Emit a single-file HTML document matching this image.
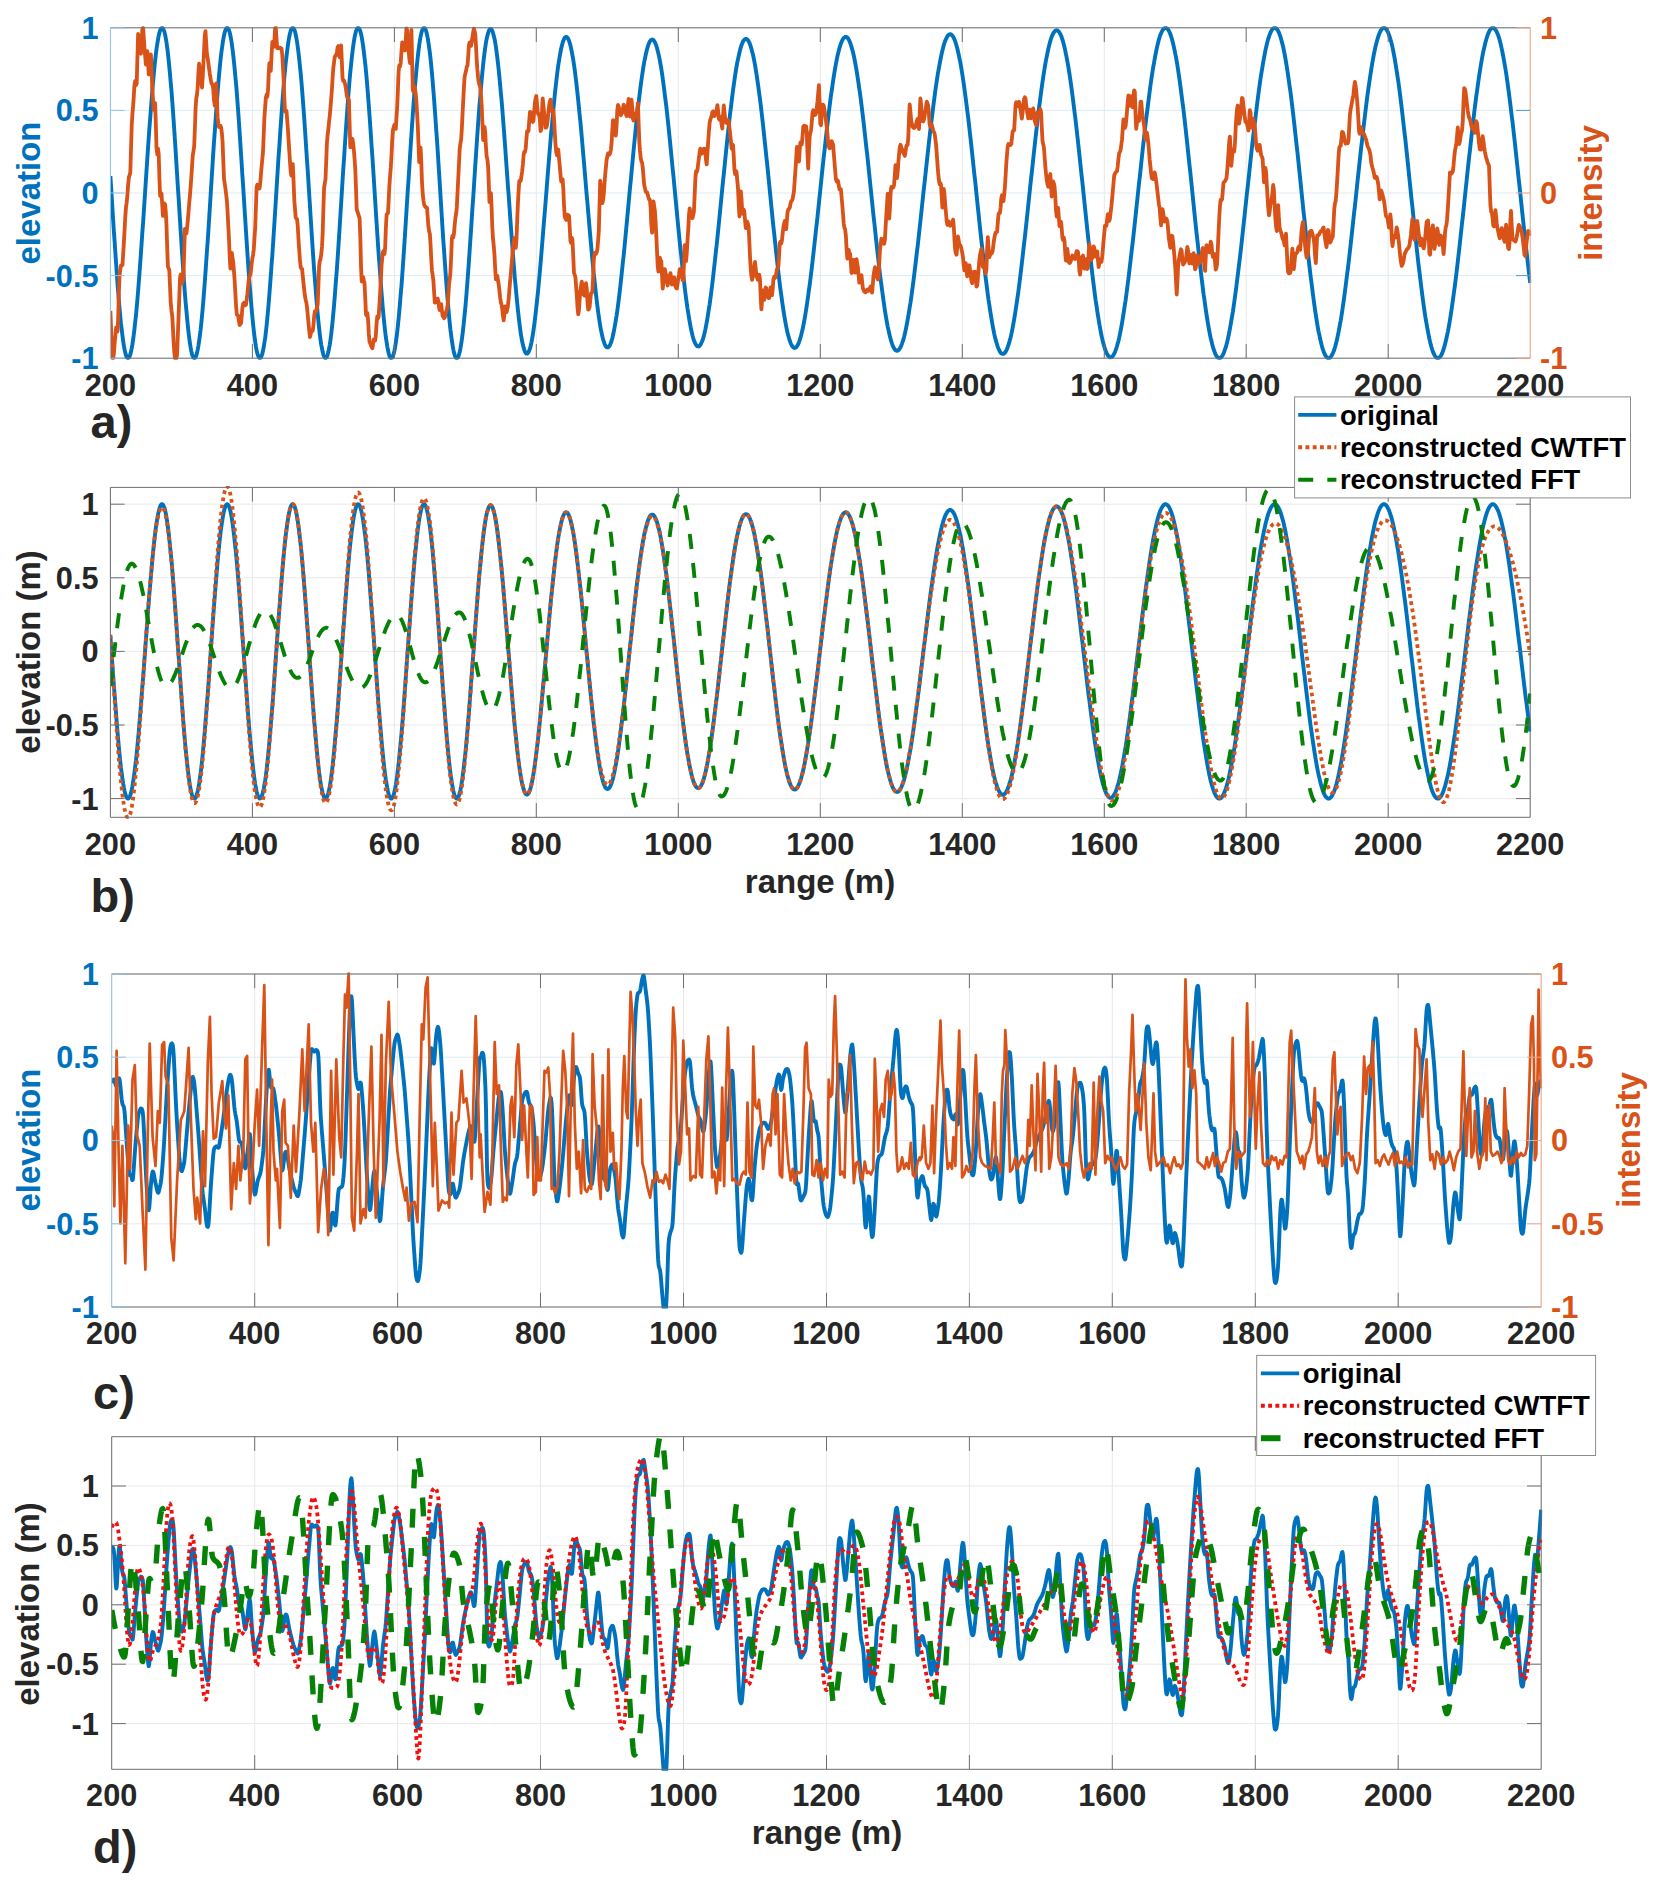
<!DOCTYPE html>
<html><head><meta charset="utf-8"><title>figure</title>
<style>html,body{margin:0;padding:0;background:#fff}svg{display:block}</style></head>
<body>
<svg width="1667" height="1882" viewBox="0 0 1667 1882">
<rect width="1667" height="1882" fill="#fff"/>
<defs>
<clipPath id="cla"><rect x="110.4" y="26.3" width="1420.8" height="333.4"/></clipPath>
<clipPath id="clb"><rect x="110.4" y="485.9" width="1420.8" height="332.9"/></clipPath>
<clipPath id="clc"><rect x="111.7" y="972.5" width="1430.5" height="336.0"/></clipPath>
<clipPath id="cld"><rect x="111.7" y="1435.2" width="1430.5" height="335.5999999999999"/></clipPath>
</defs>
<line x1="110.4" y1="27.8" x2="110.4" y2="358.2" stroke="#e8e8e8" stroke-width="1"/>
<line x1="252.4" y1="27.8" x2="252.4" y2="358.2" stroke="#e8e8e8" stroke-width="1"/>
<line x1="394.4" y1="27.8" x2="394.4" y2="358.2" stroke="#e8e8e8" stroke-width="1"/>
<line x1="536.3" y1="27.8" x2="536.3" y2="358.2" stroke="#e8e8e8" stroke-width="1"/>
<line x1="678.3" y1="27.8" x2="678.3" y2="358.2" stroke="#e8e8e8" stroke-width="1"/>
<line x1="820.3" y1="27.8" x2="820.3" y2="358.2" stroke="#e8e8e8" stroke-width="1"/>
<line x1="962.3" y1="27.8" x2="962.3" y2="358.2" stroke="#e8e8e8" stroke-width="1"/>
<line x1="1104.3" y1="27.8" x2="1104.3" y2="358.2" stroke="#e8e8e8" stroke-width="1"/>
<line x1="1246.2" y1="27.8" x2="1246.2" y2="358.2" stroke="#e8e8e8" stroke-width="1"/>
<line x1="1388.2" y1="27.8" x2="1388.2" y2="358.2" stroke="#e8e8e8" stroke-width="1"/>
<line x1="1530.2" y1="27.8" x2="1530.2" y2="358.2" stroke="#e8e8e8" stroke-width="1"/>
<line x1="110.4" y1="358.2" x2="1530.2" y2="358.2" stroke="#dcecf5" stroke-width="1"/>
<line x1="110.4" y1="275.6" x2="1530.2" y2="275.6" stroke="#dcecf5" stroke-width="1"/>
<line x1="110.4" y1="193.0" x2="1530.2" y2="193.0" stroke="#dcecf5" stroke-width="1"/>
<line x1="110.4" y1="110.4" x2="1530.2" y2="110.4" stroke="#dcecf5" stroke-width="1"/>
<line x1="110.4" y1="27.8" x2="1530.2" y2="27.8" stroke="#dcecf5" stroke-width="1"/>
<path d="M110.4 176.0 L111.1 187.2 L111.8 198.5 L112.5 209.7 L113.2 220.8 L113.9 231.8 L114.7 242.6 L115.4 253.2 L116.1 263.4 L116.8 273.4 L117.5 283.0 L118.2 292.1 L118.9 300.8 L119.6 309.0 L120.3 316.7 L121.0 323.8 L121.8 330.3 L122.5 336.1 L123.2 341.3 L123.9 345.9 L124.6 349.7 L125.3 352.9 L126.0 355.3 L126.7 357.0 L127.4 358.0 L128.1 358.2 L128.9 357.7 L129.6 356.4 L130.3 354.5 L131.0 351.8 L131.7 348.4 L132.4 344.4 L133.1 339.8 L133.8 334.5 L134.5 328.6 L135.2 322.1 L136.0 315.1 L136.7 307.5 L137.4 299.5 L138.1 291.1 L138.8 282.2 L139.5 273.0 L140.2 263.4 L140.9 253.6 L141.6 243.5 L142.3 233.2 L143.1 222.7 L143.8 212.1 L144.5 201.4 L145.2 190.7 L145.9 180.0 L146.6 169.4 L147.3 158.8 L148.0 148.4 L148.7 138.1 L149.4 128.1 L150.2 118.4 L150.9 108.9 L151.6 99.9 L152.3 91.1 L153.0 82.9 L153.7 75.0 L154.4 67.7 L155.1 60.9 L155.8 54.7 L156.5 49.0 L157.3 44.0 L158.0 39.6 L158.7 35.9 L159.4 32.8 L160.1 30.5 L160.8 28.9 L161.5 28.0 L162.2 27.8 L162.9 28.4 L163.6 29.8 L164.4 31.9 L165.1 34.7 L165.8 38.3 L166.5 42.6 L167.2 47.6 L167.9 53.3 L168.6 59.7 L169.3 66.7 L170.0 74.3 L170.7 82.4 L171.5 91.1 L172.2 100.3 L172.9 110.0 L173.6 120.0 L174.3 130.5 L175.0 141.2 L175.7 152.2 L176.4 163.3 L177.1 174.7 L177.8 186.1 L178.6 197.6 L179.3 209.0 L180.0 220.4 L180.7 231.6 L181.4 242.7 L182.1 253.5 L182.8 264.0 L183.5 274.2 L184.2 284.0 L184.9 293.4 L185.6 302.2 L186.4 310.5 L187.1 318.3 L187.8 325.4 L188.5 332.0 L189.2 337.8 L189.9 342.9 L190.6 347.4 L191.3 351.1 L192.0 354.0 L192.7 356.1 L193.5 357.5 L194.2 358.2 L194.9 358.0 L195.6 357.1 L196.3 355.4 L197.0 352.9 L197.7 349.7 L198.4 345.8 L199.1 341.2 L199.8 335.9 L200.6 329.9 L201.3 323.3 L202.0 316.1 L202.7 308.3 L203.4 300.0 L204.1 291.2 L204.8 281.9 L205.5 272.3 L206.2 262.2 L206.9 251.9 L207.7 241.3 L208.4 230.4 L209.1 219.4 L209.8 208.3 L210.5 197.1 L211.2 185.9 L211.9 174.7 L212.6 163.7 L213.3 152.7 L214.0 141.9 L214.8 131.4 L215.5 121.1 L216.2 111.2 L216.9 101.7 L217.6 92.6 L218.3 83.9 L219.0 75.7 L219.7 68.1 L220.4 61.1 L221.1 54.6 L221.9 48.8 L222.6 43.7 L223.3 39.2 L224.0 35.5 L224.7 32.5 L225.4 30.2 L226.1 28.7 L226.8 27.9 L227.5 27.9 L228.2 28.7 L229.0 30.2 L229.7 32.5 L230.4 35.5 L231.1 39.3 L231.8 43.7 L232.5 48.9 L233.2 54.7 L233.9 61.2 L234.6 68.3 L235.3 75.9 L236.1 84.2 L236.8 92.9 L237.5 102.1 L238.2 111.7 L238.9 121.7 L239.6 132.0 L240.3 142.6 L241.0 153.4 L241.7 164.4 L242.4 175.6 L243.2 186.8 L243.9 198.1 L244.6 209.3 L245.3 220.5 L246.0 231.5 L246.7 242.4 L247.4 253.0 L248.1 263.3 L248.8 273.4 L249.5 283.0 L250.3 292.2 L251.0 301.0 L251.7 309.3 L252.4 317.0 L253.1 324.1 L253.8 330.7 L254.5 336.6 L255.2 341.8 L255.9 346.3 L256.6 350.2 L257.3 353.3 L258.1 355.6 L258.8 357.2 L259.5 358.1 L260.2 358.1 L260.9 357.5 L261.6 356.0 L262.3 353.8 L263.0 350.8 L263.7 347.2 L264.4 342.8 L265.2 337.7 L265.9 331.9 L266.6 325.5 L267.3 318.5 L268.0 310.9 L268.7 302.8 L269.4 294.2 L270.1 285.1 L270.8 275.5 L271.5 265.6 L272.3 255.4 L273.0 244.8 L273.7 234.1 L274.4 223.1 L275.1 212.0 L275.8 200.8 L276.5 189.6 L277.2 178.3 L277.9 167.2 L278.6 156.2 L279.4 145.3 L280.1 134.7 L280.8 124.3 L281.5 114.3 L282.2 104.6 L282.9 95.3 L283.6 86.5 L284.3 78.2 L285.0 70.4 L285.7 63.1 L286.5 56.5 L287.2 50.5 L287.9 45.1 L288.6 40.5 L289.3 36.5 L290.0 33.3 L290.7 30.8 L291.4 29.0 L292.1 28.0 L292.8 27.8 L293.6 28.3 L294.3 29.6 L295.0 31.7 L295.7 34.5 L296.4 38.0 L297.1 42.3 L297.8 47.2 L298.5 52.8 L299.2 59.1 L299.9 65.9 L300.7 73.4 L301.4 81.4 L302.1 89.9 L302.8 99.0 L303.5 108.4 L304.2 118.2 L304.9 128.4 L305.6 138.9 L306.3 149.6 L307.0 160.5 L307.8 171.6 L308.5 182.8 L309.2 194.0 L309.9 205.2 L310.6 216.4 L311.3 227.4 L312.0 238.3 L312.7 249.0 L313.4 259.4 L314.1 269.5 L314.9 279.3 L315.6 288.7 L316.3 297.6 L317.0 306.1 L317.7 314.0 L318.4 321.4 L319.1 328.1 L319.8 334.3 L320.5 339.8 L321.2 344.6 L322.0 348.7 L322.7 352.1 L323.4 354.8 L324.1 356.7 L324.8 357.8 L325.5 358.2 L326.2 357.8 L326.9 356.7 L327.6 354.8 L328.3 352.1 L329.0 348.7 L329.8 344.5 L330.5 339.7 L331.2 334.2 L331.9 328.0 L332.6 321.2 L333.3 313.7 L334.0 305.8 L334.7 297.2 L335.4 288.2 L336.1 278.8 L336.9 268.9 L337.6 258.7 L338.3 248.2 L339.0 237.4 L339.7 226.4 L340.4 215.3 L341.1 204.0 L341.8 192.7 L342.5 181.4 L343.2 170.2 L344.0 159.1 L344.7 148.1 L345.4 137.3 L346.1 126.8 L346.8 116.6 L347.5 106.8 L348.2 97.4 L348.9 88.4 L349.6 79.9 L350.3 72.0 L351.1 64.6 L351.8 57.8 L352.5 51.7 L353.2 46.2 L353.9 41.4 L354.6 37.2 L355.3 33.9 L356.0 31.2 L356.7 29.3 L357.4 28.2 L358.2 27.8 L358.9 28.2 L359.6 29.3 L360.3 31.2 L361.0 33.8 L361.7 37.2 L362.4 41.2 L363.1 46.0 L363.8 51.4 L364.5 57.5 L365.3 64.2 L366.0 71.4 L366.7 79.2 L367.4 87.6 L368.1 96.4 L368.8 105.6 L369.5 115.2 L370.2 125.2 L370.9 135.5 L371.6 146.0 L372.4 156.8 L373.1 167.7 L373.8 178.7 L374.5 189.8 L375.2 200.9 L375.9 212.0 L376.6 223.0 L377.3 233.8 L378.0 244.5 L378.7 254.9 L379.5 265.1 L380.2 274.9 L380.9 284.3 L381.6 293.4 L382.3 302.0 L383.0 310.1 L383.7 317.7 L384.4 324.7 L385.1 331.1 L385.8 336.9 L386.6 342.0 L387.3 346.5 L388.0 350.3 L388.7 353.3 L389.4 355.7 L390.1 357.2 L390.8 358.1 L391.5 358.1 L392.2 357.5 L392.9 356.0 L393.7 353.8 L394.4 350.9 L395.1 347.3 L395.8 342.9 L396.5 337.8 L397.2 332.1 L397.9 325.8 L398.6 318.8 L399.3 311.2 L400.0 303.1 L400.7 294.5 L401.5 285.4 L402.2 275.9 L402.9 266.0 L403.6 255.8 L404.3 245.3 L405.0 234.5 L405.7 223.5 L406.4 212.4 L407.1 201.2 L407.8 190.0 L408.6 178.8 L409.3 167.6 L410.0 156.5 L410.7 145.7 L411.4 135.0 L412.1 124.6 L412.8 114.5 L413.5 104.8 L414.2 95.5 L414.9 86.7 L415.7 78.3 L416.4 70.5 L417.1 63.2 L417.8 56.6 L418.5 50.6 L419.2 45.2 L419.9 40.5 L420.6 36.5 L421.3 33.3 L422.0 30.8 L422.8 29.0 L423.5 28.0 L424.2 27.8 L424.9 28.4 L425.6 29.7 L426.3 31.7 L427.0 34.5 L427.7 38.1 L428.4 42.4 L429.1 47.3 L429.9 53.0 L430.6 59.3 L431.3 66.3 L432.0 73.8 L432.7 82.0 L433.4 90.6 L434.1 99.7 L434.8 109.3 L435.5 119.2 L436.2 129.5 L437.0 140.1 L437.7 150.9 L438.4 162.0 L439.1 173.2 L439.8 184.4 L440.5 195.7 L441.2 207.0 L441.9 218.2 L442.6 229.3 L443.3 240.3 L444.1 250.9 L444.8 261.4 L445.5 271.5 L446.2 281.2 L446.9 290.5 L447.6 299.3 L448.3 307.7 L449.0 315.5 L449.7 322.7 L450.4 329.4 L451.2 335.4 L451.9 340.7 L452.6 345.4 L453.3 349.3 L454.0 352.6 L454.7 355.1 L455.4 356.9 L456.1 357.9 L456.8 358.2 L457.5 357.8 L458.3 356.6 L459.0 354.7 L459.7 352.0 L460.4 348.7 L461.1 344.6 L461.8 339.9 L462.5 334.5 L463.2 328.5 L463.9 321.9 L464.6 314.7 L465.4 306.9 L466.1 298.7 L466.8 290.0 L467.5 280.9 L468.2 271.3 L468.9 261.5 L469.6 251.3 L470.3 240.9 L471.0 230.3 L471.7 219.6 L472.4 208.7 L473.2 197.8 L473.9 186.9 L474.6 176.0 L475.3 165.2 L476.0 154.6 L476.7 144.1 L477.4 133.9 L478.1 123.9 L478.8 114.3 L479.5 105.0 L480.3 96.1 L481.0 87.6 L481.7 79.6 L482.4 72.1 L483.1 65.1 L483.8 58.7 L484.5 52.9 L485.2 47.7 L485.9 43.0 L486.6 39.1 L487.4 35.7 L488.1 33.1 L488.8 31.0 L489.5 29.7 L490.2 29.0 L490.9 29.0 L491.6 29.6 L492.3 30.9 L493.0 32.9 L493.7 35.5 L494.5 38.7 L495.2 42.5 L495.9 46.9 L496.6 51.9 L497.3 57.4 L498.0 63.5 L498.7 70.0 L499.4 77.1 L500.1 84.5 L500.8 92.4 L501.6 100.6 L502.3 109.2 L503.0 118.1 L503.7 127.2 L504.4 136.6 L505.1 146.2 L505.8 155.9 L506.5 165.8 L507.2 175.7 L507.9 185.7 L508.7 195.7 L509.4 205.7 L510.1 215.6 L510.8 225.4 L511.5 235.0 L512.2 244.5 L512.9 253.7 L513.6 262.7 L514.3 271.5 L515.0 279.9 L515.8 288.0 L516.5 295.7 L517.2 303.0 L517.9 309.9 L518.6 316.3 L519.3 322.3 L520.0 327.8 L520.7 332.9 L521.4 337.3 L522.1 341.3 L522.9 344.7 L523.6 347.6 L524.3 349.9 L525.0 351.7 L525.7 352.9 L526.4 353.6 L527.1 353.6 L527.8 353.1 L528.5 352.1 L529.2 350.5 L530.0 348.4 L530.7 345.7 L531.4 342.6 L532.1 338.9 L532.8 334.8 L533.5 330.1 L534.2 325.1 L534.9 319.6 L535.6 313.7 L536.3 307.4 L537.0 300.7 L537.8 293.7 L538.5 286.4 L539.2 278.8 L539.9 271.0 L540.6 262.9 L541.3 254.6 L542.0 246.1 L542.7 237.5 L543.4 228.7 L544.1 219.9 L544.9 210.9 L545.6 202.0 L546.3 193.0 L547.0 184.1 L547.7 175.2 L548.4 166.4 L549.1 157.7 L549.8 149.1 L550.5 140.7 L551.2 132.4 L552.0 124.4 L552.7 116.6 L553.4 109.1 L554.1 101.8 L554.8 94.8 L555.5 88.2 L556.2 81.9 L556.9 75.9 L557.6 70.3 L558.3 65.1 L559.1 60.3 L559.8 56.0 L560.5 52.0 L561.2 48.5 L561.9 45.5 L562.6 42.9 L563.3 40.7 L564.0 39.1 L564.7 37.9 L565.4 37.1 L566.2 36.9 L566.9 37.1 L567.6 37.8 L568.3 39.0 L569.0 40.7 L569.7 42.8 L570.4 45.3 L571.1 48.4 L571.8 51.8 L572.5 55.7 L573.3 60.0 L574.0 64.7 L574.7 69.7 L575.4 75.2 L576.1 80.9 L576.8 87.1 L577.5 93.5 L578.2 100.2 L578.9 107.2 L579.6 114.4 L580.4 121.9 L581.1 129.5 L581.8 137.4 L582.5 145.4 L583.2 153.5 L583.9 161.7 L584.6 170.0 L585.3 178.4 L586.0 186.8 L586.7 195.2 L587.5 203.6 L588.2 212.0 L588.9 220.2 L589.6 228.4 L590.3 236.5 L591.0 244.4 L591.7 252.2 L592.4 259.8 L593.1 267.2 L593.8 274.3 L594.6 281.2 L595.3 287.9 L596.0 294.3 L596.7 300.3 L597.4 306.1 L598.1 311.5 L598.8 316.6 L599.5 321.3 L600.2 325.7 L600.9 329.7 L601.7 333.3 L602.4 336.5 L603.1 339.3 L603.8 341.7 L604.5 343.7 L605.2 345.2 L605.9 346.4 L606.6 347.1 L607.3 347.4 L608.0 347.3 L608.7 346.8 L609.5 345.9 L610.2 344.6 L610.9 342.8 L611.6 340.7 L612.3 338.2 L613.0 335.3 L613.7 332.0 L614.4 328.4 L615.1 324.5 L615.8 320.2 L616.6 315.6 L617.3 310.7 L618.0 305.5 L618.7 300.0 L619.4 294.2 L620.1 288.2 L620.8 282.0 L621.5 275.5 L622.2 268.9 L622.9 262.1 L623.7 255.1 L624.4 247.9 L625.1 240.7 L625.8 233.3 L626.5 225.8 L627.2 218.3 L627.9 210.7 L628.6 203.1 L629.3 195.5 L630.0 187.8 L630.8 180.2 L631.5 172.6 L632.2 165.1 L632.9 157.7 L633.6 150.3 L634.3 143.1 L635.0 136.0 L635.7 129.0 L636.4 122.2 L637.1 115.6 L637.9 109.1 L638.6 102.9 L639.3 96.9 L640.0 91.1 L640.7 85.6 L641.4 80.4 L642.1 75.4 L642.8 70.7 L643.5 66.3 L644.2 62.2 L645.0 58.4 L645.7 54.9 L646.4 51.8 L647.1 49.0 L647.8 46.6 L648.5 44.5 L649.2 42.8 L649.9 41.4 L650.6 40.4 L651.3 39.8 L652.1 39.5 L652.8 39.6 L653.5 40.1 L654.2 41.0 L654.9 42.2 L655.6 43.8 L656.3 45.7 L657.0 48.0 L657.7 50.7 L658.4 53.6 L659.2 57.0 L659.9 60.6 L660.6 64.6 L661.3 68.8 L662.0 73.4 L662.7 78.2 L663.4 83.4 L664.1 88.7 L664.8 94.4 L665.5 100.2 L666.3 106.3 L667.0 112.6 L667.7 119.1 L668.4 125.7 L669.1 132.5 L669.8 139.4 L670.5 146.5 L671.2 153.7 L671.9 160.9 L672.6 168.3 L673.4 175.7 L674.1 183.1 L674.8 190.5 L675.5 198.0 L676.2 205.4 L676.9 212.8 L677.6 220.1 L678.3 227.4 L679.0 234.6 L679.7 241.7 L680.4 248.7 L681.2 255.5 L681.9 262.2 L682.6 268.7 L683.3 275.1 L684.0 281.3 L684.7 287.2 L685.4 292.9 L686.1 298.4 L686.8 303.6 L687.5 308.6 L688.3 313.3 L689.0 317.8 L689.7 321.9 L690.4 325.8 L691.1 329.3 L691.8 332.5 L692.5 335.4 L693.2 338.0 L693.9 340.2 L694.6 342.1 L695.4 343.7 L696.1 344.9 L696.8 345.8 L697.5 346.3 L698.2 346.5 L698.9 346.3 L699.6 345.8 L700.3 344.9 L701.0 343.7 L701.7 342.2 L702.5 340.3 L703.2 338.1 L703.9 335.6 L704.6 332.7 L705.3 329.6 L706.0 326.1 L706.7 322.3 L707.4 318.3 L708.1 314.0 L708.8 309.4 L709.6 304.6 L710.3 299.5 L711.0 294.2 L711.7 288.6 L712.4 282.9 L713.1 277.0 L713.8 270.8 L714.5 264.5 L715.2 258.1 L715.9 251.5 L716.7 244.8 L717.4 238.0 L718.1 231.1 L718.8 224.1 L719.5 217.0 L720.2 209.9 L720.9 202.7 L721.6 195.6 L722.3 188.4 L723.0 181.2 L723.8 174.1 L724.5 167.0 L725.2 160.0 L725.9 153.0 L726.6 146.2 L727.3 139.4 L728.0 132.7 L728.7 126.2 L729.4 119.9 L730.1 113.6 L730.9 107.6 L731.6 101.7 L732.3 96.1 L733.0 90.6 L733.7 85.4 L734.4 80.4 L735.1 75.6 L735.8 71.1 L736.5 66.9 L737.2 62.9 L738.0 59.2 L738.7 55.8 L739.4 52.7 L740.1 49.9 L740.8 47.4 L741.5 45.2 L742.2 43.4 L742.9 41.8 L743.6 40.6 L744.3 39.7 L745.1 39.1 L745.8 38.9 L746.5 39.0 L747.2 39.4 L747.9 40.1 L748.6 41.2 L749.3 42.6 L750.0 44.3 L750.7 46.4 L751.4 48.7 L752.1 51.4 L752.9 54.3 L753.6 57.6 L754.3 61.2 L755.0 65.0 L755.7 69.1 L756.4 73.5 L757.1 78.1 L757.8 83.0 L758.5 88.1 L759.2 93.4 L760.0 99.0 L760.7 104.7 L761.4 110.7 L762.1 116.8 L762.8 123.0 L763.5 129.5 L764.2 136.0 L764.9 142.7 L765.6 149.4 L766.3 156.3 L767.1 163.3 L767.8 170.3 L768.5 177.3 L769.2 184.4 L769.9 191.5 L770.6 198.6 L771.3 205.7 L772.0 212.7 L772.7 219.7 L773.4 226.7 L774.2 233.6 L774.9 240.4 L775.6 247.0 L776.3 253.6 L777.0 260.1 L777.7 266.4 L778.4 272.5 L779.1 278.5 L779.8 284.3 L780.5 289.9 L781.3 295.3 L782.0 300.4 L782.7 305.4 L783.4 310.1 L784.1 314.6 L784.8 318.8 L785.5 322.8 L786.2 326.5 L786.9 329.9 L787.6 333.0 L788.4 335.9 L789.1 338.4 L789.8 340.7 L790.5 342.7 L791.2 344.3 L791.9 345.7 L792.6 346.7 L793.3 347.4 L794.0 347.8 L794.7 348.0 L795.5 347.7 L796.2 347.2 L796.9 346.4 L797.6 345.3 L798.3 343.9 L799.0 342.2 L799.7 340.1 L800.4 337.9 L801.1 335.3 L801.8 332.4 L802.6 329.3 L803.3 325.9 L804.0 322.2 L804.7 318.4 L805.4 314.2 L806.1 309.8 L806.8 305.3 L807.5 300.5 L808.2 295.4 L808.9 290.2 L809.7 284.9 L810.4 279.3 L811.1 273.6 L811.8 267.7 L812.5 261.7 L813.2 255.5 L813.9 249.3 L814.6 242.9 L815.3 236.5 L816.0 229.9 L816.8 223.3 L817.5 216.6 L818.2 209.9 L818.9 203.2 L819.6 196.5 L820.3 189.7 L821.0 182.9 L821.7 176.2 L822.4 169.5 L823.1 162.9 L823.8 156.3 L824.6 149.7 L825.3 143.3 L826.0 136.9 L826.7 130.7 L827.4 124.6 L828.1 118.6 L828.8 112.7 L829.5 107.0 L830.2 101.4 L830.9 96.0 L831.7 90.8 L832.4 85.8 L833.1 81.0 L833.8 76.4 L834.5 72.0 L835.2 67.9 L835.9 64.0 L836.6 60.3 L837.3 56.8 L838.0 53.7 L838.8 50.7 L839.5 48.1 L840.2 45.7 L840.9 43.6 L841.6 41.8 L842.3 40.2 L843.0 39.0 L843.7 38.0 L844.4 37.4 L845.1 37.0 L845.9 36.9 L846.6 37.1 L847.3 37.6 L848.0 38.4 L848.7 39.5 L849.4 40.9 L850.1 42.6 L850.8 44.6 L851.5 46.9 L852.2 49.4 L853.0 52.2 L853.7 55.3 L854.4 58.6 L855.1 62.2 L855.8 66.1 L856.5 70.2 L857.2 74.5 L857.9 79.1 L858.6 83.8 L859.3 88.8 L860.1 94.0 L860.8 99.4 L861.5 105.0 L862.2 110.7 L862.9 116.6 L863.6 122.6 L864.3 128.8 L865.0 135.1 L865.7 141.5 L866.4 148.0 L867.2 154.6 L867.9 161.2 L868.6 168.0 L869.3 174.7 L870.0 181.6 L870.7 188.4 L871.4 195.2 L872.1 202.1 L872.8 208.9 L873.5 215.7 L874.3 222.4 L875.0 229.1 L875.7 235.8 L876.4 242.3 L877.1 248.8 L877.8 255.1 L878.5 261.3 L879.2 267.4 L879.9 273.4 L880.6 279.2 L881.4 284.8 L882.1 290.3 L882.8 295.6 L883.5 300.6 L884.2 305.5 L884.9 310.2 L885.6 314.7 L886.3 318.9 L887.0 322.9 L887.7 326.6 L888.5 330.1 L889.2 333.3 L889.9 336.3 L890.6 339.0 L891.3 341.4 L892.0 343.6 L892.7 345.5 L893.4 347.1 L894.1 348.4 L894.8 349.4 L895.5 350.2 L896.3 350.6 L897.0 350.8 L897.7 350.6 L898.4 350.2 L899.1 349.5 L899.8 348.5 L900.5 347.3 L901.2 345.7 L901.9 343.9 L902.6 341.8 L903.4 339.5 L904.1 336.9 L904.8 334.0 L905.5 330.9 L906.2 327.5 L906.9 323.9 L907.6 320.1 L908.3 316.0 L909.0 311.7 L909.7 307.2 L910.5 302.5 L911.2 297.7 L911.9 292.6 L912.6 287.4 L913.3 282.0 L914.0 276.4 L914.7 270.7 L915.4 264.9 L916.1 258.9 L916.8 252.8 L917.6 246.7 L918.3 240.4 L919.0 234.0 L919.7 227.6 L920.4 221.1 L921.1 214.6 L921.8 208.0 L922.5 201.4 L923.2 194.8 L923.9 188.2 L924.7 181.6 L925.4 175.0 L926.1 168.5 L926.8 162.0 L927.5 155.5 L928.2 149.1 L928.9 142.8 L929.6 136.6 L930.3 130.5 L931.0 124.4 L931.8 118.5 L932.5 112.8 L933.2 107.1 L933.9 101.6 L934.6 96.3 L935.3 91.1 L936.0 86.1 L936.7 81.3 L937.4 76.7 L938.1 72.3 L938.9 68.1 L939.6 64.1 L940.3 60.4 L941.0 56.8 L941.7 53.5 L942.4 50.5 L943.1 47.7 L943.8 45.1 L944.5 42.8 L945.2 40.8 L946.0 39.1 L946.7 37.6 L947.4 36.3 L948.1 35.4 L948.8 34.7 L949.5 34.4 L950.2 34.2 L950.9 34.4 L951.6 34.9 L952.3 35.6 L953.1 36.7 L953.8 38.0 L954.5 39.5 L955.2 41.4 L955.9 43.5 L956.6 45.9 L957.3 48.6 L958.0 51.5 L958.7 54.7 L959.4 58.1 L960.2 61.8 L960.9 65.7 L961.6 69.8 L962.3 74.2 L963.0 78.8 L963.7 83.5 L964.4 88.5 L965.1 93.7 L965.8 99.1 L966.5 104.6 L967.2 110.3 L968.0 116.1 L968.7 122.1 L969.4 128.3 L970.1 134.5 L970.8 140.8 L971.5 147.3 L972.2 153.8 L972.9 160.4 L973.6 167.1 L974.3 173.8 L975.1 180.5 L975.8 187.3 L976.5 194.1 L977.2 200.9 L977.9 207.7 L978.6 214.4 L979.3 221.1 L980.0 227.8 L980.7 234.4 L981.4 240.9 L982.2 247.4 L982.9 253.7 L983.6 259.9 L984.3 266.1 L985.0 272.1 L985.7 277.9 L986.4 283.6 L987.1 289.1 L987.8 294.5 L988.5 299.7 L989.3 304.7 L990.0 309.5 L990.7 314.0 L991.4 318.4 L992.1 322.5 L992.8 326.5 L993.5 330.1 L994.2 333.6 L994.9 336.7 L995.6 339.6 L996.4 342.3 L997.1 344.7 L997.8 346.8 L998.5 348.7 L999.2 350.2 L999.9 351.5 L1000.6 352.6 L1001.3 353.3 L1002.0 353.7 L1002.7 353.9 L1003.5 353.8 L1004.2 353.4 L1004.9 352.7 L1005.6 351.8 L1006.3 350.5 L1007.0 349.0 L1007.7 347.2 L1008.4 345.2 L1009.1 342.9 L1009.8 340.3 L1010.6 337.5 L1011.3 334.4 L1012.0 331.1 L1012.7 327.5 L1013.4 323.7 L1014.1 319.7 L1014.8 315.4 L1015.5 311.0 L1016.2 306.3 L1016.9 301.5 L1017.7 296.4 L1018.4 291.2 L1019.1 285.8 L1019.8 280.3 L1020.5 274.6 L1021.2 268.7 L1021.9 262.8 L1022.6 256.7 L1023.3 250.5 L1024.0 244.2 L1024.8 237.8 L1025.5 231.3 L1026.2 224.8 L1026.9 218.2 L1027.6 211.6 L1028.3 204.9 L1029.0 198.3 L1029.7 191.6 L1030.4 184.9 L1031.1 178.2 L1031.9 171.5 L1032.6 164.9 L1033.3 158.4 L1034.0 151.9 L1034.7 145.4 L1035.4 139.0 L1036.1 132.8 L1036.8 126.6 L1037.5 120.5 L1038.2 114.6 L1038.9 108.8 L1039.7 103.1 L1040.4 97.6 L1041.1 92.3 L1041.8 87.1 L1042.5 82.1 L1043.2 77.3 L1043.9 72.7 L1044.6 68.3 L1045.3 64.1 L1046.0 60.1 L1046.8 56.3 L1047.5 52.8 L1048.2 49.5 L1048.9 46.5 L1049.6 43.7 L1050.3 41.1 L1051.0 38.8 L1051.7 36.8 L1052.4 35.1 L1053.1 33.6 L1053.9 32.4 L1054.6 31.4 L1055.3 30.8 L1056.0 30.4 L1056.7 30.3 L1057.4 30.5 L1058.1 30.9 L1058.8 31.6 L1059.5 32.6 L1060.2 33.9 L1061.0 35.5 L1061.7 37.3 L1062.4 39.4 L1063.1 41.8 L1063.8 44.4 L1064.5 47.3 L1065.2 50.4 L1065.9 53.8 L1066.6 57.4 L1067.3 61.2 L1068.1 65.3 L1068.8 69.6 L1069.5 74.1 L1070.2 78.8 L1070.9 83.7 L1071.6 88.8 L1072.3 94.1 L1073.0 99.6 L1073.7 105.2 L1074.4 111.0 L1075.2 116.9 L1075.9 122.9 L1076.6 129.1 L1077.3 135.4 L1078.0 141.8 L1078.7 148.2 L1079.4 154.8 L1080.1 161.4 L1080.8 168.1 L1081.5 174.8 L1082.3 181.5 L1083.0 188.3 L1083.7 195.1 L1084.4 201.8 L1085.1 208.6 L1085.8 215.3 L1086.5 222.0 L1087.2 228.7 L1087.9 235.3 L1088.6 241.8 L1089.4 248.2 L1090.1 254.5 L1090.8 260.8 L1091.5 266.9 L1092.2 272.9 L1092.9 278.7 L1093.6 284.5 L1094.3 290.0 L1095.0 295.4 L1095.7 300.6 L1096.5 305.6 L1097.2 310.5 L1097.9 315.1 L1098.6 319.5 L1099.3 323.7 L1100.0 327.7 L1100.7 331.5 L1101.4 335.0 L1102.1 338.3 L1102.8 341.3 L1103.6 344.1 L1104.3 346.6 L1105.0 348.9 L1105.7 350.9 L1106.4 352.7 L1107.1 354.1 L1107.8 355.3 L1108.5 356.2 L1109.2 356.9 L1109.9 357.3 L1110.6 357.4 L1111.4 357.2 L1112.1 356.7 L1112.8 356.0 L1113.5 355.0 L1114.2 353.7 L1114.9 352.2 L1115.6 350.4 L1116.3 348.4 L1117.0 346.1 L1117.7 343.5 L1118.5 340.7 L1119.2 337.6 L1119.9 334.3 L1120.6 330.8 L1121.3 327.1 L1122.0 323.1 L1122.7 318.9 L1123.4 314.5 L1124.1 309.9 L1124.8 305.2 L1125.6 300.2 L1126.3 295.1 L1127.0 289.8 L1127.7 284.3 L1128.4 278.7 L1129.1 273.0 L1129.8 267.1 L1130.5 261.1 L1131.2 255.0 L1131.9 248.8 L1132.7 242.5 L1133.4 236.1 L1134.1 229.7 L1134.8 223.2 L1135.5 216.6 L1136.2 210.0 L1136.9 203.4 L1137.6 196.7 L1138.3 190.1 L1139.0 183.4 L1139.8 176.8 L1140.5 170.2 L1141.2 163.6 L1141.9 157.1 L1142.6 150.6 L1143.3 144.2 L1144.0 137.9 L1144.7 131.7 L1145.4 125.5 L1146.1 119.5 L1146.9 113.6 L1147.6 107.8 L1148.3 102.2 L1149.0 96.7 L1149.7 91.3 L1150.4 86.1 L1151.1 81.1 L1151.8 76.3 L1152.5 71.7 L1153.2 67.2 L1154.0 63.0 L1154.7 58.9 L1155.4 55.1 L1156.1 51.6 L1156.8 48.2 L1157.5 45.1 L1158.2 42.2 L1158.9 39.6 L1159.6 37.2 L1160.3 35.1 L1161.1 33.3 L1161.8 31.7 L1162.5 30.4 L1163.2 29.3 L1163.9 28.5 L1164.6 28.0 L1165.3 27.8 L1166.0 27.9 L1166.7 28.2 L1167.4 28.8 L1168.2 29.7 L1168.9 30.9 L1169.6 32.3 L1170.3 34.0 L1171.0 36.0 L1171.7 38.3 L1172.4 40.8 L1173.1 43.6 L1173.8 46.6 L1174.5 49.9 L1175.2 53.5 L1176.0 57.2 L1176.7 61.3 L1177.4 65.5 L1178.1 70.0 L1178.8 74.7 L1179.5 79.5 L1180.2 84.6 L1180.9 89.9 L1181.6 95.4 L1182.3 101.0 L1183.1 106.8 L1183.8 112.7 L1184.5 118.8 L1185.2 125.0 L1185.9 131.4 L1186.6 137.8 L1187.3 144.3 L1188.0 151.0 L1188.7 157.7 L1189.4 164.4 L1190.2 171.2 L1190.9 178.1 L1191.6 184.9 L1192.3 191.8 L1193.0 198.7 L1193.7 205.6 L1194.4 212.5 L1195.1 219.3 L1195.8 226.0 L1196.5 232.8 L1197.3 239.4 L1198.0 246.0 L1198.7 252.4 L1199.4 258.8 L1200.1 265.1 L1200.8 271.2 L1201.5 277.2 L1202.2 283.0 L1202.9 288.7 L1203.6 294.2 L1204.4 299.5 L1205.1 304.7 L1205.8 309.6 L1206.5 314.4 L1207.2 318.9 L1207.9 323.2 L1208.6 327.3 L1209.3 331.2 L1210.0 334.8 L1210.7 338.2 L1211.5 341.3 L1212.2 344.2 L1212.9 346.8 L1213.6 349.2 L1214.3 351.2 L1215.0 353.1 L1215.7 354.6 L1216.4 355.9 L1217.1 356.9 L1217.8 357.6 L1218.6 358.0 L1219.3 358.2 L1220.0 358.1 L1220.7 357.7 L1221.4 357.0 L1222.1 356.1 L1222.8 354.9 L1223.5 353.5 L1224.2 351.7 L1224.9 349.7 L1225.7 347.5 L1226.4 345.0 L1227.1 342.3 L1227.8 339.3 L1228.5 336.1 L1229.2 332.6 L1229.9 328.9 L1230.6 325.0 L1231.3 320.9 L1232.0 316.6 L1232.8 312.1 L1233.5 307.4 L1234.2 302.5 L1234.9 297.5 L1235.6 292.2 L1236.3 286.9 L1237.0 281.3 L1237.7 275.7 L1238.4 269.9 L1239.1 264.0 L1239.9 257.9 L1240.6 251.8 L1241.3 245.6 L1242.0 239.3 L1242.7 232.9 L1243.4 226.4 L1244.1 219.9 L1244.8 213.4 L1245.5 206.8 L1246.2 200.2 L1246.9 193.6 L1247.7 187.0 L1248.4 180.4 L1249.1 173.8 L1249.8 167.3 L1250.5 160.8 L1251.2 154.3 L1251.9 147.9 L1252.6 141.6 L1253.3 135.4 L1254.0 129.2 L1254.8 123.2 L1255.5 117.2 L1256.2 111.4 L1256.9 105.7 L1257.6 100.2 L1258.3 94.8 L1259.0 89.5 L1259.7 84.4 L1260.4 79.5 L1261.1 74.8 L1261.9 70.2 L1262.6 65.9 L1263.3 61.7 L1264.0 57.8 L1264.7 54.1 L1265.4 50.6 L1266.1 47.3 L1266.8 44.3 L1267.5 41.5 L1268.2 39.0 L1269.0 36.7 L1269.7 34.6 L1270.4 32.9 L1271.1 31.4 L1271.8 30.1 L1272.5 29.1 L1273.2 28.4 L1273.9 28.0 L1274.6 27.8 L1275.3 27.9 L1276.1 28.3 L1276.8 29.0 L1277.5 29.9 L1278.2 31.1 L1278.9 32.6 L1279.6 34.4 L1280.3 36.4 L1281.0 38.7 L1281.7 41.2 L1282.4 44.1 L1283.2 47.1 L1283.9 50.5 L1284.6 54.0 L1285.3 57.8 L1286.0 61.9 L1286.7 66.2 L1287.4 70.7 L1288.1 75.4 L1288.8 80.3 L1289.5 85.4 L1290.3 90.7 L1291.0 96.1 L1291.7 101.8 L1292.4 107.6 L1293.1 113.5 L1293.8 119.6 L1294.5 125.8 L1295.2 132.2 L1295.9 138.6 L1296.6 145.2 L1297.4 151.8 L1298.1 158.5 L1298.8 165.3 L1299.5 172.1 L1300.2 178.9 L1300.9 185.8 L1301.6 192.7 L1302.3 199.5 L1303.0 206.4 L1303.7 213.3 L1304.5 220.1 L1305.2 226.8 L1305.9 233.5 L1306.6 240.2 L1307.3 246.7 L1308.0 253.2 L1308.7 259.5 L1309.4 265.8 L1310.1 271.9 L1310.8 277.8 L1311.6 283.6 L1312.3 289.3 L1313.0 294.8 L1313.7 300.1 L1314.4 305.2 L1315.1 310.2 L1315.8 314.9 L1316.5 319.4 L1317.2 323.7 L1317.9 327.8 L1318.6 331.6 L1319.4 335.2 L1320.1 338.5 L1320.8 341.6 L1321.5 344.5 L1322.2 347.1 L1322.9 349.4 L1323.6 351.5 L1324.3 353.2 L1325.0 354.8 L1325.7 356.0 L1326.5 357.0 L1327.2 357.6 L1327.9 358.1 L1328.6 358.2 L1329.3 358.1 L1330.0 357.7 L1330.7 357.0 L1331.4 356.0 L1332.1 354.8 L1332.8 353.3 L1333.6 351.5 L1334.3 349.5 L1335.0 347.3 L1335.7 344.7 L1336.4 342.0 L1337.1 339.0 L1337.8 335.7 L1338.5 332.3 L1339.2 328.6 L1339.9 324.7 L1340.7 320.5 L1341.4 316.2 L1342.1 311.7 L1342.8 307.0 L1343.5 302.1 L1344.2 297.0 L1344.9 291.8 L1345.6 286.4 L1346.3 280.8 L1347.0 275.1 L1347.8 269.3 L1348.5 263.4 L1349.2 257.4 L1349.9 251.2 L1350.6 245.0 L1351.3 238.7 L1352.0 232.3 L1352.7 225.8 L1353.4 219.3 L1354.1 212.8 L1354.9 206.2 L1355.6 199.6 L1356.3 193.0 L1357.0 186.4 L1357.7 179.8 L1358.4 173.2 L1359.1 166.7 L1359.8 160.2 L1360.5 153.7 L1361.2 147.3 L1362.0 141.0 L1362.7 134.8 L1363.4 128.6 L1364.1 122.6 L1364.8 116.7 L1365.5 110.9 L1366.2 105.2 L1366.9 99.6 L1367.6 94.2 L1368.3 89.0 L1369.1 83.9 L1369.8 79.0 L1370.5 74.3 L1371.2 69.8 L1371.9 65.5 L1372.6 61.3 L1373.3 57.4 L1374.0 53.7 L1374.7 50.3 L1375.4 47.0 L1376.2 44.0 L1376.9 41.3 L1377.6 38.7 L1378.3 36.5 L1379.0 34.5 L1379.7 32.7 L1380.4 31.2 L1381.1 30.0 L1381.8 29.0 L1382.5 28.3 L1383.3 27.9 L1384.0 27.8 L1384.7 27.9 L1385.4 28.4 L1386.1 29.0 L1386.8 30.0 L1387.5 31.2 L1388.2 32.8 L1388.9 34.5 L1389.6 36.6 L1390.3 38.9 L1391.1 41.5 L1391.8 44.3 L1392.5 47.4 L1393.2 50.8 L1393.9 54.4 L1394.6 58.2 L1395.3 62.3 L1396.0 66.6 L1396.7 71.1 L1397.4 75.8 L1398.2 80.7 L1398.9 85.8 L1399.6 91.1 L1400.3 96.6 L1401.0 102.3 L1401.7 108.1 L1402.4 114.0 L1403.1 120.1 L1403.8 126.3 L1404.5 132.7 L1405.3 139.1 L1406.0 145.7 L1406.7 152.3 L1407.4 159.0 L1408.1 165.8 L1408.8 172.6 L1409.5 179.4 L1410.2 186.3 L1410.9 193.1 L1411.6 200.0 L1412.4 206.9 L1413.1 213.7 L1413.8 220.5 L1414.5 227.3 L1415.2 234.0 L1415.9 240.6 L1416.6 247.1 L1417.3 253.6 L1418.0 259.9 L1418.7 266.2 L1419.5 272.2 L1420.2 278.2 L1420.9 284.0 L1421.6 289.7 L1422.3 295.1 L1423.0 300.4 L1423.7 305.6 L1424.4 310.5 L1425.1 315.2 L1425.8 319.7 L1426.6 324.0 L1427.3 328.0 L1428.0 331.9 L1428.7 335.4 L1429.4 338.8 L1430.1 341.9 L1430.8 344.7 L1431.5 347.3 L1432.2 349.6 L1432.9 351.6 L1433.7 353.4 L1434.4 354.9 L1435.1 356.1 L1435.8 357.0 L1436.5 357.7 L1437.2 358.1 L1437.9 358.2 L1438.6 358.0 L1439.3 357.6 L1440.0 356.9 L1440.8 355.9 L1441.5 354.6 L1442.2 353.1 L1442.9 351.3 L1443.6 349.2 L1444.3 346.9 L1445.0 344.3 L1445.7 341.5 L1446.4 338.5 L1447.1 335.2 L1447.9 331.6 L1448.6 327.8 L1449.3 323.9 L1450.0 319.7 L1450.7 315.2 L1451.4 310.6 L1452.1 305.8 L1452.8 300.9 L1453.5 295.7 L1454.2 290.4 L1455.0 284.9 L1455.7 279.3 L1456.4 273.5 L1457.1 267.6 L1457.8 261.6 L1458.5 255.4 L1459.2 249.2 L1459.9 242.9 L1460.6 236.4 L1461.3 230.0 L1462.0 223.4 L1462.8 216.8 L1463.5 210.2 L1464.2 203.6 L1464.9 196.9 L1465.6 190.2 L1466.3 183.6 L1467.0 176.9 L1467.7 170.3 L1468.4 163.7 L1469.1 157.2 L1469.9 150.7 L1470.6 144.3 L1471.3 137.9 L1472.0 131.7 L1472.7 125.6 L1473.4 119.5 L1474.1 113.6 L1474.8 107.8 L1475.5 102.2 L1476.2 96.7 L1477.0 91.3 L1477.7 86.2 L1478.4 81.1 L1479.1 76.3 L1479.8 71.7 L1480.5 67.3 L1481.2 63.0 L1481.9 59.0 L1482.6 55.2 L1483.3 51.6 L1484.1 48.3 L1484.8 45.2 L1485.5 42.3 L1486.2 39.7 L1486.9 37.3 L1487.6 35.2 L1488.3 33.4 L1489.0 31.8 L1489.7 30.4 L1490.4 29.4 L1491.2 28.6 L1491.9 28.1 L1492.6 27.8 L1493.3 27.8 L1494.0 28.2 L1494.7 28.7 L1495.4 29.6 L1496.1 30.7 L1496.8 32.1 L1497.5 33.7 L1498.3 35.6 L1499.0 37.8 L1499.7 40.3 L1500.4 42.9 L1501.1 45.9 L1501.8 49.1 L1502.5 52.5 L1503.2 56.2 L1503.9 60.0 L1504.6 64.1 L1505.4 68.5 L1506.1 73.0 L1506.8 77.7 L1507.5 82.6 L1508.2 87.7 L1508.9 93.0 L1509.6 98.5 L1510.3 104.1 L1511.0 109.8 L1511.7 115.7 L1512.5 121.7 L1513.2 127.9 L1513.9 134.1 L1514.6 140.5 L1515.3 146.9 L1516.0 153.4 L1516.7 160.0 L1517.4 166.6 L1518.1 173.3 L1518.8 180.0 L1519.6 186.8 L1520.3 193.5 L1521.0 200.3 L1521.7 207.0 L1522.4 213.7 L1523.1 220.4 L1523.8 227.0 L1524.5 233.6 L1525.2 240.1 L1525.9 246.5 L1526.7 252.9 L1527.4 259.1 L1528.1 265.3 L1528.8 271.3 L1529.5 277.2 L1530.2 282.9" fill="none" stroke="#0072BD" stroke-width="3.9" stroke-linejoin="round" stroke-linecap="butt" clip-path="url(#cla)"/>
<path d="M110.4 310.9 L111.1 328.9 L111.8 346.4 L112.5 358.2 L113.2 358.2 L113.9 353.2 L114.7 342.4 L115.4 335.4 L116.1 327.5 L116.8 328.5 L117.5 331.5 L118.2 317.3 L118.9 292.0 L119.6 275.0 L120.3 269.7 L121.0 265.4 L121.8 265.3 L122.5 264.9 L123.2 253.6 L123.9 242.2 L124.6 229.5 L125.3 216.5 L126.0 207.5 L126.7 202.2 L127.4 195.1 L128.1 185.2 L128.9 177.2 L129.6 175.2 L130.3 172.6 L131.0 149.2 L131.7 125.6 L132.4 114.3 L133.1 106.1 L133.8 96.0 L134.5 84.7 L135.2 80.9 L136.0 85.1 L136.7 83.8 L137.4 58.4 L138.1 34.0 L138.8 40.3 L139.5 47.9 L140.2 51.4 L140.9 53.8 L141.6 45.2 L142.3 29.3 L143.1 27.8 L143.8 37.8 L144.5 48.6 L145.2 56.4 L145.9 64.6 L146.6 57.7 L147.3 51.1 L148.0 60.1 L148.7 74.5 L149.4 71.0 L150.2 56.1 L150.9 54.5 L151.6 71.9 L152.3 88.3 L153.0 99.0 L153.7 109.9 L154.4 106.7 L155.1 103.1 L155.8 122.5 L156.5 147.7 L157.3 154.6 L158.0 148.7 L158.7 154.0 L159.4 177.5 L160.1 196.0 L160.8 194.6 L161.5 193.3 L162.2 204.2 L162.9 215.9 L163.6 211.6 L164.4 203.5 L165.1 204.6 L165.8 211.8 L166.5 225.1 L167.2 247.7 L167.9 266.4 L168.6 268.5 L169.3 270.1 L170.0 285.9 L170.7 302.6 L171.5 310.7 L172.2 315.7 L172.9 327.1 L173.6 341.6 L174.3 352.4 L175.0 358.2 L175.7 358.2 L176.4 358.2 L177.1 354.8 L177.8 335.7 L178.6 315.8 L179.3 297.0 L180.0 278.4 L180.7 274.3 L181.4 280.2 L182.1 283.3 L182.8 281.3 L183.5 274.9 L184.2 252.0 L184.9 228.9 L185.6 231.1 L186.4 233.4 L187.1 227.9 L187.8 220.6 L188.5 212.3 L189.2 203.4 L189.9 196.1 L190.6 187.2 L191.3 177.7 L192.0 166.9 L192.7 156.1 L193.5 151.0 L194.2 146.1 L194.9 128.0 L195.6 108.1 L196.3 98.0 L197.0 94.6 L197.7 87.1 L198.4 73.2 L199.1 63.6 L199.8 69.7 L200.6 75.7 L201.3 81.5 L202.0 87.5 L202.7 77.3 L203.4 63.6 L204.1 49.5 L204.8 35.1 L205.5 31.2 L206.2 42.8 L206.9 53.8 L207.7 58.2 L208.4 63.6 L209.1 68.4 L209.8 74.0 L210.5 78.0 L211.2 82.0 L211.9 84.0 L212.6 84.8 L213.3 89.5 L214.0 99.9 L214.8 105.7 L215.5 94.3 L216.2 83.4 L216.9 100.1 L217.6 117.2 L218.3 123.3 L219.0 127.0 L219.7 127.4 L220.4 125.8 L221.1 127.2 L221.9 133.3 L222.6 142.4 L223.3 160.8 L224.0 179.0 L224.7 183.5 L225.4 188.3 L226.1 194.0 L226.8 199.9 L227.5 210.3 L228.2 224.0 L229.0 239.1 L229.7 256.4 L230.4 268.6 L231.1 260.9 L231.8 252.8 L232.5 257.6 L233.2 262.2 L233.9 270.6 L234.6 279.9 L235.3 292.1 L236.1 306.1 L236.8 314.6 L237.5 315.0 L238.2 315.8 L238.9 321.0 L239.6 325.0 L240.3 324.1 L241.0 323.3 L241.7 316.3 L242.4 307.6 L243.2 303.7 L243.9 302.8 L244.6 303.2 L245.3 305.3 L246.0 304.8 L246.7 299.6 L247.4 293.8 L248.1 286.5 L248.8 279.5 L249.5 276.7 L250.3 274.6 L251.0 270.0 L251.7 263.6 L252.4 258.2 L253.1 254.6 L253.8 249.2 L254.5 238.0 L255.2 227.8 L255.9 207.5 L256.6 187.2 L257.3 184.7 L258.1 186.9 L258.8 188.6 L259.5 188.4 L260.2 183.7 L260.9 175.1 L261.6 166.6 L262.3 159.3 L263.0 152.0 L263.7 135.0 L264.4 117.9 L265.2 106.7 L265.9 97.2 L266.6 94.7 L267.3 96.9 L268.0 90.6 L268.7 73.6 L269.4 63.1 L270.1 67.1 L270.8 70.8 L271.5 56.3 L272.3 42.0 L273.0 43.5 L273.7 46.9 L274.4 40.7 L275.1 28.4 L275.8 27.8 L276.5 37.9 L277.2 48.2 L277.9 48.0 L278.6 48.4 L279.4 47.6 L280.1 47.9 L280.8 48.1 L281.5 48.6 L282.2 53.9 L282.9 65.0 L283.6 79.0 L284.3 97.2 L285.0 111.6 L285.7 111.0 L286.5 110.9 L287.2 120.1 L287.9 129.3 L288.6 140.1 L289.3 151.3 L290.0 161.9 L290.7 171.8 L291.4 175.6 L292.1 167.2 L292.8 164.1 L293.6 182.2 L294.3 200.3 L295.0 208.8 L295.7 217.5 L296.4 218.7 L297.1 219.3 L297.8 226.9 L298.5 238.9 L299.2 249.9 L299.9 259.5 L300.7 267.4 L301.4 268.6 L302.1 269.0 L302.8 276.1 L303.5 283.3 L304.2 289.7 L304.9 295.7 L305.6 299.7 L306.3 302.2 L307.0 307.0 L307.8 315.4 L308.5 323.0 L309.2 330.4 L309.9 337.1 L310.6 334.5 L311.3 331.8 L312.0 331.1 L312.7 330.9 L313.4 326.1 L314.1 316.8 L314.9 311.1 L315.6 311.7 L316.3 311.0 L317.0 307.5 L317.7 304.5 L318.4 285.7 L319.1 266.2 L319.8 261.0 L320.5 259.2 L321.2 254.2 L322.0 246.9 L322.7 232.6 L323.4 208.1 L324.1 187.6 L324.8 183.2 L325.5 179.1 L326.2 161.5 L326.9 143.4 L327.6 135.2 L328.3 129.5 L329.0 122.8 L329.8 115.3 L330.5 107.3 L331.2 98.4 L331.9 89.6 L332.6 77.9 L333.3 68.3 L334.0 62.7 L334.7 57.2 L335.4 55.6 L336.1 55.4 L336.9 52.1 L337.6 47.3 L338.3 46.1 L339.0 52.5 L339.7 57.3 L340.4 50.7 L341.1 45.4 L341.8 60.5 L342.5 77.7 L343.2 80.9 L344.0 80.4 L344.7 82.5 L345.4 86.0 L346.1 90.1 L346.8 95.8 L347.5 97.6 L348.2 98.6 L348.9 99.8 L349.6 123.5 L350.3 147.3 L351.1 145.7 L351.8 138.6 L352.5 139.1 L353.2 143.9 L353.9 150.3 L354.6 159.1 L355.3 169.9 L356.0 188.6 L356.7 209.1 L357.4 211.4 L358.2 213.9 L358.9 216.1 L359.6 218.2 L360.3 236.7 L361.0 265.6 L361.7 281.5 L362.4 278.7 L363.1 276.9 L363.8 280.4 L364.5 283.1 L365.3 299.4 L366.0 314.6 L366.7 315.7 L367.4 313.1 L368.1 320.2 L368.8 333.4 L369.5 341.5 L370.2 343.2 L370.9 345.2 L371.6 347.1 L372.4 348.3 L373.1 343.8 L373.8 339.3 L374.5 340.6 L375.2 340.6 L375.9 334.6 L376.6 323.0 L377.3 316.3 L378.0 318.3 L378.7 316.5 L379.5 303.3 L380.2 291.5 L380.9 278.4 L381.6 264.8 L382.3 257.6 L383.0 251.8 L383.7 250.8 L384.4 254.1 L385.1 248.6 L385.8 229.9 L386.6 214.7 L387.3 213.7 L388.0 212.9 L388.7 199.7 L389.4 185.5 L390.1 175.9 L390.8 167.4 L391.5 155.3 L392.2 140.7 L392.9 130.5 L393.7 127.2 L394.4 124.9 L395.1 126.8 L395.8 128.9 L396.5 117.5 L397.2 106.6 L397.9 89.6 L398.6 71.9 L399.3 65.4 L400.0 66.7 L400.7 63.0 L401.5 51.4 L402.2 42.3 L402.9 43.6 L403.6 45.0 L404.3 47.6 L405.0 50.5 L405.7 40.9 L406.4 28.5 L407.1 29.7 L407.8 40.3 L408.6 50.0 L409.3 58.4 L410.0 63.0 L410.7 45.6 L411.4 29.8 L412.1 59.4 L412.8 89.9 L413.5 91.7 L414.2 86.2 L414.9 87.9 L415.7 93.8 L416.4 101.7 L417.1 113.4 L417.8 126.4 L418.5 144.2 L419.2 162.1 L419.9 154.8 L420.6 147.6 L421.3 162.3 L422.0 182.7 L422.8 194.6 L423.5 200.7 L424.2 204.8 L424.9 206.1 L425.6 207.2 L426.3 207.4 L427.0 207.7 L427.7 217.1 L428.4 226.4 L429.1 231.0 L429.9 234.2 L430.6 245.5 L431.3 260.1 L432.0 270.7 L432.7 275.3 L433.4 280.9 L434.1 292.1 L434.8 302.6 L435.5 302.5 L436.2 302.0 L437.0 300.7 L437.7 298.6 L438.4 301.8 L439.1 308.1 L439.8 310.1 L440.5 306.1 L441.2 304.1 L441.9 310.1 L442.6 316.1 L443.3 316.5 L444.1 318.2 L444.8 317.4 L445.5 313.8 L446.2 311.4 L446.9 309.7 L447.6 305.0 L448.3 296.5 L449.0 284.9 L449.7 279.0 L450.4 273.1 L451.2 255.9 L451.9 238.2 L452.6 235.6 L453.3 237.4 L454.0 233.4 L454.7 224.9 L455.4 218.1 L456.1 213.9 L456.8 207.7 L457.5 193.4 L458.3 177.4 L459.0 163.4 L459.7 149.0 L460.4 143.3 L461.1 139.8 L461.8 129.3 L462.5 115.0 L463.2 101.4 L463.9 87.9 L464.6 76.8 L465.4 73.3 L466.1 70.7 L466.8 66.6 L467.5 65.7 L468.2 56.5 L468.9 45.5 L469.6 42.4 L470.3 45.0 L471.0 45.8 L471.7 42.1 L472.4 37.5 L473.2 32.2 L473.9 28.6 L474.6 31.0 L475.3 34.7 L476.0 45.9 L476.7 59.8 L477.4 69.9 L478.1 77.4 L478.8 82.8 L479.5 84.8 L480.3 87.6 L481.0 96.2 L481.7 105.8 L482.4 122.8 L483.1 140.0 L483.8 136.0 L484.5 126.8 L485.2 132.0 L485.9 146.1 L486.6 156.0 L487.4 159.6 L488.1 166.1 L488.8 184.0 L489.5 202.2 L490.2 197.5 L490.9 193.1 L491.6 207.7 L492.3 227.1 L493.0 238.8 L493.7 245.3 L494.5 255.3 L495.2 269.0 L495.9 279.3 L496.6 277.9 L497.3 275.7 L498.0 280.1 L498.7 284.6 L499.4 290.2 L500.1 297.2 L500.8 302.0 L501.6 305.0 L502.3 309.4 L503.0 316.1 L503.7 320.4 L504.4 314.2 L505.1 306.4 L505.8 309.8 L506.5 312.1 L507.2 309.7 L507.9 305.8 L508.7 298.5 L509.4 289.7 L510.1 281.5 L510.8 273.8 L511.5 265.7 L512.2 257.2 L512.9 248.5 L513.6 243.4 L514.3 238.1 L515.0 241.9 L515.8 247.9 L516.5 239.0 L517.2 220.2 L517.9 203.8 L518.6 191.1 L519.3 181.0 L520.0 181.1 L520.7 181.0 L521.4 176.4 L522.1 171.8 L522.9 164.2 L523.6 155.2 L524.3 151.7 L525.0 152.0 L525.7 148.5 L526.4 139.2 L527.1 131.4 L527.8 130.9 L528.5 131.0 L529.2 121.1 L530.0 111.8 L530.7 112.3 L531.4 115.4 L532.1 118.3 L532.8 122.0 L533.5 120.5 L534.2 111.0 L534.9 102.7 L535.6 98.7 L536.3 96.0 L537.0 104.5 L537.8 112.9 L538.5 114.5 L539.2 114.3 L539.9 120.5 L540.6 131.0 L541.3 129.2 L542.0 111.3 L542.7 98.5 L543.4 105.5 L544.1 112.7 L544.9 120.2 L545.6 127.7 L546.3 127.4 L547.0 125.4 L547.7 120.0 L548.4 112.3 L549.1 105.9 L549.8 101.6 L550.5 99.6 L551.2 105.4 L552.0 111.4 L552.7 110.4 L553.4 110.3 L554.1 119.9 L554.8 133.2 L555.5 143.8 L556.2 151.9 L556.9 155.2 L557.6 151.0 L558.3 149.6 L559.1 159.2 L559.8 166.5 L560.5 174.3 L561.2 181.6 L561.9 181.3 L562.6 179.2 L563.3 188.4 L564.0 205.2 L564.7 216.2 L565.4 218.5 L566.2 219.9 L566.9 217.4 L567.6 214.7 L568.3 215.2 L569.0 215.7 L569.7 227.0 L570.4 240.7 L571.1 243.0 L571.8 237.6 L572.5 240.3 L573.3 257.3 L574.0 272.9 L574.7 274.9 L575.4 276.8 L576.1 286.0 L576.8 295.0 L577.5 307.5 L578.2 314.3 L578.9 310.6 L579.6 299.6 L580.4 290.7 L581.1 285.3 L581.8 281.6 L582.5 287.0 L583.2 294.1 L583.9 294.9 L584.6 295.6 L585.3 290.2 L586.0 283.1 L586.7 288.1 L587.5 301.8 L588.2 309.6 L588.9 309.1 L589.6 307.0 L590.3 300.1 L591.0 293.2 L591.7 292.9 L592.4 291.9 L593.1 277.7 L593.8 259.9 L594.6 253.0 L595.3 253.3 L596.0 253.8 L596.7 252.3 L597.4 249.4 L598.1 240.5 L598.8 231.6 L599.5 206.1 L600.2 180.7 L600.9 185.8 L601.7 199.6 L602.4 203.2 L603.1 199.8 L603.8 193.7 L604.5 183.8 L605.2 174.7 L605.9 167.3 L606.6 160.0 L607.3 156.7 L608.0 153.5 L608.7 153.5 L609.5 154.5 L610.2 152.9 L610.9 149.8 L611.6 142.8 L612.3 130.0 L613.0 120.1 L613.7 120.5 L614.4 121.0 L615.1 128.3 L615.8 135.7 L616.6 125.1 L617.3 109.9 L618.0 104.9 L618.7 106.7 L619.4 109.0 L620.1 112.5 L620.8 115.2 L621.5 113.8 L622.2 112.5 L622.9 108.6 L623.7 104.7 L624.4 106.9 L625.1 110.6 L625.8 113.5 L626.5 116.1 L627.2 113.9 L627.9 104.5 L628.6 98.9 L629.3 107.5 L630.0 116.6 L630.8 107.9 L631.5 99.7 L632.2 107.2 L632.9 118.8 L633.6 120.5 L634.3 115.7 L635.0 113.8 L635.7 116.1 L636.4 116.6 L637.1 109.5 L637.9 103.2 L638.6 122.3 L639.3 141.7 L640.0 151.0 L640.7 157.9 L641.4 161.4 L642.1 162.7 L642.8 168.0 L643.5 177.0 L644.2 184.9 L645.0 188.4 L645.7 191.7 L646.4 192.3 L647.1 192.3 L647.8 194.7 L648.5 197.8 L649.2 199.4 L649.9 199.9 L650.6 207.1 L651.3 224.4 L652.1 232.7 L652.8 217.1 L653.5 201.4 L654.2 206.3 L654.9 210.9 L655.6 221.5 L656.3 235.6 L657.0 251.0 L657.7 265.9 L658.4 271.6 L659.2 263.6 L659.9 257.7 L660.6 260.2 L661.3 261.1 L662.0 274.9 L662.7 288.6 L663.4 282.7 L664.1 271.8 L664.8 269.1 L665.5 272.3 L666.3 276.8 L667.0 282.2 L667.7 285.5 L668.4 280.6 L669.1 275.7 L669.8 276.1 L670.5 273.2 L671.2 278.0 L671.9 284.6 L672.6 284.3 L673.4 279.3 L674.1 277.4 L674.8 281.9 L675.5 286.8 L676.2 287.9 L676.9 288.4 L677.6 283.5 L678.3 278.2 L679.0 274.5 L679.7 269.3 L680.4 269.0 L681.2 271.7 L681.9 275.2 L682.6 280.2 L683.3 280.3 L684.0 262.6 L684.7 245.2 L685.4 253.2 L686.1 261.1 L686.8 252.9 L687.5 240.6 L688.3 228.4 L689.0 214.8 L689.7 208.3 L690.4 212.4 L691.1 215.9 L691.8 217.0 L692.5 218.2 L693.2 215.0 L693.9 211.6 L694.6 196.3 L695.4 177.9 L696.1 171.1 L696.8 172.1 L697.5 169.6 L698.2 163.7 L698.9 158.1 L699.6 153.3 L700.3 148.6 L701.0 151.0 L701.7 153.7 L702.5 152.5 L703.2 149.9 L703.9 148.7 L704.6 148.6 L705.3 151.9 L706.0 160.0 L706.7 164.4 L707.4 153.6 L708.1 142.9 L708.8 133.0 L709.6 123.1 L710.3 119.6 L711.0 117.9 L711.7 115.1 L712.4 112.0 L713.1 111.3 L713.8 114.1 L714.5 116.0 L715.2 114.7 L715.9 113.3 L716.7 109.2 L717.4 105.1 L718.1 110.5 L718.8 118.5 L719.5 119.7 L720.2 116.5 L720.9 117.5 L721.6 124.7 L722.3 128.5 L723.0 116.8 L723.8 105.4 L724.5 112.2 L725.2 119.3 L725.9 121.8 L726.6 122.9 L727.3 122.2 L728.0 120.1 L728.7 121.3 L729.4 127.4 L730.1 133.2 L730.9 140.9 L731.6 148.7 L732.3 146.6 L733.0 144.7 L733.7 155.4 L734.4 169.3 L735.1 174.2 L735.8 170.9 L736.5 171.9 L737.2 179.5 L738.0 188.5 L738.7 203.4 L739.4 216.5 L740.1 204.0 L740.8 191.3 L741.5 198.8 L742.2 211.5 L742.9 213.9 L743.6 209.4 L744.3 211.4 L745.1 221.1 L745.8 228.1 L746.5 224.9 L747.2 221.5 L747.9 223.6 L748.6 226.6 L749.3 240.4 L750.0 256.5 L750.7 268.0 L751.4 276.2 L752.1 279.9 L752.9 276.8 L753.6 270.8 L754.3 266.4 L755.0 261.9 L755.7 268.5 L756.4 275.1 L757.1 277.5 L757.8 279.7 L758.5 278.6 L759.2 274.6 L760.0 279.3 L760.7 297.1 L761.4 309.3 L762.1 299.8 L762.8 290.4 L763.5 295.2 L764.2 299.9 L764.9 294.9 L765.6 287.5 L766.3 288.2 L767.1 293.6 L767.8 296.9 L768.5 298.1 L769.2 297.9 L769.9 292.8 L770.6 287.3 L771.3 291.1 L772.0 295.2 L772.7 288.8 L773.4 279.6 L774.2 276.7 L774.9 278.0 L775.6 277.2 L776.3 273.0 L777.0 269.1 L777.7 267.9 L778.4 266.5 L779.1 254.9 L779.8 243.1 L780.5 241.7 L781.3 243.4 L782.0 240.0 L782.7 233.0 L783.4 227.3 L784.1 223.5 L784.8 221.0 L785.5 224.5 L786.2 229.1 L786.9 220.3 L787.6 211.6 L788.4 209.3 L789.1 208.7 L789.8 207.6 L790.5 203.7 L791.2 201.2 L791.9 200.6 L792.6 199.2 L793.3 195.0 L794.0 190.9 L794.7 180.3 L795.5 169.6 L796.2 158.3 L796.9 146.8 L797.6 148.6 L798.3 159.4 L799.0 161.5 L799.7 150.7 L800.4 142.4 L801.1 143.4 L801.8 144.5 L802.6 135.5 L803.3 126.6 L804.0 125.8 L804.7 128.5 L805.4 128.4 L806.1 126.3 L806.8 133.4 L807.5 154.0 L808.2 168.7 L808.9 152.3 L809.7 136.1 L810.4 132.9 L811.1 129.8 L811.8 121.8 L812.5 112.6 L813.2 110.3 L813.9 113.4 L814.6 115.1 L815.3 114.8 L816.0 113.4 L816.8 107.2 L817.5 101.2 L818.2 93.1 L818.9 85.2 L819.6 101.5 L820.3 124.1 L821.0 125.2 L821.7 112.0 L822.4 104.6 L823.1 104.7 L823.8 105.8 L824.6 110.8 L825.3 115.8 L826.0 121.1 L826.7 126.6 L827.4 133.8 L828.1 142.0 L828.8 146.4 L829.5 148.3 L830.2 147.9 L830.9 144.0 L831.7 141.1 L832.4 142.9 L833.1 144.9 L833.8 153.6 L834.5 162.3 L835.2 170.8 L835.9 179.1 L836.6 181.5 L837.3 180.1 L838.0 181.0 L838.8 185.6 L839.5 189.4 L840.2 188.8 L840.9 189.3 L841.6 197.1 L842.3 204.9 L843.0 213.9 L843.7 223.2 L844.4 227.8 L845.1 229.2 L845.9 236.0 L846.6 249.1 L847.3 258.6 L848.0 254.4 L848.7 250.0 L849.4 253.3 L850.1 253.8 L850.8 262.2 L851.5 273.0 L852.2 271.9 L853.0 262.9 L853.7 259.8 L854.4 265.5 L855.1 272.7 L855.8 265.9 L856.5 259.1 L857.2 263.3 L857.9 267.4 L858.6 275.3 L859.3 282.7 L860.1 281.6 L860.8 275.8 L861.5 275.2 L862.2 282.4 L862.9 288.5 L863.6 289.7 L864.3 291.7 L865.0 292.1 L865.7 292.4 L866.4 291.2 L867.2 289.6 L867.9 289.5 L868.6 290.7 L869.3 290.4 L870.0 287.9 L870.7 286.4 L871.4 289.6 L872.1 292.6 L872.8 284.7 L873.5 275.6 L874.3 270.8 L875.0 267.1 L875.7 268.6 L876.4 273.6 L877.1 277.4 L877.8 279.5 L878.5 278.2 L879.2 264.4 L879.9 250.3 L880.6 244.6 L881.4 238.6 L882.1 239.3 L882.8 241.4 L883.5 242.8 L884.2 243.8 L884.9 239.5 L885.6 227.2 L886.3 215.2 L887.0 204.4 L887.7 193.7 L888.5 206.1 L889.2 218.7 L889.9 208.7 L890.6 193.2 L891.3 186.9 L892.0 187.6 L892.7 187.8 L893.4 187.2 L894.1 184.8 L894.8 174.9 L895.5 165.1 L896.3 171.3 L897.0 178.0 L897.7 171.4 L898.4 161.6 L899.1 153.6 L899.8 147.0 L900.5 144.7 L901.2 146.8 L901.9 149.0 L902.6 151.0 L903.4 153.1 L904.1 154.5 L904.8 155.9 L905.5 152.0 L906.2 146.8 L906.9 144.9 L907.6 145.1 L908.3 137.5 L909.0 118.2 L909.7 104.3 L910.5 112.4 L911.2 120.6 L911.9 123.7 L912.6 126.7 L913.3 127.7 L914.0 128.1 L914.7 127.5 L915.4 126.4 L916.1 124.3 L916.8 120.8 L917.6 119.1 L918.3 124.0 L919.0 129.0 L919.7 113.7 L920.4 98.5 L921.1 104.6 L921.8 116.2 L922.5 121.0 L923.2 121.4 L923.9 119.8 L924.7 115.1 L925.4 110.6 L926.1 106.1 L926.8 101.6 L927.5 103.5 L928.2 105.5 L928.9 113.9 L929.6 124.1 L930.3 126.7 L931.0 124.6 L931.8 124.6 L932.5 127.6 L933.2 130.5 L933.9 131.9 L934.6 133.6 L935.3 138.6 L936.0 143.9 L936.7 152.9 L937.4 162.8 L938.1 172.4 L938.9 180.1 L939.6 184.3 L940.3 183.2 L941.0 184.6 L941.7 196.7 L942.4 207.6 L943.1 198.3 L943.8 188.9 L944.5 194.8 L945.2 204.4 L946.0 213.2 L946.7 221.5 L947.4 224.8 L948.1 222.7 L948.8 221.5 L949.5 223.7 L950.2 225.8 L950.9 225.1 L951.6 225.0 L952.3 222.7 L953.1 219.7 L953.8 226.6 L954.5 240.2 L955.2 249.8 L955.9 253.5 L956.6 254.7 L957.3 245.6 L958.0 236.5 L958.7 240.6 L959.4 244.6 L960.2 245.2 L960.9 246.6 L961.6 249.8 L962.3 252.9 L963.0 257.7 L963.7 264.9 L964.4 270.4 L965.1 269.5 L965.8 263.1 L966.5 269.7 L967.2 276.3 L968.0 272.6 L968.7 266.3 L969.4 265.3 L970.1 270.3 L970.8 276.5 L971.5 280.9 L972.2 283.3 L972.9 277.7 L973.6 272.0 L974.3 275.1 L975.1 271.8 L975.8 278.0 L976.5 286.7 L977.2 285.6 L977.9 278.0 L978.6 269.2 L979.3 260.8 L980.0 255.1 L980.7 251.9 L981.4 248.7 L982.2 257.8 L982.9 266.9 L983.6 267.3 L984.3 265.0 L985.0 267.6 L985.7 273.6 L986.4 269.6 L987.1 250.4 L987.8 237.1 L988.5 247.1 L989.3 257.2 L990.0 255.4 L990.7 253.5 L991.4 253.5 L992.1 252.9 L992.8 250.0 L993.5 244.0 L994.2 238.8 L994.9 235.2 L995.6 232.5 L996.4 232.3 L997.1 231.8 L997.8 222.5 L998.5 214.4 L999.2 212.9 L999.9 213.0 L1000.6 207.5 L1001.3 198.2 L1002.0 195.3 L1002.7 199.2 L1003.5 201.0 L1004.2 194.2 L1004.9 187.5 L1005.6 175.7 L1006.3 163.7 L1007.0 154.6 L1007.7 146.7 L1008.4 144.0 L1009.1 144.8 L1009.8 145.2 L1010.6 145.1 L1011.3 144.0 L1012.0 137.4 L1012.7 131.3 L1013.4 130.6 L1014.1 130.3 L1014.8 119.3 L1015.5 105.7 L1016.2 102.1 L1016.9 105.2 L1017.7 106.0 L1018.4 103.0 L1019.1 101.8 L1019.8 106.0 L1020.5 110.2 L1021.2 114.4 L1021.9 118.6 L1022.6 112.7 L1023.3 104.3 L1024.0 99.5 L1024.8 97.3 L1025.5 98.5 L1026.2 104.6 L1026.9 110.4 L1027.6 114.3 L1028.3 118.3 L1029.0 114.0 L1029.7 109.6 L1030.4 112.7 L1031.1 118.3 L1031.9 116.5 L1032.6 109.9 L1033.3 108.4 L1034.0 114.7 L1034.7 120.7 L1035.4 122.9 L1036.1 125.1 L1036.8 118.7 L1037.5 112.4 L1038.2 113.0 L1038.9 115.3 L1039.7 113.6 L1040.4 109.2 L1041.1 112.7 L1041.8 127.7 L1042.5 140.7 L1043.2 144.3 L1043.9 147.2 L1044.6 156.6 L1045.3 166.0 L1046.0 173.6 L1046.8 180.4 L1047.5 184.5 L1048.2 186.8 L1048.9 185.5 L1049.6 177.9 L1050.3 174.0 L1051.0 185.3 L1051.7 196.6 L1052.4 188.5 L1053.1 181.5 L1053.9 183.4 L1054.6 187.2 L1055.3 196.8 L1056.0 210.3 L1056.7 216.6 L1057.4 212.2 L1058.1 207.9 L1058.8 216.9 L1059.5 226.0 L1060.2 223.8 L1061.0 221.7 L1061.7 228.3 L1062.4 237.7 L1063.1 240.1 L1063.8 237.5 L1064.5 240.6 L1065.2 252.5 L1065.9 260.7 L1066.6 254.9 L1067.3 248.8 L1068.1 255.4 L1068.8 262.0 L1069.5 263.0 L1070.2 262.6 L1070.9 260.8 L1071.6 257.4 L1072.3 255.5 L1073.0 257.1 L1073.7 258.4 L1074.4 258.8 L1075.2 259.0 L1075.9 254.1 L1076.6 251.2 L1077.3 251.2 L1078.0 251.9 L1078.7 259.2 L1079.4 270.9 L1080.1 274.6 L1080.8 265.5 L1081.5 257.4 L1082.3 256.5 L1083.0 255.6 L1083.7 262.1 L1084.4 268.7 L1085.1 265.3 L1085.8 259.1 L1086.5 261.3 L1087.2 269.0 L1087.9 268.0 L1088.6 253.9 L1089.4 244.1 L1090.1 251.9 L1090.8 260.0 L1091.5 259.1 L1092.2 258.2 L1092.9 252.9 L1093.6 246.5 L1094.3 247.8 L1095.0 254.2 L1095.7 256.6 L1096.5 252.8 L1097.2 251.4 L1097.9 259.3 L1098.6 267.1 L1099.3 263.6 L1100.0 259.3 L1100.7 260.0 L1101.4 261.9 L1102.1 257.9 L1102.8 250.0 L1103.6 240.6 L1104.3 232.9 L1105.0 225.6 L1105.7 225.7 L1106.4 225.8 L1107.1 219.7 L1107.8 214.2 L1108.5 217.1 L1109.2 221.0 L1109.9 218.9 L1110.6 212.8 L1111.4 206.3 L1112.1 199.0 L1112.8 191.3 L1113.5 183.3 L1114.2 175.4 L1114.9 173.9 L1115.6 172.5 L1116.3 171.7 L1117.0 171.2 L1117.7 166.4 L1118.5 158.3 L1119.2 153.0 L1119.9 151.9 L1120.6 150.0 L1121.3 144.7 L1122.0 139.5 L1122.7 129.4 L1123.4 119.5 L1124.1 122.2 L1124.8 128.1 L1125.6 126.3 L1126.3 119.3 L1127.0 111.4 L1127.7 101.9 L1128.4 95.4 L1129.1 100.5 L1129.8 105.8 L1130.5 100.9 L1131.2 96.2 L1131.9 100.9 L1132.7 107.3 L1133.4 102.5 L1134.1 90.3 L1134.8 91.6 L1135.5 113.1 L1136.2 128.8 L1136.9 123.4 L1137.6 118.7 L1138.3 119.5 L1139.0 120.9 L1139.8 112.5 L1140.5 101.8 L1141.2 101.7 L1141.9 109.4 L1142.6 115.8 L1143.3 120.1 L1144.0 124.8 L1144.7 131.4 L1145.4 139.5 L1146.1 136.0 L1146.9 132.7 L1147.6 136.9 L1148.3 143.0 L1149.0 150.8 L1149.7 159.7 L1150.4 166.3 L1151.1 172.9 L1151.8 178.2 L1152.5 178.7 L1153.2 179.1 L1154.0 175.1 L1154.7 172.4 L1155.4 175.8 L1156.1 180.4 L1156.8 185.9 L1157.5 192.1 L1158.2 198.2 L1158.9 204.3 L1159.6 207.7 L1160.3 216.6 L1161.1 225.3 L1161.8 217.3 L1162.5 209.1 L1163.2 212.2 L1163.9 219.4 L1164.6 221.5 L1165.3 219.4 L1166.0 218.4 L1166.7 219.4 L1167.4 221.8 L1168.2 230.2 L1168.9 238.7 L1169.6 243.3 L1170.3 247.8 L1171.0 242.9 L1171.7 235.6 L1172.4 236.2 L1173.1 242.3 L1173.8 249.5 L1174.5 257.5 L1175.2 266.7 L1176.0 280.9 L1176.7 294.5 L1177.4 281.6 L1178.1 266.6 L1178.8 260.3 L1179.5 256.2 L1180.2 252.6 L1180.9 249.3 L1181.6 250.4 L1182.3 258.3 L1183.1 264.6 L1183.8 263.7 L1184.5 262.8 L1185.2 261.1 L1185.9 259.5 L1186.6 253.7 L1187.3 247.0 L1188.0 250.1 L1188.7 259.7 L1189.4 263.4 L1190.2 258.1 L1190.9 254.8 L1191.6 259.0 L1192.3 263.5 L1193.0 258.3 L1193.7 253.1 L1194.4 259.7 L1195.1 269.3 L1195.8 267.9 L1196.5 258.9 L1197.3 255.5 L1198.0 260.2 L1198.7 263.8 L1199.4 262.9 L1200.1 261.9 L1200.8 258.4 L1201.5 254.6 L1202.2 251.2 L1202.9 248.0 L1203.6 254.7 L1204.4 268.2 L1205.1 270.8 L1205.8 256.4 L1206.5 245.1 L1207.2 246.0 L1207.9 246.8 L1208.6 249.6 L1209.3 252.4 L1210.0 247.2 L1210.7 241.6 L1211.5 244.5 L1212.2 253.0 L1212.9 256.9 L1213.6 253.9 L1214.3 253.9 L1215.0 261.7 L1215.7 269.5 L1216.4 268.0 L1217.1 264.0 L1217.8 249.1 L1218.6 231.1 L1219.3 216.7 L1220.0 205.6 L1220.7 199.7 L1221.4 200.4 L1222.1 199.2 L1222.8 190.9 L1223.5 182.7 L1224.2 181.8 L1224.9 181.4 L1225.7 179.8 L1226.4 178.5 L1227.1 172.3 L1227.8 162.5 L1228.5 152.6 L1229.2 142.0 L1229.9 136.6 L1230.6 151.2 L1231.3 165.9 L1232.0 157.7 L1232.8 149.5 L1233.5 149.3 L1234.2 151.7 L1234.9 143.9 L1235.6 129.5 L1236.3 117.5 L1237.0 109.4 L1237.7 105.5 L1238.4 114.3 L1239.1 123.5 L1239.9 118.6 L1240.6 114.2 L1241.3 106.5 L1242.0 98.0 L1242.7 98.6 L1243.4 105.4 L1244.1 111.8 L1244.8 117.4 L1245.5 122.0 L1246.2 122.5 L1246.9 123.1 L1247.7 126.8 L1248.4 130.5 L1249.1 121.4 L1249.8 110.1 L1250.5 112.3 L1251.2 123.6 L1251.9 127.8 L1252.6 122.4 L1253.3 118.9 L1254.0 122.8 L1254.8 126.1 L1255.5 135.5 L1256.2 145.3 L1256.9 148.8 L1257.6 150.7 L1258.3 149.1 L1259.0 145.1 L1259.7 144.9 L1260.4 150.4 L1261.1 155.0 L1261.9 156.8 L1262.6 158.6 L1263.3 170.4 L1264.0 182.3 L1264.7 176.9 L1265.4 167.8 L1266.1 172.0 L1266.8 184.6 L1267.5 196.6 L1268.2 207.5 L1269.0 215.4 L1269.7 211.4 L1270.4 205.1 L1271.1 201.6 L1271.8 198.1 L1272.5 192.0 L1273.2 185.0 L1273.9 190.1 L1274.6 204.7 L1275.3 217.9 L1276.1 226.6 L1276.8 231.0 L1277.5 218.1 L1278.2 205.1 L1278.9 218.5 L1279.6 227.5 L1280.3 230.5 L1281.0 232.0 L1281.7 234.6 L1282.4 237.9 L1283.2 239.6 L1283.9 241.9 L1284.6 245.3 L1285.3 239.4 L1286.0 233.6 L1286.7 248.4 L1287.4 263.2 L1288.1 272.1 L1288.8 273.3 L1289.5 273.4 L1290.3 272.7 L1291.0 267.7 L1291.7 256.3 L1292.4 248.7 L1293.1 258.7 L1293.8 269.2 L1294.5 262.5 L1295.2 255.1 L1295.9 253.4 L1296.6 253.2 L1297.4 252.0 L1298.1 248.0 L1298.8 246.7 L1299.5 249.3 L1300.2 249.8 L1300.9 239.9 L1301.6 230.1 L1302.3 225.1 L1303.0 222.0 L1303.7 229.2 L1304.5 239.0 L1305.2 246.5 L1305.9 252.5 L1306.6 257.6 L1307.3 256.2 L1308.0 253.0 L1308.7 242.7 L1309.4 232.3 L1310.1 231.6 L1310.8 230.9 L1311.6 230.9 L1312.3 233.4 L1313.0 236.1 L1313.7 239.0 L1314.4 245.1 L1315.1 255.9 L1315.8 263.1 L1316.5 249.3 L1317.2 235.5 L1317.9 235.4 L1318.6 235.1 L1319.4 233.9 L1320.1 232.3 L1320.8 231.2 L1321.5 231.1 L1322.2 230.2 L1322.9 228.1 L1323.6 227.5 L1324.3 232.9 L1325.0 238.3 L1325.7 242.7 L1326.5 247.1 L1327.2 240.0 L1327.9 230.0 L1328.6 230.5 L1329.3 238.0 L1330.0 242.5 L1330.7 241.6 L1331.4 239.5 L1332.1 238.2 L1332.8 236.1 L1333.6 222.1 L1334.3 208.4 L1335.0 203.6 L1335.7 200.8 L1336.4 192.8 L1337.1 181.7 L1337.8 169.8 L1338.5 157.1 L1339.2 147.9 L1339.9 146.4 L1340.7 145.8 L1341.4 138.7 L1342.1 132.0 L1342.8 132.1 L1343.5 134.1 L1344.2 137.8 L1344.9 141.5 L1345.6 143.6 L1346.3 143.2 L1347.0 142.9 L1347.8 143.2 L1348.5 140.2 L1349.2 127.7 L1349.9 115.1 L1350.6 109.5 L1351.3 105.9 L1352.0 102.0 L1352.7 98.2 L1353.4 95.2 L1354.1 87.3 L1354.9 81.9 L1355.6 85.6 L1356.3 91.6 L1357.0 98.9 L1357.7 108.0 L1358.4 119.9 L1359.1 131.9 L1359.8 133.7 L1360.5 128.6 L1361.2 127.3 L1362.0 132.2 L1362.7 133.0 L1363.4 133.6 L1364.1 134.1 L1364.8 136.1 L1365.5 138.1 L1366.2 139.8 L1366.9 143.5 L1367.6 146.4 L1368.3 147.6 L1369.1 149.4 L1369.8 151.8 L1370.5 155.3 L1371.2 162.1 L1371.9 165.9 L1372.6 168.2 L1373.3 170.5 L1374.0 173.9 L1374.7 177.7 L1375.4 178.0 L1376.2 176.6 L1376.9 177.4 L1377.6 180.6 L1378.3 184.6 L1379.0 192.0 L1379.7 199.4 L1380.4 194.5 L1381.1 190.4 L1381.8 192.1 L1382.5 195.1 L1383.3 198.0 L1384.0 200.9 L1384.7 205.6 L1385.4 211.9 L1386.1 216.3 L1386.8 217.1 L1387.5 217.8 L1388.2 222.7 L1388.9 227.5 L1389.6 221.0 L1390.3 214.3 L1391.1 221.6 L1391.8 238.3 L1392.5 246.0 L1393.2 240.1 L1393.9 236.0 L1394.6 237.3 L1395.3 237.4 L1396.0 232.2 L1396.7 227.3 L1397.4 230.7 L1398.2 236.3 L1398.9 242.3 L1399.6 250.2 L1400.3 257.1 L1401.0 262.2 L1401.7 265.9 L1402.4 264.6 L1403.1 262.9 L1403.8 259.3 L1404.5 254.5 L1405.3 252.6 L1406.0 251.1 L1406.7 249.9 L1407.4 248.9 L1408.1 248.3 L1408.8 247.0 L1409.5 245.0 L1410.2 239.7 L1410.9 234.9 L1411.6 226.9 L1412.4 219.0 L1413.1 225.7 L1413.8 237.4 L1414.5 239.7 L1415.2 235.7 L1415.9 230.8 L1416.6 224.6 L1417.3 221.0 L1418.0 227.2 L1418.7 233.4 L1419.5 239.4 L1420.2 245.3 L1420.9 243.0 L1421.6 238.6 L1422.3 240.6 L1423.0 246.6 L1423.7 248.4 L1424.4 243.9 L1425.1 238.6 L1425.8 230.3 L1426.6 222.1 L1427.3 221.3 L1428.0 220.5 L1428.7 235.2 L1429.4 253.7 L1430.1 254.7 L1430.8 243.9 L1431.5 234.7 L1432.2 228.2 L1432.9 225.4 L1433.7 237.2 L1434.4 248.9 L1435.1 244.5 L1435.8 240.1 L1436.5 234.5 L1437.2 228.4 L1437.9 231.7 L1438.6 241.2 L1439.3 244.8 L1440.0 239.5 L1440.8 235.5 L1441.5 237.1 L1442.2 238.5 L1442.9 246.4 L1443.6 254.2 L1444.3 245.6 L1445.0 232.9 L1445.7 227.2 L1446.4 225.4 L1447.1 219.2 L1447.9 207.6 L1448.6 195.7 L1449.3 184.0 L1450.0 172.4 L1450.7 173.1 L1451.4 173.5 L1452.1 172.6 L1452.8 171.6 L1453.5 165.9 L1454.2 157.4 L1455.0 150.5 L1455.7 147.2 L1456.4 143.2 L1457.1 135.3 L1457.8 127.5 L1458.5 135.7 L1459.2 144.0 L1459.9 141.5 L1460.6 135.9 L1461.3 132.7 L1462.0 130.6 L1462.8 121.2 L1463.5 101.6 L1464.2 88.2 L1464.9 89.2 L1465.6 92.4 L1466.3 97.8 L1467.0 104.6 L1467.7 110.3 L1468.4 114.8 L1469.1 117.6 L1469.9 119.4 L1470.6 121.7 L1471.3 125.5 L1472.0 128.3 L1472.7 127.2 L1473.4 126.6 L1474.1 129.8 L1474.8 132.9 L1475.5 128.1 L1476.2 121.2 L1477.0 123.1 L1477.7 130.2 L1478.4 136.9 L1479.1 143.7 L1479.8 149.3 L1480.5 149.4 L1481.2 149.6 L1481.9 142.2 L1482.6 136.2 L1483.3 140.0 L1484.1 146.5 L1484.8 151.3 L1485.5 155.0 L1486.2 157.8 L1486.9 159.9 L1487.6 162.7 L1488.3 164.1 L1489.0 165.8 L1489.7 185.5 L1490.4 205.2 L1491.2 212.0 L1491.9 213.0 L1492.6 218.1 L1493.3 225.6 L1494.0 226.3 L1494.7 216.9 L1495.4 210.1 L1496.1 216.4 L1496.8 223.7 L1497.5 227.9 L1498.3 232.1 L1499.0 235.4 L1499.7 238.3 L1500.4 236.8 L1501.1 230.2 L1501.8 228.1 L1502.5 232.7 L1503.2 236.9 L1503.9 239.3 L1504.6 241.7 L1505.4 233.3 L1506.1 224.6 L1506.8 231.9 L1507.5 243.1 L1508.2 248.1 L1508.9 249.0 L1509.6 241.9 L1510.3 223.1 L1511.0 210.8 L1511.7 225.1 L1512.5 239.2 L1513.2 239.7 L1513.9 240.2 L1514.6 240.8 L1515.3 241.6 L1516.0 240.1 L1516.7 237.0 L1517.4 233.4 L1518.1 228.7 L1518.8 224.9 L1519.6 226.3 L1520.3 227.7 L1521.0 229.9 L1521.7 232.1 L1522.4 236.7 L1523.1 241.9 L1523.8 248.1 L1524.5 255.0 L1525.2 256.0 L1525.9 248.3 L1526.7 241.1 L1527.4 236.0 L1528.1 230.9 L1528.8 231.5 L1529.5 232.1 L1530.2 235.8" fill="none" stroke="#D95319" stroke-width="3.8" stroke-linejoin="round" stroke-linecap="butt" clip-path="url(#cla)"/>
<line x1="110.4" y1="27.8" x2="1530.2" y2="27.8" stroke="#6e6e6e" stroke-width="1"/>
<line x1="110.4" y1="358.2" x2="1530.2" y2="358.2" stroke="#6e6e6e" stroke-width="1"/>
<line x1="110.4" y1="27.8" x2="110.4" y2="358.2" stroke="#8fc3e4" stroke-width="1"/>
<line x1="1530.2" y1="27.8" x2="1530.2" y2="358.2" stroke="#eca98c" stroke-width="1"/>
<line x1="252.4" y1="358.2" x2="252.4" y2="344.0" stroke="#6e6e6e" stroke-width="1"/>
<line x1="252.4" y1="27.8" x2="252.4" y2="42.0" stroke="#6e6e6e" stroke-width="1"/>
<line x1="394.4" y1="358.2" x2="394.4" y2="344.0" stroke="#6e6e6e" stroke-width="1"/>
<line x1="394.4" y1="27.8" x2="394.4" y2="42.0" stroke="#6e6e6e" stroke-width="1"/>
<line x1="536.3" y1="358.2" x2="536.3" y2="344.0" stroke="#6e6e6e" stroke-width="1"/>
<line x1="536.3" y1="27.8" x2="536.3" y2="42.0" stroke="#6e6e6e" stroke-width="1"/>
<line x1="678.3" y1="358.2" x2="678.3" y2="344.0" stroke="#6e6e6e" stroke-width="1"/>
<line x1="678.3" y1="27.8" x2="678.3" y2="42.0" stroke="#6e6e6e" stroke-width="1"/>
<line x1="820.3" y1="358.2" x2="820.3" y2="344.0" stroke="#6e6e6e" stroke-width="1"/>
<line x1="820.3" y1="27.8" x2="820.3" y2="42.0" stroke="#6e6e6e" stroke-width="1"/>
<line x1="962.3" y1="358.2" x2="962.3" y2="344.0" stroke="#6e6e6e" stroke-width="1"/>
<line x1="962.3" y1="27.8" x2="962.3" y2="42.0" stroke="#6e6e6e" stroke-width="1"/>
<line x1="1104.3" y1="358.2" x2="1104.3" y2="344.0" stroke="#6e6e6e" stroke-width="1"/>
<line x1="1104.3" y1="27.8" x2="1104.3" y2="42.0" stroke="#6e6e6e" stroke-width="1"/>
<line x1="1246.2" y1="358.2" x2="1246.2" y2="344.0" stroke="#6e6e6e" stroke-width="1"/>
<line x1="1246.2" y1="27.8" x2="1246.2" y2="42.0" stroke="#6e6e6e" stroke-width="1"/>
<line x1="1388.2" y1="358.2" x2="1388.2" y2="344.0" stroke="#6e6e6e" stroke-width="1"/>
<line x1="1388.2" y1="27.8" x2="1388.2" y2="42.0" stroke="#6e6e6e" stroke-width="1"/>
<line x1="110.4" y1="358.2" x2="124.60000000000001" y2="358.2" stroke="#8fc3e4" stroke-width="1"/>
<line x1="110.4" y1="275.6" x2="124.60000000000001" y2="275.6" stroke="#8fc3e4" stroke-width="1"/>
<line x1="110.4" y1="193.0" x2="124.60000000000001" y2="193.0" stroke="#8fc3e4" stroke-width="1"/>
<line x1="110.4" y1="110.4" x2="124.60000000000001" y2="110.4" stroke="#8fc3e4" stroke-width="1"/>
<line x1="110.4" y1="27.8" x2="124.60000000000001" y2="27.8" stroke="#8fc3e4" stroke-width="1"/>
<line x1="1530.2" y1="358.2" x2="1516.0" y2="358.2" stroke="#eca98c" stroke-width="1"/>
<line x1="1530.2" y1="193.0" x2="1516.0" y2="193.0" stroke="#eca98c" stroke-width="1"/>
<line x1="1530.2" y1="27.8" x2="1516.0" y2="27.8" stroke="#eca98c" stroke-width="1"/>
<line x1="1530.2" y1="275.6" x2="1516.0" y2="275.6" stroke="#4b9cd3" stroke-width="1"/>
<line x1="1530.2" y1="110.4" x2="1516.0" y2="110.4" stroke="#4b9cd3" stroke-width="1"/>
<text x="110.4" y="396" text-anchor="middle" font-size="30.7" fill="#262626" font-family="Liberation Sans, Arial, sans-serif" font-weight="bold">200</text>
<text x="252.4" y="396" text-anchor="middle" font-size="30.7" fill="#262626" font-family="Liberation Sans, Arial, sans-serif" font-weight="bold">400</text>
<text x="394.4" y="396" text-anchor="middle" font-size="30.7" fill="#262626" font-family="Liberation Sans, Arial, sans-serif" font-weight="bold">600</text>
<text x="536.3" y="396" text-anchor="middle" font-size="30.7" fill="#262626" font-family="Liberation Sans, Arial, sans-serif" font-weight="bold">800</text>
<text x="678.3" y="396" text-anchor="middle" font-size="30.7" fill="#262626" font-family="Liberation Sans, Arial, sans-serif" font-weight="bold">1000</text>
<text x="820.3" y="396" text-anchor="middle" font-size="30.7" fill="#262626" font-family="Liberation Sans, Arial, sans-serif" font-weight="bold">1200</text>
<text x="962.3" y="396" text-anchor="middle" font-size="30.7" fill="#262626" font-family="Liberation Sans, Arial, sans-serif" font-weight="bold">1400</text>
<text x="1104.3" y="396" text-anchor="middle" font-size="30.7" fill="#262626" font-family="Liberation Sans, Arial, sans-serif" font-weight="bold">1600</text>
<text x="1246.2" y="396" text-anchor="middle" font-size="30.7" fill="#262626" font-family="Liberation Sans, Arial, sans-serif" font-weight="bold">1800</text>
<text x="1388.2" y="396" text-anchor="middle" font-size="30.7" fill="#262626" font-family="Liberation Sans, Arial, sans-serif" font-weight="bold">2000</text>
<text x="1530.2" y="396" text-anchor="middle" font-size="30.7" fill="#262626" font-family="Liberation Sans, Arial, sans-serif" font-weight="bold">2200</text>
<text x="98.5" y="369.1" text-anchor="end" font-size="30.7" fill="#0072BD" font-family="Liberation Sans, Arial, sans-serif" font-weight="bold">-1</text>
<text x="98.5" y="286.5" text-anchor="end" font-size="30.7" fill="#0072BD" font-family="Liberation Sans, Arial, sans-serif" font-weight="bold">-0.5</text>
<text x="98.5" y="203.9" text-anchor="end" font-size="30.7" fill="#0072BD" font-family="Liberation Sans, Arial, sans-serif" font-weight="bold">0</text>
<text x="98.5" y="121.3" text-anchor="end" font-size="30.7" fill="#0072BD" font-family="Liberation Sans, Arial, sans-serif" font-weight="bold">0.5</text>
<text x="98.5" y="38.7" text-anchor="end" font-size="30.7" fill="#0072BD" font-family="Liberation Sans, Arial, sans-serif" font-weight="bold">1</text>
<text x="1540" y="369.1" text-anchor="start" font-size="30.7" fill="#D95319" font-family="Liberation Sans, Arial, sans-serif" font-weight="bold">-1</text>
<text x="1540" y="203.9" text-anchor="start" font-size="30.7" fill="#D95319" font-family="Liberation Sans, Arial, sans-serif" font-weight="bold">0</text>
<text x="1540" y="38.7" text-anchor="start" font-size="30.7" fill="#D95319" font-family="Liberation Sans, Arial, sans-serif" font-weight="bold">1</text>
<text transform="translate(40,193) rotate(-90)" text-anchor="middle" font-size="33" fill="#0072BD" font-family="Liberation Sans, Arial, sans-serif" font-weight="bold">elevation</text>
<text transform="translate(1602,193) rotate(-90)" text-anchor="middle" font-size="33" fill="#D95319" font-family="Liberation Sans, Arial, sans-serif" font-weight="bold">intensity</text>
<text x="90.5" y="438" font-size="47" fill="#262626" font-family="Liberation Sans, Arial, sans-serif" font-weight="bold">a)</text>
<line x1="110.4" y1="487.4" x2="110.4" y2="817.3" stroke="#e8e8e8" stroke-width="1"/>
<line x1="252.4" y1="487.4" x2="252.4" y2="817.3" stroke="#e8e8e8" stroke-width="1"/>
<line x1="394.4" y1="487.4" x2="394.4" y2="817.3" stroke="#e8e8e8" stroke-width="1"/>
<line x1="536.3" y1="487.4" x2="536.3" y2="817.3" stroke="#e8e8e8" stroke-width="1"/>
<line x1="678.3" y1="487.4" x2="678.3" y2="817.3" stroke="#e8e8e8" stroke-width="1"/>
<line x1="820.3" y1="487.4" x2="820.3" y2="817.3" stroke="#e8e8e8" stroke-width="1"/>
<line x1="962.3" y1="487.4" x2="962.3" y2="817.3" stroke="#e8e8e8" stroke-width="1"/>
<line x1="1104.3" y1="487.4" x2="1104.3" y2="817.3" stroke="#e8e8e8" stroke-width="1"/>
<line x1="1246.2" y1="487.4" x2="1246.2" y2="817.3" stroke="#e8e8e8" stroke-width="1"/>
<line x1="1388.2" y1="487.4" x2="1388.2" y2="817.3" stroke="#e8e8e8" stroke-width="1"/>
<line x1="1530.2" y1="487.4" x2="1530.2" y2="817.3" stroke="#e8e8e8" stroke-width="1"/>
<line x1="110.4" y1="798.6" x2="1530.2" y2="798.6" stroke="#e9e9e9" stroke-width="1"/>
<line x1="110.4" y1="725.0" x2="1530.2" y2="725.0" stroke="#e9e9e9" stroke-width="1"/>
<line x1="110.4" y1="651.4" x2="1530.2" y2="651.4" stroke="#e9e9e9" stroke-width="1"/>
<line x1="110.4" y1="577.8" x2="1530.2" y2="577.8" stroke="#e9e9e9" stroke-width="1"/>
<line x1="110.4" y1="504.2" x2="1530.2" y2="504.2" stroke="#e9e9e9" stroke-width="1"/>
<path d="M110.4 636.2 L111.1 646.2 L111.8 656.3 L112.5 666.2 L113.2 676.2 L113.9 686.0 L114.7 695.6 L115.4 705.0 L116.1 714.2 L116.8 723.0 L117.5 731.6 L118.2 739.7 L118.9 747.5 L119.6 754.8 L120.3 761.6 L121.0 767.9 L121.8 773.7 L122.5 778.9 L123.2 783.6 L123.9 787.6 L124.6 791.1 L125.3 793.9 L126.0 796.0 L126.7 797.5 L127.4 798.4 L128.1 798.6 L128.9 798.1 L129.6 797.0 L130.3 795.3 L131.0 792.9 L131.7 789.9 L132.4 786.3 L133.1 782.2 L133.8 777.4 L134.5 772.2 L135.2 766.4 L136.0 760.2 L136.7 753.5 L137.4 746.3 L138.1 738.8 L138.8 730.9 L139.5 722.7 L140.2 714.2 L140.9 705.4 L141.6 696.4 L142.3 687.2 L143.1 677.9 L143.8 668.4 L144.5 658.9 L145.2 649.4 L145.9 639.8 L146.6 630.3 L147.3 620.9 L148.0 611.6 L148.7 602.5 L149.4 593.6 L150.2 584.9 L150.9 576.5 L151.6 568.4 L152.3 560.6 L153.0 553.3 L153.7 546.3 L154.4 539.8 L155.1 533.7 L155.8 528.1 L156.5 523.1 L157.3 518.6 L158.0 514.7 L158.7 511.4 L159.4 508.7 L160.1 506.6 L160.8 505.1 L161.5 504.3 L162.2 504.2 L162.9 504.7 L163.6 505.9 L164.4 507.8 L165.1 510.3 L165.8 513.5 L166.5 517.4 L167.2 521.8 L167.9 526.9 L168.6 532.6 L169.3 538.8 L170.0 545.6 L170.7 552.9 L171.5 560.6 L172.2 568.8 L172.9 577.4 L173.6 586.4 L174.3 595.7 L175.0 605.2 L175.7 615.0 L176.4 625.0 L177.1 635.1 L177.8 645.3 L178.6 655.5 L179.3 665.7 L180.0 675.8 L180.7 685.8 L181.4 695.7 L182.1 705.3 L182.8 714.7 L183.5 723.8 L184.2 732.5 L184.9 740.8 L185.6 748.7 L186.4 756.1 L187.1 763.0 L187.8 769.4 L188.5 775.2 L189.2 780.4 L189.9 785.0 L190.6 788.9 L191.3 792.2 L192.0 794.8 L192.7 796.8 L193.5 798.0 L194.2 798.6 L194.9 798.4 L195.6 797.6 L196.3 796.1 L197.0 793.9 L197.7 791.1 L198.4 787.6 L199.1 783.5 L199.8 778.7 L200.6 773.4 L201.3 767.5 L202.0 761.1 L202.7 754.1 L203.4 746.7 L204.1 738.9 L204.8 730.6 L205.5 722.0 L206.2 713.1 L206.9 703.9 L207.7 694.4 L208.4 684.8 L209.1 675.0 L209.8 665.0 L210.5 655.1 L211.2 645.1 L211.9 635.1 L212.6 625.2 L213.3 615.5 L214.0 605.9 L214.8 596.5 L215.5 587.4 L216.2 578.5 L216.9 570.0 L217.6 561.9 L218.3 554.2 L219.0 546.9 L219.7 540.1 L220.4 533.8 L221.1 528.1 L221.9 522.9 L222.6 518.3 L223.3 514.4 L224.0 511.0 L224.7 508.3 L225.4 506.3 L226.1 504.9 L226.8 504.3 L227.5 504.3 L228.2 504.9 L229.0 506.3 L229.7 508.3 L230.4 511.0 L231.1 514.4 L231.8 518.4 L232.5 523.0 L233.2 528.2 L233.9 533.9 L234.6 540.3 L235.3 547.1 L236.1 554.4 L236.8 562.2 L237.5 570.4 L238.2 578.9 L238.9 587.8 L239.6 597.0 L240.3 606.5 L241.0 616.1 L241.7 625.9 L242.4 635.9 L243.2 645.9 L243.9 655.9 L244.6 665.9 L245.3 675.9 L246.0 685.7 L246.7 695.4 L247.4 704.8 L248.1 714.1 L248.8 723.0 L249.5 731.6 L250.3 739.8 L251.0 747.6 L251.7 755.0 L252.4 761.9 L253.1 768.2 L253.8 774.1 L254.5 779.3 L255.2 784.0 L255.9 788.0 L256.6 791.4 L257.3 794.2 L258.1 796.3 L258.8 797.7 L259.5 798.5 L260.2 798.5 L260.9 797.9 L261.6 796.6 L262.3 794.7 L263.0 792.1 L263.7 788.8 L264.4 784.9 L265.2 780.3 L265.9 775.2 L266.6 769.5 L267.3 763.3 L268.0 756.5 L268.7 749.2 L269.4 741.5 L270.1 733.4 L270.8 724.9 L271.5 716.1 L272.3 707.0 L273.0 697.6 L273.7 688.0 L274.4 678.2 L275.1 668.3 L275.8 658.3 L276.5 648.3 L277.2 638.3 L277.9 628.4 L278.6 618.6 L279.4 608.9 L280.1 599.4 L280.8 590.2 L281.5 581.2 L282.2 572.6 L282.9 564.4 L283.6 556.5 L284.3 549.1 L285.0 542.1 L285.7 535.7 L286.5 529.8 L287.2 524.4 L287.9 519.6 L288.6 515.5 L289.3 512.0 L290.0 509.1 L290.7 506.8 L291.4 505.3 L292.1 504.4 L292.8 504.2 L293.6 504.7 L294.3 505.8 L295.0 507.7 L295.7 510.1 L296.4 513.3 L297.1 517.1 L297.8 521.5 L298.5 526.5 L299.2 532.0 L299.9 538.2 L300.7 544.8 L301.4 552.0 L302.1 559.6 L302.8 567.6 L303.5 576.0 L304.2 584.8 L304.9 593.8 L305.6 603.2 L306.3 612.7 L307.0 622.4 L307.8 632.3 L308.5 642.3 L309.2 652.3 L309.9 662.3 L310.6 672.2 L311.3 682.1 L312.0 691.8 L312.7 701.3 L313.4 710.6 L314.1 719.6 L314.9 728.3 L315.6 736.7 L316.3 744.6 L317.0 752.1 L317.7 759.2 L318.4 765.8 L319.1 771.8 L319.8 777.3 L320.5 782.2 L321.2 786.5 L322.0 790.1 L322.7 793.2 L323.4 795.5 L324.1 797.2 L324.8 798.3 L325.5 798.6 L326.2 798.3 L326.9 797.2 L327.6 795.5 L328.3 793.2 L329.0 790.1 L329.8 786.4 L330.5 782.1 L331.2 777.2 L331.9 771.7 L332.6 765.6 L333.3 759.0 L334.0 751.9 L334.7 744.3 L335.4 736.3 L336.1 727.8 L336.9 719.0 L337.6 709.9 L338.3 700.6 L339.0 691.0 L339.7 681.2 L340.4 671.2 L341.1 661.2 L341.8 651.1 L342.5 641.1 L343.2 631.1 L344.0 621.1 L344.7 611.4 L345.4 601.8 L346.1 592.4 L346.8 583.3 L347.5 574.6 L348.2 566.2 L348.9 558.2 L349.6 550.6 L350.3 543.6 L351.1 537.0 L351.8 530.9 L352.5 525.4 L353.2 520.5 L353.9 516.3 L354.6 512.6 L355.3 509.6 L356.0 507.2 L356.7 505.5 L357.4 504.5 L358.2 504.2 L358.9 504.5 L359.6 505.5 L360.3 507.2 L361.0 509.6 L361.7 512.5 L362.4 516.2 L363.1 520.4 L363.8 525.2 L364.5 530.6 L365.3 536.6 L366.0 543.1 L366.7 550.0 L367.4 557.4 L368.1 565.3 L368.8 573.5 L369.5 582.1 L370.2 591.0 L370.9 600.1 L371.6 609.5 L372.4 619.1 L373.1 628.8 L373.8 638.7 L374.5 648.5 L375.2 658.4 L375.9 668.3 L376.6 678.1 L377.3 687.8 L378.0 697.3 L378.7 706.6 L379.5 715.6 L380.2 724.4 L380.9 732.8 L381.6 740.9 L382.3 748.5 L383.0 755.7 L383.7 762.5 L384.4 768.7 L385.1 774.5 L385.8 779.6 L386.6 784.2 L387.3 788.2 L388.0 791.5 L388.7 794.3 L389.4 796.3 L390.1 797.7 L390.8 798.5 L391.5 798.6 L392.2 797.9 L392.9 796.7 L393.7 794.7 L394.4 792.1 L395.1 788.9 L395.8 785.0 L396.5 780.5 L397.2 775.4 L397.9 769.7 L398.6 763.5 L399.3 756.8 L400.0 749.5 L400.7 741.9 L401.5 733.8 L402.2 725.3 L402.9 716.5 L403.6 707.3 L404.3 698.0 L405.0 688.4 L405.7 678.6 L406.4 668.7 L407.1 658.7 L407.8 648.7 L408.6 638.7 L409.3 628.7 L410.0 618.9 L410.7 609.2 L411.4 599.7 L412.1 590.5 L412.8 581.5 L413.5 572.8 L414.2 564.5 L414.9 556.7 L415.7 549.2 L416.4 542.2 L417.1 535.8 L417.8 529.8 L418.5 524.5 L419.2 519.7 L419.9 515.5 L420.6 512.0 L421.3 509.1 L422.0 506.8 L422.8 505.3 L423.5 504.4 L424.2 504.2 L424.9 504.7 L425.6 505.8 L426.3 507.7 L427.0 510.2 L427.7 513.3 L428.4 517.2 L429.1 521.6 L429.9 526.7 L430.6 532.3 L431.3 538.5 L432.0 545.2 L432.7 552.4 L433.4 560.1 L434.1 568.3 L434.8 576.8 L435.5 585.6 L436.2 594.8 L437.0 604.3 L437.7 613.9 L438.4 623.7 L439.1 633.7 L439.8 643.7 L440.5 653.8 L441.2 663.9 L441.9 673.9 L442.6 683.8 L443.3 693.5 L444.1 703.0 L444.8 712.3 L445.5 721.3 L446.2 730.0 L446.9 738.3 L447.6 746.1 L448.3 753.6 L449.0 760.5 L449.7 767.0 L450.4 772.9 L451.2 778.2 L451.9 783.0 L452.6 787.2 L453.3 790.7 L454.0 793.6 L454.7 795.8 L455.4 797.4 L456.1 798.3 L456.8 798.6 L457.5 798.2 L458.3 797.1 L459.0 795.4 L459.7 793.1 L460.4 790.1 L461.1 786.5 L461.8 782.3 L462.5 777.5 L463.2 772.1 L463.9 766.2 L464.6 759.8 L465.4 752.9 L466.1 745.6 L466.8 737.8 L467.5 729.7 L468.2 721.2 L468.9 712.4 L469.6 703.4 L470.3 694.1 L471.0 684.7 L471.7 675.1 L472.4 665.4 L473.2 655.7 L473.9 646.0 L474.6 636.3 L475.3 626.6 L476.0 617.2 L476.7 607.8 L477.4 598.7 L478.1 589.8 L478.8 581.2 L479.5 573.0 L480.3 565.0 L481.0 557.5 L481.7 550.4 L482.4 543.7 L483.1 537.5 L483.8 531.7 L484.5 526.5 L485.2 521.9 L485.9 517.8 L486.6 514.2 L487.4 511.2 L488.1 508.9 L488.8 507.1 L489.5 505.9 L490.2 505.3 L490.9 505.2 L491.6 505.8 L492.3 507.0 L493.0 508.7 L493.7 511.0 L494.5 513.9 L495.2 517.3 L495.9 521.2 L496.6 525.7 L497.3 530.6 L498.0 536.0 L498.7 541.8 L499.4 548.1 L500.1 554.7 L500.8 561.7 L501.6 569.1 L502.3 576.7 L503.0 584.6 L503.7 592.8 L504.4 601.1 L505.1 609.7 L505.8 618.4 L506.5 627.1 L507.2 636.0 L507.9 644.9 L508.7 653.8 L509.4 662.7 L510.1 671.5 L510.8 680.2 L511.5 688.8 L512.2 697.3 L512.9 705.5 L513.6 713.5 L514.3 721.3 L515.0 728.8 L515.8 736.0 L516.5 742.9 L517.2 749.4 L517.9 755.6 L518.6 761.3 L519.3 766.6 L520.0 771.6 L520.7 776.0 L521.4 780.0 L522.1 783.6 L522.9 786.6 L523.6 789.2 L524.3 791.2 L525.0 792.8 L525.7 793.9 L526.4 794.5 L527.1 794.5 L527.8 794.1 L528.5 793.2 L529.2 791.8 L530.0 789.9 L530.7 787.5 L531.4 784.7 L532.1 781.4 L532.8 777.7 L533.5 773.6 L534.2 769.1 L534.9 764.2 L535.6 758.9 L536.3 753.3 L537.0 747.4 L537.8 741.2 L538.5 734.7 L539.2 727.9 L539.9 720.9 L540.6 713.7 L541.3 706.3 L542.0 698.7 L542.7 691.0 L543.4 683.2 L544.1 675.3 L544.9 667.4 L545.6 659.4 L546.3 651.4 L547.0 643.5 L547.7 635.5 L548.4 627.7 L549.1 619.9 L549.8 612.3 L550.5 604.8 L551.2 597.4 L552.0 590.3 L552.7 583.3 L553.4 576.6 L554.1 570.1 L554.8 563.9 L555.5 558.0 L556.2 552.4 L556.9 547.1 L557.6 542.1 L558.3 537.5 L559.1 533.2 L559.8 529.3 L560.5 525.8 L561.2 522.6 L561.9 519.9 L562.6 517.6 L563.3 515.7 L564.0 514.2 L564.7 513.1 L565.4 512.5 L566.2 512.3 L566.9 512.5 L567.6 513.1 L568.3 514.2 L569.0 515.6 L569.7 517.5 L570.4 519.8 L571.1 522.5 L571.8 525.6 L572.5 529.0 L573.3 532.9 L574.0 537.0 L574.7 541.5 L575.4 546.4 L576.1 551.5 L576.8 557.0 L577.5 562.7 L578.2 568.7 L578.9 574.9 L579.6 581.4 L580.4 588.0 L581.1 594.8 L581.8 601.8 L582.5 609.0 L583.2 616.2 L583.9 623.5 L584.6 630.9 L585.3 638.4 L586.0 645.9 L586.7 653.4 L587.5 660.9 L588.2 668.3 L588.9 675.7 L589.6 683.0 L590.3 690.1 L591.0 697.2 L591.7 704.1 L592.4 710.9 L593.1 717.5 L593.8 723.9 L594.6 730.0 L595.3 735.9 L596.0 741.6 L596.7 747.0 L597.4 752.2 L598.1 757.0 L598.8 761.5 L599.5 765.8 L600.2 769.6 L600.9 773.2 L601.7 776.4 L602.4 779.3 L603.1 781.8 L603.8 783.9 L604.5 785.7 L605.2 787.1 L605.9 788.1 L606.6 788.7 L607.3 789.0 L608.0 788.9 L608.7 788.5 L609.5 787.6 L610.2 786.4 L610.9 784.9 L611.6 783.0 L612.3 780.8 L613.0 778.2 L613.7 775.3 L614.4 772.1 L615.1 768.6 L615.8 764.7 L616.6 760.6 L617.3 756.2 L618.0 751.6 L618.7 746.7 L619.4 741.6 L620.1 736.2 L620.8 730.7 L621.5 724.9 L622.2 719.0 L622.9 712.9 L623.7 706.7 L624.4 700.3 L625.1 693.9 L625.8 687.3 L626.5 680.7 L627.2 673.9 L627.9 667.2 L628.6 660.4 L629.3 653.6 L630.0 646.8 L630.8 640.0 L631.5 633.2 L632.2 626.5 L632.9 619.9 L633.6 613.4 L634.3 606.9 L635.0 600.6 L635.7 594.4 L636.4 588.3 L637.1 582.4 L637.9 576.7 L638.6 571.1 L639.3 565.8 L640.0 560.6 L640.7 555.7 L641.4 551.0 L642.1 546.6 L642.8 542.4 L643.5 538.5 L644.2 534.8 L645.0 531.4 L645.7 528.4 L646.4 525.6 L647.1 523.1 L647.8 520.9 L648.5 519.1 L649.2 517.5 L649.9 516.3 L650.6 515.4 L651.3 514.9 L652.1 514.6 L652.8 514.7 L653.5 515.2 L654.2 515.9 L654.9 517.0 L655.6 518.4 L656.3 520.2 L657.0 522.2 L657.7 524.6 L658.4 527.2 L659.2 530.2 L659.9 533.4 L660.6 537.0 L661.3 540.8 L662.0 544.8 L662.7 549.1 L663.4 553.7 L664.1 558.5 L664.8 563.5 L665.5 568.7 L666.3 574.1 L667.0 579.7 L667.7 585.5 L668.4 591.4 L669.1 597.5 L669.8 603.7 L670.5 610.0 L671.2 616.4 L671.9 622.8 L672.6 629.4 L673.4 635.9 L674.1 642.6 L674.8 649.2 L675.5 655.8 L676.2 662.4 L676.9 669.0 L677.6 675.6 L678.3 682.1 L679.0 688.5 L679.7 694.8 L680.4 701.0 L681.2 707.1 L681.9 713.1 L682.6 718.9 L683.3 724.6 L684.0 730.0 L684.7 735.3 L685.4 740.4 L686.1 745.3 L686.8 750.0 L687.5 754.4 L688.3 758.6 L689.0 762.6 L689.7 766.3 L690.4 769.7 L691.1 772.8 L691.8 775.7 L692.5 778.3 L693.2 780.6 L693.9 782.6 L694.6 784.3 L695.4 785.7 L696.1 786.8 L696.8 787.5 L697.5 788.0 L698.2 788.2 L698.9 788.0 L699.6 787.5 L700.3 786.8 L701.0 785.7 L701.7 784.3 L702.5 782.6 L703.2 780.7 L703.9 778.4 L704.6 775.9 L705.3 773.1 L706.0 770.0 L706.7 766.6 L707.4 763.1 L708.1 759.2 L708.8 755.1 L709.6 750.8 L710.3 746.3 L711.0 741.5 L711.7 736.6 L712.4 731.5 L713.1 726.2 L713.8 720.8 L714.5 715.1 L715.2 709.4 L715.9 703.5 L716.7 697.6 L717.4 691.5 L718.1 685.3 L718.8 679.1 L719.5 672.8 L720.2 666.4 L720.9 660.1 L721.6 653.7 L722.3 647.3 L723.0 640.9 L723.8 634.6 L724.5 628.2 L725.2 622.0 L725.9 615.8 L726.6 609.7 L727.3 603.6 L728.0 597.7 L728.7 591.9 L729.4 586.2 L730.1 580.7 L730.9 575.3 L731.6 570.1 L732.3 565.0 L733.0 560.2 L733.7 555.5 L734.4 551.1 L735.1 546.8 L735.8 542.8 L736.5 539.0 L737.2 535.5 L738.0 532.2 L738.7 529.2 L739.4 526.4 L740.1 523.9 L740.8 521.7 L741.5 519.7 L742.2 518.1 L742.9 516.7 L743.6 515.6 L744.3 514.8 L745.1 514.3 L745.8 514.1 L746.5 514.1 L747.2 514.5 L747.9 515.2 L748.6 516.1 L749.3 517.4 L750.0 518.9 L750.7 520.7 L751.4 522.8 L752.1 525.2 L752.9 527.8 L753.6 530.7 L754.3 533.9 L755.0 537.3 L755.7 541.0 L756.4 544.9 L757.1 549.0 L757.8 553.4 L758.5 557.9 L759.2 562.7 L760.0 567.6 L760.7 572.7 L761.4 578.0 L762.1 583.5 L762.8 589.0 L763.5 594.8 L764.2 600.6 L764.9 606.5 L765.6 612.6 L766.3 618.7 L767.1 624.9 L767.8 631.1 L768.5 637.4 L769.2 643.7 L769.9 650.0 L770.6 656.4 L771.3 662.7 L772.0 669.0 L772.7 675.2 L773.4 681.4 L774.2 687.5 L774.9 693.6 L775.6 699.6 L776.3 705.4 L777.0 711.2 L777.7 716.8 L778.4 722.2 L779.1 727.6 L779.8 732.7 L780.5 737.7 L781.3 742.5 L782.0 747.1 L782.7 751.6 L783.4 755.8 L784.1 759.8 L784.8 763.5 L785.5 767.1 L786.2 770.3 L786.9 773.4 L787.6 776.2 L788.4 778.7 L789.1 781.0 L789.8 783.0 L790.5 784.8 L791.2 786.2 L791.9 787.4 L792.6 788.4 L793.3 789.0 L794.0 789.4 L794.7 789.5 L795.5 789.3 L796.2 788.8 L796.9 788.1 L797.6 787.1 L798.3 785.8 L799.0 784.3 L799.7 782.5 L800.4 780.5 L801.1 778.2 L801.8 775.6 L802.6 772.8 L803.3 769.8 L804.0 766.6 L804.7 763.1 L805.4 759.4 L806.1 755.5 L806.8 751.4 L807.5 747.1 L808.2 742.7 L808.9 738.0 L809.7 733.2 L810.4 728.3 L811.1 723.2 L811.8 718.0 L812.5 712.6 L813.2 707.1 L813.9 701.5 L814.6 695.9 L815.3 690.1 L816.0 684.3 L816.8 678.4 L817.5 672.5 L818.2 666.5 L818.9 660.5 L819.6 654.5 L820.3 648.4 L821.0 642.4 L821.7 636.4 L822.4 630.5 L823.1 624.5 L823.8 618.7 L824.6 612.8 L825.3 607.1 L826.0 601.4 L826.7 595.9 L827.4 590.4 L828.1 585.1 L828.8 579.8 L829.5 574.7 L830.2 569.8 L830.9 565.0 L831.7 560.4 L832.4 555.9 L833.1 551.6 L833.8 547.5 L834.5 543.6 L835.2 539.9 L835.9 536.4 L836.6 533.1 L837.3 530.1 L838.0 527.2 L838.8 524.6 L839.5 522.3 L840.2 520.1 L840.9 518.3 L841.6 516.6 L842.3 515.3 L843.0 514.1 L843.7 513.3 L844.4 512.7 L845.1 512.4 L845.9 512.3 L846.6 512.5 L847.3 512.9 L848.0 513.7 L848.7 514.6 L849.4 515.9 L850.1 517.4 L850.8 519.2 L851.5 521.2 L852.2 523.4 L853.0 525.9 L853.7 528.7 L854.4 531.6 L855.1 534.9 L855.8 538.3 L856.5 541.9 L857.2 545.8 L857.9 549.9 L858.6 554.1 L859.3 558.6 L860.1 563.2 L860.8 568.0 L861.5 572.9 L862.2 578.0 L862.9 583.3 L863.6 588.7 L864.3 594.2 L865.0 599.8 L865.7 605.5 L866.4 611.3 L867.2 617.2 L867.9 623.1 L868.6 629.1 L869.3 635.1 L870.0 641.2 L870.7 647.3 L871.4 653.4 L872.1 659.5 L872.8 665.6 L873.5 671.6 L874.3 677.6 L875.0 683.6 L875.7 689.5 L876.4 695.3 L877.1 701.1 L877.8 706.7 L878.5 712.3 L879.2 717.7 L879.9 723.0 L880.6 728.2 L881.4 733.2 L882.1 738.1 L882.8 742.8 L883.5 747.3 L884.2 751.7 L884.9 755.8 L885.6 759.8 L886.3 763.6 L887.0 767.1 L887.7 770.4 L888.5 773.6 L889.2 776.4 L889.9 779.1 L890.6 781.5 L891.3 783.7 L892.0 785.6 L892.7 787.3 L893.4 788.7 L894.1 789.9 L894.8 790.8 L895.5 791.4 L896.3 791.8 L897.0 792.0 L897.7 791.9 L898.4 791.5 L899.1 790.9 L899.8 790.0 L900.5 788.9 L901.2 787.5 L901.9 785.9 L902.6 784.0 L903.4 781.9 L904.1 779.6 L904.8 777.0 L905.5 774.2 L906.2 771.2 L906.9 768.0 L907.6 764.6 L908.3 761.0 L909.0 757.2 L909.7 753.2 L910.5 749.0 L911.2 744.7 L911.9 740.1 L912.6 735.5 L913.3 730.7 L914.0 725.7 L914.7 720.6 L915.4 715.4 L916.1 710.1 L916.8 704.7 L917.6 699.2 L918.3 693.6 L919.0 688.0 L919.7 682.2 L920.4 676.5 L921.1 670.6 L921.8 664.8 L922.5 658.9 L923.2 653.0 L923.9 647.1 L924.7 641.3 L925.4 635.4 L926.1 629.5 L926.8 623.7 L927.5 618.0 L928.2 612.3 L928.9 606.7 L929.6 601.1 L930.3 595.7 L931.0 590.3 L931.8 585.0 L932.5 579.9 L933.2 574.9 L933.9 570.0 L934.6 565.2 L935.3 560.6 L936.0 556.2 L936.7 551.9 L937.4 547.8 L938.1 543.8 L938.9 540.1 L939.6 536.6 L940.3 533.2 L941.0 530.1 L941.7 527.1 L942.4 524.4 L943.1 521.9 L943.8 519.6 L944.5 517.6 L945.2 515.8 L946.0 514.2 L946.7 512.9 L947.4 511.8 L948.1 511.0 L948.8 510.4 L949.5 510.0 L950.2 509.9 L950.9 510.1 L951.6 510.5 L952.3 511.2 L953.1 512.1 L953.8 513.2 L954.5 514.6 L955.2 516.3 L955.9 518.2 L956.6 520.3 L957.3 522.7 L958.0 525.3 L958.7 528.1 L959.4 531.2 L960.2 534.5 L960.9 537.9 L961.6 541.6 L962.3 545.5 L963.0 549.6 L963.7 553.9 L964.4 558.3 L965.1 562.9 L965.8 567.7 L966.5 572.6 L967.2 577.7 L968.0 582.9 L968.7 588.2 L969.4 593.7 L970.1 599.3 L970.8 604.9 L971.5 610.7 L972.2 616.5 L972.9 622.4 L973.6 628.3 L974.3 634.3 L975.1 640.3 L975.8 646.3 L976.5 652.4 L977.2 658.4 L977.9 664.5 L978.6 670.5 L979.3 676.4 L980.0 682.4 L980.7 688.3 L981.4 694.1 L982.2 699.8 L982.9 705.5 L983.6 711.1 L984.3 716.5 L985.0 721.8 L985.7 727.1 L986.4 732.1 L987.1 737.1 L987.8 741.8 L988.5 746.5 L989.3 750.9 L990.0 755.2 L990.7 759.3 L991.4 763.1 L992.1 766.8 L992.8 770.3 L993.5 773.6 L994.2 776.6 L994.9 779.5 L995.6 782.1 L996.4 784.4 L997.1 786.6 L997.8 788.5 L998.5 790.1 L999.2 791.5 L999.9 792.7 L1000.6 793.6 L1001.3 794.2 L1002.0 794.6 L1002.7 794.8 L1003.5 794.7 L1004.2 794.3 L1004.9 793.7 L1005.6 792.9 L1006.3 791.8 L1007.0 790.4 L1007.7 788.8 L1008.4 787.0 L1009.1 784.9 L1009.8 782.6 L1010.6 780.1 L1011.3 777.4 L1012.0 774.4 L1012.7 771.2 L1013.4 767.9 L1014.1 764.3 L1014.8 760.5 L1015.5 756.5 L1016.2 752.4 L1016.9 748.0 L1017.7 743.6 L1018.4 738.9 L1019.1 734.1 L1019.8 729.2 L1020.5 724.1 L1021.2 718.9 L1021.9 713.6 L1022.6 708.1 L1023.3 702.6 L1024.0 697.0 L1024.8 691.3 L1025.5 685.6 L1026.2 679.7 L1026.9 673.9 L1027.6 668.0 L1028.3 662.0 L1029.0 656.1 L1029.7 650.1 L1030.4 644.2 L1031.1 638.2 L1031.9 632.3 L1032.6 626.4 L1033.3 620.5 L1034.0 614.7 L1034.7 609.0 L1035.4 603.3 L1036.1 597.7 L1036.8 592.2 L1037.5 586.8 L1038.2 581.5 L1038.9 576.4 L1039.7 571.3 L1040.4 566.4 L1041.1 561.6 L1041.8 557.0 L1042.5 552.6 L1043.2 548.3 L1043.9 544.2 L1044.6 540.2 L1045.3 536.5 L1046.0 532.9 L1046.8 529.6 L1047.5 526.5 L1048.2 523.5 L1048.9 520.8 L1049.6 518.3 L1050.3 516.1 L1051.0 514.0 L1051.7 512.2 L1052.4 510.7 L1053.1 509.3 L1053.9 508.3 L1054.6 507.4 L1055.3 506.8 L1056.0 506.5 L1056.7 506.4 L1057.4 506.5 L1058.1 507.0 L1058.8 507.6 L1059.5 508.5 L1060.2 509.6 L1061.0 511.0 L1061.7 512.7 L1062.4 514.5 L1063.1 516.6 L1063.8 519.0 L1064.5 521.5 L1065.2 524.3 L1065.9 527.3 L1066.6 530.5 L1067.3 534.0 L1068.1 537.6 L1068.8 541.4 L1069.5 545.4 L1070.2 549.6 L1070.9 554.0 L1071.6 558.6 L1072.3 563.3 L1073.0 568.1 L1073.7 573.1 L1074.4 578.3 L1075.2 583.6 L1075.9 589.0 L1076.6 594.4 L1077.3 600.0 L1078.0 605.7 L1078.7 611.5 L1079.4 617.3 L1080.1 623.2 L1080.8 629.2 L1081.5 635.2 L1082.3 641.2 L1083.0 647.2 L1083.7 653.2 L1084.4 659.3 L1085.1 665.3 L1085.8 671.3 L1086.5 677.3 L1087.2 683.2 L1087.9 689.1 L1088.6 694.9 L1089.4 700.6 L1090.1 706.2 L1090.8 711.8 L1091.5 717.2 L1092.2 722.6 L1092.9 727.8 L1093.6 732.9 L1094.3 737.8 L1095.0 742.6 L1095.7 747.3 L1096.5 751.8 L1097.2 756.1 L1097.9 760.2 L1098.6 764.1 L1099.3 767.9 L1100.0 771.5 L1100.7 774.8 L1101.4 777.9 L1102.1 780.9 L1102.8 783.6 L1103.6 786.1 L1104.3 788.3 L1105.0 790.3 L1105.7 792.1 L1106.4 793.7 L1107.1 795.0 L1107.8 796.0 L1108.5 796.9 L1109.2 797.4 L1109.9 797.8 L1110.6 797.9 L1111.4 797.7 L1112.1 797.3 L1112.8 796.7 L1113.5 795.8 L1114.2 794.6 L1114.9 793.3 L1115.6 791.7 L1116.3 789.8 L1117.0 787.8 L1117.7 785.5 L1118.5 783.0 L1119.2 780.3 L1119.9 777.3 L1120.6 774.2 L1121.3 770.9 L1122.0 767.3 L1122.7 763.6 L1123.4 759.7 L1124.1 755.6 L1124.8 751.3 L1125.6 746.9 L1126.3 742.4 L1127.0 737.6 L1127.7 732.8 L1128.4 727.8 L1129.1 722.7 L1129.8 717.4 L1130.5 712.1 L1131.2 706.6 L1131.9 701.1 L1132.7 695.5 L1133.4 689.8 L1134.1 684.1 L1134.8 678.3 L1135.5 672.4 L1136.2 666.6 L1136.9 660.6 L1137.6 654.7 L1138.3 648.8 L1139.0 642.9 L1139.8 637.0 L1140.5 631.1 L1141.2 625.2 L1141.9 619.4 L1142.6 613.6 L1143.3 607.9 L1144.0 602.3 L1144.7 596.7 L1145.4 591.3 L1146.1 585.9 L1146.9 580.6 L1147.6 575.5 L1148.3 570.4 L1149.0 565.5 L1149.7 560.8 L1150.4 556.2 L1151.1 551.7 L1151.8 547.4 L1152.5 543.3 L1153.2 539.3 L1154.0 535.5 L1154.7 531.9 L1155.4 528.5 L1156.1 525.3 L1156.8 522.4 L1157.5 519.6 L1158.2 517.0 L1158.9 514.7 L1159.6 512.6 L1160.3 510.7 L1161.1 509.0 L1161.8 507.6 L1162.5 506.5 L1163.2 505.5 L1163.9 504.8 L1164.6 504.4 L1165.3 504.2 L1166.0 504.2 L1166.7 504.5 L1167.4 505.1 L1168.2 505.9 L1168.9 506.9 L1169.6 508.2 L1170.3 509.7 L1171.0 511.5 L1171.7 513.5 L1172.4 515.8 L1173.1 518.2 L1173.8 521.0 L1174.5 523.9 L1175.2 527.0 L1176.0 530.4 L1176.7 534.0 L1177.4 537.8 L1178.1 541.8 L1178.8 545.9 L1179.5 550.3 L1180.2 554.8 L1180.9 559.5 L1181.6 564.4 L1182.3 569.4 L1183.1 574.6 L1183.8 579.9 L1184.5 585.3 L1185.2 590.8 L1185.9 596.5 L1186.6 602.2 L1187.3 608.0 L1188.0 613.9 L1188.7 619.9 L1189.4 625.9 L1190.2 632.0 L1190.9 638.1 L1191.6 644.2 L1192.3 650.3 L1193.0 656.5 L1193.7 662.6 L1194.4 668.7 L1195.1 674.8 L1195.8 680.8 L1196.5 686.8 L1197.3 692.7 L1198.0 698.6 L1198.7 704.4 L1199.4 710.0 L1200.1 715.6 L1200.8 721.1 L1201.5 726.4 L1202.2 731.6 L1202.9 736.7 L1203.6 741.6 L1204.4 746.3 L1205.1 750.9 L1205.8 755.3 L1206.5 759.6 L1207.2 763.6 L1207.9 767.5 L1208.6 771.1 L1209.3 774.5 L1210.0 777.8 L1210.7 780.8 L1211.5 783.6 L1212.2 786.1 L1212.9 788.5 L1213.6 790.6 L1214.3 792.4 L1215.0 794.0 L1215.7 795.4 L1216.4 796.5 L1217.1 797.4 L1217.8 798.1 L1218.6 798.5 L1219.3 798.6 L1220.0 798.5 L1220.7 798.2 L1221.4 797.6 L1222.1 796.7 L1222.8 795.7 L1223.5 794.4 L1224.2 792.8 L1224.9 791.1 L1225.7 789.1 L1226.4 786.8 L1227.1 784.4 L1227.8 781.7 L1228.5 778.9 L1229.2 775.8 L1229.9 772.5 L1230.6 769.0 L1231.3 765.4 L1232.0 761.5 L1232.8 757.5 L1233.5 753.3 L1234.2 749.0 L1234.9 744.5 L1235.6 739.8 L1236.3 735.0 L1237.0 730.1 L1237.7 725.1 L1238.4 719.9 L1239.1 714.6 L1239.9 709.2 L1240.6 703.8 L1241.3 698.2 L1242.0 692.6 L1242.7 686.9 L1243.4 681.2 L1244.1 675.4 L1244.8 669.6 L1245.5 663.7 L1246.2 657.8 L1246.9 651.9 L1247.7 646.1 L1248.4 640.2 L1249.1 634.3 L1249.8 628.5 L1250.5 622.7 L1251.2 616.9 L1251.9 611.2 L1252.6 605.6 L1253.3 600.0 L1254.0 594.6 L1254.8 589.2 L1255.5 583.9 L1256.2 578.7 L1256.9 573.6 L1257.6 568.7 L1258.3 563.8 L1259.0 559.2 L1259.7 554.6 L1260.4 550.3 L1261.1 546.0 L1261.9 542.0 L1262.6 538.1 L1263.3 534.4 L1264.0 530.9 L1264.7 527.6 L1265.4 524.5 L1266.1 521.6 L1266.8 518.9 L1267.5 516.4 L1268.2 514.1 L1269.0 512.1 L1269.7 510.3 L1270.4 508.7 L1271.1 507.3 L1271.8 506.2 L1272.5 505.4 L1273.2 504.7 L1273.9 504.3 L1274.6 504.2 L1275.3 504.3 L1276.1 504.6 L1276.8 505.2 L1277.5 506.1 L1278.2 507.1 L1278.9 508.5 L1279.6 510.0 L1280.3 511.8 L1281.0 513.9 L1281.7 516.2 L1282.4 518.7 L1283.2 521.4 L1283.9 524.4 L1284.6 527.6 L1285.3 531.0 L1286.0 534.6 L1286.7 538.4 L1287.4 542.4 L1288.1 546.6 L1288.8 550.9 L1289.5 555.5 L1290.3 560.2 L1291.0 565.1 L1291.7 570.1 L1292.4 575.3 L1293.1 580.6 L1293.8 586.0 L1294.5 591.6 L1295.2 597.2 L1295.9 602.9 L1296.6 608.8 L1297.4 614.7 L1298.1 620.6 L1298.8 626.7 L1299.5 632.7 L1300.2 638.8 L1300.9 645.0 L1301.6 651.1 L1302.3 657.2 L1303.0 663.3 L1303.7 669.4 L1304.5 675.5 L1305.2 681.5 L1305.9 687.5 L1306.6 693.4 L1307.3 699.3 L1308.0 705.0 L1308.7 710.7 L1309.4 716.2 L1310.1 721.7 L1310.8 727.0 L1311.6 732.2 L1312.3 737.2 L1313.0 742.1 L1313.7 746.8 L1314.4 751.4 L1315.1 755.8 L1315.8 760.0 L1316.5 764.0 L1317.2 767.9 L1317.9 771.5 L1318.6 774.9 L1319.4 778.1 L1320.1 781.1 L1320.8 783.8 L1321.5 786.4 L1322.2 788.7 L1322.9 790.8 L1323.6 792.6 L1324.3 794.2 L1325.0 795.5 L1325.7 796.6 L1326.5 797.5 L1327.2 798.1 L1327.9 798.5 L1328.6 798.6 L1329.3 798.5 L1330.0 798.1 L1330.7 797.5 L1331.4 796.7 L1332.1 795.6 L1332.8 794.2 L1333.6 792.7 L1334.3 790.9 L1335.0 788.9 L1335.7 786.6 L1336.4 784.2 L1337.1 781.5 L1337.8 778.6 L1338.5 775.5 L1339.2 772.2 L1339.9 768.7 L1340.7 765.0 L1341.4 761.2 L1342.1 757.1 L1342.8 752.9 L1343.5 748.6 L1344.2 744.1 L1344.9 739.4 L1345.6 734.6 L1346.3 729.7 L1347.0 724.6 L1347.8 719.4 L1348.5 714.1 L1349.2 708.7 L1349.9 703.3 L1350.6 697.7 L1351.3 692.1 L1352.0 686.4 L1352.7 680.6 L1353.4 674.8 L1354.1 669.0 L1354.9 663.2 L1355.6 657.3 L1356.3 651.4 L1357.0 645.5 L1357.7 639.6 L1358.4 633.8 L1359.1 627.9 L1359.8 622.1 L1360.5 616.4 L1361.2 610.7 L1362.0 605.1 L1362.7 599.5 L1363.4 594.0 L1364.1 588.7 L1364.8 583.4 L1365.5 578.2 L1366.2 573.1 L1366.9 568.2 L1367.6 563.4 L1368.3 558.7 L1369.1 554.2 L1369.8 549.8 L1370.5 545.6 L1371.2 541.6 L1371.9 537.7 L1372.6 534.1 L1373.3 530.6 L1374.0 527.3 L1374.7 524.2 L1375.4 521.3 L1376.2 518.6 L1376.9 516.2 L1377.6 513.9 L1378.3 511.9 L1379.0 510.1 L1379.7 508.6 L1380.4 507.2 L1381.1 506.1 L1381.8 505.3 L1382.5 504.7 L1383.3 504.3 L1384.0 504.2 L1384.7 504.3 L1385.4 504.7 L1386.1 505.3 L1386.8 506.1 L1387.5 507.3 L1388.2 508.6 L1388.9 510.2 L1389.6 512.0 L1390.3 514.1 L1391.1 516.4 L1391.8 518.9 L1392.5 521.7 L1393.2 524.7 L1393.9 527.9 L1394.6 531.3 L1395.3 534.9 L1396.0 538.7 L1396.7 542.7 L1397.4 546.9 L1398.2 551.3 L1398.9 555.9 L1399.6 560.6 L1400.3 565.5 L1401.0 570.5 L1401.7 575.7 L1402.4 581.0 L1403.1 586.5 L1403.8 592.0 L1404.5 597.6 L1405.3 603.4 L1406.0 609.2 L1406.7 615.1 L1407.4 621.1 L1408.1 627.1 L1408.8 633.2 L1409.5 639.3 L1410.2 645.4 L1410.9 651.5 L1411.6 657.6 L1412.4 663.8 L1413.1 669.9 L1413.8 675.9 L1414.5 681.9 L1415.2 687.9 L1415.9 693.8 L1416.6 699.6 L1417.3 705.4 L1418.0 711.0 L1418.7 716.6 L1419.5 722.0 L1420.2 727.3 L1420.9 732.5 L1421.6 737.5 L1422.3 742.4 L1423.0 747.1 L1423.7 751.7 L1424.4 756.1 L1425.1 760.3 L1425.8 764.3 L1426.6 768.1 L1427.3 771.7 L1428.0 775.1 L1428.7 778.3 L1429.4 781.3 L1430.1 784.0 L1430.8 786.6 L1431.5 788.9 L1432.2 790.9 L1432.9 792.7 L1433.7 794.3 L1434.4 795.6 L1435.1 796.7 L1435.8 797.6 L1436.5 798.2 L1437.2 798.5 L1437.9 798.6 L1438.6 798.5 L1439.3 798.1 L1440.0 797.4 L1440.8 796.5 L1441.5 795.4 L1442.2 794.0 L1442.9 792.4 L1443.6 790.6 L1444.3 788.5 L1445.0 786.3 L1445.7 783.7 L1446.4 781.0 L1447.1 778.1 L1447.9 774.9 L1448.6 771.6 L1449.3 768.0 L1450.0 764.3 L1450.7 760.3 L1451.4 756.2 L1452.1 751.9 L1452.8 747.5 L1453.5 742.9 L1454.2 738.2 L1455.0 733.3 L1455.7 728.3 L1456.4 723.1 L1457.1 717.8 L1457.8 712.5 L1458.5 707.0 L1459.2 701.5 L1459.9 695.8 L1460.6 690.1 L1461.3 684.3 L1462.0 678.5 L1462.8 672.6 L1463.5 666.7 L1464.2 660.8 L1464.9 654.9 L1465.6 648.9 L1466.3 643.0 L1467.0 637.1 L1467.7 631.2 L1468.4 625.3 L1469.1 619.5 L1469.9 613.7 L1470.6 608.0 L1471.3 602.3 L1472.0 596.8 L1472.7 591.3 L1473.4 585.9 L1474.1 580.6 L1474.8 575.5 L1475.5 570.5 L1476.2 565.6 L1477.0 560.8 L1477.7 556.2 L1478.4 551.7 L1479.1 547.4 L1479.8 543.3 L1480.5 539.3 L1481.2 535.6 L1481.9 532.0 L1482.6 528.6 L1483.3 525.4 L1484.1 522.4 L1484.8 519.7 L1485.5 517.1 L1486.2 514.8 L1486.9 512.7 L1487.6 510.8 L1488.3 509.1 L1489.0 507.7 L1489.7 506.5 L1490.4 505.6 L1491.2 504.9 L1491.9 504.4 L1492.6 504.2 L1493.3 504.2 L1494.0 504.5 L1494.7 505.0 L1495.4 505.8 L1496.1 506.8 L1496.8 508.0 L1497.5 509.5 L1498.3 511.2 L1499.0 513.1 L1499.7 515.3 L1500.4 517.7 L1501.1 520.3 L1501.8 523.1 L1502.5 526.2 L1503.2 529.4 L1503.9 532.9 L1504.6 536.6 L1505.4 540.4 L1506.1 544.4 L1506.8 548.7 L1507.5 553.0 L1508.2 557.6 L1508.9 562.3 L1509.6 567.2 L1510.3 572.1 L1511.0 577.3 L1511.7 582.5 L1512.5 587.9 L1513.2 593.4 L1513.9 598.9 L1514.6 604.6 L1515.3 610.3 L1516.0 616.1 L1516.7 622.0 L1517.4 627.9 L1518.1 633.9 L1518.8 639.8 L1519.6 645.8 L1520.3 651.8 L1521.0 657.9 L1521.7 663.9 L1522.4 669.8 L1523.1 675.8 L1523.8 681.7 L1524.5 687.6 L1525.2 693.4 L1525.9 699.1 L1526.7 704.8 L1527.4 710.3 L1528.1 715.8 L1528.8 721.1 L1529.5 726.4 L1530.2 731.5" fill="none" stroke="#0072BD" stroke-width="3.9" stroke-linejoin="round" stroke-linecap="butt" clip-path="url(#clb)"/>
<path d="M110.4 634.7 L111.1 645.7 L111.8 656.8 L112.5 667.8 L113.2 678.9 L113.9 689.8 L114.7 700.6 L115.4 711.2 L116.1 721.5 L116.8 731.5 L117.5 741.2 L118.2 750.5 L118.9 759.3 L119.6 767.6 L120.3 775.4 L121.0 782.6 L121.8 789.2 L122.5 795.2 L123.2 800.5 L123.9 805.1 L124.6 809.1 L125.3 812.3 L126.0 814.8 L126.7 816.5 L127.4 817.5 L128.1 817.7 L128.9 817.2 L129.6 815.9 L130.3 813.9 L131.0 811.0 L131.7 807.5 L132.4 803.2 L133.1 798.3 L133.8 792.6 L134.5 786.4 L135.2 779.6 L136.0 772.3 L136.7 764.5 L137.4 756.3 L138.1 747.6 L138.8 738.6 L139.5 729.3 L140.2 719.7 L140.9 709.9 L141.6 699.9 L142.3 689.9 L143.1 679.7 L143.8 669.5 L144.5 659.4 L145.2 649.2 L145.9 639.2 L146.6 629.4 L147.3 619.7 L148.0 610.2 L148.7 601.0 L149.4 592.1 L150.2 583.5 L150.9 575.2 L151.6 567.3 L152.3 559.8 L153.0 552.7 L153.7 546.1 L154.4 540.0 L155.1 534.3 L155.8 529.1 L156.5 524.5 L157.3 520.3 L158.0 516.8 L158.7 513.7 L159.4 511.3 L160.1 509.4 L160.8 508.0 L161.5 507.3 L162.2 507.1 L162.9 507.7 L163.6 508.8 L164.4 510.6 L165.1 513.0 L165.8 516.1 L166.5 519.8 L167.2 524.1 L167.9 529.0 L168.6 534.5 L169.3 540.6 L170.0 547.1 L170.7 554.2 L171.5 561.8 L172.2 569.8 L172.9 578.2 L173.6 587.0 L174.3 596.2 L175.0 605.6 L175.7 615.2 L176.4 625.1 L177.1 635.1 L177.8 645.3 L178.6 655.5 L179.3 665.7 L180.0 675.8 L180.7 685.9 L181.4 695.8 L182.1 705.6 L182.8 715.1 L183.5 724.4 L184.2 733.3 L184.9 741.8 L185.6 749.9 L186.4 757.6 L187.1 764.8 L187.8 771.4 L188.5 777.5 L189.2 783.0 L189.9 787.9 L190.6 792.1 L191.3 795.7 L192.0 798.5 L192.7 800.7 L193.5 802.2 L194.2 803.0 L194.9 803.1 L195.6 802.4 L196.3 801.1 L197.0 799.1 L197.7 796.5 L198.4 793.1 L199.1 789.1 L199.8 784.4 L200.6 779.1 L201.3 773.2 L202.0 766.8 L202.7 759.7 L203.4 752.1 L204.1 744.1 L204.8 735.5 L205.5 726.6 L206.2 717.2 L206.9 707.5 L207.7 697.5 L208.4 687.3 L209.1 676.8 L209.8 666.1 L210.5 655.4 L211.2 644.5 L211.9 633.7 L212.6 622.9 L213.3 612.1 L214.0 601.5 L214.8 591.1 L215.5 581.0 L216.2 571.1 L216.9 561.5 L217.6 552.4 L218.3 543.7 L219.0 535.4 L219.7 527.7 L220.4 520.5 L221.1 514.0 L221.9 508.1 L222.6 502.8 L223.3 498.2 L224.0 494.4 L224.7 491.3 L225.4 489.0 L226.1 487.4 L226.8 486.6 L227.5 486.6 L228.2 487.4 L229.0 489.0 L229.7 491.3 L230.4 494.4 L231.1 498.2 L231.8 502.7 L232.5 508.0 L233.2 513.9 L233.9 520.4 L234.6 527.6 L235.3 535.3 L236.1 543.6 L236.8 552.3 L237.5 561.5 L238.2 571.1 L238.9 581.0 L239.6 591.3 L240.3 601.8 L241.0 612.5 L241.7 623.4 L242.4 634.3 L243.2 645.3 L243.9 656.3 L244.6 667.3 L245.3 678.1 L246.0 688.8 L246.7 699.3 L247.4 709.5 L248.1 719.4 L248.8 729.0 L249.5 738.2 L250.3 746.9 L251.0 755.2 L251.7 763.0 L252.4 770.2 L253.1 776.8 L253.8 782.9 L254.5 788.3 L255.2 793.1 L255.9 797.2 L256.6 800.6 L257.3 803.4 L258.1 805.4 L258.8 806.7 L259.5 807.3 L260.2 807.2 L260.9 806.3 L261.6 804.8 L262.3 802.5 L263.0 799.5 L263.7 795.8 L264.4 791.5 L265.2 786.5 L265.9 780.9 L266.6 774.8 L267.3 768.1 L268.0 760.8 L268.7 753.1 L269.4 745.0 L270.1 736.4 L270.8 727.5 L271.5 718.2 L272.3 708.7 L273.0 698.9 L273.7 689.0 L274.4 678.9 L275.1 668.7 L275.8 658.5 L276.5 648.3 L277.2 638.1 L277.9 628.0 L278.6 618.1 L279.4 608.3 L280.1 598.7 L280.8 589.5 L281.5 580.5 L282.2 571.9 L282.9 563.6 L283.6 555.8 L284.3 548.4 L285.0 541.6 L285.7 535.2 L286.5 529.4 L287.2 524.1 L287.9 519.4 L288.6 515.3 L289.3 511.8 L290.0 509.0 L290.7 506.8 L291.4 505.3 L292.1 504.4 L292.8 504.2 L293.6 504.7 L294.3 505.8 L295.0 507.6 L295.7 510.1 L296.4 513.2 L297.1 516.9 L297.8 521.3 L298.5 526.2 L299.2 531.8 L299.9 537.9 L300.7 544.5 L301.4 551.6 L302.1 559.2 L302.8 567.2 L303.5 575.6 L304.2 584.4 L304.9 593.5 L305.6 602.8 L306.3 612.4 L307.0 622.2 L307.8 632.1 L308.5 642.2 L309.2 652.3 L309.9 662.4 L310.6 672.5 L311.3 682.5 L312.0 692.3 L312.7 702.0 L313.4 711.5 L314.1 720.7 L314.9 729.6 L315.6 738.2 L316.3 746.4 L317.0 754.1 L317.7 761.4 L318.4 768.2 L319.1 774.5 L319.8 780.2 L320.5 785.3 L321.2 789.9 L322.0 793.7 L322.7 797.0 L323.4 799.5 L324.1 801.4 L324.8 802.5 L325.5 803.0 L326.2 802.8 L326.9 801.9 L327.6 800.3 L328.3 797.9 L329.0 795.0 L329.8 791.3 L330.5 787.0 L331.2 782.0 L331.9 776.5 L332.6 770.3 L333.3 763.5 L334.0 756.3 L334.7 748.5 L335.4 740.2 L336.1 731.5 L336.9 722.4 L337.6 712.9 L338.3 703.1 L339.0 693.1 L339.7 682.8 L340.4 672.4 L341.1 661.8 L341.8 651.1 L342.5 640.4 L343.2 629.8 L344.0 619.2 L344.7 608.8 L345.4 598.5 L346.1 588.4 L346.8 578.6 L347.5 569.2 L348.2 560.1 L348.9 551.5 L349.6 543.2 L350.3 535.5 L351.1 528.4 L351.8 521.8 L352.5 515.8 L353.2 510.4 L353.9 505.7 L354.6 501.7 L355.3 498.4 L356.0 495.8 L356.7 493.9 L357.4 492.8 L358.2 492.4 L358.9 492.8 L359.6 493.9 L360.3 495.7 L361.0 498.2 L361.7 501.4 L362.4 505.3 L363.1 509.9 L363.8 515.1 L364.5 521.0 L365.3 527.4 L366.0 534.4 L366.7 541.9 L367.4 549.9 L368.1 558.4 L368.8 567.3 L369.5 576.5 L370.2 586.1 L370.9 596.0 L371.6 606.2 L372.4 616.5 L373.1 627.0 L373.8 637.6 L374.5 648.3 L375.2 659.0 L375.9 669.7 L376.6 680.2 L377.3 690.7 L378.0 700.9 L378.7 711.0 L379.5 720.7 L380.2 730.2 L380.9 739.3 L381.6 748.0 L382.3 756.3 L383.0 764.1 L383.7 771.4 L384.4 778.1 L385.1 784.3 L385.8 789.9 L386.6 794.8 L387.3 799.1 L388.0 802.8 L388.7 805.7 L389.4 807.9 L390.1 809.5 L390.8 810.2 L391.5 810.3 L392.2 809.6 L392.9 808.2 L393.7 806.1 L394.4 803.2 L395.1 799.6 L395.8 795.3 L396.5 790.4 L397.2 784.8 L397.9 778.6 L398.6 771.8 L399.3 764.5 L400.0 756.6 L400.7 748.3 L401.5 739.5 L402.2 730.4 L402.9 720.9 L403.6 711.1 L404.3 701.0 L405.0 690.7 L405.7 680.3 L406.4 669.8 L407.1 659.2 L407.8 648.5 L408.6 638.0 L409.3 627.5 L410.0 617.1 L410.7 607.0 L411.4 597.0 L412.1 587.3 L412.8 578.0 L413.5 569.0 L414.2 560.4 L414.9 552.2 L415.7 544.5 L416.4 537.3 L417.1 530.7 L417.8 524.6 L418.5 519.1 L419.2 514.2 L419.9 509.9 L420.6 506.3 L421.3 503.3 L422.0 501.0 L422.8 499.4 L423.5 498.5 L424.2 498.3 L424.9 498.8 L425.6 500.0 L426.3 501.9 L427.0 504.5 L427.7 507.8 L428.4 511.8 L429.1 516.4 L429.9 521.7 L430.6 527.5 L431.3 534.0 L432.0 541.0 L432.7 548.5 L433.4 556.5 L434.1 564.9 L434.8 573.8 L435.5 583.0 L436.2 592.5 L437.0 602.4 L437.7 612.4 L438.4 622.6 L439.1 633.0 L439.8 643.4 L440.5 653.9 L441.2 664.4 L441.9 674.8 L442.6 685.1 L443.3 695.2 L444.1 705.1 L444.8 714.7 L445.5 724.1 L446.2 733.1 L446.9 741.7 L447.6 749.9 L448.3 757.7 L449.0 764.9 L449.7 771.6 L450.4 777.8 L451.2 783.3 L451.9 788.3 L452.6 792.6 L453.3 796.3 L454.0 799.3 L454.7 801.6 L455.4 803.3 L456.1 804.2 L456.8 804.5 L457.5 804.1 L458.3 802.9 L459.0 801.1 L459.7 798.6 L460.4 795.5 L461.1 791.6 L461.8 787.2 L462.5 782.1 L463.2 776.5 L463.9 770.3 L464.6 763.5 L465.4 756.3 L466.1 748.6 L466.8 740.5 L467.5 732.1 L468.2 723.2 L468.9 714.1 L469.6 704.8 L470.3 695.2 L471.0 685.5 L471.7 675.6 L472.4 665.7 L473.2 655.8 L473.9 645.8 L474.6 636.0 L475.3 626.2 L476.0 616.6 L476.7 607.2 L477.4 598.0 L478.1 589.1 L478.8 580.5 L479.5 572.2 L480.3 564.3 L481.0 556.8 L481.7 549.7 L482.4 543.1 L483.1 536.9 L483.8 531.3 L484.5 526.2 L485.2 521.6 L485.9 517.5 L486.6 514.0 L487.4 511.1 L488.1 508.8 L488.8 507.0 L489.5 505.9 L490.2 505.3 L490.9 505.2 L491.6 505.8 L492.3 507.0 L493.0 508.7 L493.7 511.0 L494.5 513.9 L495.2 517.3 L495.9 521.2 L496.6 525.7 L497.3 530.6 L498.0 536.0 L498.7 541.8 L499.4 548.1 L500.1 554.7 L500.8 561.7 L501.6 569.1 L502.3 576.7 L503.0 584.6 L503.7 592.8 L504.4 601.1 L505.1 609.7 L505.8 618.4 L506.5 627.1 L507.2 636.0 L507.9 644.9 L508.7 653.8 L509.4 662.7 L510.1 671.5 L510.8 680.2 L511.5 688.8 L512.2 697.3 L512.9 705.5 L513.6 713.5 L514.3 721.3 L515.0 728.8 L515.8 736.0 L516.5 742.9 L517.2 749.4 L517.9 755.6 L518.6 761.3 L519.3 766.6 L520.0 771.6 L520.7 776.0 L521.4 780.0 L522.1 783.6 L522.9 786.6 L523.6 789.2 L524.3 791.2 L525.0 792.8 L525.7 793.9 L526.4 794.5 L527.1 794.5 L527.8 794.1 L528.5 793.2 L529.2 791.8 L530.0 789.9 L530.7 787.5 L531.4 784.7 L532.1 781.4 L532.8 777.7 L533.5 773.6 L534.2 769.1 L534.9 764.2 L535.6 758.9 L536.3 753.3 L537.0 747.4 L537.8 741.2 L538.5 734.7 L539.2 727.9 L539.9 720.9 L540.6 713.7 L541.3 706.3 L542.0 698.7 L542.7 691.0 L543.4 683.2 L544.1 675.3 L544.9 667.4 L545.6 659.4 L546.3 651.4 L547.0 643.5 L547.7 635.5 L548.4 627.7 L549.1 619.9 L549.8 612.3 L550.5 604.8 L551.2 597.4 L552.0 590.3 L552.7 583.3 L553.4 576.6 L554.1 570.1 L554.8 563.9 L555.5 558.0 L556.2 552.4 L556.9 547.1 L557.6 542.1 L558.3 537.5 L559.1 533.2 L559.8 529.3 L560.5 525.8 L561.2 522.6 L561.9 519.9 L562.6 517.6 L563.3 515.7 L564.0 514.2 L564.7 513.1 L565.4 512.5 L566.2 512.3 L566.9 512.5 L567.6 513.1 L568.3 514.2 L569.0 515.7 L569.7 517.6 L570.4 519.9 L571.1 522.7 L571.8 525.8 L572.5 529.3 L573.3 533.1 L574.0 537.4 L574.7 541.9 L575.4 546.8 L576.1 552.0 L576.8 557.5 L577.5 563.2 L578.2 569.2 L578.9 575.5 L579.6 581.9 L580.4 588.5 L581.1 595.4 L581.8 602.3 L582.5 609.4 L583.2 616.6 L583.9 623.9 L584.6 631.2 L585.3 638.6 L586.0 646.0 L586.7 653.3 L587.5 660.7 L588.2 668.0 L588.9 675.2 L589.6 682.4 L590.3 689.4 L591.0 696.3 L591.7 703.1 L592.4 709.6 L593.1 716.0 L593.8 722.2 L594.6 728.2 L595.3 733.9 L596.0 739.4 L596.7 744.6 L597.4 749.6 L598.1 754.2 L598.8 758.6 L599.5 762.7 L600.2 766.4 L600.9 769.8 L601.7 772.9 L602.4 775.6 L603.1 778.0 L603.8 780.0 L604.5 781.7 L605.2 783.0 L605.9 784.0 L606.6 784.6 L607.3 784.9 L608.0 784.8 L608.7 784.4 L609.5 783.6 L610.2 782.4 L610.9 780.9 L611.6 779.1 L612.3 777.0 L613.0 774.5 L613.7 771.7 L614.4 768.6 L615.1 765.2 L615.8 761.5 L616.6 757.5 L617.3 753.3 L618.0 748.8 L618.7 744.1 L619.4 739.1 L620.1 734.0 L620.8 728.6 L621.5 723.0 L622.2 717.3 L622.9 711.4 L623.7 705.3 L624.4 699.1 L625.1 692.8 L625.8 686.4 L626.5 680.0 L627.2 673.4 L627.9 666.8 L628.6 660.2 L629.3 653.5 L630.0 646.9 L630.8 640.2 L631.5 633.6 L632.2 627.0 L632.9 620.5 L633.6 614.1 L634.3 607.8 L635.0 601.5 L635.7 595.4 L636.4 589.4 L637.1 583.6 L637.9 577.9 L638.6 572.4 L639.3 567.1 L640.0 562.0 L640.7 557.1 L641.4 552.5 L642.1 548.1 L642.8 543.9 L643.5 540.0 L644.2 536.3 L645.0 533.0 L645.7 529.9 L646.4 527.1 L647.1 524.6 L647.8 522.4 L648.5 520.6 L649.2 519.0 L649.9 517.8 L650.6 516.9 L651.3 516.3 L652.1 516.0 L652.8 516.1 L653.5 516.5 L654.2 517.2 L654.9 518.2 L655.6 519.6 L656.3 521.3 L657.0 523.3 L657.7 525.6 L658.4 528.2 L659.2 531.1 L659.9 534.3 L660.6 537.8 L661.3 541.6 L662.0 545.6 L662.7 549.8 L663.4 554.3 L664.1 559.1 L664.8 564.0 L665.5 569.2 L666.3 574.6 L667.0 580.1 L667.7 585.9 L668.4 591.7 L669.1 597.8 L669.8 603.9 L670.5 610.2 L671.2 616.5 L671.9 622.9 L672.6 629.4 L673.4 636.0 L674.1 642.6 L674.8 649.2 L675.5 655.8 L676.2 662.4 L676.9 669.0 L677.6 675.5 L678.3 682.0 L679.0 688.4 L679.7 694.7 L680.4 700.9 L681.2 707.0 L681.9 713.0 L682.6 718.8 L683.3 724.4 L684.0 729.9 L684.7 735.2 L685.4 740.3 L686.1 745.2 L686.8 749.9 L687.5 754.4 L688.3 758.6 L689.0 762.5 L689.7 766.2 L690.4 769.6 L691.1 772.8 L691.8 775.7 L692.5 778.3 L693.2 780.6 L693.9 782.6 L694.6 784.3 L695.4 785.7 L696.1 786.8 L696.8 787.5 L697.5 788.0 L698.2 788.2 L698.9 788.0 L699.6 787.5 L700.3 786.8 L701.0 785.7 L701.7 784.3 L702.5 782.6 L703.2 780.7 L703.9 778.4 L704.6 775.9 L705.3 773.1 L706.0 770.0 L706.7 766.6 L707.4 763.1 L708.1 759.2 L708.8 755.1 L709.6 750.8 L710.3 746.3 L711.0 741.5 L711.7 736.6 L712.4 731.5 L713.1 726.2 L713.8 720.8 L714.5 715.1 L715.2 709.4 L715.9 703.5 L716.7 697.6 L717.4 691.5 L718.1 685.3 L718.8 679.1 L719.5 672.8 L720.2 666.4 L720.9 660.1 L721.6 653.7 L722.3 647.3 L723.0 640.9 L723.8 634.6 L724.5 628.2 L725.2 622.0 L725.9 615.8 L726.6 609.7 L727.3 603.6 L728.0 597.7 L728.7 591.9 L729.4 586.2 L730.1 580.7 L730.9 575.3 L731.6 570.1 L732.3 565.0 L733.0 560.2 L733.7 555.5 L734.4 551.1 L735.1 546.8 L735.8 542.8 L736.5 539.0 L737.2 535.5 L738.0 532.2 L738.7 529.2 L739.4 526.4 L740.1 523.9 L740.8 521.7 L741.5 519.7 L742.2 518.1 L742.9 516.7 L743.6 515.6 L744.3 514.8 L745.1 514.3 L745.8 514.1 L746.5 514.1 L747.2 514.5 L747.9 515.2 L748.6 516.1 L749.3 517.4 L750.0 518.9 L750.7 520.7 L751.4 522.8 L752.1 525.2 L752.9 527.8 L753.6 530.7 L754.3 533.9 L755.0 537.3 L755.7 541.0 L756.4 544.9 L757.1 549.0 L757.8 553.4 L758.5 557.9 L759.2 562.7 L760.0 567.6 L760.7 572.7 L761.4 578.0 L762.1 583.5 L762.8 589.0 L763.5 594.8 L764.2 600.6 L764.9 606.5 L765.6 612.6 L766.3 618.7 L767.1 624.9 L767.8 631.1 L768.5 637.4 L769.2 643.7 L769.9 650.0 L770.6 656.4 L771.3 662.7 L772.0 669.0 L772.7 675.2 L773.4 681.4 L774.2 687.5 L774.9 693.6 L775.6 699.6 L776.3 705.4 L777.0 711.2 L777.7 716.8 L778.4 722.2 L779.1 727.6 L779.8 732.7 L780.5 737.7 L781.3 742.5 L782.0 747.1 L782.7 751.6 L783.4 755.8 L784.1 759.8 L784.8 763.5 L785.5 767.1 L786.2 770.3 L786.9 773.4 L787.6 776.2 L788.4 778.7 L789.1 781.0 L789.8 783.0 L790.5 784.8 L791.2 786.2 L791.9 787.4 L792.6 788.4 L793.3 789.0 L794.0 789.4 L794.7 789.5 L795.5 789.3 L796.2 788.8 L796.9 788.1 L797.6 787.1 L798.3 785.8 L799.0 784.3 L799.7 782.5 L800.4 780.5 L801.1 778.2 L801.8 775.6 L802.6 772.8 L803.3 769.8 L804.0 766.6 L804.7 763.1 L805.4 759.4 L806.1 755.5 L806.8 751.4 L807.5 747.1 L808.2 742.7 L808.9 738.0 L809.7 733.2 L810.4 728.3 L811.1 723.2 L811.8 718.0 L812.5 712.6 L813.2 707.1 L813.9 701.5 L814.6 695.9 L815.3 690.1 L816.0 684.3 L816.8 678.4 L817.5 672.5 L818.2 666.5 L818.9 660.5 L819.6 654.5 L820.3 648.4 L821.0 642.4 L821.7 636.4 L822.4 630.5 L823.1 624.5 L823.8 618.7 L824.6 612.8 L825.3 607.1 L826.0 601.4 L826.7 595.9 L827.4 590.4 L828.1 585.1 L828.8 579.8 L829.5 574.7 L830.2 569.8 L830.9 565.0 L831.7 560.4 L832.4 555.9 L833.1 551.6 L833.8 547.5 L834.5 543.6 L835.2 539.9 L835.9 536.4 L836.6 533.1 L837.3 530.1 L838.0 527.2 L838.8 524.6 L839.5 522.3 L840.2 520.1 L840.9 518.3 L841.6 516.6 L842.3 515.3 L843.0 514.1 L843.7 513.3 L844.4 512.7 L845.1 512.4 L845.9 512.3 L846.6 512.5 L847.3 512.9 L848.0 513.7 L848.7 514.6 L849.4 515.9 L850.1 517.4 L850.8 519.2 L851.5 521.2 L852.2 523.4 L853.0 525.9 L853.7 528.7 L854.4 531.6 L855.1 534.9 L855.8 538.3 L856.5 541.9 L857.2 545.8 L857.9 549.9 L858.6 554.1 L859.3 558.6 L860.1 563.2 L860.8 568.0 L861.5 572.9 L862.2 578.0 L862.9 583.3 L863.6 588.7 L864.3 594.2 L865.0 599.8 L865.7 605.5 L866.4 611.3 L867.2 617.2 L867.9 623.1 L868.6 629.1 L869.3 635.1 L870.0 641.2 L870.7 647.3 L871.4 653.4 L872.1 659.5 L872.8 665.6 L873.5 671.6 L874.3 677.6 L875.0 683.6 L875.7 689.5 L876.4 695.3 L877.1 701.1 L877.8 706.7 L878.5 712.3 L879.2 717.7 L879.9 723.0 L880.6 728.2 L881.4 733.2 L882.1 738.1 L882.8 742.8 L883.5 747.3 L884.2 751.7 L884.9 755.8 L885.6 759.8 L886.3 763.6 L887.0 767.1 L887.7 770.4 L888.5 773.6 L889.2 776.4 L889.9 779.1 L890.6 781.5 L891.3 783.7 L892.0 785.6 L892.7 787.3 L893.4 788.7 L894.1 789.9 L894.8 790.8 L895.5 791.4 L896.3 791.8 L897.0 792.0 L897.7 791.9 L898.4 791.5 L899.1 790.8 L899.8 789.9 L900.5 788.7 L901.2 787.3 L901.9 785.6 L902.6 783.7 L903.4 781.6 L904.1 779.2 L904.8 776.5 L905.5 773.7 L906.2 770.6 L906.9 767.3 L907.6 763.8 L908.3 760.1 L909.0 756.2 L909.7 752.1 L910.5 747.9 L911.2 743.5 L911.9 739.0 L912.6 734.3 L913.3 729.4 L914.0 724.5 L914.7 719.4 L915.4 714.2 L916.1 708.9 L916.8 703.5 L917.6 698.1 L918.3 692.6 L919.0 687.0 L919.7 681.4 L920.4 675.7 L921.1 670.1 L921.8 664.4 L922.5 658.7 L923.2 653.0 L923.9 647.3 L924.7 641.6 L925.4 636.0 L926.1 630.4 L926.8 624.9 L927.5 619.4 L928.2 614.0 L928.9 608.7 L929.6 603.5 L930.3 598.3 L931.0 593.3 L931.8 588.4 L932.5 583.6 L933.2 578.9 L933.9 574.4 L934.6 570.0 L935.3 565.8 L936.0 561.7 L936.7 557.7 L937.4 554.0 L938.1 550.4 L938.9 547.0 L939.6 543.8 L940.3 540.7 L941.0 537.9 L941.7 535.2 L942.4 532.8 L943.1 530.5 L943.8 528.5 L944.5 526.7 L945.2 525.0 L946.0 523.6 L946.7 522.5 L947.4 521.5 L948.1 520.7 L948.8 520.2 L949.5 519.9 L950.2 519.8 L950.9 520.0 L951.6 520.3 L952.3 520.9 L953.1 521.7 L953.8 522.7 L954.5 524.0 L955.2 525.4 L955.9 527.1 L956.6 529.0 L957.3 531.1 L958.0 533.4 L958.7 535.9 L959.4 538.6 L960.2 541.5 L960.9 544.7 L961.6 548.0 L962.3 551.5 L963.0 555.2 L963.7 559.1 L964.4 563.1 L965.1 567.4 L965.8 571.8 L966.5 576.3 L967.2 581.0 L968.0 585.9 L968.7 590.9 L969.4 596.0 L970.1 601.2 L970.8 606.6 L971.5 612.0 L972.2 617.6 L972.9 623.2 L973.6 628.9 L974.3 634.7 L975.1 640.6 L975.8 646.4 L976.5 652.3 L977.2 658.3 L977.9 664.2 L978.6 670.2 L979.3 676.2 L980.0 682.1 L980.7 688.0 L981.4 693.8 L982.2 699.6 L982.9 705.4 L983.6 711.0 L984.3 716.6 L985.0 722.1 L985.7 727.5 L986.4 732.7 L987.1 737.8 L987.8 742.8 L988.5 747.6 L989.3 752.3 L990.0 756.7 L990.7 761.0 L991.4 765.2 L992.1 769.1 L992.8 772.8 L993.5 776.3 L994.2 779.5 L994.9 782.5 L995.6 785.3 L996.4 787.9 L997.1 790.2 L997.8 792.2 L998.5 794.0 L999.2 795.5 L999.9 796.8 L1000.6 797.8 L1001.3 798.5 L1002.0 798.9 L1002.7 799.1 L1003.5 799.0 L1004.2 798.6 L1004.9 798.0 L1005.6 797.1 L1006.3 795.9 L1007.0 794.5 L1007.7 792.9 L1008.4 790.9 L1009.1 788.8 L1009.8 786.4 L1010.6 783.8 L1011.3 780.9 L1012.0 777.8 L1012.7 774.5 L1013.4 771.0 L1014.1 767.3 L1014.8 763.3 L1015.5 759.2 L1016.2 754.9 L1016.9 750.4 L1017.7 745.8 L1018.4 741.0 L1019.1 736.0 L1019.8 730.9 L1020.5 725.7 L1021.2 720.4 L1021.9 714.9 L1022.6 709.3 L1023.3 703.7 L1024.0 697.9 L1024.8 692.1 L1025.5 686.2 L1026.2 680.2 L1026.9 674.3 L1027.6 668.2 L1028.3 662.2 L1029.0 656.2 L1029.7 650.1 L1030.4 644.1 L1031.1 638.0 L1031.9 632.0 L1032.6 626.1 L1033.3 620.2 L1034.0 614.3 L1034.7 608.5 L1035.4 602.8 L1036.1 597.2 L1036.8 591.7 L1037.5 586.3 L1038.2 581.0 L1038.9 575.8 L1039.7 570.8 L1040.4 565.9 L1041.1 561.1 L1041.8 556.5 L1042.5 552.1 L1043.2 547.8 L1043.9 543.7 L1044.6 539.8 L1045.3 536.1 L1046.0 532.6 L1046.8 529.3 L1047.5 526.2 L1048.2 523.3 L1048.9 520.6 L1049.6 518.2 L1050.3 516.0 L1051.0 514.0 L1051.7 512.2 L1052.4 510.7 L1053.1 509.4 L1053.9 508.3 L1054.6 507.5 L1055.3 506.9 L1056.0 506.5 L1056.7 506.4 L1057.4 506.5 L1058.1 506.9 L1058.8 507.4 L1059.5 508.3 L1060.2 509.3 L1061.0 510.6 L1061.7 512.0 L1062.4 513.8 L1063.1 515.7 L1063.8 517.8 L1064.5 520.2 L1065.2 522.7 L1065.9 525.5 L1066.6 528.4 L1067.3 531.5 L1068.1 534.9 L1068.8 538.4 L1069.5 542.0 L1070.2 545.9 L1070.9 549.9 L1071.6 554.0 L1072.3 558.3 L1073.0 562.8 L1073.7 567.3 L1074.4 572.1 L1075.2 576.9 L1075.9 581.8 L1076.6 586.9 L1077.3 592.0 L1078.0 597.3 L1078.7 602.6 L1079.4 608.0 L1080.1 613.5 L1080.8 619.0 L1081.5 624.6 L1082.3 630.3 L1083.0 635.9 L1083.7 641.6 L1084.4 647.4 L1085.1 653.1 L1085.8 658.9 L1086.5 664.6 L1087.2 670.4 L1087.9 676.1 L1088.6 681.8 L1089.4 687.5 L1090.1 693.1 L1090.8 698.7 L1091.5 704.2 L1092.2 709.6 L1092.9 715.0 L1093.6 720.2 L1094.3 725.4 L1095.0 730.5 L1095.7 735.5 L1096.5 740.3 L1097.2 745.1 L1097.9 749.6 L1098.6 754.1 L1099.3 758.4 L1100.0 762.5 L1100.7 766.5 L1101.4 770.2 L1102.1 773.8 L1102.8 777.2 L1103.6 780.4 L1104.3 783.4 L1105.0 786.2 L1105.7 788.7 L1106.4 791.0 L1107.1 793.1 L1107.8 795.0 L1108.5 796.6 L1109.2 797.9 L1109.9 799.0 L1110.6 799.8 L1111.4 800.4 L1112.1 800.7 L1112.8 800.7 L1113.5 800.4 L1114.2 799.9 L1114.9 799.0 L1115.6 797.9 L1116.3 796.5 L1117.0 794.8 L1117.7 792.8 L1118.5 790.6 L1119.2 788.1 L1119.9 785.3 L1120.6 782.3 L1121.3 779.0 L1122.0 775.5 L1122.7 771.8 L1123.4 767.8 L1124.1 763.6 L1124.8 759.2 L1125.6 754.6 L1126.3 749.9 L1127.0 744.9 L1127.7 739.8 L1128.4 734.6 L1129.1 729.2 L1129.8 723.6 L1130.5 718.0 L1131.2 712.3 L1131.9 706.4 L1132.7 700.5 L1133.4 694.5 L1134.1 688.5 L1134.8 682.4 L1135.5 676.3 L1136.2 670.2 L1136.9 664.0 L1137.6 657.9 L1138.3 651.8 L1139.0 645.7 L1139.8 639.7 L1140.5 633.7 L1141.2 627.8 L1141.9 621.9 L1142.6 616.2 L1143.3 610.5 L1144.0 604.9 L1144.7 599.4 L1145.4 594.1 L1146.1 588.8 L1146.9 583.8 L1147.6 578.8 L1148.3 574.0 L1149.0 569.3 L1149.7 564.8 L1150.4 560.5 L1151.1 556.3 L1151.8 552.4 L1152.5 548.6 L1153.2 544.9 L1154.0 541.5 L1154.7 538.2 L1155.4 535.2 L1156.1 532.3 L1156.8 529.6 L1157.5 527.2 L1158.2 524.9 L1158.9 522.8 L1159.6 520.9 L1160.3 519.3 L1161.1 517.8 L1161.8 516.5 L1162.5 515.4 L1163.2 514.6 L1163.9 513.9 L1164.6 513.4 L1165.3 513.1 L1166.0 513.0 L1166.7 513.2 L1167.4 513.5 L1168.2 514.0 L1168.9 514.7 L1169.6 515.6 L1170.3 516.6 L1171.0 517.9 L1171.7 519.4 L1172.4 521.1 L1173.1 522.9 L1173.8 524.9 L1174.5 527.1 L1175.2 529.5 L1176.0 532.1 L1176.7 534.8 L1177.4 537.7 L1178.1 540.8 L1178.8 544.0 L1179.5 547.4 L1180.2 550.9 L1180.9 554.6 L1181.6 558.5 L1182.3 562.5 L1183.1 566.6 L1183.8 570.9 L1184.5 575.3 L1185.2 579.8 L1185.9 584.5 L1186.6 589.2 L1187.3 594.1 L1188.0 599.1 L1188.7 604.2 L1189.4 609.4 L1190.2 614.6 L1190.9 620.0 L1191.6 625.4 L1192.3 630.9 L1193.0 636.4 L1193.7 642.0 L1194.4 647.6 L1195.1 653.3 L1195.8 659.0 L1196.5 664.7 L1197.3 670.4 L1198.0 676.2 L1198.7 681.9 L1199.4 687.6 L1200.1 693.2 L1200.8 698.8 L1201.5 704.4 L1202.2 709.9 L1202.9 715.4 L1203.6 720.7 L1204.4 726.0 L1205.1 731.2 L1205.8 736.2 L1206.5 741.1 L1207.2 745.9 L1207.9 750.6 L1208.6 755.1 L1209.3 759.4 L1210.0 763.5 L1210.7 767.5 L1211.5 771.2 L1212.2 774.8 L1212.9 778.1 L1213.6 781.2 L1214.3 784.1 L1215.0 786.7 L1215.7 789.1 L1216.4 791.2 L1217.1 793.1 L1217.8 794.7 L1218.6 796.0 L1219.3 797.1 L1220.0 797.8 L1220.7 798.3 L1221.4 798.5 L1222.1 798.4 L1222.8 798.0 L1223.5 797.3 L1224.2 796.3 L1224.9 795.1 L1225.7 793.6 L1226.4 791.7 L1227.1 789.7 L1227.8 787.3 L1228.5 784.7 L1229.2 781.8 L1229.9 778.7 L1230.6 775.4 L1231.3 771.8 L1232.0 768.0 L1232.8 764.0 L1233.5 759.7 L1234.2 755.3 L1234.9 750.7 L1235.6 745.9 L1236.3 741.0 L1237.0 735.9 L1237.7 730.7 L1238.4 725.3 L1239.1 719.8 L1239.9 714.3 L1240.6 708.6 L1241.3 702.9 L1242.0 697.1 L1242.7 691.2 L1243.4 685.4 L1244.1 679.5 L1244.8 673.5 L1245.5 667.6 L1246.2 661.7 L1246.9 655.8 L1247.7 650.0 L1248.4 644.2 L1249.1 638.4 L1249.8 632.7 L1250.5 627.1 L1251.2 621.6 L1251.9 616.2 L1252.6 610.9 L1253.3 605.7 L1254.0 600.6 L1254.8 595.6 L1255.5 590.8 L1256.2 586.1 L1256.9 581.6 L1257.6 577.2 L1258.3 573.0 L1259.0 568.9 L1259.7 565.0 L1260.4 561.3 L1261.1 557.7 L1261.9 554.3 L1262.6 551.1 L1263.3 548.1 L1264.0 545.2 L1264.7 542.5 L1265.4 540.0 L1266.1 537.7 L1266.8 535.5 L1267.5 533.6 L1268.2 531.8 L1269.0 530.2 L1269.7 528.7 L1270.4 527.5 L1271.1 526.4 L1271.8 525.5 L1272.5 524.7 L1273.2 524.1 L1273.9 523.7 L1274.6 523.4 L1275.3 523.3 L1276.1 523.4 L1276.8 523.6 L1277.5 524.0 L1278.2 524.6 L1278.9 525.3 L1279.6 526.1 L1280.3 527.2 L1281.0 528.3 L1281.7 529.6 L1282.4 531.1 L1283.2 532.7 L1283.9 534.5 L1284.6 536.4 L1285.3 538.5 L1286.0 540.6 L1286.7 543.0 L1287.4 545.4 L1288.1 548.0 L1288.8 550.8 L1289.5 553.6 L1290.3 556.6 L1291.0 559.7 L1291.7 563.0 L1292.4 566.4 L1293.1 569.8 L1293.8 573.4 L1294.5 577.2 L1295.2 581.0 L1295.9 585.0 L1296.6 589.0 L1297.4 593.2 L1298.1 597.4 L1298.8 601.8 L1299.5 606.3 L1300.2 610.8 L1300.9 615.5 L1301.6 620.2 L1302.3 625.0 L1303.0 629.9 L1303.7 634.8 L1304.5 639.9 L1305.2 644.9 L1305.9 650.1 L1306.6 655.2 L1307.3 660.5 L1308.0 665.7 L1308.7 671.0 L1309.4 676.3 L1310.1 681.6 L1310.8 686.9 L1311.6 692.2 L1312.3 697.4 L1313.0 702.7 L1313.7 707.9 L1314.4 713.1 L1315.1 718.2 L1315.8 723.2 L1316.5 728.1 L1317.2 733.0 L1317.9 737.7 L1318.6 742.4 L1319.4 746.8 L1320.1 751.2 L1320.8 755.4 L1321.5 759.4 L1322.2 763.3 L1322.9 766.9 L1323.6 770.4 L1324.3 773.6 L1325.0 776.7 L1325.7 779.4 L1326.5 782.0 L1327.2 784.3 L1327.9 786.3 L1328.6 788.0 L1329.3 789.5 L1330.0 790.7 L1330.7 791.6 L1331.4 792.2 L1332.1 792.5 L1332.8 792.5 L1333.6 792.2 L1334.3 791.6 L1335.0 790.7 L1335.7 789.6 L1336.4 788.1 L1337.1 786.3 L1337.8 784.2 L1338.5 781.9 L1339.2 779.2 L1339.9 776.3 L1340.7 773.1 L1341.4 769.7 L1342.1 766.0 L1342.8 762.1 L1343.5 757.9 L1344.2 753.5 L1344.9 749.0 L1345.6 744.2 L1346.3 739.2 L1347.0 734.1 L1347.8 728.8 L1348.5 723.3 L1349.2 717.7 L1349.9 712.1 L1350.6 706.3 L1351.3 700.4 L1352.0 694.5 L1352.7 688.4 L1353.4 682.4 L1354.1 676.3 L1354.9 670.2 L1355.6 664.1 L1356.3 658.0 L1357.0 652.0 L1357.7 646.0 L1358.4 640.0 L1359.1 634.1 L1359.8 628.3 L1360.5 622.5 L1361.2 616.9 L1362.0 611.4 L1362.7 606.0 L1363.4 600.7 L1364.1 595.5 L1364.8 590.5 L1365.5 585.6 L1366.2 580.9 L1366.9 576.4 L1367.6 572.0 L1368.3 567.8 L1369.1 563.7 L1369.8 559.9 L1370.5 556.2 L1371.2 552.7 L1371.9 549.4 L1372.6 546.2 L1373.3 543.3 L1374.0 540.5 L1374.7 537.9 L1375.4 535.6 L1376.2 533.3 L1376.9 531.3 L1377.6 529.5 L1378.3 527.8 L1379.0 526.3 L1379.7 525.0 L1380.4 523.9 L1381.1 522.9 L1381.8 522.1 L1382.5 521.4 L1383.3 520.9 L1384.0 520.6 L1384.7 520.4 L1385.4 520.4 L1386.1 520.5 L1386.8 520.7 L1387.5 521.0 L1388.2 521.5 L1388.9 522.2 L1389.6 522.9 L1390.3 523.8 L1391.1 524.7 L1391.8 525.9 L1392.5 527.1 L1393.2 528.5 L1393.9 529.9 L1394.6 531.5 L1395.3 533.3 L1396.0 535.1 L1396.7 537.1 L1397.4 539.1 L1398.2 541.3 L1398.9 543.6 L1399.6 546.0 L1400.3 548.6 L1401.0 551.2 L1401.7 554.0 L1402.4 556.9 L1403.1 559.9 L1403.8 563.0 L1404.5 566.3 L1405.3 569.7 L1406.0 573.2 L1406.7 576.8 L1407.4 580.5 L1408.1 584.4 L1408.8 588.3 L1409.5 592.5 L1410.2 596.7 L1410.9 601.0 L1411.6 605.5 L1412.4 610.0 L1413.1 614.7 L1413.8 619.5 L1414.5 624.4 L1415.2 629.4 L1415.9 634.5 L1416.6 639.7 L1417.3 645.0 L1418.0 650.4 L1418.7 655.9 L1419.5 661.4 L1420.2 667.0 L1420.9 672.6 L1421.6 678.3 L1422.3 684.1 L1423.0 689.8 L1423.7 695.6 L1424.4 701.4 L1425.1 707.2 L1425.8 712.9 L1426.6 718.6 L1427.3 724.3 L1428.0 729.9 L1428.7 735.4 L1429.4 740.8 L1430.1 746.1 L1430.8 751.2 L1431.5 756.2 L1432.2 761.1 L1432.9 765.7 L1433.7 770.2 L1434.4 774.4 L1435.1 778.4 L1435.8 782.1 L1436.5 785.6 L1437.2 788.7 L1437.9 791.6 L1438.6 794.2 L1439.3 796.4 L1440.0 798.3 L1440.8 799.8 L1441.5 800.9 L1442.2 801.7 L1442.9 802.1 L1443.6 802.2 L1444.3 801.9 L1445.0 801.1 L1445.7 800.0 L1446.4 798.5 L1447.1 796.7 L1447.9 794.4 L1448.6 791.8 L1449.3 788.9 L1450.0 785.6 L1450.7 781.9 L1451.4 778.0 L1452.1 773.7 L1452.8 769.1 L1453.5 764.3 L1454.2 759.2 L1455.0 753.9 L1455.7 748.3 L1456.4 742.5 L1457.1 736.6 L1457.8 730.5 L1458.5 724.2 L1459.2 717.9 L1459.9 711.4 L1460.6 704.9 L1461.3 698.3 L1462.0 691.6 L1462.8 684.9 L1463.5 678.3 L1464.2 671.6 L1464.9 665.0 L1465.6 658.5 L1466.3 652.0 L1467.0 645.6 L1467.7 639.3 L1468.4 633.1 L1469.1 627.1 L1469.9 621.1 L1470.6 615.4 L1471.3 609.8 L1472.0 604.3 L1472.7 599.0 L1473.4 593.9 L1474.1 589.0 L1474.8 584.3 L1475.5 579.8 L1476.2 575.5 L1477.0 571.3 L1477.7 567.4 L1478.4 563.7 L1479.1 560.2 L1479.8 556.8 L1480.5 553.7 L1481.2 550.8 L1481.9 548.0 L1482.6 545.5 L1483.3 543.1 L1484.1 540.9 L1484.8 538.9 L1485.5 537.0 L1486.2 535.3 L1486.9 533.8 L1487.6 532.4 L1488.3 531.2 L1489.0 530.1 L1489.7 529.2 L1490.4 528.4 L1491.2 527.8 L1491.9 527.2 L1492.6 526.8 L1493.3 526.5 L1494.0 526.3 L1494.7 526.3 L1495.4 526.4 L1496.1 526.6 L1496.8 527.0 L1497.5 527.5 L1498.3 528.1 L1499.0 528.8 L1499.7 529.6 L1500.4 530.5 L1501.1 531.6 L1501.8 532.7 L1502.5 533.9 L1503.2 535.3 L1503.9 536.8 L1504.6 538.3 L1505.4 539.9 L1506.1 541.7 L1506.8 543.5 L1507.5 545.4 L1508.2 547.4 L1508.9 549.6 L1509.6 551.8 L1510.3 554.1 L1511.0 556.4 L1511.7 558.9 L1512.5 561.5 L1513.2 564.1 L1513.9 566.9 L1514.6 569.8 L1515.3 572.7 L1516.0 575.7 L1516.7 578.8 L1517.4 582.1 L1518.1 585.4 L1518.8 588.8 L1519.6 592.3 L1520.3 595.9 L1521.0 599.6 L1521.7 603.3 L1522.4 607.2 L1523.1 611.1 L1523.8 615.2 L1524.5 619.3 L1525.2 623.5 L1525.9 627.8 L1526.7 632.2 L1527.4 636.6 L1528.1 641.2 L1528.8 645.7 L1529.5 650.4 L1530.2 655.1" fill="none" stroke="#D95319" stroke-width="3.8" stroke-linejoin="round" stroke-linecap="butt" stroke-dasharray="3.7 3.55" clip-path="url(#clb)"/>
<path d="M110.4 686.0 L111.1 679.6 L111.8 673.2 L112.5 666.9 L113.2 660.6 L113.9 654.3 L114.7 648.2 L115.4 642.1 L116.1 636.2 L116.8 630.4 L117.5 624.8 L118.2 619.4 L118.9 614.1 L119.6 609.0 L120.3 604.1 L121.0 599.5 L121.8 595.1 L122.5 590.9 L123.2 587.0 L123.9 583.4 L124.6 580.0 L125.3 577.0 L126.0 574.2 L126.7 571.8 L127.4 569.6 L128.1 567.8 L128.9 566.3 L129.6 565.2 L130.3 564.3 L131.0 563.8 L131.7 563.7 L132.4 563.8 L133.1 564.2 L133.8 564.8 L134.5 565.7 L135.2 566.9 L136.0 568.3 L136.7 569.9 L137.4 571.8 L138.1 573.8 L138.8 576.1 L139.5 578.7 L140.2 581.4 L140.9 584.2 L141.6 587.3 L142.3 590.5 L143.1 593.9 L143.8 597.4 L144.5 601.0 L145.2 604.7 L145.9 608.5 L146.6 612.4 L147.3 616.3 L148.0 620.3 L148.7 624.2 L149.4 628.2 L150.2 632.2 L150.9 636.1 L151.6 640.0 L152.3 643.8 L153.0 647.5 L153.7 651.2 L154.4 654.7 L155.1 658.1 L155.8 661.4 L156.5 664.5 L157.3 667.4 L158.0 670.2 L158.7 672.8 L159.4 675.1 L160.1 677.3 L160.8 679.2 L161.5 680.9 L162.2 682.4 L162.9 683.6 L163.6 684.6 L164.4 685.3 L165.1 685.8 L165.8 686.0 L166.5 686.0 L167.2 685.8 L167.9 685.4 L168.6 685.0 L169.3 684.3 L170.0 683.5 L170.7 682.6 L171.5 681.6 L172.2 680.4 L172.9 679.1 L173.6 677.7 L174.3 676.1 L175.0 674.5 L175.7 672.8 L176.4 671.0 L177.1 669.1 L177.8 667.1 L178.6 665.1 L179.3 663.0 L180.0 660.9 L180.7 658.8 L181.4 656.6 L182.1 654.5 L182.8 652.3 L183.5 650.2 L184.2 648.1 L184.9 646.0 L185.6 644.0 L186.4 642.0 L187.1 640.1 L187.8 638.3 L188.5 636.5 L189.2 634.9 L189.9 633.4 L190.6 631.9 L191.3 630.6 L192.0 629.4 L192.7 628.3 L193.5 627.4 L194.2 626.6 L194.9 626.0 L195.6 625.5 L196.3 625.1 L197.0 624.9 L197.7 624.9 L198.4 625.0 L199.1 625.2 L199.8 625.6 L200.6 626.2 L201.3 626.8 L202.0 627.6 L202.7 628.5 L203.4 629.6 L204.1 630.8 L204.8 632.1 L205.5 633.5 L206.2 635.0 L206.9 636.6 L207.7 638.3 L208.4 640.0 L209.1 641.9 L209.8 643.8 L210.5 645.8 L211.2 647.8 L211.9 649.9 L212.6 652.0 L213.3 654.1 L214.0 656.2 L214.8 658.4 L215.5 660.5 L216.2 662.6 L216.9 664.7 L217.6 666.7 L218.3 668.7 L219.0 670.6 L219.7 672.5 L220.4 674.3 L221.1 676.0 L221.9 677.6 L222.6 679.2 L223.3 680.6 L224.0 681.9 L224.7 683.2 L225.4 684.3 L226.1 685.2 L226.8 686.1 L227.5 686.8 L228.2 687.3 L229.0 687.7 L229.7 688.0 L230.4 688.2 L231.1 688.2 L231.8 688.0 L232.5 687.7 L233.2 687.2 L233.9 686.5 L234.6 685.7 L235.3 684.7 L236.1 683.6 L236.8 682.4 L237.5 681.0 L238.2 679.4 L238.9 677.7 L239.6 675.9 L240.3 674.0 L241.0 672.0 L241.7 669.9 L242.4 667.7 L243.2 665.5 L243.9 663.1 L244.6 660.7 L245.3 658.3 L246.0 655.8 L246.7 653.2 L247.4 650.7 L248.1 648.2 L248.8 645.6 L249.5 643.1 L250.3 640.6 L251.0 638.1 L251.7 635.7 L252.4 633.4 L253.1 631.1 L253.8 628.9 L254.5 626.8 L255.2 624.7 L255.9 622.8 L256.6 621.0 L257.3 619.3 L258.1 617.7 L258.8 616.3 L259.5 615.0 L260.2 613.8 L260.9 612.8 L261.6 612.0 L262.3 611.3 L263.0 610.8 L263.7 610.4 L264.4 610.2 L265.2 610.2 L265.9 610.3 L266.6 610.6 L267.3 611.0 L268.0 611.6 L268.7 612.4 L269.4 613.3 L270.1 614.4 L270.8 615.6 L271.5 616.9 L272.3 618.3 L273.0 619.9 L273.7 621.6 L274.4 623.4 L275.1 625.3 L275.8 627.3 L276.5 629.4 L277.2 631.5 L277.9 633.7 L278.6 635.9 L279.4 638.2 L280.1 640.5 L280.8 642.9 L281.5 645.2 L282.2 647.5 L282.9 649.8 L283.6 652.1 L284.3 654.4 L285.0 656.6 L285.7 658.7 L286.5 660.8 L287.2 662.7 L287.9 664.6 L288.6 666.4 L289.3 668.1 L290.0 669.7 L290.7 671.2 L291.4 672.5 L292.1 673.7 L292.8 674.8 L293.6 675.7 L294.3 676.4 L295.0 677.0 L295.7 677.5 L296.4 677.8 L297.1 677.9 L297.8 677.9 L298.5 677.7 L299.2 677.3 L299.9 676.9 L300.7 676.3 L301.4 675.5 L302.1 674.6 L302.8 673.6 L303.5 672.4 L304.2 671.2 L304.9 669.8 L305.6 668.3 L306.3 666.7 L307.0 665.1 L307.8 663.4 L308.5 661.6 L309.2 659.7 L309.9 657.9 L310.6 656.0 L311.3 654.0 L312.0 652.1 L312.7 650.2 L313.4 648.2 L314.1 646.4 L314.9 644.5 L315.6 642.7 L316.3 641.0 L317.0 639.3 L317.7 637.7 L318.4 636.2 L319.1 634.8 L319.8 633.5 L320.5 632.4 L321.2 631.3 L322.0 630.4 L322.7 629.6 L323.4 629.0 L324.1 628.5 L324.8 628.1 L325.5 627.9 L326.2 627.8 L326.9 627.9 L327.6 628.1 L328.3 628.5 L329.0 628.9 L329.8 629.5 L330.5 630.2 L331.2 631.0 L331.9 632.0 L332.6 633.0 L333.3 634.2 L334.0 635.4 L334.7 636.8 L335.4 638.2 L336.1 639.8 L336.9 641.4 L337.6 643.0 L338.3 644.8 L339.0 646.6 L339.7 648.4 L340.4 650.3 L341.1 652.2 L341.8 654.2 L342.5 656.1 L343.2 658.1 L344.0 660.1 L344.7 662.0 L345.4 664.0 L346.1 665.9 L346.8 667.8 L347.5 669.6 L348.2 671.4 L348.9 673.2 L349.6 674.8 L350.3 676.4 L351.1 678.0 L351.8 679.4 L352.5 680.7 L353.2 682.0 L353.9 683.1 L354.6 684.2 L355.3 685.1 L356.0 685.9 L356.7 686.6 L357.4 687.2 L358.2 687.6 L358.9 687.9 L359.6 688.1 L360.3 688.2 L361.0 688.1 L361.7 687.9 L362.4 687.6 L363.1 687.1 L363.8 686.4 L364.5 685.7 L365.3 684.8 L366.0 683.8 L366.7 682.6 L367.4 681.4 L368.1 680.0 L368.8 678.5 L369.5 676.9 L370.2 675.2 L370.9 673.4 L371.6 671.5 L372.4 669.6 L373.1 667.6 L373.8 665.5 L374.5 663.4 L375.2 661.2 L375.9 659.0 L376.6 656.7 L377.3 654.5 L378.0 652.2 L378.7 649.9 L379.5 647.6 L380.2 645.4 L380.9 643.1 L381.6 640.9 L382.3 638.8 L383.0 636.7 L383.7 634.6 L384.4 632.6 L385.1 630.7 L385.8 628.8 L386.6 627.1 L387.3 625.4 L388.0 623.8 L388.7 622.4 L389.4 621.0 L390.1 619.8 L390.8 618.7 L391.5 617.7 L392.2 616.9 L392.9 616.1 L393.7 615.6 L394.4 615.1 L395.1 614.8 L395.8 614.6 L396.5 614.6 L397.2 614.8 L397.9 615.1 L398.6 615.7 L399.3 616.4 L400.0 617.4 L400.7 618.5 L401.5 619.8 L402.2 621.3 L402.9 623.0 L403.6 624.8 L404.3 626.7 L405.0 628.8 L405.7 631.0 L406.4 633.3 L407.1 635.7 L407.8 638.1 L408.6 640.7 L409.3 643.2 L410.0 645.8 L410.7 648.4 L411.4 651.1 L412.1 653.7 L412.8 656.2 L413.5 658.8 L414.2 661.2 L414.9 663.6 L415.7 665.9 L416.4 668.1 L417.1 670.2 L417.8 672.1 L418.5 673.9 L419.2 675.6 L419.9 677.0 L420.6 678.4 L421.3 679.5 L422.0 680.5 L422.8 681.2 L423.5 681.8 L424.2 682.1 L424.9 682.3 L425.6 682.3 L426.3 682.1 L427.0 681.8 L427.7 681.3 L428.4 680.7 L429.1 679.9 L429.9 679.0 L430.6 678.0 L431.3 676.8 L432.0 675.5 L432.7 674.1 L433.4 672.6 L434.1 671.0 L434.8 669.3 L435.5 667.5 L436.2 665.5 L437.0 663.6 L437.7 661.5 L438.4 659.4 L439.1 657.2 L439.8 655.0 L440.5 652.8 L441.2 650.5 L441.9 648.3 L442.6 646.0 L443.3 643.7 L444.1 641.4 L444.8 639.2 L445.5 637.0 L446.2 634.9 L446.9 632.8 L447.6 630.7 L448.3 628.8 L449.0 626.9 L449.7 625.1 L450.4 623.4 L451.2 621.8 L451.9 620.3 L452.6 618.9 L453.3 617.6 L454.0 616.5 L454.7 615.5 L455.4 614.6 L456.1 613.9 L456.8 613.3 L457.5 612.8 L458.3 612.5 L459.0 612.4 L459.7 612.4 L460.4 612.6 L461.1 613.1 L461.8 613.8 L462.5 614.7 L463.2 615.9 L463.9 617.2 L464.6 618.8 L465.4 620.6 L466.1 622.5 L466.8 624.7 L467.5 627.0 L468.2 629.5 L468.9 632.2 L469.6 634.9 L470.3 637.8 L471.0 640.9 L471.7 644.0 L472.4 647.2 L473.2 650.4 L473.9 653.8 L474.6 657.1 L475.3 660.5 L476.0 663.9 L476.7 667.2 L477.4 670.6 L478.1 673.9 L478.8 677.1 L479.5 680.3 L480.3 683.3 L481.0 686.3 L481.7 689.1 L482.4 691.8 L483.1 694.4 L483.8 696.8 L484.5 699.1 L485.2 701.1 L485.9 703.0 L486.6 704.7 L487.4 706.1 L488.1 707.4 L488.8 708.4 L489.5 709.2 L490.2 709.8 L490.9 710.2 L491.6 710.3 L492.3 710.1 L493.0 709.7 L493.7 709.0 L494.5 708.0 L495.2 706.7 L495.9 705.1 L496.6 703.3 L497.3 701.2 L498.0 698.8 L498.7 696.2 L499.4 693.4 L500.1 690.3 L500.8 687.1 L501.6 683.6 L502.3 679.9 L503.0 676.1 L503.7 672.1 L504.4 668.0 L505.1 663.7 L505.8 659.3 L506.5 654.8 L507.2 650.3 L507.9 645.7 L508.7 641.0 L509.4 636.3 L510.1 631.7 L510.8 627.0 L511.5 622.3 L512.2 617.7 L512.9 613.2 L513.6 608.7 L514.3 604.4 L515.0 600.1 L515.8 596.0 L516.5 592.1 L517.2 588.2 L517.9 584.6 L518.6 581.2 L519.3 578.0 L520.0 574.9 L520.7 572.2 L521.4 569.6 L522.1 567.3 L522.9 565.3 L523.6 563.5 L524.3 562.0 L525.0 560.7 L525.7 559.8 L526.4 559.1 L527.1 558.7 L527.8 558.7 L528.5 559.0 L529.2 559.7 L530.0 560.9 L530.7 562.5 L531.4 564.5 L532.1 566.9 L532.8 569.7 L533.5 572.9 L534.2 576.5 L534.9 580.5 L535.6 584.8 L536.3 589.4 L537.0 594.4 L537.8 599.6 L538.5 605.1 L539.2 610.8 L539.9 616.8 L540.6 623.0 L541.3 629.3 L542.0 635.8 L542.7 642.4 L543.4 649.1 L544.1 655.8 L544.9 662.7 L545.6 669.5 L546.3 676.3 L547.0 683.0 L547.7 689.7 L548.4 696.3 L549.1 702.7 L549.8 709.0 L550.5 715.2 L551.2 721.1 L552.0 726.8 L552.7 732.2 L553.4 737.4 L554.1 742.3 L554.8 746.8 L555.5 751.1 L556.2 755.0 L556.9 758.5 L557.6 761.6 L558.3 764.4 L559.1 766.7 L559.8 768.6 L560.5 770.2 L561.2 771.2 L561.9 771.9 L562.6 772.1 L563.3 771.9 L564.0 771.3 L564.7 770.4 L565.4 769.0 L566.2 767.3 L566.9 765.2 L567.6 762.8 L568.3 760.0 L569.0 756.8 L569.7 753.4 L570.4 749.5 L571.1 745.4 L571.8 740.9 L572.5 736.2 L573.3 731.2 L574.0 725.9 L574.7 720.3 L575.4 714.6 L576.1 708.6 L576.8 702.4 L577.5 696.0 L578.2 689.5 L578.9 682.8 L579.6 675.9 L580.4 669.0 L581.1 662.0 L581.8 654.9 L582.5 647.8 L583.2 640.7 L583.9 633.5 L584.6 626.4 L585.3 619.3 L586.0 612.2 L586.7 605.3 L587.5 598.4 L588.2 591.6 L588.9 585.0 L589.6 578.6 L590.3 572.3 L591.0 566.2 L591.7 560.3 L592.4 554.6 L593.1 549.2 L593.8 544.0 L594.6 539.2 L595.3 534.6 L596.0 530.3 L596.7 526.3 L597.4 522.6 L598.1 519.3 L598.8 516.3 L599.5 513.7 L600.2 511.4 L600.9 509.5 L601.7 508.0 L602.4 506.9 L603.1 506.1 L603.8 505.7 L604.5 505.7 L605.2 506.4 L605.9 507.7 L606.6 509.7 L607.3 512.4 L608.0 515.6 L608.7 519.5 L609.5 524.0 L610.2 529.1 L610.9 534.8 L611.6 541.0 L612.3 547.7 L613.0 554.9 L613.7 562.5 L614.4 570.6 L615.1 579.0 L615.8 587.8 L616.6 596.9 L617.3 606.2 L618.0 615.8 L618.7 625.6 L619.4 635.5 L620.1 645.4 L620.8 655.5 L621.5 665.5 L622.2 675.5 L622.9 685.5 L623.7 695.3 L624.4 704.9 L625.1 714.3 L625.8 723.5 L626.5 732.4 L627.2 740.9 L627.9 749.1 L628.6 756.8 L629.3 764.2 L630.0 771.0 L630.8 777.4 L631.5 783.2 L632.2 788.5 L632.9 793.1 L633.6 797.2 L634.3 800.7 L635.0 803.5 L635.7 805.7 L636.4 807.2 L637.1 808.1 L637.9 808.3 L638.6 808.0 L639.3 807.2 L640.0 806.1 L640.7 804.4 L641.4 802.4 L642.1 799.9 L642.8 797.0 L643.5 793.7 L644.2 790.0 L645.0 785.8 L645.7 781.4 L646.4 776.5 L647.1 771.3 L647.8 765.8 L648.5 759.9 L649.2 753.7 L649.9 747.2 L650.6 740.5 L651.3 733.5 L652.1 726.3 L652.8 718.9 L653.5 711.3 L654.2 703.5 L654.9 695.5 L655.6 687.5 L656.3 679.3 L657.0 671.1 L657.7 662.8 L658.4 654.4 L659.2 646.1 L659.9 637.8 L660.6 629.5 L661.3 621.2 L662.0 613.1 L662.7 605.1 L663.4 597.2 L664.1 589.4 L664.8 581.8 L665.5 574.4 L666.3 567.3 L667.0 560.3 L667.7 553.6 L668.4 547.2 L669.1 541.1 L669.8 535.3 L670.5 529.8 L671.2 524.7 L671.9 519.9 L672.6 515.5 L673.4 511.5 L674.1 507.8 L674.8 504.6 L675.5 501.8 L676.2 499.4 L676.9 497.4 L677.6 495.9 L678.3 494.8 L679.0 494.1 L679.7 493.9 L680.4 494.1 L681.2 494.7 L681.9 495.8 L682.6 497.3 L683.3 499.2 L684.0 501.5 L684.7 504.2 L685.4 507.4 L686.1 510.9 L686.8 514.8 L687.5 519.0 L688.3 523.6 L689.0 528.6 L689.7 533.9 L690.4 539.5 L691.1 545.4 L691.8 551.6 L692.5 558.0 L693.2 564.7 L693.9 571.6 L694.6 578.8 L695.4 586.1 L696.1 593.6 L696.8 601.2 L697.5 609.0 L698.2 616.8 L698.9 624.8 L699.6 632.8 L700.3 640.8 L701.0 648.8 L701.7 656.9 L702.5 664.9 L703.2 672.8 L703.9 680.7 L704.6 688.4 L705.3 696.1 L706.0 703.6 L706.7 710.9 L707.4 718.1 L708.1 725.0 L708.8 731.7 L709.6 738.2 L710.3 744.4 L711.0 750.4 L711.7 756.0 L712.4 761.3 L713.1 766.3 L713.8 771.0 L714.5 775.3 L715.2 779.2 L715.9 782.7 L716.7 785.9 L717.4 788.7 L718.1 791.0 L718.8 793.0 L719.5 794.5 L720.2 795.6 L720.9 796.3 L721.6 796.5 L722.3 796.4 L723.0 796.0 L723.8 795.3 L724.5 794.3 L725.2 793.1 L725.9 791.5 L726.6 789.7 L727.3 787.5 L728.0 785.2 L728.7 782.5 L729.4 779.6 L730.1 776.4 L730.9 773.0 L731.6 769.4 L732.3 765.5 L733.0 761.4 L733.7 757.0 L734.4 752.5 L735.1 747.8 L735.8 742.9 L736.5 737.8 L737.2 732.6 L738.0 727.2 L738.7 721.7 L739.4 716.1 L740.1 710.3 L740.8 704.5 L741.5 698.6 L742.2 692.6 L742.9 686.5 L743.6 680.4 L744.3 674.3 L745.1 668.1 L745.8 661.9 L746.5 655.8 L747.2 649.7 L747.9 643.6 L748.6 637.5 L749.3 631.6 L750.0 625.7 L750.7 619.9 L751.4 614.2 L752.1 608.6 L752.9 603.2 L753.6 597.9 L754.3 592.7 L755.0 587.7 L755.7 582.9 L756.4 578.3 L757.1 573.9 L757.8 569.7 L758.5 565.7 L759.2 561.9 L760.0 558.4 L760.7 555.1 L761.4 552.0 L762.1 549.3 L762.8 546.7 L763.5 544.5 L764.2 542.5 L764.9 540.8 L765.6 539.4 L766.3 538.3 L767.1 537.4 L767.8 536.9 L768.5 536.6 L769.2 536.6 L769.9 536.8 L770.6 537.3 L771.3 537.9 L772.0 538.8 L772.7 539.8 L773.4 541.1 L774.2 542.5 L774.9 544.2 L775.6 546.0 L776.3 548.1 L777.0 550.3 L777.7 552.7 L778.4 555.3 L779.1 558.1 L779.8 561.1 L780.5 564.2 L781.3 567.4 L782.0 570.9 L782.7 574.4 L783.4 578.2 L784.1 582.0 L784.8 586.0 L785.5 590.1 L786.2 594.3 L786.9 598.7 L787.6 603.1 L788.4 607.6 L789.1 612.2 L789.8 616.9 L790.5 621.7 L791.2 626.5 L791.9 631.4 L792.6 636.3 L793.3 641.3 L794.0 646.3 L794.7 651.3 L795.5 656.3 L796.2 661.3 L796.9 666.3 L797.6 671.3 L798.3 676.3 L799.0 681.2 L799.7 686.1 L800.4 690.9 L801.1 695.7 L801.8 700.4 L802.6 705.1 L803.3 709.7 L804.0 714.1 L804.7 718.5 L805.4 722.8 L806.1 726.9 L806.8 731.0 L807.5 734.9 L808.2 738.6 L808.9 742.3 L809.7 745.8 L810.4 749.1 L811.1 752.3 L811.8 755.3 L812.5 758.1 L813.2 760.8 L813.9 763.3 L814.6 765.6 L815.3 767.7 L816.0 769.7 L816.8 771.4 L817.5 772.9 L818.2 774.3 L818.9 775.4 L819.6 776.3 L820.3 777.1 L821.0 777.6 L821.7 777.9 L822.4 778.0 L823.1 777.8 L823.8 777.3 L824.6 776.5 L825.3 775.4 L826.0 774.0 L826.7 772.2 L827.4 770.1 L828.1 767.8 L828.8 765.1 L829.5 762.1 L830.2 758.9 L830.9 755.3 L831.7 751.5 L832.4 747.4 L833.1 743.1 L833.8 738.6 L834.5 733.8 L835.2 728.7 L835.9 723.5 L836.6 718.1 L837.3 712.5 L838.0 706.7 L838.8 700.7 L839.5 694.6 L840.2 688.4 L840.9 682.1 L841.6 675.6 L842.3 669.1 L843.0 662.5 L843.7 655.8 L844.4 649.1 L845.1 642.4 L845.9 635.7 L846.6 628.9 L847.3 622.2 L848.0 615.6 L848.7 608.9 L849.4 602.4 L850.1 595.9 L850.8 589.5 L851.5 583.2 L852.2 577.1 L853.0 571.1 L853.7 565.2 L854.4 559.6 L855.1 554.0 L855.8 548.7 L856.5 543.6 L857.2 538.7 L857.9 534.1 L858.6 529.7 L859.3 525.5 L860.1 521.6 L860.8 517.9 L861.5 514.6 L862.2 511.5 L862.9 508.7 L863.6 506.2 L864.3 504.0 L865.0 502.1 L865.7 500.5 L866.4 499.3 L867.2 498.3 L867.9 497.7 L868.6 497.4 L869.3 497.5 L870.0 497.9 L870.7 498.7 L871.4 500.0 L872.1 501.6 L872.8 503.6 L873.5 506.0 L874.3 508.7 L875.0 511.8 L875.7 515.3 L876.4 519.1 L877.1 523.3 L877.8 527.8 L878.5 532.6 L879.2 537.8 L879.9 543.2 L880.6 548.9 L881.4 554.9 L882.1 561.1 L882.8 567.5 L883.5 574.2 L884.2 581.1 L884.9 588.2 L885.6 595.4 L886.3 602.8 L887.0 610.3 L887.7 617.9 L888.5 625.6 L889.2 633.3 L889.9 641.2 L890.6 649.0 L891.3 656.9 L892.0 664.8 L892.7 672.6 L893.4 680.4 L894.1 688.1 L894.8 695.7 L895.5 703.3 L896.3 710.7 L897.0 717.9 L897.7 725.0 L898.4 731.9 L899.1 738.6 L899.8 745.1 L900.5 751.4 L901.2 757.4 L901.9 763.2 L902.6 768.7 L903.4 773.8 L904.1 778.7 L904.8 783.3 L905.5 787.5 L906.2 791.4 L906.9 795.0 L907.6 798.2 L908.3 801.0 L909.0 803.5 L909.7 805.5 L910.5 807.2 L911.2 808.5 L911.9 809.4 L912.6 810.0 L913.3 810.1 L914.0 809.9 L914.7 809.4 L915.4 808.5 L916.1 807.4 L916.8 806.0 L917.6 804.3 L918.3 802.3 L919.0 800.1 L919.7 797.5 L920.4 794.7 L921.1 791.6 L921.8 788.2 L922.5 784.6 L923.2 780.7 L923.9 776.6 L924.7 772.3 L925.4 767.7 L926.1 763.0 L926.8 758.0 L927.5 752.8 L928.2 747.5 L928.9 742.0 L929.6 736.3 L930.3 730.5 L931.0 724.5 L931.8 718.4 L932.5 712.3 L933.2 706.0 L933.9 699.6 L934.6 693.2 L935.3 686.7 L936.0 680.1 L936.7 673.6 L937.4 667.0 L938.1 660.4 L938.9 653.8 L939.6 647.3 L940.3 640.8 L941.0 634.3 L941.7 628.0 L942.4 621.7 L943.1 615.5 L943.8 609.4 L944.5 603.4 L945.2 597.5 L946.0 591.8 L946.7 586.3 L947.4 580.9 L948.1 575.7 L948.8 570.7 L949.5 565.9 L950.2 561.3 L950.9 556.9 L951.6 552.7 L952.3 548.8 L953.1 545.1 L953.8 541.7 L954.5 538.6 L955.2 535.7 L955.9 533.1 L956.6 530.8 L957.3 528.7 L958.0 527.0 L958.7 525.5 L959.4 524.3 L960.2 523.5 L960.9 522.9 L961.6 522.6 L962.3 522.6 L963.0 522.8 L963.7 523.3 L964.4 523.9 L965.1 524.7 L965.8 525.7 L966.5 527.0 L967.2 528.4 L968.0 530.0 L968.7 531.8 L969.4 533.8 L970.1 536.0 L970.8 538.3 L971.5 540.9 L972.2 543.6 L972.9 546.4 L973.6 549.5 L974.3 552.7 L975.1 556.0 L975.8 559.5 L976.5 563.2 L977.2 566.9 L977.9 570.9 L978.6 574.9 L979.3 579.0 L980.0 583.3 L980.7 587.7 L981.4 592.1 L982.2 596.7 L982.9 601.3 L983.6 606.0 L984.3 610.8 L985.0 615.7 L985.7 620.6 L986.4 625.5 L987.1 630.5 L987.8 635.5 L988.5 640.5 L989.3 645.5 L990.0 650.6 L990.7 655.6 L991.4 660.6 L992.1 665.6 L992.8 670.6 L993.5 675.5 L994.2 680.4 L994.9 685.2 L995.6 690.0 L996.4 694.7 L997.1 699.3 L997.8 703.9 L998.5 708.3 L999.2 712.7 L999.9 717.0 L1000.6 721.1 L1001.3 725.1 L1002.0 729.0 L1002.7 732.8 L1003.5 736.4 L1004.2 739.9 L1004.9 743.2 L1005.6 746.4 L1006.3 749.4 L1007.0 752.3 L1007.7 755.0 L1008.4 757.5 L1009.1 759.8 L1009.8 762.0 L1010.6 764.0 L1011.3 765.7 L1012.0 767.3 L1012.7 768.7 L1013.4 769.9 L1014.1 770.9 L1014.8 771.8 L1015.5 772.4 L1016.2 772.8 L1016.9 773.0 L1017.7 773.0 L1018.4 772.7 L1019.1 772.2 L1019.8 771.5 L1020.5 770.5 L1021.2 769.2 L1021.9 767.7 L1022.6 766.0 L1023.3 764.0 L1024.0 761.8 L1024.8 759.4 L1025.5 756.7 L1026.2 753.8 L1026.9 750.8 L1027.6 747.4 L1028.3 743.9 L1029.0 740.2 L1029.7 736.3 L1030.4 732.2 L1031.1 728.0 L1031.9 723.6 L1032.6 719.0 L1033.3 714.2 L1034.0 709.4 L1034.7 704.3 L1035.4 699.2 L1036.1 694.0 L1036.8 688.6 L1037.5 683.1 L1038.2 677.6 L1038.9 672.0 L1039.7 666.3 L1040.4 660.5 L1041.1 654.8 L1041.8 648.9 L1042.5 643.1 L1043.2 637.3 L1043.9 631.4 L1044.6 625.6 L1045.3 619.7 L1046.0 613.9 L1046.8 608.2 L1047.5 602.5 L1048.2 596.8 L1048.9 591.3 L1049.6 585.8 L1050.3 580.4 L1051.0 575.1 L1051.7 569.9 L1052.4 564.9 L1053.1 560.0 L1053.9 555.2 L1054.6 550.5 L1055.3 546.1 L1056.0 541.8 L1056.7 537.6 L1057.4 533.7 L1058.1 529.9 L1058.8 526.3 L1059.5 523.0 L1060.2 519.8 L1061.0 516.9 L1061.7 514.1 L1062.4 511.6 L1063.1 509.4 L1063.8 507.3 L1064.5 505.5 L1065.2 504.0 L1065.9 502.6 L1066.6 501.6 L1067.3 500.7 L1068.1 500.2 L1068.8 499.8 L1069.5 499.8 L1070.2 500.1 L1070.9 500.8 L1071.6 502.0 L1072.3 503.6 L1073.0 505.6 L1073.7 508.0 L1074.4 510.9 L1075.2 514.1 L1075.9 517.8 L1076.6 521.8 L1077.3 526.2 L1078.0 530.9 L1078.7 536.1 L1079.4 541.5 L1080.1 547.2 L1080.8 553.3 L1081.5 559.6 L1082.3 566.2 L1083.0 573.0 L1083.7 580.1 L1084.4 587.4 L1085.1 594.8 L1085.8 602.5 L1086.5 610.2 L1087.2 618.1 L1087.9 626.1 L1088.6 634.2 L1089.4 642.3 L1090.1 650.4 L1090.8 658.6 L1091.5 666.7 L1092.2 674.8 L1092.9 682.8 L1093.6 690.8 L1094.3 698.6 L1095.0 706.3 L1095.7 713.9 L1096.5 721.3 L1097.2 728.5 L1097.9 735.4 L1098.6 742.2 L1099.3 748.7 L1100.0 754.9 L1100.7 760.8 L1101.4 766.5 L1102.1 771.8 L1102.8 776.7 L1103.6 781.3 L1104.3 785.6 L1105.0 789.5 L1105.7 792.9 L1106.4 796.0 L1107.1 798.7 L1107.8 801.0 L1108.5 802.8 L1109.2 804.3 L1109.9 805.3 L1110.6 805.8 L1111.4 806.0 L1112.1 805.8 L1112.8 805.4 L1113.5 804.8 L1114.2 803.9 L1114.9 802.8 L1115.6 801.4 L1116.3 799.9 L1117.0 798.1 L1117.7 796.1 L1118.5 793.9 L1119.2 791.4 L1119.9 788.7 L1120.6 785.9 L1121.3 782.8 L1122.0 779.5 L1122.7 776.1 L1123.4 772.4 L1124.1 768.6 L1124.8 764.6 L1125.6 760.4 L1126.3 756.1 L1127.0 751.6 L1127.7 747.0 L1128.4 742.2 L1129.1 737.3 L1129.8 732.3 L1130.5 727.2 L1131.2 722.0 L1131.9 716.6 L1132.7 711.2 L1133.4 705.7 L1134.1 700.1 L1134.8 694.5 L1135.5 688.8 L1136.2 683.1 L1136.9 677.4 L1137.6 671.6 L1138.3 665.8 L1139.0 660.0 L1139.8 654.2 L1140.5 648.5 L1141.2 642.7 L1141.9 637.0 L1142.6 631.3 L1143.3 625.7 L1144.0 620.2 L1144.7 614.7 L1145.4 609.3 L1146.1 604.0 L1146.9 598.9 L1147.6 593.8 L1148.3 588.8 L1149.0 584.0 L1149.7 579.2 L1150.4 574.7 L1151.1 570.2 L1151.8 566.0 L1152.5 561.9 L1153.2 557.9 L1154.0 554.2 L1154.7 550.6 L1155.4 547.2 L1156.1 544.0 L1156.8 541.1 L1157.5 538.3 L1158.2 535.7 L1158.9 533.3 L1159.6 531.2 L1160.3 529.3 L1161.1 527.6 L1161.8 526.1 L1162.5 524.9 L1163.2 523.8 L1163.9 523.1 L1164.6 522.5 L1165.3 522.2 L1166.0 522.1 L1166.7 522.3 L1167.4 522.7 L1168.2 523.2 L1168.9 524.0 L1169.6 525.0 L1170.3 526.3 L1171.0 527.7 L1171.7 529.3 L1172.4 531.2 L1173.1 533.2 L1173.8 535.4 L1174.5 537.9 L1175.2 540.5 L1176.0 543.3 L1176.7 546.3 L1177.4 549.4 L1178.1 552.8 L1178.8 556.3 L1179.5 559.9 L1180.2 563.7 L1180.9 567.7 L1181.6 571.8 L1182.3 576.0 L1183.1 580.3 L1183.8 584.8 L1184.5 589.4 L1185.2 594.1 L1185.9 598.8 L1186.6 603.7 L1187.3 608.7 L1188.0 613.7 L1188.7 618.7 L1189.4 623.9 L1190.2 629.1 L1190.9 634.3 L1191.6 639.5 L1192.3 644.8 L1193.0 650.1 L1193.7 655.4 L1194.4 660.6 L1195.1 665.9 L1195.8 671.1 L1196.5 676.3 L1197.3 681.5 L1198.0 686.6 L1198.7 691.6 L1199.4 696.6 L1200.1 701.5 L1200.8 706.3 L1201.5 711.1 L1202.2 715.7 L1202.9 720.2 L1203.6 724.6 L1204.4 728.9 L1205.1 733.1 L1205.8 737.1 L1206.5 741.0 L1207.2 744.7 L1207.9 748.3 L1208.6 751.7 L1209.3 755.0 L1210.0 758.0 L1210.7 760.9 L1211.5 763.6 L1212.2 766.2 L1212.9 768.5 L1213.6 770.6 L1214.3 772.6 L1215.0 774.3 L1215.7 775.8 L1216.4 777.2 L1217.1 778.3 L1217.8 779.2 L1218.6 779.9 L1219.3 780.3 L1220.0 780.6 L1220.7 780.6 L1221.4 780.4 L1222.1 779.8 L1222.8 779.0 L1223.5 777.8 L1224.2 776.3 L1224.9 774.6 L1225.7 772.5 L1226.4 770.1 L1227.1 767.5 L1227.8 764.6 L1228.5 761.4 L1229.2 757.9 L1229.9 754.2 L1230.6 750.2 L1231.3 746.0 L1232.0 741.5 L1232.8 736.8 L1233.5 731.9 L1234.2 726.8 L1234.9 721.5 L1235.6 716.0 L1236.3 710.4 L1237.0 704.5 L1237.7 698.6 L1238.4 692.5 L1239.1 686.2 L1239.9 679.9 L1240.6 673.5 L1241.3 667.0 L1242.0 660.4 L1242.7 653.8 L1243.4 647.1 L1244.1 640.4 L1244.8 633.7 L1245.5 627.0 L1246.2 620.3 L1246.9 613.7 L1247.7 607.1 L1248.4 600.5 L1249.1 594.0 L1249.8 587.6 L1250.5 581.4 L1251.2 575.2 L1251.9 569.1 L1252.6 563.2 L1253.3 557.5 L1254.0 551.9 L1254.8 546.5 L1255.5 541.2 L1256.2 536.2 L1256.9 531.4 L1257.6 526.8 L1258.3 522.4 L1259.0 518.3 L1259.7 514.4 L1260.4 510.8 L1261.1 507.4 L1261.9 504.3 L1262.6 501.5 L1263.3 499.0 L1264.0 496.8 L1264.7 494.8 L1265.4 493.2 L1266.1 491.8 L1266.8 490.8 L1267.5 490.0 L1268.2 489.6 L1269.0 489.5 L1269.7 489.7 L1270.4 490.2 L1271.1 491.1 L1271.8 492.4 L1272.5 494.0 L1273.2 495.9 L1273.9 498.1 L1274.6 500.7 L1275.3 503.6 L1276.1 506.8 L1276.8 510.4 L1277.5 514.2 L1278.2 518.3 L1278.9 522.7 L1279.6 527.4 L1280.3 532.4 L1281.0 537.6 L1281.7 543.0 L1282.4 548.7 L1283.2 554.5 L1283.9 560.6 L1284.6 566.9 L1285.3 573.3 L1286.0 579.9 L1286.7 586.7 L1287.4 593.6 L1288.1 600.6 L1288.8 607.7 L1289.5 614.9 L1290.3 622.1 L1291.0 629.5 L1291.7 636.8 L1292.4 644.2 L1293.1 651.5 L1293.8 658.9 L1294.5 666.2 L1295.2 673.5 L1295.9 680.8 L1296.6 687.9 L1297.4 695.0 L1298.1 701.9 L1298.8 708.7 L1299.5 715.4 L1300.2 721.9 L1300.9 728.3 L1301.6 734.5 L1302.3 740.5 L1303.0 746.2 L1303.7 751.8 L1304.5 757.1 L1305.2 762.2 L1305.9 767.0 L1306.6 771.5 L1307.3 775.8 L1308.0 779.8 L1308.7 783.5 L1309.4 786.8 L1310.1 789.9 L1310.8 792.7 L1311.6 795.1 L1312.3 797.2 L1313.0 798.9 L1313.7 800.3 L1314.4 801.4 L1315.1 802.1 L1315.8 802.5 L1316.5 802.6 L1317.2 802.4 L1317.9 801.9 L1318.6 801.3 L1319.4 800.4 L1320.1 799.4 L1320.8 798.1 L1321.5 796.6 L1322.2 794.9 L1322.9 792.9 L1323.6 790.8 L1324.3 788.5 L1325.0 785.9 L1325.7 783.2 L1326.5 780.3 L1327.2 777.2 L1327.9 774.0 L1328.6 770.5 L1329.3 766.9 L1330.0 763.2 L1330.7 759.2 L1331.4 755.2 L1332.1 751.0 L1332.8 746.6 L1333.6 742.2 L1334.3 737.6 L1335.0 732.9 L1335.7 728.1 L1336.4 723.3 L1337.1 718.3 L1337.8 713.3 L1338.5 708.2 L1339.2 703.0 L1339.9 697.8 L1340.7 692.6 L1341.4 687.3 L1342.1 682.0 L1342.8 676.7 L1343.5 671.4 L1344.2 666.1 L1344.9 660.8 L1345.6 655.5 L1346.3 650.3 L1347.0 645.1 L1347.8 640.0 L1348.5 634.9 L1349.2 629.9 L1349.9 625.0 L1350.6 620.1 L1351.3 615.4 L1352.0 610.7 L1352.7 606.2 L1353.4 601.8 L1354.1 597.5 L1354.9 593.4 L1355.6 589.4 L1356.3 585.5 L1357.0 581.8 L1357.7 578.3 L1358.4 574.9 L1359.1 571.7 L1359.8 568.7 L1360.5 565.9 L1361.2 563.2 L1362.0 560.8 L1362.7 558.5 L1363.4 556.5 L1364.1 554.6 L1364.8 553.0 L1365.5 551.6 L1366.2 550.4 L1366.9 549.4 L1367.6 548.6 L1368.3 548.1 L1369.1 547.7 L1369.8 547.6 L1370.5 547.7 L1371.2 548.0 L1371.9 548.4 L1372.6 549.0 L1373.3 549.7 L1374.0 550.7 L1374.7 551.8 L1375.4 553.0 L1376.2 554.5 L1376.9 556.0 L1377.6 557.8 L1378.3 559.7 L1379.0 561.7 L1379.7 563.9 L1380.4 566.3 L1381.1 568.8 L1381.8 571.4 L1382.5 574.2 L1383.3 577.1 L1384.0 580.1 L1384.7 583.2 L1385.4 586.5 L1386.1 589.9 L1386.8 593.4 L1387.5 597.0 L1388.2 600.7 L1388.9 604.5 L1389.6 608.3 L1390.3 612.3 L1391.1 616.3 L1391.8 620.4 L1392.5 624.6 L1393.2 628.8 L1393.9 633.1 L1394.6 637.4 L1395.3 641.8 L1396.0 646.1 L1396.7 650.6 L1397.4 655.0 L1398.2 659.4 L1398.9 663.9 L1399.6 668.4 L1400.3 672.8 L1401.0 677.3 L1401.7 681.7 L1402.4 686.1 L1403.1 690.4 L1403.8 694.8 L1404.5 699.0 L1405.3 703.3 L1406.0 707.4 L1406.7 711.5 L1407.4 715.6 L1408.1 719.5 L1408.8 723.4 L1409.5 727.2 L1410.2 730.9 L1410.9 734.5 L1411.6 738.0 L1412.4 741.4 L1413.1 744.7 L1413.8 747.8 L1414.5 750.9 L1415.2 753.8 L1415.9 756.6 L1416.6 759.2 L1417.3 761.7 L1418.0 764.1 L1418.7 766.3 L1419.5 768.4 L1420.2 770.3 L1420.9 772.1 L1421.6 773.7 L1422.3 775.1 L1423.0 776.4 L1423.7 777.5 L1424.4 778.4 L1425.1 779.2 L1425.8 779.8 L1426.6 780.3 L1427.3 780.5 L1428.0 780.6 L1428.7 780.5 L1429.4 780.0 L1430.1 779.2 L1430.8 778.0 L1431.5 776.4 L1432.2 774.6 L1432.9 772.4 L1433.7 769.8 L1434.4 766.9 L1435.1 763.8 L1435.8 760.3 L1436.5 756.5 L1437.2 752.4 L1437.9 748.0 L1438.6 743.4 L1439.3 738.5 L1440.0 733.3 L1440.8 727.9 L1441.5 722.3 L1442.2 716.5 L1442.9 710.5 L1443.6 704.3 L1444.3 698.0 L1445.0 691.5 L1445.7 684.9 L1446.4 678.1 L1447.1 671.3 L1447.9 664.4 L1448.6 657.4 L1449.3 650.4 L1450.0 643.3 L1450.7 636.3 L1451.4 629.2 L1452.1 622.2 L1452.8 615.2 L1453.5 608.2 L1454.2 601.4 L1455.0 594.6 L1455.7 588.0 L1456.4 581.4 L1457.1 575.0 L1457.8 568.8 L1458.5 562.7 L1459.2 556.9 L1459.9 551.2 L1460.6 545.8 L1461.3 540.5 L1462.0 535.6 L1462.8 530.8 L1463.5 526.4 L1464.2 522.2 L1464.9 518.3 L1465.6 514.7 L1466.3 511.4 L1467.0 508.5 L1467.7 505.8 L1468.4 503.5 L1469.1 501.6 L1469.9 499.9 L1470.6 498.6 L1471.3 497.7 L1472.0 497.1 L1472.7 496.8 L1473.4 497.0 L1474.1 497.5 L1474.8 498.5 L1475.5 499.9 L1476.2 501.8 L1477.0 504.0 L1477.7 506.7 L1478.4 509.8 L1479.1 513.3 L1479.8 517.1 L1480.5 521.4 L1481.2 526.0 L1481.9 530.9 L1482.6 536.2 L1483.3 541.7 L1484.1 547.6 L1484.8 553.8 L1485.5 560.2 L1486.2 566.9 L1486.9 573.8 L1487.6 580.8 L1488.3 588.1 L1489.0 595.6 L1489.7 603.1 L1490.4 610.8 L1491.2 618.6 L1491.9 626.4 L1492.6 634.3 L1493.3 642.2 L1494.0 650.2 L1494.7 658.0 L1495.4 665.9 L1496.1 673.6 L1496.8 681.3 L1497.5 688.9 L1498.3 696.3 L1499.0 703.5 L1499.7 710.6 L1500.4 717.4 L1501.1 724.0 L1501.8 730.4 L1502.5 736.5 L1503.2 742.3 L1503.9 747.8 L1504.6 753.0 L1505.4 757.9 L1506.1 762.4 L1506.8 766.6 L1507.5 770.4 L1508.2 773.8 L1508.9 776.8 L1509.6 779.4 L1510.3 781.5 L1511.0 783.3 L1511.7 784.6 L1512.5 785.5 L1513.2 786.0 L1513.9 786.1 L1514.6 785.7 L1515.3 785.0 L1516.0 783.9 L1516.7 782.4 L1517.4 780.5 L1518.1 778.3 L1518.8 775.6 L1519.6 772.7 L1520.3 769.4 L1521.0 765.7 L1521.7 761.7 L1522.4 757.5 L1523.1 752.9 L1523.8 748.0 L1524.5 742.8 L1525.2 737.4 L1525.9 731.7 L1526.7 725.8 L1527.4 719.7 L1528.1 713.4 L1528.8 706.9 L1529.5 700.3 L1530.2 693.5" fill="none" stroke="#058205" stroke-width="3.9" stroke-linejoin="round" stroke-linecap="butt" stroke-dasharray="15 14.1" clip-path="url(#clb)"/>
<line x1="110.4" y1="487.4" x2="1530.2" y2="487.4" stroke="#6e6e6e" stroke-width="1"/>
<line x1="110.4" y1="817.3" x2="1530.2" y2="817.3" stroke="#6e6e6e" stroke-width="1"/>
<line x1="110.4" y1="487.4" x2="110.4" y2="817.3" stroke="#6e6e6e" stroke-width="1"/>
<line x1="1530.2" y1="487.4" x2="1530.2" y2="817.3" stroke="#6e6e6e" stroke-width="1"/>
<line x1="252.4" y1="817.3" x2="252.4" y2="803.0999999999999" stroke="#6e6e6e" stroke-width="1"/>
<line x1="252.4" y1="487.4" x2="252.4" y2="501.59999999999997" stroke="#6e6e6e" stroke-width="1"/>
<line x1="394.4" y1="817.3" x2="394.4" y2="803.0999999999999" stroke="#6e6e6e" stroke-width="1"/>
<line x1="394.4" y1="487.4" x2="394.4" y2="501.59999999999997" stroke="#6e6e6e" stroke-width="1"/>
<line x1="536.3" y1="817.3" x2="536.3" y2="803.0999999999999" stroke="#6e6e6e" stroke-width="1"/>
<line x1="536.3" y1="487.4" x2="536.3" y2="501.59999999999997" stroke="#6e6e6e" stroke-width="1"/>
<line x1="678.3" y1="817.3" x2="678.3" y2="803.0999999999999" stroke="#6e6e6e" stroke-width="1"/>
<line x1="678.3" y1="487.4" x2="678.3" y2="501.59999999999997" stroke="#6e6e6e" stroke-width="1"/>
<line x1="820.3" y1="817.3" x2="820.3" y2="803.0999999999999" stroke="#6e6e6e" stroke-width="1"/>
<line x1="820.3" y1="487.4" x2="820.3" y2="501.59999999999997" stroke="#6e6e6e" stroke-width="1"/>
<line x1="962.3" y1="817.3" x2="962.3" y2="803.0999999999999" stroke="#6e6e6e" stroke-width="1"/>
<line x1="962.3" y1="487.4" x2="962.3" y2="501.59999999999997" stroke="#6e6e6e" stroke-width="1"/>
<line x1="1104.3" y1="817.3" x2="1104.3" y2="803.0999999999999" stroke="#6e6e6e" stroke-width="1"/>
<line x1="1104.3" y1="487.4" x2="1104.3" y2="501.59999999999997" stroke="#6e6e6e" stroke-width="1"/>
<line x1="1246.2" y1="817.3" x2="1246.2" y2="803.0999999999999" stroke="#6e6e6e" stroke-width="1"/>
<line x1="1246.2" y1="487.4" x2="1246.2" y2="501.59999999999997" stroke="#6e6e6e" stroke-width="1"/>
<line x1="1388.2" y1="817.3" x2="1388.2" y2="803.0999999999999" stroke="#6e6e6e" stroke-width="1"/>
<line x1="1388.2" y1="487.4" x2="1388.2" y2="501.59999999999997" stroke="#6e6e6e" stroke-width="1"/>
<line x1="110.4" y1="798.6" x2="124.60000000000001" y2="798.6" stroke="#6e6e6e" stroke-width="1"/>
<line x1="110.4" y1="725.0" x2="124.60000000000001" y2="725.0" stroke="#6e6e6e" stroke-width="1"/>
<line x1="110.4" y1="651.4" x2="124.60000000000001" y2="651.4" stroke="#6e6e6e" stroke-width="1"/>
<line x1="110.4" y1="577.8" x2="124.60000000000001" y2="577.8" stroke="#6e6e6e" stroke-width="1"/>
<line x1="110.4" y1="504.2" x2="124.60000000000001" y2="504.2" stroke="#6e6e6e" stroke-width="1"/>
<line x1="1530.2" y1="798.6" x2="1516.0" y2="798.6" stroke="#6e6e6e" stroke-width="1"/>
<line x1="1530.2" y1="725.0" x2="1516.0" y2="725.0" stroke="#6e6e6e" stroke-width="1"/>
<line x1="1530.2" y1="651.4" x2="1516.0" y2="651.4" stroke="#6e6e6e" stroke-width="1"/>
<line x1="1530.2" y1="577.8" x2="1516.0" y2="577.8" stroke="#6e6e6e" stroke-width="1"/>
<line x1="1530.2" y1="504.2" x2="1516.0" y2="504.2" stroke="#6e6e6e" stroke-width="1"/>
<text x="110.4" y="854.7" text-anchor="middle" font-size="30.7" fill="#262626" font-family="Liberation Sans, Arial, sans-serif" font-weight="bold">200</text>
<text x="252.4" y="854.7" text-anchor="middle" font-size="30.7" fill="#262626" font-family="Liberation Sans, Arial, sans-serif" font-weight="bold">400</text>
<text x="394.4" y="854.7" text-anchor="middle" font-size="30.7" fill="#262626" font-family="Liberation Sans, Arial, sans-serif" font-weight="bold">600</text>
<text x="536.3" y="854.7" text-anchor="middle" font-size="30.7" fill="#262626" font-family="Liberation Sans, Arial, sans-serif" font-weight="bold">800</text>
<text x="678.3" y="854.7" text-anchor="middle" font-size="30.7" fill="#262626" font-family="Liberation Sans, Arial, sans-serif" font-weight="bold">1000</text>
<text x="820.3" y="854.7" text-anchor="middle" font-size="30.7" fill="#262626" font-family="Liberation Sans, Arial, sans-serif" font-weight="bold">1200</text>
<text x="962.3" y="854.7" text-anchor="middle" font-size="30.7" fill="#262626" font-family="Liberation Sans, Arial, sans-serif" font-weight="bold">1400</text>
<text x="1104.3" y="854.7" text-anchor="middle" font-size="30.7" fill="#262626" font-family="Liberation Sans, Arial, sans-serif" font-weight="bold">1600</text>
<text x="1246.2" y="854.7" text-anchor="middle" font-size="30.7" fill="#262626" font-family="Liberation Sans, Arial, sans-serif" font-weight="bold">1800</text>
<text x="1388.2" y="854.7" text-anchor="middle" font-size="30.7" fill="#262626" font-family="Liberation Sans, Arial, sans-serif" font-weight="bold">2000</text>
<text x="1530.2" y="854.7" text-anchor="middle" font-size="30.7" fill="#262626" font-family="Liberation Sans, Arial, sans-serif" font-weight="bold">2200</text>
<text x="98.5" y="809.5" text-anchor="end" font-size="30.7" fill="#262626" font-family="Liberation Sans, Arial, sans-serif" font-weight="bold">-1</text>
<text x="98.5" y="735.9" text-anchor="end" font-size="30.7" fill="#262626" font-family="Liberation Sans, Arial, sans-serif" font-weight="bold">-0.5</text>
<text x="98.5" y="662.3" text-anchor="end" font-size="30.7" fill="#262626" font-family="Liberation Sans, Arial, sans-serif" font-weight="bold">0</text>
<text x="98.5" y="588.7" text-anchor="end" font-size="30.7" fill="#262626" font-family="Liberation Sans, Arial, sans-serif" font-weight="bold">0.5</text>
<text x="98.5" y="515.1" text-anchor="end" font-size="30.7" fill="#262626" font-family="Liberation Sans, Arial, sans-serif" font-weight="bold">1</text>
<text transform="translate(40,652) rotate(-90)" text-anchor="middle" font-size="33" fill="#262626" font-family="Liberation Sans, Arial, sans-serif" font-weight="bold">elevation (m)</text>
<text x="820" y="893" text-anchor="middle" font-size="33" fill="#262626" font-family="Liberation Sans, Arial, sans-serif" font-weight="bold">range (m)</text>
<text x="90.5" y="912" font-size="47" fill="#262626" font-family="Liberation Sans, Arial, sans-serif" font-weight="bold">b)</text>
<rect x="1294.6" y="396.9" width="335.9" height="101" fill="#fff" stroke="#8c8c8c" stroke-width="1"/>
<line x1="1298.2" y1="414.9" x2="1336.4" y2="414.9" stroke="#0072BD" stroke-width="3.9"/>
<text x="1339.9" y="424.5" font-size="27.4" fill="#000" font-family="Liberation Sans, Arial, sans-serif" font-weight="bold">original</text>
<line x1="1298.2" y1="447.3" x2="1336.4" y2="447.3" stroke="#D95319" stroke-width="4.0" stroke-dasharray="3.9 3.35"/>
<text x="1339.9" y="456.9" font-size="27.4" fill="#000" font-family="Liberation Sans, Arial, sans-serif" font-weight="bold">reconstructed CWTFT</text>
<line x1="1298.2" y1="479.7" x2="1336.4" y2="479.7" stroke="#058205" stroke-width="3.9" stroke-dasharray="15 14.1"/>
<text x="1339.9" y="489.3" font-size="27.4" fill="#000" font-family="Liberation Sans, Arial, sans-serif" font-weight="bold">reconstructed FFT</text>
<line x1="111.7" y1="974.0" x2="111.7" y2="1307.0" stroke="#e8e8e8" stroke-width="1"/>
<line x1="254.7" y1="974.0" x2="254.7" y2="1307.0" stroke="#e8e8e8" stroke-width="1"/>
<line x1="397.6" y1="974.0" x2="397.6" y2="1307.0" stroke="#e8e8e8" stroke-width="1"/>
<line x1="540.5" y1="974.0" x2="540.5" y2="1307.0" stroke="#e8e8e8" stroke-width="1"/>
<line x1="683.5" y1="974.0" x2="683.5" y2="1307.0" stroke="#e8e8e8" stroke-width="1"/>
<line x1="826.5" y1="974.0" x2="826.5" y2="1307.0" stroke="#e8e8e8" stroke-width="1"/>
<line x1="969.4" y1="974.0" x2="969.4" y2="1307.0" stroke="#e8e8e8" stroke-width="1"/>
<line x1="1112.3" y1="974.0" x2="1112.3" y2="1307.0" stroke="#e8e8e8" stroke-width="1"/>
<line x1="1255.3" y1="974.0" x2="1255.3" y2="1307.0" stroke="#e8e8e8" stroke-width="1"/>
<line x1="1398.2" y1="974.0" x2="1398.2" y2="1307.0" stroke="#e8e8e8" stroke-width="1"/>
<line x1="1541.2" y1="974.0" x2="1541.2" y2="1307.0" stroke="#e8e8e8" stroke-width="1"/>
<line x1="111.7" y1="1307.0" x2="1541.2" y2="1307.0" stroke="#dcecf5" stroke-width="1"/>
<line x1="111.7" y1="1223.8" x2="1541.2" y2="1223.8" stroke="#dcecf5" stroke-width="1"/>
<line x1="111.7" y1="1140.5" x2="1541.2" y2="1140.5" stroke="#dcecf5" stroke-width="1"/>
<line x1="111.7" y1="1057.2" x2="1541.2" y2="1057.2" stroke="#dcecf5" stroke-width="1"/>
<line x1="111.7" y1="974.0" x2="1541.2" y2="974.0" stroke="#dcecf5" stroke-width="1"/>
<path d="M111.7 1082.7 L112.2 1082.0 L112.7 1081.1 L113.2 1080.2 L113.7 1079.4 L114.2 1079.4 L114.7 1080.8 L115.2 1083.1 L115.7 1085.1 L116.2 1085.9 L116.7 1085.2 L117.2 1083.7 L117.7 1082.0 L118.2 1080.4 L118.7 1078.9 L119.2 1078.4 L119.7 1080.2 L120.2 1084.3 L120.7 1089.4 L121.2 1094.7 L121.7 1099.5 L122.2 1102.9 L122.7 1104.6 L123.2 1105.5 L123.7 1106.4 L124.2 1108.6 L124.7 1113.3 L125.2 1120.1 L125.7 1127.7 L126.2 1135.4 L126.7 1143.1 L127.2 1150.2 L127.7 1156.6 L128.2 1162.3 L128.7 1167.8 L129.2 1172.5 L129.7 1175.1 L130.2 1175.3 L130.7 1174.9 L131.2 1175.6 L131.7 1177.7 L132.2 1180.0 L132.7 1180.0 L133.2 1175.9 L133.7 1169.2 L134.2 1161.9 L134.7 1154.6 L135.2 1147.8 L135.7 1141.6 L136.2 1135.9 L136.7 1130.3 L137.2 1124.9 L137.7 1119.7 L138.2 1115.6 L138.7 1113.2 L139.2 1111.8 L139.7 1110.6 L140.2 1109.5 L140.7 1108.6 L141.2 1108.4 L141.7 1108.8 L142.2 1109.9 L142.7 1112.0 L143.2 1117.0 L143.7 1125.6 L144.2 1136.1 L144.7 1146.9 L145.2 1157.8 L145.7 1168.5 L146.2 1178.3 L146.7 1186.6 L147.2 1193.8 L147.7 1200.7 L148.2 1207.0 L148.7 1210.4 L149.2 1208.4 L149.7 1202.3 L150.2 1194.8 L150.7 1187.5 L151.2 1181.3 L151.7 1176.8 L152.2 1173.5 L152.7 1171.5 L153.2 1171.7 L153.7 1173.7 L154.2 1176.4 L154.7 1179.1 L155.2 1181.8 L155.8 1184.3 L156.3 1186.6 L156.8 1188.8 L157.3 1191.0 L157.8 1192.5 L158.3 1192.8 L158.8 1191.5 L159.3 1189.4 L159.8 1187.1 L160.3 1184.9 L160.8 1182.3 L161.3 1178.8 L161.8 1173.8 L162.3 1167.7 L162.8 1161.4 L163.3 1154.7 L163.8 1147.1 L164.3 1138.5 L164.8 1129.5 L165.3 1120.3 L165.8 1111.1 L166.3 1102.0 L166.8 1093.2 L167.3 1085.2 L167.8 1077.8 L168.3 1070.7 L168.8 1063.7 L169.3 1056.9 L169.8 1051.2 L170.3 1047.4 L170.8 1045.2 L171.3 1043.8 L171.8 1043.3 L172.3 1043.9 L172.8 1045.6 L173.3 1049.4 L173.8 1057.0 L174.3 1067.3 L174.8 1078.4 L175.3 1089.7 L175.8 1100.6 L176.3 1110.7 L176.8 1119.4 L177.3 1127.4 L177.8 1135.1 L178.3 1142.8 L178.8 1150.4 L179.3 1157.0 L179.8 1162.0 L180.3 1165.7 L180.8 1168.8 L181.3 1170.9 L181.8 1171.2 L182.3 1170.0 L182.8 1168.4 L183.3 1166.6 L183.8 1164.6 L184.3 1161.6 L184.8 1156.9 L185.3 1151.2 L185.8 1145.2 L186.3 1139.2 L186.8 1133.2 L187.3 1127.2 L187.8 1121.2 L188.3 1115.4 L188.8 1109.9 L189.3 1104.7 L189.8 1099.7 L190.3 1094.8 L190.8 1089.9 L191.3 1085.0 L191.8 1080.4 L192.3 1077.3 L192.8 1076.8 L193.3 1078.2 L193.8 1080.3 L194.3 1083.5 L194.8 1088.2 L195.3 1094.1 L195.8 1100.4 L196.3 1106.7 L196.8 1113.1 L197.3 1119.4 L197.8 1125.7 L198.3 1132.2 L198.8 1138.9 L199.3 1146.0 L199.8 1153.2 L200.3 1160.5 L200.8 1167.8 L201.3 1175.1 L201.8 1182.3 L202.3 1188.7 L202.8 1193.7 L203.3 1197.5 L203.8 1200.9 L204.3 1204.3 L204.8 1208.0 L205.3 1212.2 L205.8 1216.8 L206.3 1221.4 L206.8 1224.9 L207.3 1226.6 L207.8 1226.9 L208.3 1225.3 L208.8 1220.5 L209.3 1212.8 L209.8 1204.0 L210.3 1195.1 L210.8 1186.9 L211.3 1179.6 L211.8 1173.0 L212.3 1166.5 L212.8 1160.1 L213.3 1154.3 L213.8 1150.2 L214.3 1148.3 L214.8 1147.6 L215.3 1147.0 L215.8 1146.6 L216.3 1146.3 L216.8 1146.4 L217.3 1146.8 L217.8 1147.4 L218.3 1147.8 L218.8 1147.3 L219.3 1145.3 L219.8 1142.3 L220.3 1139.0 L220.8 1135.6 L221.3 1132.3 L221.8 1129.0 L222.3 1125.6 L222.8 1122.2 L223.3 1118.6 L223.8 1114.7 L224.3 1110.8 L224.8 1106.8 L225.3 1102.8 L225.8 1098.8 L226.3 1094.8 L226.8 1090.8 L227.3 1087.2 L227.8 1084.1 L228.3 1081.5 L228.8 1079.2 L229.3 1076.9 L229.8 1075.3 L230.3 1074.7 L230.8 1075.5 L231.3 1077.0 L231.8 1079.8 L232.3 1084.2 L232.8 1089.7 L233.3 1095.5 L233.8 1101.1 L234.3 1106.5 L234.8 1110.8 L235.3 1113.8 L235.8 1116.1 L236.3 1118.6 L236.8 1121.7 L237.3 1125.8 L237.8 1130.3 L238.3 1134.8 L238.8 1138.6 L239.3 1140.9 L239.8 1141.8 L240.3 1142.1 L240.8 1142.4 L241.3 1142.9 L241.8 1144.2 L242.3 1146.9 L242.8 1150.8 L243.3 1154.9 L243.8 1159.1 L244.3 1163.2 L244.8 1166.9 L245.3 1168.5 L245.8 1166.9 L246.3 1163.1 L246.8 1158.7 L247.3 1154.3 L247.8 1149.6 L248.3 1144.7 L248.8 1139.8 L249.3 1135.5 L249.8 1134.1 L250.3 1138.1 L250.8 1146.4 L251.3 1155.9 L251.8 1164.7 L252.3 1171.7 L252.8 1177.4 L253.3 1182.5 L253.8 1187.4 L254.3 1192.0 L254.8 1194.6 L255.3 1194.1 L255.8 1191.7 L256.3 1188.7 L256.8 1185.7 L257.3 1182.9 L257.8 1180.6 L258.3 1178.9 L258.8 1177.6 L259.3 1176.3 L259.8 1175.0 L260.3 1173.3 L260.8 1170.9 L261.3 1167.6 L261.8 1163.9 L262.3 1160.1 L262.8 1156.1 L263.3 1150.9 L263.8 1143.5 L264.3 1134.4 L264.8 1124.5 L265.3 1114.5 L265.8 1104.7 L266.3 1095.7 L266.8 1088.2 L267.3 1081.6 L267.8 1075.5 L268.3 1070.8 L268.8 1069.8 L269.3 1073.0 L269.8 1078.3 L270.3 1083.3 L270.8 1086.6 L271.3 1087.8 L271.8 1088.0 L272.3 1087.9 L272.8 1087.9 L273.3 1088.5 L273.8 1090.4 L274.3 1093.4 L274.8 1096.9 L275.3 1100.5 L275.8 1104.1 L276.3 1108.1 L276.8 1112.6 L277.3 1117.4 L277.8 1122.4 L278.3 1127.4 L278.8 1132.5 L279.3 1138.0 L279.8 1144.1 L280.3 1150.5 L280.8 1157.0 L281.3 1163.3 L281.8 1168.4 L282.3 1170.5 L282.8 1168.9 L283.3 1165.4 L283.8 1161.4 L284.3 1157.5 L284.8 1154.3 L285.3 1152.4 L285.8 1151.7 L286.3 1151.9 L286.8 1153.0 L287.3 1155.4 L287.8 1158.5 L288.3 1161.9 L288.8 1165.1 L289.3 1168.1 L289.8 1170.7 L290.3 1173.0 L290.8 1175.1 L291.3 1177.3 L291.8 1179.5 L292.3 1181.6 L292.8 1183.8 L293.3 1185.8 L293.8 1187.6 L294.3 1189.0 L294.8 1190.2 L295.3 1191.4 L295.8 1192.5 L296.3 1193.7 L296.8 1194.9 L297.3 1195.9 L297.8 1196.1 L298.3 1195.0 L298.8 1192.6 L299.3 1189.7 L299.8 1186.7 L300.3 1183.5 L300.8 1179.7 L301.3 1174.7 L301.8 1169.0 L302.3 1163.0 L302.8 1157.0 L303.3 1151.0 L303.8 1145.0 L304.3 1139.0 L304.8 1132.8 L305.3 1126.4 L305.8 1119.6 L306.3 1112.5 L306.8 1105.4 L307.3 1098.4 L307.8 1091.3 L308.3 1084.2 L308.8 1077.2 L309.4 1070.3 L309.9 1063.4 L310.4 1056.9 L310.9 1051.8 L311.4 1049.4 L311.9 1049.1 L312.4 1049.6 L312.9 1050.2 L313.4 1050.9 L313.9 1051.4 L314.4 1051.7 L314.9 1051.4 L315.4 1050.7 L315.9 1050.1 L316.4 1049.9 L316.9 1050.3 L317.4 1050.9 L317.9 1052.3 L318.4 1057.0 L318.9 1067.7 L319.4 1082.7 L319.9 1098.0 L320.4 1110.4 L320.9 1119.0 L321.4 1125.6 L321.9 1131.8 L322.4 1137.9 L322.9 1144.1 L323.4 1150.2 L323.9 1156.5 L324.4 1162.9 L324.9 1169.3 L325.4 1175.8 L325.9 1182.4 L326.4 1188.9 L326.9 1195.6 L327.4 1202.4 L327.9 1209.4 L328.4 1216.4 L328.9 1223.1 L329.4 1228.5 L329.9 1230.5 L330.4 1228.5 L330.9 1224.5 L331.4 1220.1 L331.9 1215.8 L332.4 1212.9 L332.9 1212.7 L333.4 1214.9 L333.9 1218.2 L334.4 1221.7 L334.9 1224.6 L335.4 1225.4 L335.9 1222.3 L336.4 1216.3 L336.9 1209.5 L337.4 1202.5 L337.9 1196.1 L338.4 1191.2 L338.9 1189.0 L339.4 1188.3 L339.9 1188.0 L340.4 1187.6 L340.9 1187.3 L341.4 1187.0 L341.9 1186.5 L342.4 1185.2 L342.9 1182.3 L343.4 1177.7 L343.9 1171.9 L344.4 1164.7 L344.9 1154.7 L345.4 1141.5 L345.9 1126.9 L346.4 1111.9 L346.9 1096.9 L347.4 1081.8 L347.9 1066.8 L348.4 1051.8 L348.9 1036.9 L349.4 1022.6 L349.9 1010.8 L350.4 1003.0 L350.9 998.0 L351.4 996.3 L351.9 1000.2 L352.4 1009.1 L352.9 1020.0 L353.4 1031.1 L353.9 1041.8 L354.4 1052.0 L354.9 1061.8 L355.4 1070.4 L355.9 1076.5 L356.4 1080.3 L356.9 1083.0 L357.4 1085.5 L357.9 1087.8 L358.4 1089.1 L358.9 1088.5 L359.4 1086.5 L359.9 1084.2 L360.4 1082.6 L360.9 1083.4 L361.4 1087.3 L361.9 1093.0 L362.4 1099.1 L362.9 1105.4 L363.4 1112.4 L363.9 1120.7 L364.4 1129.8 L364.9 1139.0 L365.4 1148.2 L365.9 1157.5 L366.4 1166.6 L366.9 1175.2 L367.4 1182.8 L367.9 1189.4 L368.4 1195.5 L368.9 1201.5 L369.4 1206.9 L369.9 1210.0 L370.4 1208.7 L370.9 1204.1 L371.4 1198.3 L371.9 1192.3 L372.4 1186.4 L372.9 1180.8 L373.4 1176.0 L373.9 1172.3 L374.4 1171.0 L374.9 1173.3 L375.4 1177.6 L375.9 1182.3 L376.4 1187.1 L376.9 1191.9 L377.4 1197.0 L377.9 1202.4 L378.4 1207.8 L378.9 1213.3 L379.4 1218.3 L379.9 1221.2 L380.4 1219.8 L380.9 1214.7 L381.4 1208.0 L381.9 1201.1 L382.4 1194.2 L382.9 1188.0 L383.4 1182.9 L383.9 1178.7 L384.4 1174.6 L384.9 1170.6 L385.4 1166.2 L385.9 1160.6 L386.4 1153.2 L386.9 1144.7 L387.4 1136.1 L387.9 1127.4 L388.4 1118.7 L388.9 1110.1 L389.4 1101.5 L389.9 1093.4 L390.4 1086.4 L390.9 1080.4 L391.4 1075.0 L391.9 1069.6 L392.4 1064.3 L392.9 1059.0 L393.4 1053.6 L393.9 1048.5 L394.4 1044.2 L394.9 1041.3 L395.4 1039.5 L395.9 1038.0 L396.4 1036.6 L396.9 1035.2 L397.4 1034.6 L397.9 1035.3 L398.4 1037.5 L398.9 1040.2 L399.4 1043.1 L399.9 1046.3 L400.4 1049.9 L400.9 1054.2 L401.4 1058.8 L401.9 1063.5 L402.4 1068.2 L402.9 1072.8 L403.4 1077.5 L403.9 1082.3 L404.4 1087.4 L404.9 1093.2 L405.4 1099.6 L405.9 1106.3 L406.4 1112.9 L406.9 1119.6 L407.4 1126.3 L407.9 1133.0 L408.4 1140.0 L408.9 1147.9 L409.4 1157.5 L409.9 1167.9 L410.4 1178.6 L410.9 1189.3 L411.4 1199.9 L411.9 1210.6 L412.4 1221.2 L412.9 1231.3 L413.4 1240.2 L413.9 1247.9 L414.4 1255.0 L414.9 1262.0 L415.4 1268.8 L415.9 1274.5 L416.4 1278.1 L416.9 1279.9 L417.4 1280.9 L417.9 1281.0 L418.4 1279.6 L418.9 1276.8 L419.4 1273.4 L419.9 1269.5 L420.4 1263.9 L420.9 1255.8 L421.4 1246.2 L421.9 1236.2 L422.4 1226.2 L422.9 1216.2 L423.4 1206.2 L423.9 1196.1 L424.4 1185.8 L424.9 1175.1 L425.4 1163.7 L425.9 1152.1 L426.4 1140.4 L426.9 1128.8 L427.4 1117.1 L427.9 1105.4 L428.4 1093.9 L428.9 1083.2 L429.4 1073.9 L429.9 1065.7 L430.4 1058.0 L430.9 1051.5 L431.4 1048.3 L431.9 1049.8 L432.4 1053.9 L432.9 1058.6 L433.4 1062.6 L433.9 1063.6 L434.4 1059.8 L434.9 1053.0 L435.4 1045.7 L435.9 1039.0 L436.4 1033.9 L436.9 1030.5 L437.4 1028.2 L437.9 1026.9 L438.4 1027.7 L438.9 1030.7 L439.4 1035.0 L439.9 1039.7 L440.4 1045.3 L440.9 1052.5 L441.4 1061.0 L441.9 1069.9 L442.4 1078.9 L442.9 1087.9 L443.4 1097.0 L443.9 1106.0 L444.4 1115.0 L444.9 1124.1 L445.4 1133.3 L445.9 1142.5 L446.4 1151.7 L446.9 1161.0 L447.4 1170.2 L447.9 1179.1 L448.4 1186.5 L448.9 1191.2 L449.4 1193.4 L449.9 1194.5 L450.4 1194.5 L450.9 1192.9 L451.4 1189.7 L451.9 1186.2 L452.4 1183.7 L452.9 1183.6 L453.4 1185.7 L453.9 1188.8 L454.4 1192.0 L454.9 1195.1 L455.4 1197.2 L455.9 1197.6 L456.4 1196.9 L456.9 1195.8 L457.4 1194.6 L457.9 1193.4 L458.4 1192.2 L458.9 1191.0 L459.4 1189.5 L459.9 1187.2 L460.4 1183.7 L460.9 1179.6 L461.4 1175.4 L461.9 1171.2 L462.4 1167.0 L462.9 1162.8 L463.5 1158.9 L464.0 1155.6 L464.5 1152.7 L465.0 1150.0 L465.5 1147.4 L466.0 1144.7 L466.5 1142.0 L467.0 1139.4 L467.5 1136.8 L468.0 1134.4 L468.5 1132.4 L469.0 1130.6 L469.5 1128.9 L470.0 1127.2 L470.5 1126.1 L471.0 1126.4 L471.5 1128.3 L472.0 1131.0 L472.5 1133.8 L473.0 1136.7 L473.5 1139.6 L474.0 1141.8 L474.5 1141.6 L475.0 1136.8 L475.5 1128.9 L476.0 1120.1 L476.5 1111.1 L477.0 1102.1 L477.5 1093.2 L478.0 1084.3 L478.5 1075.6 L479.0 1067.2 L479.5 1060.6 L480.0 1057.6 L480.5 1057.2 L481.0 1056.6 L481.5 1054.7 L482.0 1053.0 L482.5 1052.7 L483.0 1053.6 L483.5 1056.0 L484.0 1061.0 L484.5 1068.9 L485.0 1078.5 L485.5 1089.8 L486.0 1108.4 L486.5 1137.6 L487.0 1165.8 L487.5 1180.2 L488.0 1184.8 L488.5 1187.0 L489.0 1188.0 L489.5 1187.2 L490.0 1185.5 L490.5 1183.3 L491.0 1180.5 L491.5 1176.1 L492.0 1169.9 L492.5 1163.0 L493.0 1156.2 L493.5 1150.1 L494.0 1144.6 L494.5 1139.6 L495.0 1134.5 L495.5 1129.5 L496.0 1124.5 L496.5 1119.5 L497.0 1114.5 L497.5 1109.5 L498.0 1104.5 L498.5 1099.8 L499.0 1095.9 L499.5 1093.5 L500.0 1092.3 L500.5 1091.7 L501.0 1092.6 L501.5 1096.2 L502.0 1101.8 L502.5 1108.4 L503.0 1116.3 L503.5 1125.5 L504.0 1135.2 L504.5 1144.5 L505.0 1152.2 L505.5 1158.3 L506.0 1163.5 L506.5 1168.5 L507.0 1173.4 L507.5 1178.1 L508.0 1182.2 L508.5 1185.9 L509.0 1189.3 L509.5 1192.4 L510.0 1193.8 L510.5 1192.7 L511.0 1190.0 L511.5 1187.0 L512.0 1183.9 L512.5 1180.6 L513.0 1177.1 L513.5 1173.4 L514.0 1169.7 L514.5 1166.3 L515.0 1163.5 L515.5 1161.7 L516.0 1160.3 L516.5 1158.8 L517.0 1156.6 L517.5 1152.9 L518.0 1147.9 L518.5 1142.2 L519.0 1136.5 L519.5 1130.6 L520.0 1124.6 L520.5 1118.6 L521.0 1112.7 L521.5 1106.9 L522.0 1102.1 L522.5 1099.2 L523.0 1097.5 L523.5 1096.2 L524.0 1094.9 L524.5 1093.8 L525.0 1092.8 L525.5 1092.2 L526.0 1091.9 L526.5 1091.7 L527.0 1092.2 L527.5 1094.0 L528.0 1097.1 L528.5 1100.3 L529.0 1102.5 L529.5 1103.7 L530.0 1104.6 L530.5 1105.3 L531.0 1106.2 L531.5 1107.8 L532.0 1110.6 L532.5 1114.3 L533.0 1118.4 L533.5 1123.2 L534.0 1129.4 L534.5 1136.5 L535.0 1144.0 L535.5 1151.5 L536.0 1158.6 L536.5 1164.4 L537.0 1168.3 L537.5 1171.1 L538.0 1173.6 L538.5 1176.0 L539.0 1177.9 L539.5 1178.5 L540.0 1177.5 L540.5 1175.7 L541.0 1173.7 L541.5 1171.6 L542.0 1169.2 L542.5 1166.2 L543.0 1162.5 L543.5 1158.6 L544.0 1154.6 L544.5 1150.5 L545.0 1146.0 L545.5 1140.7 L546.0 1134.9 L546.5 1128.9 L547.0 1123.0 L547.5 1117.2 L548.0 1112.1 L548.5 1108.3 L549.0 1105.1 L549.5 1102.1 L550.0 1099.3 L550.5 1097.5 L551.0 1098.3 L551.5 1102.5 L552.0 1109.9 L552.5 1121.1 L553.0 1136.0 L553.5 1152.4 L554.0 1167.6 L554.5 1178.8 L555.0 1185.8 L555.5 1190.5 L556.0 1194.8 L556.5 1198.7 L557.0 1201.3 L557.5 1201.3 L558.0 1199.0 L558.5 1195.7 L559.0 1192.2 L559.5 1188.5 L560.0 1184.3 L560.5 1179.8 L561.0 1175.3 L561.5 1170.8 L562.0 1166.1 L562.5 1161.0 L563.0 1155.3 L563.5 1149.4 L564.0 1143.4 L564.5 1137.4 L565.0 1131.6 L565.5 1126.1 L566.0 1120.9 L566.5 1115.9 L567.0 1110.9 L567.5 1106.1 L568.0 1101.8 L568.5 1098.8 L569.0 1096.7 L569.5 1095.1 L570.0 1095.1 L570.5 1097.5 L571.0 1101.8 L571.5 1105.3 L572.0 1104.9 L572.5 1099.6 L573.0 1091.7 L573.5 1083.9 L574.0 1077.6 L574.5 1073.4 L575.0 1070.3 L575.5 1068.0 L576.0 1067.0 L576.5 1067.7 L577.0 1069.4 L577.5 1071.2 L578.0 1072.8 L578.5 1074.1 L579.0 1075.0 L579.5 1076.0 L580.0 1078.3 L580.5 1083.1 L581.0 1090.1 L581.5 1097.6 L582.0 1103.3 L582.5 1106.2 L583.0 1107.6 L583.5 1108.7 L584.0 1109.9 L584.5 1112.3 L585.0 1117.4 L585.5 1125.5 L586.0 1135.0 L586.5 1144.3 L587.0 1152.1 L587.5 1158.1 L588.0 1163.3 L588.5 1168.4 L589.0 1173.2 L589.5 1177.5 L590.0 1180.4 L590.5 1182.3 L591.0 1183.6 L591.5 1184.5 L592.0 1183.8 L592.5 1180.7 L593.0 1176.1 L593.5 1171.1 L594.0 1166.1 L594.5 1161.1 L595.0 1156.1 L595.5 1151.0 L596.0 1145.8 L596.5 1140.6 L597.0 1135.3 L597.5 1130.3 L598.0 1126.8 L598.5 1126.6 L599.0 1130.6 L599.5 1136.7 L600.0 1143.2 L600.5 1149.8 L601.0 1156.3 L601.5 1162.7 L602.0 1168.9 L602.5 1174.0 L603.0 1176.9 L603.5 1178.2 L604.0 1178.8 L604.5 1179.3 L605.0 1180.0 L605.5 1181.1 L606.0 1183.2 L606.5 1185.8 L607.0 1188.4 L607.5 1190.0 L608.0 1188.9 L608.5 1184.8 L609.0 1179.1 L609.5 1173.8 L610.0 1169.9 L610.5 1167.7 L611.0 1166.5 L611.5 1165.5 L612.0 1164.6 L612.5 1164.3 L613.0 1165.2 L613.5 1167.1 L614.0 1169.5 L614.5 1172.0 L615.0 1174.7 L615.5 1178.3 L616.0 1183.6 L616.5 1190.0 L617.0 1196.7 L617.6 1203.1 L618.1 1208.3 L618.6 1211.9 L619.1 1214.7 L619.6 1217.4 L620.1 1220.6 L620.6 1224.6 L621.1 1228.6 L621.6 1232.1 L622.1 1234.7 L622.6 1236.6 L623.1 1237.5 L623.6 1235.9 L624.1 1231.3 L624.6 1224.9 L625.1 1218.2 L625.6 1211.9 L626.1 1206.1 L626.6 1200.9 L627.1 1195.8 L627.6 1190.8 L628.1 1185.5 L628.6 1179.1 L629.1 1170.8 L629.6 1161.2 L630.1 1151.2 L630.6 1141.2 L631.1 1130.7 L631.6 1118.8 L632.1 1105.2 L632.6 1090.4 L633.1 1075.4 L633.6 1060.5 L634.1 1046.3 L634.6 1033.6 L635.1 1022.8 L635.6 1013.7 L636.1 1006.6 L636.6 1001.5 L637.1 997.4 L637.6 994.5 L638.1 993.1 L638.6 992.6 L639.1 992.3 L639.6 991.9 L640.1 990.7 L640.6 988.3 L641.1 985.2 L641.6 982.1 L642.1 979.6 L642.6 977.4 L643.1 975.6 L643.6 975.3 L644.1 977.6 L644.6 981.3 L645.1 985.4 L645.6 989.4 L646.1 993.4 L646.6 997.3 L647.1 1001.3 L647.6 1005.9 L648.1 1011.9 L648.6 1019.6 L649.1 1028.2 L649.6 1037.1 L650.1 1046.9 L650.6 1058.2 L651.1 1070.7 L651.6 1083.6 L652.1 1096.7 L652.6 1109.8 L653.1 1123.4 L653.6 1137.8 L654.1 1152.7 L654.6 1167.7 L655.1 1182.6 L655.6 1197.4 L656.1 1211.4 L656.6 1224.5 L657.1 1237.1 L657.6 1249.1 L658.1 1259.2 L658.6 1265.1 L659.1 1267.6 L659.6 1268.8 L660.1 1270.7 L660.6 1274.5 L661.1 1280.1 L661.6 1286.3 L662.1 1292.5 L662.6 1298.1 L663.1 1303.3 L663.6 1308.2 L664.1 1312.5 L664.6 1315.7 L665.1 1316.3 L665.6 1313.0 L666.1 1306.6 L666.6 1297.9 L667.1 1285.6 L667.6 1269.6 L668.1 1254.0 L668.6 1243.4 L669.1 1238.2 L669.6 1235.6 L670.1 1233.5 L670.6 1231.8 L671.1 1230.4 L671.6 1229.1 L672.1 1227.3 L672.6 1223.3 L673.1 1215.5 L673.6 1205.1 L674.1 1194.0 L674.6 1184.0 L675.1 1176.0 L675.6 1169.5 L676.1 1163.4 L676.6 1157.4 L677.1 1151.7 L677.6 1147.0 L678.1 1143.9 L678.6 1141.7 L679.1 1139.6 L679.6 1137.5 L680.1 1134.8 L680.6 1130.4 L681.1 1124.1 L681.6 1116.9 L682.1 1109.4 L682.6 1102.2 L683.1 1095.3 L683.6 1088.7 L684.1 1082.4 L684.6 1076.8 L685.1 1072.5 L685.6 1069.2 L686.1 1066.3 L686.6 1063.7 L687.1 1061.7 L687.6 1060.6 L688.1 1060.1 L688.6 1059.8 L689.1 1059.6 L689.6 1060.3 L690.1 1063.3 L690.6 1068.8 L691.1 1075.7 L691.6 1082.4 L692.1 1087.9 L692.6 1091.9 L693.1 1094.9 L693.6 1097.3 L694.1 1099.3 L694.6 1101.1 L695.1 1102.8 L695.6 1104.6 L696.1 1106.5 L696.6 1108.5 L697.1 1110.6 L697.6 1112.8 L698.1 1114.8 L698.6 1116.5 L699.1 1117.7 L699.6 1118.5 L700.1 1119.3 L700.6 1120.6 L701.1 1122.6 L701.6 1125.0 L702.1 1127.5 L702.6 1129.8 L703.1 1131.5 L703.6 1131.3 L704.1 1128.9 L704.6 1125.1 L705.1 1121.2 L705.6 1117.0 L706.1 1112.2 L706.6 1105.8 L707.1 1098.1 L707.6 1089.7 L708.1 1081.9 L708.6 1075.3 L709.1 1070.1 L709.6 1065.5 L710.1 1061.8 L710.6 1061.5 L711.1 1067.1 L711.6 1076.7 L712.1 1087.4 L712.6 1098.3 L713.1 1109.5 L713.6 1120.7 L714.1 1131.8 L714.6 1142.2 L715.1 1150.5 L715.6 1156.3 L716.1 1160.7 L716.6 1164.5 L717.1 1167.2 L717.6 1167.5 L718.1 1166.0 L718.6 1163.6 L719.1 1161.1 L719.6 1158.3 L720.1 1154.8 L720.6 1150.8 L721.1 1146.5 L721.6 1142.1 L722.1 1137.9 L722.6 1134.0 L723.1 1130.2 L723.6 1126.6 L724.1 1124.1 L724.6 1124.5 L725.1 1128.5 L725.6 1134.2 L726.1 1139.0 L726.6 1139.9 L727.1 1135.8 L727.6 1129.0 L728.1 1121.5 L728.6 1113.7 L729.1 1105.6 L729.6 1097.2 L730.1 1088.9 L730.6 1081.5 L731.1 1076.0 L731.6 1072.4 L732.1 1070.8 L732.6 1073.6 L733.1 1082.4 L733.6 1094.6 L734.1 1107.9 L734.6 1122.0 L735.1 1136.8 L735.6 1151.7 L736.1 1166.5 L736.6 1180.5 L737.1 1193.3 L737.6 1205.5 L738.1 1217.5 L738.6 1229.2 L739.1 1239.7 L739.6 1247.0 L740.1 1250.5 L740.6 1252.0 L741.1 1252.8 L741.6 1251.8 L742.1 1247.7 L742.6 1241.1 L743.1 1233.6 L743.6 1226.1 L744.1 1219.1 L744.6 1212.5 L745.1 1205.9 L745.6 1199.5 L746.1 1193.2 L746.6 1187.9 L747.1 1184.4 L747.6 1181.9 L748.1 1179.8 L748.6 1178.7 L749.1 1179.9 L749.6 1183.6 L750.1 1188.6 L750.6 1193.4 L751.1 1197.3 L751.6 1199.8 L752.1 1200.2 L752.6 1197.2 L753.1 1190.6 L753.6 1182.5 L754.1 1174.5 L754.6 1167.6 L755.1 1161.9 L755.6 1156.8 L756.1 1151.9 L756.6 1147.4 L757.1 1143.6 L757.6 1140.4 L758.1 1137.4 L758.6 1134.4 L759.1 1131.5 L759.6 1129.2 L760.1 1127.6 L760.6 1126.5 L761.1 1125.5 L761.6 1124.5 L762.1 1123.6 L762.6 1123.0 L763.1 1122.8 L763.6 1122.8 L764.1 1122.8 L764.6 1122.8 L765.1 1123.0 L765.6 1123.7 L766.1 1124.7 L766.6 1125.9 L767.1 1127.2 L767.6 1128.3 L768.1 1128.9 L768.6 1128.7 L769.1 1127.7 L769.6 1126.5 L770.1 1125.2 L770.6 1123.8 L771.2 1121.7 L771.7 1118.5 L772.2 1114.6 L772.7 1110.6 L773.2 1106.6 L773.7 1102.7 L774.2 1098.9 L774.7 1095.3 L775.2 1091.8 L775.7 1088.3 L776.2 1084.8 L776.7 1081.7 L777.2 1079.2 L777.7 1077.3 L778.2 1075.7 L778.7 1074.5 L779.2 1074.9 L779.7 1077.9 L780.2 1082.7 L780.7 1087.4 L781.2 1090.0 L781.7 1088.5 L782.2 1084.6 L782.7 1080.7 L783.2 1078.0 L783.7 1076.1 L784.2 1074.3 L784.7 1072.6 L785.2 1071.0 L785.7 1069.9 L786.2 1069.3 L786.7 1069.1 L787.2 1069.0 L787.7 1069.3 L788.2 1070.3 L788.7 1072.0 L789.2 1074.1 L789.7 1076.7 L790.2 1080.3 L790.7 1084.9 L791.2 1089.9 L791.7 1095.1 L792.2 1101.5 L792.7 1109.5 L793.2 1118.5 L793.7 1127.9 L794.2 1137.8 L794.7 1148.5 L795.2 1159.6 L795.7 1170.4 L796.2 1179.5 L796.7 1184.3 L797.2 1184.5 L797.7 1183.3 L798.2 1184.0 L798.7 1186.9 L799.2 1190.8 L799.7 1194.9 L800.2 1198.3 L800.7 1200.3 L801.2 1200.5 L801.7 1199.7 L802.2 1198.8 L802.7 1197.9 L803.2 1196.9 L803.7 1195.9 L804.2 1194.9 L804.7 1193.9 L805.2 1192.4 L805.7 1188.9 L806.2 1182.0 L806.7 1173.1 L807.2 1163.6 L807.7 1154.2 L808.2 1144.9 L808.7 1136.3 L809.2 1128.5 L809.7 1121.1 L810.2 1113.9 L810.7 1107.0 L811.2 1102.0 L811.7 1101.1 L812.2 1104.6 L812.7 1110.0 L813.2 1115.6 L813.7 1119.8 L814.2 1121.4 L814.7 1121.4 L815.2 1121.0 L815.7 1121.5 L816.2 1123.7 L816.7 1127.1 L817.2 1130.2 L817.7 1132.2 L818.2 1134.1 L818.7 1138.1 L819.2 1145.6 L819.7 1155.0 L820.2 1164.7 L820.7 1173.3 L821.2 1180.1 L821.7 1185.8 L822.2 1191.3 L822.7 1196.8 L823.2 1201.8 L823.7 1205.8 L824.2 1208.5 L824.7 1210.5 L825.2 1212.4 L825.7 1214.0 L826.2 1215.2 L826.7 1216.1 L827.2 1216.7 L827.7 1216.9 L828.2 1216.1 L828.7 1214.6 L829.2 1212.8 L829.7 1210.7 L830.2 1207.8 L830.7 1203.7 L831.2 1198.9 L831.7 1193.9 L832.2 1188.8 L832.7 1183.1 L833.2 1176.0 L833.7 1167.1 L834.2 1157.3 L834.7 1147.4 L835.2 1137.3 L835.7 1127.3 L836.2 1117.2 L836.7 1106.9 L837.2 1096.7 L837.7 1086.5 L838.2 1076.7 L838.7 1069.1 L839.2 1065.3 L839.7 1064.5 L840.2 1064.7 L840.7 1065.7 L841.2 1068.6 L841.7 1074.0 L842.2 1080.8 L842.7 1087.7 L843.2 1094.1 L843.7 1099.6 L844.2 1104.7 L844.7 1109.4 L845.2 1112.3 L845.7 1111.7 L846.2 1107.8 L846.7 1102.4 L847.2 1096.4 L847.7 1090.0 L848.2 1083.3 L848.7 1076.3 L849.2 1069.3 L849.7 1062.5 L850.2 1056.4 L850.7 1051.7 L851.2 1048.1 L851.7 1045.3 L852.2 1044.5 L852.7 1047.4 L853.2 1053.3 L853.7 1060.3 L854.2 1068.0 L854.7 1076.3 L855.2 1084.8 L855.7 1093.4 L856.2 1102.2 L856.7 1111.1 L857.2 1120.1 L857.7 1129.1 L858.2 1138.0 L858.7 1146.7 L859.2 1154.7 L859.7 1162.2 L860.2 1169.3 L860.7 1175.5 L861.2 1180.1 L861.7 1182.9 L862.2 1185.0 L862.7 1187.3 L863.2 1191.3 L863.7 1198.2 L864.2 1207.2 L864.7 1216.5 L865.2 1224.2 L865.7 1227.5 L866.2 1225.2 L866.7 1219.8 L867.2 1213.7 L867.7 1207.3 L868.2 1200.9 L868.7 1196.4 L869.2 1196.9 L869.7 1203.3 L870.2 1212.6 L870.7 1222.2 L871.2 1230.1 L871.7 1235.0 L872.2 1237.0 L872.7 1236.2 L873.2 1231.9 L873.7 1225.2 L874.2 1217.6 L874.7 1209.5 L875.2 1200.4 L875.7 1190.6 L876.2 1180.8 L876.7 1171.8 L877.2 1165.0 L877.7 1161.3 L878.2 1159.1 L878.7 1157.5 L879.2 1156.3 L879.7 1155.7 L880.2 1155.3 L880.7 1155.1 L881.2 1154.7 L881.7 1154.0 L882.2 1152.4 L882.7 1150.0 L883.2 1147.0 L883.7 1144.1 L884.2 1141.1 L884.7 1138.5 L885.2 1136.3 L885.7 1134.6 L886.2 1133.1 L886.7 1131.6 L887.2 1129.8 L887.7 1126.7 L888.2 1121.4 L888.7 1114.8 L889.2 1107.9 L889.7 1100.9 L890.2 1094.1 L890.7 1087.8 L891.2 1082.3 L891.7 1077.2 L892.2 1072.2 L892.7 1067.2 L893.2 1061.9 L893.7 1056.3 L894.2 1050.1 L894.7 1043.8 L895.2 1038.1 L895.7 1033.6 L896.2 1030.8 L896.7 1029.9 L897.2 1031.4 L897.7 1035.4 L898.2 1040.9 L898.7 1048.4 L899.2 1058.6 L899.7 1070.3 L900.2 1081.6 L900.7 1090.3 L901.2 1094.8 L901.7 1096.8 L902.2 1098.0 L902.7 1098.0 L903.2 1096.0 L903.7 1093.1 L904.2 1090.3 L904.7 1088.3 L905.2 1087.2 L905.7 1086.5 L906.2 1086.4 L906.7 1087.3 L907.2 1089.3 L907.7 1091.7 L908.2 1094.1 L908.7 1096.3 L909.2 1098.1 L909.7 1099.6 L910.2 1101.0 L910.7 1102.2 L911.2 1103.1 L911.7 1103.8 L912.2 1104.7 L912.7 1107.0 L913.2 1112.7 L913.7 1122.8 L914.2 1135.1 L914.7 1147.6 L915.2 1159.3 L915.7 1170.0 L916.2 1180.0 L916.7 1189.4 L917.2 1196.1 L917.7 1197.6 L918.2 1194.7 L918.7 1190.0 L919.2 1185.4 L919.7 1182.0 L920.2 1180.2 L920.7 1179.2 L921.2 1178.0 L921.7 1176.8 L922.2 1176.1 L922.7 1176.5 L923.2 1178.4 L923.7 1181.0 L924.2 1183.6 L924.7 1185.5 L925.3 1186.6 L925.8 1187.2 L926.3 1187.7 L926.8 1188.4 L927.3 1189.7 L927.8 1192.4 L928.3 1196.6 L928.8 1201.4 L929.3 1206.2 L929.8 1210.8 L930.3 1215.1 L930.8 1218.7 L931.3 1219.9 L931.8 1217.2 L932.3 1212.1 L932.8 1206.9 L933.3 1203.8 L933.8 1204.1 L934.3 1206.5 L934.8 1209.6 L935.3 1212.9 L935.8 1215.6 L936.3 1216.5 L936.8 1214.9 L937.3 1212.0 L937.8 1208.8 L938.3 1205.4 L938.8 1201.3 L939.3 1195.8 L939.8 1188.8 L940.3 1181.1 L940.8 1172.9 L941.3 1164.0 L941.8 1154.4 L942.3 1144.5 L942.8 1134.6 L943.3 1125.5 L943.8 1117.4 L944.3 1110.2 L944.8 1103.4 L945.3 1097.2 L945.8 1092.8 L946.3 1090.5 L946.8 1089.6 L947.3 1089.6 L947.8 1091.3 L948.3 1095.4 L948.8 1100.7 L949.3 1106.0 L949.8 1110.2 L950.3 1112.9 L950.8 1114.6 L951.3 1116.2 L951.8 1117.5 L952.3 1118.4 L952.8 1118.9 L953.3 1119.2 L953.8 1119.4 L954.3 1118.7 L954.8 1116.8 L955.3 1114.6 L955.8 1114.1 L956.3 1116.3 L956.8 1120.1 L957.3 1123.6 L957.8 1124.5 L958.3 1121.3 L958.8 1115.6 L959.3 1109.4 L959.8 1103.0 L960.3 1096.3 L960.8 1089.3 L961.3 1082.4 L961.8 1076.2 L962.3 1071.9 L962.8 1069.8 L963.3 1070.4 L963.8 1074.6 L964.3 1082.0 L964.8 1091.0 L965.3 1100.2 L965.8 1109.6 L966.3 1118.9 L966.8 1127.9 L967.3 1135.7 L967.8 1141.4 L968.3 1146.0 L968.8 1150.3 L969.3 1154.6 L969.8 1159.0 L970.3 1163.3 L970.8 1167.6 L971.3 1171.3 L971.8 1173.8 L972.3 1174.9 L972.8 1175.3 L973.3 1174.8 L973.8 1172.5 L974.3 1168.4 L974.8 1163.2 L975.3 1157.7 L975.8 1151.2 L976.3 1143.0 L976.8 1133.5 L977.3 1123.9 L977.8 1115.2 L978.3 1108.6 L978.8 1103.6 L979.3 1099.3 L979.8 1095.6 L980.3 1094.2 L980.8 1095.7 L981.3 1098.9 L981.8 1102.5 L982.3 1106.3 L982.8 1110.4 L983.3 1114.6 L983.8 1118.9 L984.3 1123.0 L984.8 1126.9 L985.3 1130.7 L985.8 1134.5 L986.3 1138.7 L986.8 1143.7 L987.3 1149.5 L987.8 1155.7 L988.3 1161.8 L988.8 1167.1 L989.3 1171.1 L989.8 1174.2 L990.3 1176.9 L990.8 1178.8 L991.3 1179.4 L991.8 1179.0 L992.3 1178.1 L992.8 1176.5 L993.3 1173.6 L993.8 1169.8 L994.3 1165.7 L994.8 1161.9 L995.3 1158.6 L995.8 1156.9 L996.3 1158.6 L996.8 1163.6 L997.3 1170.0 L997.8 1176.7 L998.3 1183.1 L998.8 1189.3 L999.3 1195.0 L999.8 1199.0 L1000.3 1199.0 L1000.8 1194.8 L1001.3 1188.7 L1001.8 1181.9 L1002.3 1174.0 L1002.8 1164.4 L1003.3 1153.4 L1003.8 1142.0 L1004.3 1130.8 L1004.8 1119.9 L1005.3 1109.2 L1005.8 1098.6 L1006.3 1088.4 L1006.8 1079.3 L1007.3 1071.5 L1007.8 1064.6 L1008.3 1058.5 L1008.8 1054.1 L1009.3 1052.1 L1009.8 1052.4 L1010.3 1055.3 L1010.8 1061.0 L1011.3 1068.4 L1011.8 1076.9 L1012.3 1086.9 L1012.8 1098.0 L1013.3 1109.1 L1013.8 1119.2 L1014.3 1127.4 L1014.8 1134.1 L1015.3 1140.5 L1015.8 1147.1 L1016.3 1154.5 L1016.8 1163.1 L1017.3 1172.2 L1017.8 1181.0 L1018.3 1188.6 L1018.8 1194.4 L1019.3 1198.7 L1019.8 1201.3 L1020.3 1202.1 L1020.8 1201.9 L1021.3 1201.5 L1021.8 1201.0 L1022.3 1199.9 L1022.8 1197.7 L1023.3 1194.5 L1023.8 1190.9 L1024.3 1187.1 L1024.8 1183.2 L1025.3 1179.1 L1025.8 1174.8 L1026.3 1170.7 L1026.8 1167.1 L1027.3 1164.4 L1027.8 1162.4 L1028.3 1160.5 L1028.8 1158.8 L1029.3 1157.6 L1029.8 1156.9 L1030.3 1156.5 L1030.8 1156.1 L1031.3 1155.5 L1031.8 1154.9 L1032.3 1154.2 L1032.8 1153.4 L1033.3 1152.6 L1033.8 1151.6 L1034.3 1150.2 L1034.8 1148.4 L1035.3 1146.5 L1035.8 1144.5 L1036.3 1142.5 L1036.8 1140.8 L1037.3 1139.4 L1037.8 1138.3 L1038.3 1137.3 L1038.8 1136.3 L1039.3 1135.3 L1039.8 1134.3 L1040.3 1133.2 L1040.8 1132.2 L1041.3 1131.2 L1041.8 1130.2 L1042.3 1129.1 L1042.8 1127.7 L1043.3 1125.9 L1043.8 1124.0 L1044.3 1122.0 L1044.8 1119.9 L1045.3 1117.7 L1045.8 1115.1 L1046.3 1112.2 L1046.8 1109.1 L1047.3 1106.1 L1047.8 1103.5 L1048.3 1101.7 L1048.8 1100.9 L1049.3 1101.9 L1049.8 1105.7 L1050.3 1111.1 L1050.8 1116.9 L1051.3 1122.1 L1051.8 1126.6 L1052.3 1130.1 L1052.8 1131.7 L1053.3 1130.7 L1053.8 1128.1 L1054.3 1124.8 L1054.8 1120.1 L1055.3 1113.2 L1055.8 1105.4 L1056.3 1097.9 L1056.8 1091.8 L1057.3 1087.0 L1057.8 1083.2 L1058.3 1082.3 L1058.8 1086.6 L1059.3 1095.7 L1059.8 1106.7 L1060.3 1118.0 L1060.8 1129.1 L1061.3 1140.0 L1061.8 1150.3 L1062.3 1159.0 L1062.8 1165.6 L1063.3 1170.9 L1063.8 1175.8 L1064.3 1180.3 L1064.8 1184.3 L1065.3 1188.0 L1065.8 1191.4 L1066.3 1193.6 L1066.8 1193.3 L1067.3 1190.5 L1067.8 1186.5 L1068.3 1181.9 L1068.8 1176.3 L1069.3 1169.7 L1069.8 1162.7 L1070.3 1156.3 L1070.8 1151.1 L1071.3 1147.2 L1071.8 1143.9 L1072.3 1140.6 L1072.8 1136.8 L1073.3 1132.1 L1073.8 1126.7 L1074.3 1121.1 L1074.8 1115.5 L1075.3 1109.8 L1075.8 1104.1 L1076.3 1098.5 L1076.8 1093.2 L1077.3 1089.2 L1077.8 1086.7 L1078.3 1085.1 L1078.8 1083.8 L1079.4 1083.0 L1079.9 1082.7 L1080.4 1082.9 L1080.9 1083.7 L1081.4 1085.4 L1081.9 1087.8 L1082.4 1090.6 L1082.9 1094.1 L1083.4 1098.8 L1083.9 1105.0 L1084.4 1114.6 L1084.9 1129.4 L1085.4 1147.0 L1085.9 1162.0 L1086.4 1170.6 L1086.9 1175.0 L1087.4 1178.0 L1087.9 1179.5 L1088.4 1178.7 L1088.9 1176.3 L1089.4 1173.6 L1089.9 1171.0 L1090.4 1168.9 L1090.9 1167.3 L1091.4 1165.9 L1091.9 1164.8 L1092.4 1163.9 L1092.9 1163.6 L1093.4 1163.7 L1093.9 1163.9 L1094.4 1163.4 L1094.9 1161.7 L1095.4 1159.0 L1095.9 1155.7 L1096.4 1151.9 L1096.9 1146.9 L1097.4 1141.1 L1097.9 1134.9 L1098.4 1128.6 L1098.9 1121.9 L1099.4 1114.8 L1099.9 1107.4 L1100.4 1100.0 L1100.9 1093.0 L1101.4 1087.0 L1101.9 1082.1 L1102.4 1077.8 L1102.9 1074.0 L1103.4 1071.2 L1103.9 1069.3 L1104.4 1068.1 L1104.9 1067.6 L1105.4 1068.3 L1105.9 1070.5 L1106.4 1073.9 L1106.9 1079.4 L1107.4 1088.1 L1107.9 1098.9 L1108.4 1110.0 L1108.9 1120.0 L1109.4 1128.0 L1109.9 1134.7 L1110.4 1141.0 L1110.9 1147.7 L1111.4 1155.4 L1111.9 1164.3 L1112.4 1173.5 L1112.9 1181.1 L1113.4 1183.9 L1113.9 1181.0 L1114.4 1174.9 L1114.9 1168.2 L1115.4 1161.6 L1115.9 1155.3 L1116.4 1151.0 L1116.9 1150.9 L1117.4 1155.7 L1117.9 1162.9 L1118.4 1170.7 L1118.9 1178.4 L1119.4 1186.1 L1119.9 1193.6 L1120.4 1201.2 L1120.9 1208.9 L1121.4 1217.3 L1121.9 1226.7 L1122.4 1236.5 L1122.9 1245.7 L1123.4 1252.7 L1123.9 1256.5 L1124.4 1258.5 L1124.9 1259.5 L1125.4 1258.8 L1125.9 1255.5 L1126.4 1250.7 L1126.9 1245.6 L1127.4 1240.3 L1127.9 1234.6 L1128.4 1228.5 L1128.9 1222.3 L1129.4 1215.9 L1129.9 1209.0 L1130.4 1201.2 L1130.9 1192.8 L1131.4 1184.1 L1131.9 1174.3 L1132.4 1163.0 L1132.9 1150.5 L1133.4 1138.2 L1133.9 1128.1 L1134.4 1121.8 L1134.9 1118.3 L1135.4 1115.7 L1135.9 1113.1 L1136.4 1110.5 L1136.9 1107.7 L1137.4 1104.8 L1137.9 1101.7 L1138.4 1098.0 L1138.9 1093.6 L1139.4 1088.9 L1139.9 1084.9 L1140.4 1082.5 L1140.9 1081.3 L1141.4 1080.4 L1141.9 1079.1 L1142.4 1077.0 L1142.9 1074.1 L1143.4 1071.0 L1143.9 1067.3 L1144.4 1062.0 L1144.9 1054.4 L1145.4 1045.5 L1145.9 1037.0 L1146.4 1030.6 L1146.9 1027.6 L1147.4 1026.6 L1147.9 1026.4 L1148.4 1027.6 L1148.9 1030.9 L1149.4 1035.5 L1149.9 1040.5 L1150.4 1045.8 L1150.9 1051.4 L1151.4 1056.8 L1151.9 1061.3 L1152.4 1063.7 L1152.9 1064.0 L1153.4 1062.5 L1153.9 1059.2 L1154.4 1054.5 L1154.9 1049.5 L1155.4 1045.2 L1155.9 1042.9 L1156.4 1042.4 L1156.9 1044.3 L1157.4 1049.5 L1157.9 1057.1 L1158.4 1066.1 L1158.9 1076.5 L1159.4 1088.5 L1159.9 1101.1 L1160.4 1113.9 L1160.9 1126.7 L1161.4 1139.2 L1161.9 1151.8 L1162.4 1164.2 L1162.9 1176.5 L1163.4 1188.4 L1163.9 1199.9 L1164.4 1211.2 L1164.9 1221.6 L1165.4 1230.3 L1165.9 1237.3 L1166.4 1241.8 L1166.9 1242.6 L1167.4 1240.6 L1167.9 1237.2 L1168.4 1232.7 L1168.9 1228.0 L1169.4 1225.4 L1169.9 1226.3 L1170.4 1229.3 L1170.9 1232.8 L1171.4 1236.4 L1171.9 1239.9 L1172.4 1242.7 L1172.9 1243.3 L1173.4 1240.9 L1173.9 1237.0 L1174.4 1233.9 L1174.9 1233.0 L1175.4 1233.9 L1175.9 1235.6 L1176.4 1237.6 L1176.9 1240.0 L1177.4 1242.7 L1177.9 1245.6 L1178.4 1248.9 L1178.9 1252.7 L1179.4 1256.9 L1179.9 1261.1 L1180.4 1264.2 L1180.9 1265.8 L1181.4 1266.4 L1181.9 1265.9 L1182.4 1262.5 L1182.9 1255.1 L1183.4 1245.0 L1183.9 1233.9 L1184.4 1221.9 L1184.9 1209.5 L1185.4 1197.0 L1185.9 1184.8 L1186.4 1173.1 L1186.9 1161.8 L1187.4 1150.6 L1187.9 1139.5 L1188.4 1128.6 L1188.9 1118.1 L1189.4 1107.9 L1189.9 1097.8 L1190.4 1087.9 L1190.9 1078.2 L1191.4 1069.0 L1191.9 1060.2 L1192.4 1051.4 L1192.9 1042.9 L1193.4 1034.8 L1193.9 1027.3 L1194.4 1020.1 L1194.9 1012.9 L1195.4 1005.8 L1195.9 999.0 L1196.4 992.8 L1196.9 988.6 L1197.4 986.3 L1197.9 985.7 L1198.4 987.9 L1198.9 994.5 L1199.4 1004.1 L1199.9 1014.9 L1200.4 1026.2 L1200.9 1037.4 L1201.4 1047.9 L1201.9 1056.8 L1202.4 1064.1 L1202.9 1070.5 L1203.4 1075.5 L1203.9 1078.9 L1204.4 1081.2 L1204.9 1082.9 L1205.4 1083.3 L1205.9 1081.9 L1206.4 1080.5 L1206.9 1082.1 L1207.4 1087.9 L1207.9 1095.8 L1208.4 1103.9 L1208.9 1110.6 L1209.4 1115.5 L1209.9 1119.5 L1210.4 1123.2 L1210.9 1126.3 L1211.4 1128.4 L1211.9 1129.6 L1212.4 1130.3 L1212.9 1130.5 L1213.4 1129.8 L1213.9 1128.6 L1214.4 1128.8 L1214.9 1132.3 L1215.4 1138.6 L1215.9 1145.8 L1216.4 1152.8 L1216.9 1159.5 L1217.4 1165.9 L1217.9 1171.6 L1218.4 1175.6 L1218.9 1177.1 L1219.4 1177.5 L1219.9 1177.5 L1220.4 1177.7 L1220.9 1178.0 L1221.4 1178.6 L1221.9 1179.4 L1222.4 1180.3 L1222.9 1181.7 L1223.4 1183.4 L1223.9 1185.2 L1224.4 1187.2 L1224.9 1189.6 L1225.4 1192.6 L1225.9 1196.1 L1226.4 1199.5 L1226.9 1202.7 L1227.4 1205.1 L1227.9 1206.8 L1228.4 1207.0 L1228.9 1205.0 L1229.4 1201.7 L1229.9 1197.9 L1230.4 1193.3 L1230.9 1187.4 L1231.4 1180.7 L1231.9 1173.8 L1232.4 1166.9 L1232.9 1159.9 L1233.5 1152.8 L1234.0 1145.8 L1234.5 1139.5 L1235.0 1135.0 L1235.5 1132.7 L1236.0 1132.4 L1236.5 1134.9 L1237.0 1139.8 L1237.5 1145.3 L1238.0 1149.4 L1238.5 1151.2 L1239.0 1151.6 L1239.5 1152.4 L1240.0 1155.6 L1240.5 1162.6 L1241.0 1171.5 L1241.5 1179.3 L1242.0 1185.0 L1242.5 1189.6 L1243.0 1193.6 L1243.5 1196.6 L1244.0 1197.6 L1244.5 1196.6 L1245.0 1194.7 L1245.5 1192.1 L1246.0 1188.6 L1246.5 1184.1 L1247.0 1179.1 L1247.5 1173.8 L1248.0 1166.9 L1248.5 1157.6 L1249.0 1146.6 L1249.5 1135.4 L1250.0 1124.8 L1250.5 1115.2 L1251.0 1106.4 L1251.5 1098.0 L1252.0 1090.5 L1252.5 1084.5 L1253.0 1079.4 L1253.5 1074.8 L1254.0 1070.6 L1254.5 1067.8 L1255.0 1066.4 L1255.5 1065.9 L1256.0 1065.5 L1256.5 1065.0 L1257.0 1064.0 L1257.5 1062.8 L1258.0 1061.3 L1258.5 1059.6 L1259.0 1057.3 L1259.5 1054.7 L1260.0 1051.9 L1260.5 1049.0 L1261.0 1046.3 L1261.5 1043.6 L1262.0 1040.9 L1262.5 1039.0 L1263.0 1040.3 L1263.5 1046.7 L1264.0 1056.2 L1264.5 1066.7 L1265.0 1078.7 L1265.5 1093.1 L1266.0 1109.0 L1266.5 1125.0 L1267.0 1140.4 L1267.5 1153.8 L1268.0 1165.1 L1268.5 1175.4 L1269.0 1185.4 L1269.5 1195.4 L1270.0 1205.2 L1270.5 1214.9 L1271.0 1224.4 L1271.5 1233.8 L1272.0 1243.0 L1272.5 1251.8 L1273.0 1259.9 L1273.5 1267.5 L1274.0 1274.6 L1274.5 1279.9 L1275.0 1282.3 L1275.5 1282.9 L1276.0 1282.3 L1276.5 1280.3 L1277.0 1276.9 L1277.5 1272.6 L1278.0 1266.6 L1278.5 1257.3 L1279.0 1244.8 L1279.5 1231.1 L1280.0 1218.5 L1280.5 1208.9 L1281.0 1202.8 L1281.5 1199.6 L1282.0 1200.0 L1282.5 1203.4 L1283.0 1208.2 L1283.5 1213.7 L1284.0 1219.6 L1284.5 1225.2 L1285.0 1228.7 L1285.5 1228.2 L1286.0 1224.3 L1286.5 1219.2 L1287.0 1213.1 L1287.5 1204.8 L1288.0 1193.0 L1288.5 1179.2 L1289.0 1165.1 L1289.5 1151.4 L1290.0 1138.3 L1290.5 1125.7 L1291.0 1113.3 L1291.5 1101.1 L1292.0 1089.4 L1292.5 1078.4 L1293.0 1067.9 L1293.5 1058.5 L1294.0 1052.0 L1294.5 1048.2 L1295.0 1045.9 L1295.5 1044.0 L1296.0 1042.3 L1296.5 1041.3 L1297.0 1040.8 L1297.5 1041.8 L1298.0 1044.8 L1298.5 1049.3 L1299.0 1054.4 L1299.5 1059.8 L1300.0 1065.5 L1300.5 1070.9 L1301.0 1075.5 L1301.5 1078.5 L1302.0 1080.4 L1302.5 1081.0 L1303.0 1080.3 L1303.5 1079.0 L1304.0 1078.4 L1304.5 1079.4 L1305.0 1081.7 L1305.5 1084.6 L1306.0 1088.1 L1306.5 1092.6 L1307.0 1097.9 L1307.5 1103.4 L1308.0 1108.4 L1308.5 1112.4 L1309.0 1115.3 L1309.5 1117.7 L1310.0 1119.5 L1310.5 1120.7 L1311.0 1121.4 L1311.5 1122.1 L1312.0 1122.5 L1312.5 1122.6 L1313.0 1122.1 L1313.5 1120.3 L1314.0 1117.0 L1314.5 1113.0 L1315.0 1109.2 L1315.5 1106.4 L1316.0 1104.9 L1316.5 1104.1 L1317.0 1103.5 L1317.5 1103.2 L1318.0 1103.5 L1318.5 1104.3 L1319.0 1105.3 L1319.5 1106.3 L1320.0 1107.3 L1320.5 1108.3 L1321.0 1109.3 L1321.5 1110.7 L1322.0 1113.6 L1322.5 1118.8 L1323.0 1125.5 L1323.5 1132.5 L1324.0 1139.5 L1324.5 1146.6 L1325.0 1153.8 L1325.5 1161.2 L1326.0 1168.7 L1326.5 1176.1 L1327.0 1183.4 L1327.5 1189.4 L1328.0 1192.7 L1328.5 1193.5 L1329.0 1193.1 L1329.5 1192.3 L1330.0 1190.7 L1330.5 1187.6 L1331.0 1183.6 L1331.5 1179.1 L1332.0 1173.5 L1332.5 1166.1 L1333.0 1157.5 L1333.5 1148.6 L1334.0 1139.6 L1334.5 1131.0 L1335.0 1123.4 L1335.5 1117.3 L1336.0 1112.1 L1336.5 1107.1 L1337.0 1102.2 L1337.5 1097.9 L1338.0 1094.8 L1338.5 1093.3 L1339.0 1092.5 L1339.5 1091.7 L1340.0 1090.6 L1340.5 1088.6 L1341.0 1085.9 L1341.5 1083.1 L1342.0 1080.7 L1342.5 1080.5 L1343.0 1084.6 L1343.5 1092.8 L1344.0 1103.3 L1344.5 1115.9 L1345.0 1131.2 L1345.5 1147.9 L1346.0 1163.8 L1346.5 1176.0 L1347.0 1183.1 L1347.5 1187.9 L1348.0 1194.5 L1348.5 1204.5 L1349.0 1216.1 L1349.5 1227.4 L1350.0 1236.8 L1350.5 1243.4 L1351.0 1247.3 L1351.5 1248.0 L1352.0 1245.3 L1352.5 1240.9 L1353.0 1237.2 L1353.5 1235.2 L1354.0 1234.4 L1354.5 1233.9 L1355.0 1232.9 L1355.5 1231.0 L1356.0 1228.4 L1356.5 1225.6 L1357.0 1222.9 L1357.5 1220.5 L1358.0 1218.4 L1358.5 1216.5 L1359.0 1214.8 L1359.5 1214.0 L1360.0 1214.0 L1360.5 1213.9 L1361.0 1213.2 L1361.5 1212.4 L1362.0 1211.3 L1362.5 1209.1 L1363.0 1204.7 L1363.5 1198.8 L1364.0 1192.3 L1364.5 1185.2 L1365.0 1176.8 L1365.5 1166.7 L1366.0 1155.5 L1366.5 1144.5 L1367.0 1134.7 L1367.5 1126.5 L1368.0 1119.3 L1368.5 1112.2 L1369.0 1105.2 L1369.5 1098.1 L1370.0 1090.6 L1370.5 1082.8 L1371.0 1074.8 L1371.5 1066.8 L1372.0 1058.9 L1372.5 1051.0 L1373.0 1043.5 L1373.5 1036.2 L1374.0 1029.3 L1374.5 1023.5 L1375.0 1019.8 L1375.5 1018.4 L1376.0 1019.2 L1376.5 1022.9 L1377.0 1028.9 L1377.5 1036.4 L1378.0 1045.3 L1378.5 1055.0 L1379.0 1064.9 L1379.5 1074.5 L1380.0 1083.3 L1380.5 1090.9 L1381.0 1097.9 L1381.5 1104.7 L1382.0 1111.0 L1382.5 1116.4 L1383.0 1121.1 L1383.5 1125.3 L1384.0 1129.0 L1384.5 1131.8 L1385.0 1133.6 L1385.5 1134.9 L1386.0 1135.1 L1386.5 1133.2 L1387.1 1129.4 L1387.6 1125.6 L1388.1 1123.9 L1388.6 1125.7 L1389.1 1129.3 L1389.6 1133.3 L1390.1 1136.7 L1390.6 1139.4 L1391.1 1141.7 L1391.6 1143.7 L1392.1 1145.3 L1392.6 1146.4 L1393.1 1147.1 L1393.6 1147.8 L1394.1 1149.1 L1394.6 1151.6 L1395.1 1155.3 L1395.6 1159.5 L1396.1 1164.2 L1396.6 1170.1 L1397.1 1178.1 L1397.6 1187.6 L1398.1 1197.7 L1398.6 1208.2 L1399.1 1219.4 L1399.6 1230.1 L1400.1 1236.4 L1400.6 1235.0 L1401.1 1228.8 L1401.6 1221.4 L1402.1 1213.3 L1402.6 1204.0 L1403.1 1193.5 L1403.6 1182.3 L1404.1 1171.8 L1404.6 1163.1 L1405.1 1156.7 L1405.6 1151.5 L1406.1 1147.0 L1406.6 1143.7 L1407.1 1142.0 L1407.6 1141.8 L1408.1 1143.6 L1408.6 1147.4 L1409.1 1152.1 L1409.6 1156.9 L1410.1 1161.4 L1410.6 1165.8 L1411.1 1170.0 L1411.6 1173.7 L1412.1 1176.8 L1412.6 1179.4 L1413.1 1181.9 L1413.6 1184.3 L1414.1 1185.5 L1414.6 1183.6 L1415.1 1177.3 L1415.6 1168.6 L1416.1 1159.4 L1416.6 1150.3 L1417.1 1141.4 L1417.6 1132.7 L1418.1 1123.9 L1418.6 1115.3 L1419.1 1107.0 L1419.6 1098.8 L1420.1 1090.8 L1420.6 1082.8 L1421.1 1075.0 L1421.6 1068.2 L1422.1 1062.9 L1422.6 1059.0 L1423.1 1055.4 L1423.6 1051.8 L1424.1 1047.9 L1424.6 1042.6 L1425.1 1035.0 L1425.6 1026.0 L1426.1 1017.3 L1426.6 1010.4 L1427.1 1006.7 L1427.6 1005.0 L1428.1 1004.9 L1428.6 1007.1 L1429.1 1011.5 L1429.6 1016.8 L1430.1 1022.2 L1430.6 1027.4 L1431.1 1032.5 L1431.6 1037.6 L1432.1 1042.7 L1432.6 1048.0 L1433.1 1053.5 L1433.6 1059.1 L1434.1 1064.9 L1434.6 1071.4 L1435.1 1079.1 L1435.6 1087.6 L1436.1 1096.3 L1436.6 1104.5 L1437.1 1111.7 L1437.6 1117.6 L1438.1 1122.6 L1438.6 1126.7 L1439.1 1128.6 L1439.6 1128.1 L1440.1 1127.4 L1440.6 1129.1 L1441.1 1134.0 L1441.6 1140.5 L1442.1 1147.7 L1442.6 1155.6 L1443.1 1164.4 L1443.6 1173.7 L1444.1 1183.0 L1444.6 1191.8 L1445.1 1199.6 L1445.6 1206.8 L1446.1 1213.7 L1446.6 1220.4 L1447.1 1226.4 L1447.6 1231.7 L1448.1 1236.3 L1448.6 1240.4 L1449.1 1242.8 L1449.6 1242.8 L1450.1 1241.3 L1450.6 1239.0 L1451.1 1235.3 L1451.6 1229.4 L1452.1 1222.2 L1452.6 1214.8 L1453.1 1208.0 L1453.6 1202.5 L1454.1 1198.2 L1454.6 1194.7 L1455.1 1192.5 L1455.6 1192.8 L1456.1 1195.7 L1456.6 1199.8 L1457.1 1204.1 L1457.6 1208.1 L1458.1 1211.7 L1458.6 1214.9 L1459.1 1217.8 L1459.6 1219.3 L1460.1 1216.8 L1460.6 1209.4 L1461.1 1199.3 L1461.6 1188.5 L1462.1 1177.5 L1462.6 1166.3 L1463.1 1155.0 L1463.6 1144.1 L1464.1 1134.8 L1464.6 1127.6 L1465.1 1121.7 L1465.6 1117.1 L1466.1 1114.3 L1466.6 1113.0 L1467.1 1112.0 L1467.6 1110.5 L1468.1 1107.6 L1468.6 1103.8 L1469.1 1099.8 L1469.6 1096.5 L1470.1 1094.9 L1470.6 1094.6 L1471.1 1094.8 L1471.6 1094.9 L1472.1 1094.5 L1472.6 1093.4 L1473.1 1091.7 L1473.6 1090.0 L1474.1 1088.6 L1474.6 1087.6 L1475.1 1087.0 L1475.6 1086.6 L1476.1 1087.6 L1476.6 1091.6 L1477.1 1098.8 L1477.6 1107.4 L1478.1 1116.2 L1478.6 1125.0 L1479.1 1133.8 L1479.6 1142.1 L1480.1 1148.7 L1480.6 1152.4 L1481.1 1154.3 L1481.6 1155.2 L1482.1 1153.8 L1482.6 1148.4 L1483.1 1140.6 L1483.6 1132.4 L1484.1 1125.2 L1484.6 1120.1 L1485.1 1116.2 L1485.6 1112.8 L1486.1 1109.9 L1486.6 1108.0 L1487.1 1107.5 L1487.6 1107.7 L1488.1 1107.8 L1488.6 1107.6 L1489.1 1106.4 L1489.6 1104.5 L1490.1 1102.4 L1490.6 1100.4 L1491.1 1099.7 L1491.6 1101.6 L1492.1 1106.0 L1492.6 1111.5 L1493.1 1116.8 L1493.6 1121.5 L1494.1 1125.9 L1494.6 1129.9 L1495.1 1133.1 L1495.6 1135.1 L1496.1 1136.2 L1496.6 1137.1 L1497.1 1137.8 L1497.6 1138.1 L1498.1 1138.0 L1498.6 1137.8 L1499.1 1138.1 L1499.6 1139.6 L1500.1 1142.4 L1500.6 1145.8 L1501.1 1149.3 L1501.6 1152.8 L1502.1 1156.1 L1502.6 1158.9 L1503.1 1159.3 L1503.6 1155.5 L1504.1 1149.2 L1504.6 1142.5 L1505.1 1136.9 L1505.6 1133.5 L1506.1 1131.7 L1506.6 1130.6 L1507.1 1131.3 L1507.6 1135.2 L1508.1 1141.1 L1508.6 1147.9 L1509.1 1155.0 L1509.6 1162.5 L1510.1 1169.8 L1510.6 1175.2 L1511.1 1175.8 L1511.6 1171.3 L1512.1 1164.2 L1512.6 1157.0 L1513.1 1150.5 L1513.6 1145.2 L1514.1 1141.7 L1514.6 1141.3 L1515.1 1144.0 L1515.6 1148.1 L1516.1 1152.7 L1516.6 1158.2 L1517.1 1165.3 L1517.6 1173.5 L1518.1 1182.0 L1518.6 1190.7 L1519.1 1199.3 L1519.6 1208.1 L1520.1 1216.7 L1520.6 1224.5 L1521.1 1230.0 L1521.6 1232.7 L1522.1 1233.7 L1522.6 1233.7 L1523.1 1231.9 L1523.6 1227.9 L1524.1 1222.6 L1524.6 1217.0 L1525.1 1211.9 L1525.6 1207.7 L1526.1 1204.2 L1526.6 1201.0 L1527.1 1197.8 L1527.6 1194.6 L1528.1 1191.1 L1528.6 1187.5 L1529.1 1183.5 L1529.6 1177.9 L1530.1 1169.3 L1530.6 1159.1 L1531.1 1148.5 L1531.6 1138.1 L1532.1 1128.3 L1532.6 1118.8 L1533.1 1109.5 L1533.6 1100.7 L1534.1 1093.1 L1534.6 1087.1 L1535.1 1083.7 L1535.6 1084.5 L1536.1 1089.2 L1536.6 1094.0 L1537.1 1095.6 L1537.6 1093.7 L1538.1 1090.5 L1538.6 1087.4 L1539.1 1085.1 L1539.6 1083.4 L1540.1 1082.1 L1540.6 1081.0 L1541.2 1080.1" fill="none" stroke="#0072BD" stroke-width="3.9" stroke-linejoin="round" stroke-linecap="butt" clip-path="url(#clc)"/>
<path d="M111.7 1125.6 L112.9 1134.3 L114.3 1206.3 L116.6 1050.8 L118.6 1151.6 L120.4 1223.5 L122.4 1145.8 L125.3 1263.3 L128.1 1125.6 L130.1 1168.8 L132.5 1079.6 L134.8 1065.2 L136.8 1134.3 L139.7 1145.8 L142.5 1209.1 L145.4 1269.6 L147.4 1151.6 L149.7 1043.6 L152.6 1137.2 L155.5 1166.0 L157.8 1111.2 L159.8 1122.8 L162.1 1045.0 L164.1 1042.1 L165.6 1076.7 L168.4 1085.3 L171.3 1237.9 L173.6 1260.4 L177.1 1180.4 L180.8 1119.9 L184.3 1111.2 L188.6 1047.9 L190.6 1111.2 L193.5 1189.0 L195.8 1219.2 L197.2 1197.6 L200.1 1223.5 L203.0 1131.4 L205.0 1186.1 L207.9 1059.4 L209.9 1016.8 L211.6 1094.0 L213.7 1138.6 L216.0 1137.2 L218.8 1102.6 L222.3 1081.0 L224.0 1111.2 L226.0 1128.5 L228.3 1095.4 L231.2 1209.1 L233.8 1163.1 L236.1 1189.0 L238.4 1145.8 L240.4 1180.4 L243.3 1151.6 L245.3 1059.4 L247.1 1056.0 L248.5 1151.6 L249.9 1203.4 L251.9 1180.4 L254.8 1122.8 L257.1 1089.7 L259.1 1145.8 L262.0 1050.8 L264.3 985.1 L266.3 1122.8 L268.4 1245.1 L270.7 1122.8 L272.1 1079.6 L273.5 1151.6 L275.8 1180.4 L277.0 1168.8 L279.9 1227.9 L282.2 1111.2 L284.2 1099.7 L285.6 1142.9 L287.9 1145.8 L290.8 1197.6 L293.7 1125.6 L296.0 1171.7 L299.5 1111.2 L302.3 1049.3 L304.6 1111.2 L306.7 1065.2 L308.7 1024.3 L311.0 1122.8 L313.3 1151.6 L315.3 1122.8 L318.2 1232.2 L321.1 1189.0 L323.9 1168.8 L326.0 1180.4 L328.3 1235.1 L331.1 1070.9 L333.4 1174.6 L336.3 1059.4 L339.2 1137.2 L341.2 1157.3 L343.2 1065.2 L345.0 994.6 L346.4 1007.6 L348.7 972.5 L350.4 1094.0 L351.9 1217.8 L354.2 1230.7 L357.0 1151.6 L358.5 1094.0 L360.5 1223.5 L363.4 1209.1 L365.7 1217.8 L368.6 1122.8 L371.4 1046.5 L373.7 1151.6 L375.8 1217.8 L379.5 1122.8 L381.5 1034.9 L383.5 1186.1 L385.8 1065.2 L388.7 1001.8 L391.0 1076.7 L393.9 1108.4 L397.4 1151.6 L400.2 1171.7 L403.1 1189.0 L405.4 1200.5 L406.6 1187.6 L408.9 1220.7 L411.2 1203.4 L414.6 1201.9 L417.5 1222.1 L419.8 1111.2 L421.8 1024.3 L423.3 1039.3 L425.6 987.4 L427.6 977.4 L429.0 1036.4 L431.0 1111.2 L432.8 1186.1 L434.8 1122.8 L437.1 1174.6 L438.5 1210.6 L442.0 1200.5 L444.9 1203.4 L447.8 1201.9 L449.2 1207.7 L451.5 1112.7 L453.5 1174.6 L456.4 1122.8 L458.4 1119.9 L461.6 1070.9 L463.6 1102.6 L466.5 1098.3 L469.3 1122.8 L471.6 1178.9 L473.7 1088.2 L475.7 1016.2 L478.0 1094.0 L479.7 1157.3 L480.6 1134.3 L484.6 1212.0 L487.5 1191.9 L490.4 1204.8 L492.4 1151.6 L494.7 1042.1 L496.7 1094.0 L499.0 1085.3 L501.0 1151.6 L502.8 1201.9 L504.8 1197.6 L506.8 1200.5 L509.1 1151.6 L510.5 1105.5 L512.0 1096.9 L514.3 1137.2 L516.3 1065.2 L518.3 1044.4 L520.6 1094.0 L522.1 1140.0 L524.1 1105.5 L526.4 1151.6 L527.8 1177.5 L529.8 1105.5 L532.1 1106.9 L533.6 1194.8 L535.9 1191.9 L537.3 1137.2 L538.8 1180.4 L540.8 1180.4 L543.1 1111.2 L544.5 1070.9 L546.5 1072.4 L548.3 1067.5 L550.0 1094.0 L551.7 1189.0 L553.7 1187.6 L555.2 1193.3 L557.5 1186.1 L559.5 1151.6 L561.5 1094.0 L563.2 1050.8 L565.3 1070.9 L567.3 1111.2 L569.0 1196.2 L571.0 1094.0 L573.0 1033.5 L574.8 1122.8 L576.8 1168.8 L578.8 1151.6 L581.1 1193.3 L583.1 1140.0 L584.8 1189.0 L586.9 1191.9 L589.2 1186.1 L591.2 1189.0 L592.6 1054.2 L594.6 1105.5 L596.9 1128.5 L598.9 1180.4 L600.7 1199.1 L602.7 1075.3 L604.7 1180.4 L606.4 1189.0 L608.4 1049.3 L610.5 1151.6 L612.8 1132.8 L614.2 1168.8 L616.2 1163.1 L617.9 1189.0 L619.4 1199.1 L621.4 1151.6 L622.8 1088.2 L624.3 1056.0 L626.3 1111.2 L627.7 1118.4 L629.5 1036.4 L630.6 991.8 L632.3 1013.3 L634.4 1065.2 L635.8 1111.2 L637.5 1145.8 L639.3 1111.2 L640.7 1099.7 L642.4 1163.1 L645.0 1173.2 L647.3 1186.1 L650.2 1197.6 L652.5 1180.4 L654.5 1181.8 L656.5 1171.7 L658.8 1181.8 L661.1 1180.4 L663.2 1183.2 L665.5 1174.6 L667.5 1180.4 L669.5 1189.0 L671.2 1094.0 L673.2 1007.6 L675.2 1036.4 L676.7 1111.2 L679.0 1164.5 L681.0 1151.6 L683.3 1040.7 L685.3 1088.2 L687.1 1134.3 L689.1 1128.5 L690.5 1180.4 L693.4 1176.0 L695.7 1177.5 L698.3 1106.9 L700.0 1174.6 L702.0 1177.5 L704.0 1122.8 L706.3 1059.4 L708.4 1036.4 L710.1 1094.0 L712.1 1177.5 L714.4 1171.7 L716.4 1193.3 L718.4 1168.8 L720.2 1180.4 L722.2 1087.6 L724.2 1186.1 L725.9 1094.0 L727.9 1027.7 L730.0 1094.0 L732.3 1180.4 L734.3 1178.9 L736.6 1183.2 L739.5 1184.7 L741.8 1174.6 L743.8 1171.7 L745.8 1174.6 L747.5 1102.6 L749.5 1171.7 L751.6 1177.5 L753.3 1046.5 L755.3 1105.5 L757.3 1108.4 L759.0 1099.7 L761.1 1122.8 L763.1 1168.8 L765.4 1145.8 L768.3 1134.3 L770.6 1145.8 L772.6 1094.0 L774.0 1088.2 L775.5 1134.3 L777.5 1094.0 L779.8 1174.6 L782.1 1177.5 L784.1 1094.0 L786.4 1137.2 L788.4 1163.1 L790.7 1180.4 L792.7 1168.8 L794.7 1183.2 L797.0 1171.7 L799.4 1173.2 L801.4 1171.7 L803.4 1111.2 L805.1 1047.9 L806.6 1042.7 L808.6 1088.2 L810.9 1094.0 L812.3 1174.6 L814.3 1176.0 L816.6 1160.2 L818.6 1177.5 L820.7 1163.1 L823.0 1180.4 L825.0 1168.8 L827.3 1177.5 L828.7 1079.6 L830.4 1096.9 L832.2 1094.0 L833.9 1022.0 L835.1 996.1 L836.8 1050.8 L838.8 1122.8 L840.2 1174.6 L842.3 1171.7 L844.6 1177.5 L846.6 1094.0 L848.3 1091.1 L850.0 1055.1 L851.8 1122.8 L853.8 1183.2 L856.1 1163.1 L858.1 1161.6 L860.4 1174.6 L862.4 1180.4 L864.7 1161.6 L867.0 1173.2 L869.0 1171.7 L871.0 1174.6 L873.4 1168.8 L874.8 1058.8 L876.5 1099.7 L878.2 1151.6 L880.0 1111.2 L882.0 1104.0 L884.0 1117.0 L885.7 1079.6 L887.8 1070.9 L889.8 1099.7 L891.5 1094.0 L893.5 1072.4 L894.9 1088.2 L896.4 1151.6 L897.8 1171.7 L900.1 1168.8 L902.1 1157.3 L904.2 1168.8 L906.5 1163.1 L908.8 1168.8 L910.8 1142.9 L912.8 1174.6 L915.1 1177.5 L917.4 1163.1 L919.7 1157.3 L920.0 1160.2 L921.8 1157.3 L923.8 1125.6 L926.1 1163.1 L928.4 1168.8 L930.4 1163.1 L932.4 1105.5 L934.1 1173.2 L936.1 1117.0 L938.5 1065.2 L940.5 1020.5 L941.9 1065.2 L943.9 1094.0 L945.7 1140.0 L947.7 1168.8 L949.7 1163.1 L952.0 1168.8 L953.4 1137.2 L955.4 1166.0 L957.2 1094.0 L959.2 1030.6 L960.6 1094.0 L962.1 1177.5 L964.1 1174.6 L966.4 1166.0 L968.7 1171.7 L970.7 1168.8 L972.7 1151.6 L974.4 1088.2 L975.9 1055.1 L977.9 1122.8 L980.2 1157.3 L982.2 1163.1 L985.1 1166.0 L988.0 1167.4 L990.9 1168.8 L992.9 1134.3 L994.3 1102.6 L996.0 1163.1 L998.1 1164.5 L1000.4 1173.2 L1001.8 1094.0 L1003.0 1070.9 L1004.4 1065.2 L1005.3 1030.0 L1007.3 1065.2 L1008.7 1128.5 L1010.1 1171.7 L1012.5 1168.8 L1015.3 1157.3 L1017.6 1168.8 L1019.7 1163.1 L1022.5 1155.9 L1024.8 1163.1 L1026.9 1157.3 L1028.3 1119.9 L1029.7 1145.8 L1031.7 1085.3 L1033.5 1134.3 L1035.5 1170.3 L1037.5 1073.8 L1039.2 1111.2 L1041.2 1171.7 L1042.7 1094.0 L1044.1 1062.9 L1045.6 1122.8 L1047.6 1105.5 L1049.3 1168.8 L1051.3 1157.3 L1053.3 1122.8 L1055.6 1065.8 L1057.1 1111.2 L1058.5 1157.3 L1060.8 1164.5 L1063.7 1166.0 L1066.6 1163.1 L1068.6 1168.8 L1070.6 1151.6 L1072.3 1094.0 L1074.4 1068.1 L1076.4 1082.5 L1078.1 1111.2 L1080.1 1151.6 L1082.1 1168.8 L1083.9 1177.5 L1085.9 1168.8 L1087.9 1170.3 L1089.6 1163.1 L1091.6 1168.8 L1093.7 1082.5 L1095.4 1174.6 L1097.4 1111.2 L1099.4 1076.7 L1101.1 1099.7 L1103.2 1111.2 L1105.2 1163.1 L1107.5 1155.9 L1109.8 1160.2 L1111.8 1157.3 L1113.8 1166.0 L1116.1 1170.3 L1118.4 1163.1 L1120.4 1157.3 L1122.7 1166.0 L1124.8 1168.8 L1127.1 1164.5 L1129.1 1094.0 L1131.1 1050.8 L1132.5 1014.8 L1134.0 1065.2 L1135.7 1111.2 L1137.7 1094.0 L1139.1 1111.2 L1140.6 1130.0 L1142.6 1094.0 L1144.3 1063.7 L1146.3 1122.8 L1148.4 1157.3 L1150.7 1170.3 L1152.1 1134.3 L1153.5 1093.4 L1155.0 1151.6 L1157.0 1166.0 L1159.3 1163.1 L1161.6 1160.2 L1163.6 1157.3 L1165.6 1166.0 L1167.9 1164.5 L1170.2 1173.2 L1172.3 1163.1 L1174.3 1157.3 L1176.6 1166.0 L1178.9 1164.5 L1180.9 1168.8 L1182.9 1163.1 L1184.4 1036.4 L1185.5 979.4 L1186.9 1036.4 L1188.7 1066.6 L1190.4 1049.3 L1192.4 1088.2 L1194.4 1070.4 L1196.2 1094.0 L1197.6 1161.6 L1199.6 1163.1 L1202.5 1166.0 L1204.8 1168.8 L1206.8 1157.3 L1208.8 1167.4 L1211.1 1160.2 L1213.1 1153.0 L1214.9 1166.0 L1216.9 1157.3 L1219.2 1163.1 L1221.2 1171.7 L1223.2 1163.1 L1225.5 1161.6 L1227.8 1151.6 L1229.9 1148.7 L1231.3 1094.0 L1232.7 1037.8 L1234.2 1122.8 L1236.2 1168.8 L1238.5 1151.6 L1240.5 1157.3 L1242.8 1154.4 L1244.8 1151.6 L1246.3 1036.4 L1247.1 1003.3 L1248.6 1065.2 L1250.0 1117.0 L1251.4 1094.0 L1252.9 1042.1 L1254.3 1094.0 L1255.8 1148.7 L1257.2 1111.2 L1259.5 1072.4 L1260.9 1122.8 L1263.0 1163.1 L1265.3 1166.0 L1267.3 1160.2 L1269.6 1164.5 L1271.6 1155.9 L1273.9 1160.2 L1275.9 1157.3 L1278.2 1168.8 L1280.2 1160.2 L1282.5 1164.5 L1284.6 1155.9 L1286.6 1157.3 L1288.3 1094.0 L1289.7 1042.1 L1291.2 1030.6 L1292.6 1065.2 L1294.6 1105.5 L1296.7 1151.6 L1298.4 1155.9 L1300.4 1163.1 L1302.4 1155.9 L1304.1 1168.8 L1306.2 1154.4 L1308.2 1151.6 L1309.9 1145.8 L1311.9 1137.2 L1313.4 1111.2 L1314.8 1088.2 L1316.8 1151.6 L1318.5 1163.1 L1320.6 1155.9 L1322.6 1166.0 L1324.9 1157.3 L1326.9 1167.4 L1328.6 1155.9 L1330.1 1151.6 L1331.5 1094.0 L1332.9 1059.4 L1334.4 1052.2 L1335.8 1094.0 L1337.3 1134.3 L1339.3 1111.2 L1340.7 1106.9 L1342.1 1166.0 L1344.2 1157.3 L1346.5 1154.4 L1348.8 1153.0 L1350.8 1160.2 L1352.8 1155.9 L1355.1 1168.8 L1357.4 1173.2 L1359.7 1163.1 L1360.1 1157.3 L1362.1 1117.0 L1364.1 1056.5 L1366.1 1094.0 L1367.8 1068.1 L1369.8 1065.2 L1371.3 1076.7 L1372.7 1042.1 L1374.2 1094.0 L1375.6 1163.1 L1377.6 1160.2 L1379.9 1166.0 L1382.2 1157.3 L1384.2 1154.4 L1386.3 1160.2 L1388.6 1164.5 L1390.9 1157.3 L1392.9 1153.0 L1394.9 1166.0 L1397.2 1151.6 L1399.5 1163.1 L1401.5 1161.6 L1403.5 1164.5 L1405.8 1157.3 L1408.1 1167.4 L1410.2 1163.1 L1412.2 1164.5 L1413.9 1094.0 L1415.6 1029.2 L1417.4 1045.0 L1419.4 1049.3 L1420.8 1094.0 L1422.5 1117.0 L1424.6 1088.2 L1426.6 1059.4 L1428.3 1122.8 L1430.3 1160.2 L1432.3 1154.4 L1434.6 1168.8 L1436.6 1151.6 L1438.9 1154.4 L1441.0 1164.5 L1443.3 1157.3 L1445.3 1163.1 L1447.6 1160.2 L1449.6 1151.6 L1451.9 1160.2 L1453.9 1170.3 L1456.2 1157.3 L1458.2 1151.6 L1460.5 1148.7 L1462.0 1094.0 L1463.4 1051.4 L1464.9 1111.2 L1466.3 1155.9 L1467.7 1122.8 L1469.8 1088.2 L1471.5 1157.3 L1473.5 1151.6 L1474.9 1111.2 L1477.0 1151.6 L1479.3 1168.8 L1481.3 1157.3 L1483.6 1151.6 L1485.3 1098.3 L1486.5 1160.2 L1487.9 1111.2 L1489.3 1105.5 L1490.8 1151.6 L1492.8 1155.9 L1495.1 1154.4 L1497.4 1151.6 L1499.4 1155.9 L1501.4 1163.1 L1503.2 1157.3 L1504.6 1088.2 L1506.0 1122.8 L1508.1 1160.2 L1510.1 1164.5 L1512.4 1157.3 L1514.4 1163.1 L1516.7 1151.6 L1518.7 1157.3 L1521.0 1153.0 L1523.0 1155.9 L1525.3 1154.4 L1527.3 1145.8 L1529.1 1094.0 L1531.1 1024.9 L1532.8 1016.2 L1534.0 1065.2 L1534.8 1160.2 L1536.3 1154.4 L1537.7 1065.2 L1538.6 989.7 L1540.0 1065.2 L1541.2 1088.2" fill="none" stroke="#D95319" stroke-width="2.7" stroke-linejoin="round" stroke-linecap="butt" clip-path="url(#clc)"/>
<line x1="111.7" y1="974.0" x2="1541.2" y2="974.0" stroke="#6e6e6e" stroke-width="1"/>
<line x1="111.7" y1="1307.0" x2="1541.2" y2="1307.0" stroke="#6e6e6e" stroke-width="1"/>
<line x1="111.7" y1="974.0" x2="111.7" y2="1307.0" stroke="#8fc3e4" stroke-width="1"/>
<line x1="1541.2" y1="974.0" x2="1541.2" y2="1307.0" stroke="#eca98c" stroke-width="1"/>
<line x1="254.7" y1="1307.0" x2="254.7" y2="1292.8" stroke="#6e6e6e" stroke-width="1"/>
<line x1="254.7" y1="974.0" x2="254.7" y2="988.2" stroke="#6e6e6e" stroke-width="1"/>
<line x1="397.6" y1="1307.0" x2="397.6" y2="1292.8" stroke="#6e6e6e" stroke-width="1"/>
<line x1="397.6" y1="974.0" x2="397.6" y2="988.2" stroke="#6e6e6e" stroke-width="1"/>
<line x1="540.5" y1="1307.0" x2="540.5" y2="1292.8" stroke="#6e6e6e" stroke-width="1"/>
<line x1="540.5" y1="974.0" x2="540.5" y2="988.2" stroke="#6e6e6e" stroke-width="1"/>
<line x1="683.5" y1="1307.0" x2="683.5" y2="1292.8" stroke="#6e6e6e" stroke-width="1"/>
<line x1="683.5" y1="974.0" x2="683.5" y2="988.2" stroke="#6e6e6e" stroke-width="1"/>
<line x1="826.5" y1="1307.0" x2="826.5" y2="1292.8" stroke="#6e6e6e" stroke-width="1"/>
<line x1="826.5" y1="974.0" x2="826.5" y2="988.2" stroke="#6e6e6e" stroke-width="1"/>
<line x1="969.4" y1="1307.0" x2="969.4" y2="1292.8" stroke="#6e6e6e" stroke-width="1"/>
<line x1="969.4" y1="974.0" x2="969.4" y2="988.2" stroke="#6e6e6e" stroke-width="1"/>
<line x1="1112.3" y1="1307.0" x2="1112.3" y2="1292.8" stroke="#6e6e6e" stroke-width="1"/>
<line x1="1112.3" y1="974.0" x2="1112.3" y2="988.2" stroke="#6e6e6e" stroke-width="1"/>
<line x1="1255.3" y1="1307.0" x2="1255.3" y2="1292.8" stroke="#6e6e6e" stroke-width="1"/>
<line x1="1255.3" y1="974.0" x2="1255.3" y2="988.2" stroke="#6e6e6e" stroke-width="1"/>
<line x1="1398.2" y1="1307.0" x2="1398.2" y2="1292.8" stroke="#6e6e6e" stroke-width="1"/>
<line x1="1398.2" y1="974.0" x2="1398.2" y2="988.2" stroke="#6e6e6e" stroke-width="1"/>
<line x1="111.7" y1="1307.0" x2="125.9" y2="1307.0" stroke="#8fc3e4" stroke-width="1"/>
<line x1="111.7" y1="1223.8" x2="125.9" y2="1223.8" stroke="#8fc3e4" stroke-width="1"/>
<line x1="111.7" y1="1140.5" x2="125.9" y2="1140.5" stroke="#8fc3e4" stroke-width="1"/>
<line x1="111.7" y1="1057.2" x2="125.9" y2="1057.2" stroke="#8fc3e4" stroke-width="1"/>
<line x1="111.7" y1="974.0" x2="125.9" y2="974.0" stroke="#8fc3e4" stroke-width="1"/>
<line x1="1541.2" y1="1307.0" x2="1527.0" y2="1307.0" stroke="#eca98c" stroke-width="1"/>
<line x1="1541.2" y1="1223.8" x2="1527.0" y2="1223.8" stroke="#eca98c" stroke-width="1"/>
<line x1="1541.2" y1="1140.5" x2="1527.0" y2="1140.5" stroke="#eca98c" stroke-width="1"/>
<line x1="1541.2" y1="1057.2" x2="1527.0" y2="1057.2" stroke="#eca98c" stroke-width="1"/>
<line x1="1541.2" y1="974.0" x2="1527.0" y2="974.0" stroke="#eca98c" stroke-width="1"/>
<text x="111.7" y="1343.9" text-anchor="middle" font-size="30.7" fill="#262626" font-family="Liberation Sans, Arial, sans-serif" font-weight="bold">200</text>
<text x="254.7" y="1343.9" text-anchor="middle" font-size="30.7" fill="#262626" font-family="Liberation Sans, Arial, sans-serif" font-weight="bold">400</text>
<text x="397.6" y="1343.9" text-anchor="middle" font-size="30.7" fill="#262626" font-family="Liberation Sans, Arial, sans-serif" font-weight="bold">600</text>
<text x="540.5" y="1343.9" text-anchor="middle" font-size="30.7" fill="#262626" font-family="Liberation Sans, Arial, sans-serif" font-weight="bold">800</text>
<text x="683.5" y="1343.9" text-anchor="middle" font-size="30.7" fill="#262626" font-family="Liberation Sans, Arial, sans-serif" font-weight="bold">1000</text>
<text x="826.5" y="1343.9" text-anchor="middle" font-size="30.7" fill="#262626" font-family="Liberation Sans, Arial, sans-serif" font-weight="bold">1200</text>
<text x="969.4" y="1343.9" text-anchor="middle" font-size="30.7" fill="#262626" font-family="Liberation Sans, Arial, sans-serif" font-weight="bold">1400</text>
<text x="1112.3" y="1343.9" text-anchor="middle" font-size="30.7" fill="#262626" font-family="Liberation Sans, Arial, sans-serif" font-weight="bold">1600</text>
<text x="1255.3" y="1343.9" text-anchor="middle" font-size="30.7" fill="#262626" font-family="Liberation Sans, Arial, sans-serif" font-weight="bold">1800</text>
<text x="1398.2" y="1343.9" text-anchor="middle" font-size="30.7" fill="#262626" font-family="Liberation Sans, Arial, sans-serif" font-weight="bold">2000</text>
<text x="1541.2" y="1343.9" text-anchor="middle" font-size="30.7" fill="#262626" font-family="Liberation Sans, Arial, sans-serif" font-weight="bold">2200</text>
<text x="98.8" y="1317.9" text-anchor="end" font-size="30.7" fill="#0072BD" font-family="Liberation Sans, Arial, sans-serif" font-weight="bold">-1</text>
<text x="98.8" y="1234.7" text-anchor="end" font-size="30.7" fill="#0072BD" font-family="Liberation Sans, Arial, sans-serif" font-weight="bold">-0.5</text>
<text x="98.8" y="1151.4" text-anchor="end" font-size="30.7" fill="#0072BD" font-family="Liberation Sans, Arial, sans-serif" font-weight="bold">0</text>
<text x="98.8" y="1068.2" text-anchor="end" font-size="30.7" fill="#0072BD" font-family="Liberation Sans, Arial, sans-serif" font-weight="bold">0.5</text>
<text x="98.8" y="984.9" text-anchor="end" font-size="30.7" fill="#0072BD" font-family="Liberation Sans, Arial, sans-serif" font-weight="bold">1</text>
<text x="1551" y="1317.9" text-anchor="start" font-size="30.7" fill="#D95319" font-family="Liberation Sans, Arial, sans-serif" font-weight="bold">-1</text>
<text x="1551" y="1234.7" text-anchor="start" font-size="30.7" fill="#D95319" font-family="Liberation Sans, Arial, sans-serif" font-weight="bold">-0.5</text>
<text x="1551" y="1151.4" text-anchor="start" font-size="30.7" fill="#D95319" font-family="Liberation Sans, Arial, sans-serif" font-weight="bold">0</text>
<text x="1551" y="1068.2" text-anchor="start" font-size="30.7" fill="#D95319" font-family="Liberation Sans, Arial, sans-serif" font-weight="bold">0.5</text>
<text x="1551" y="984.9" text-anchor="start" font-size="30.7" fill="#D95319" font-family="Liberation Sans, Arial, sans-serif" font-weight="bold">1</text>
<text transform="translate(40,1140) rotate(-90)" text-anchor="middle" font-size="33" fill="#0072BD" font-family="Liberation Sans, Arial, sans-serif" font-weight="bold">elevation</text>
<text transform="translate(1640,1140) rotate(-90)" text-anchor="middle" font-size="33" fill="#D95319" font-family="Liberation Sans, Arial, sans-serif" font-weight="bold">intensity</text>
<text x="93" y="1409" font-size="47" fill="#262626" font-family="Liberation Sans, Arial, sans-serif" font-weight="bold">c)</text>
<line x1="111.7" y1="1436.7" x2="111.7" y2="1769.3" stroke="#e8e8e8" stroke-width="1"/>
<line x1="254.7" y1="1436.7" x2="254.7" y2="1769.3" stroke="#e8e8e8" stroke-width="1"/>
<line x1="397.6" y1="1436.7" x2="397.6" y2="1769.3" stroke="#e8e8e8" stroke-width="1"/>
<line x1="540.5" y1="1436.7" x2="540.5" y2="1769.3" stroke="#e8e8e8" stroke-width="1"/>
<line x1="683.5" y1="1436.7" x2="683.5" y2="1769.3" stroke="#e8e8e8" stroke-width="1"/>
<line x1="826.5" y1="1436.7" x2="826.5" y2="1769.3" stroke="#e8e8e8" stroke-width="1"/>
<line x1="969.4" y1="1436.7" x2="969.4" y2="1769.3" stroke="#e8e8e8" stroke-width="1"/>
<line x1="1112.3" y1="1436.7" x2="1112.3" y2="1769.3" stroke="#e8e8e8" stroke-width="1"/>
<line x1="1255.3" y1="1436.7" x2="1255.3" y2="1769.3" stroke="#e8e8e8" stroke-width="1"/>
<line x1="1398.2" y1="1436.7" x2="1398.2" y2="1769.3" stroke="#e8e8e8" stroke-width="1"/>
<line x1="1541.2" y1="1436.7" x2="1541.2" y2="1769.3" stroke="#e8e8e8" stroke-width="1"/>
<line x1="111.7" y1="1723.6" x2="1541.2" y2="1723.6" stroke="#e9e9e9" stroke-width="1"/>
<line x1="111.7" y1="1664.2" x2="1541.2" y2="1664.2" stroke="#e9e9e9" stroke-width="1"/>
<line x1="111.7" y1="1604.8" x2="1541.2" y2="1604.8" stroke="#e9e9e9" stroke-width="1"/>
<line x1="111.7" y1="1545.4" x2="1541.2" y2="1545.4" stroke="#e9e9e9" stroke-width="1"/>
<line x1="111.7" y1="1486.0" x2="1541.2" y2="1486.0" stroke="#e9e9e9" stroke-width="1"/>
<path d="M111.7 1549.4 L112.2 1547.7 L112.7 1547.1 L113.2 1548.1 L113.7 1550.3 L114.2 1554.6 L114.7 1562.0 L115.2 1572.3 L115.7 1582.6 L116.2 1588.5 L116.7 1587.1 L117.2 1579.4 L117.7 1569.0 L118.2 1559.1 L118.7 1551.5 L119.2 1546.9 L119.7 1546.4 L120.2 1549.8 L120.7 1555.6 L121.2 1562.0 L121.7 1567.6 L122.2 1571.3 L122.7 1573.2 L123.2 1574.0 L123.7 1574.9 L124.2 1576.8 L124.7 1580.9 L125.2 1586.9 L125.7 1593.6 L126.2 1600.3 L126.7 1607.0 L127.2 1613.3 L127.7 1618.9 L128.2 1624.0 L128.7 1628.8 L129.2 1632.9 L129.7 1635.1 L130.2 1635.3 L130.7 1634.9 L131.2 1635.6 L131.7 1637.4 L132.2 1639.5 L132.7 1639.5 L133.2 1635.8 L133.7 1629.9 L134.2 1623.6 L134.7 1617.2 L135.2 1611.2 L135.7 1605.7 L136.2 1600.7 L136.7 1595.9 L137.2 1591.1 L137.7 1586.5 L138.2 1582.9 L138.7 1580.8 L139.2 1579.6 L139.7 1578.6 L140.2 1577.6 L140.7 1576.8 L141.2 1576.6 L141.7 1577.0 L142.2 1577.9 L142.7 1579.8 L143.2 1584.2 L143.7 1591.7 L144.2 1600.9 L144.7 1610.4 L145.2 1620.0 L145.7 1629.4 L146.2 1638.0 L146.7 1645.2 L147.2 1651.5 L147.7 1657.6 L148.2 1663.1 L148.7 1666.1 L149.2 1664.4 L149.7 1659.0 L150.2 1652.4 L150.7 1646.0 L151.2 1640.5 L151.7 1636.6 L152.2 1633.7 L152.7 1632.0 L153.2 1632.2 L153.7 1633.9 L154.2 1636.2 L154.7 1638.7 L155.2 1641.0 L155.8 1643.2 L156.3 1645.2 L156.8 1647.2 L157.3 1649.1 L157.8 1650.4 L158.3 1650.7 L158.8 1649.5 L159.3 1647.7 L159.8 1645.7 L160.3 1643.7 L160.8 1641.5 L161.3 1638.4 L161.8 1634.0 L162.3 1628.7 L162.8 1623.1 L163.3 1617.3 L163.8 1610.6 L164.3 1603.1 L164.8 1595.1 L165.3 1587.1 L165.8 1579.0 L166.3 1571.0 L166.8 1563.3 L167.3 1556.2 L167.8 1549.7 L168.3 1543.5 L168.8 1537.4 L169.3 1531.5 L169.8 1526.4 L170.3 1523.1 L170.8 1521.1 L171.3 1519.9 L171.8 1519.5 L172.3 1520.0 L172.8 1521.5 L173.3 1524.9 L173.8 1531.5 L174.3 1540.6 L174.8 1550.3 L175.3 1560.2 L175.8 1569.8 L176.3 1578.6 L176.8 1586.3 L177.3 1593.3 L177.8 1600.0 L178.3 1606.8 L178.8 1613.4 L179.3 1619.3 L179.8 1623.7 L180.3 1626.9 L180.8 1629.6 L181.3 1631.4 L181.8 1631.7 L182.3 1630.7 L182.8 1629.2 L183.3 1627.7 L183.8 1625.9 L184.3 1623.3 L184.8 1619.2 L185.3 1614.2 L185.8 1608.9 L186.3 1603.7 L186.8 1598.4 L187.3 1593.1 L187.8 1587.9 L188.3 1582.8 L188.8 1577.9 L189.3 1573.4 L189.8 1569.0 L190.3 1564.7 L190.8 1560.4 L191.3 1556.1 L191.8 1552.0 L192.3 1549.3 L192.8 1548.9 L193.3 1550.1 L193.8 1552.0 L194.3 1554.7 L194.8 1558.9 L195.3 1564.1 L195.8 1569.6 L196.3 1575.1 L196.8 1580.7 L197.3 1586.3 L197.8 1591.8 L198.3 1597.5 L198.8 1603.4 L199.3 1609.6 L199.8 1615.9 L200.3 1622.4 L200.8 1628.8 L201.3 1635.2 L201.8 1641.4 L202.3 1647.1 L202.8 1651.4 L203.3 1654.8 L203.8 1657.8 L204.3 1660.8 L204.8 1664.0 L205.3 1667.7 L205.8 1671.8 L206.3 1675.8 L206.8 1678.8 L207.3 1680.3 L207.8 1680.6 L208.3 1679.2 L208.8 1675.0 L209.3 1668.3 L209.8 1660.5 L210.3 1652.7 L210.8 1645.5 L211.3 1639.1 L211.8 1633.3 L212.3 1627.6 L212.8 1621.9 L213.3 1616.9 L213.8 1613.3 L214.3 1611.7 L214.8 1611.0 L215.3 1610.5 L215.8 1610.1 L216.3 1609.9 L216.8 1609.9 L217.3 1610.3 L217.8 1610.8 L218.3 1611.2 L218.8 1610.7 L219.3 1609.0 L219.8 1606.3 L220.3 1603.4 L220.8 1600.5 L221.3 1597.6 L221.8 1594.7 L222.3 1591.7 L222.8 1588.7 L223.3 1585.6 L223.8 1582.2 L224.3 1578.7 L224.8 1575.2 L225.3 1571.7 L225.8 1568.2 L226.3 1564.6 L226.8 1561.2 L227.3 1558.0 L227.8 1555.3 L228.3 1553.0 L228.8 1551.0 L229.3 1549.0 L229.8 1547.5 L230.3 1547.1 L230.8 1547.7 L231.3 1549.1 L231.8 1551.5 L232.3 1555.4 L232.8 1560.2 L233.3 1565.3 L233.8 1570.2 L234.3 1574.9 L234.8 1578.7 L235.3 1581.3 L235.8 1583.4 L236.3 1585.5 L236.8 1588.3 L237.3 1591.9 L237.8 1595.9 L238.3 1599.8 L238.8 1603.1 L239.3 1605.1 L239.8 1605.9 L240.3 1606.2 L240.8 1606.5 L241.3 1606.8 L241.8 1608.0 L242.3 1610.4 L242.8 1613.8 L243.3 1617.4 L243.8 1621.1 L244.3 1624.7 L244.8 1627.9 L245.3 1629.4 L245.8 1627.9 L246.3 1624.6 L246.8 1620.8 L247.3 1616.9 L247.8 1612.8 L248.3 1608.5 L248.8 1604.2 L249.3 1600.4 L249.8 1599.2 L250.3 1602.7 L250.8 1609.9 L251.3 1618.3 L251.8 1626.0 L252.3 1632.2 L252.8 1637.1 L253.3 1641.6 L253.8 1646.0 L254.3 1650.0 L254.8 1652.3 L255.3 1651.9 L255.8 1649.7 L256.3 1647.1 L256.8 1644.5 L257.3 1642.0 L257.8 1640.0 L258.3 1638.5 L258.8 1637.3 L259.3 1636.2 L259.8 1635.1 L260.3 1633.6 L260.8 1631.4 L261.3 1628.5 L261.8 1625.3 L262.3 1622.0 L262.8 1618.5 L263.3 1613.9 L263.8 1607.5 L264.3 1599.4 L264.8 1590.7 L265.3 1582.0 L265.8 1573.4 L266.3 1565.5 L266.8 1558.9 L267.3 1553.1 L267.8 1547.7 L268.3 1543.6 L268.8 1542.8 L269.3 1545.6 L269.8 1550.2 L270.3 1554.6 L270.8 1557.5 L271.3 1558.5 L271.8 1558.7 L272.3 1558.6 L272.8 1558.6 L273.3 1559.2 L273.8 1560.8 L274.3 1563.4 L274.8 1566.5 L275.3 1569.7 L275.8 1572.9 L276.3 1576.4 L276.8 1580.3 L277.3 1584.5 L277.8 1588.9 L278.3 1593.3 L278.8 1597.8 L279.3 1602.6 L279.8 1607.9 L280.3 1613.6 L280.8 1619.3 L281.3 1624.8 L281.8 1629.3 L282.3 1631.1 L282.8 1629.7 L283.3 1626.6 L283.8 1623.1 L284.3 1619.7 L284.8 1616.9 L285.3 1615.2 L285.8 1614.6 L286.3 1614.8 L286.8 1615.7 L287.3 1617.8 L287.8 1620.6 L288.3 1623.5 L288.8 1626.4 L289.3 1629.0 L289.8 1631.3 L290.3 1633.3 L290.8 1635.2 L291.3 1637.1 L291.8 1639.0 L292.3 1640.9 L292.8 1642.8 L293.3 1644.6 L293.8 1646.1 L294.3 1647.3 L294.8 1648.4 L295.3 1649.4 L295.8 1650.5 L296.3 1651.5 L296.8 1652.5 L297.3 1653.4 L297.8 1653.6 L298.3 1652.6 L298.8 1650.5 L299.3 1647.9 L299.8 1645.3 L300.3 1642.5 L300.8 1639.2 L301.3 1634.8 L301.8 1629.8 L302.3 1624.5 L302.8 1619.3 L303.3 1614.0 L303.8 1608.7 L304.3 1603.4 L304.8 1598.1 L305.3 1592.4 L305.8 1586.4 L306.3 1580.2 L306.8 1574.0 L307.3 1567.8 L307.8 1561.6 L308.3 1555.4 L308.8 1549.2 L309.4 1543.2 L309.9 1537.2 L310.4 1531.4 L310.9 1526.9 L311.4 1524.9 L311.9 1524.6 L312.4 1525.0 L312.9 1525.6 L313.4 1526.1 L313.9 1526.6 L314.4 1526.8 L314.9 1526.6 L315.4 1526.0 L315.9 1525.5 L316.4 1525.3 L316.9 1525.6 L317.4 1526.2 L317.9 1527.4 L318.4 1531.5 L318.9 1540.9 L319.4 1554.1 L319.9 1567.5 L320.4 1578.4 L320.9 1585.9 L321.4 1591.7 L321.9 1597.1 L322.4 1602.5 L322.9 1607.9 L323.4 1613.3 L323.9 1618.8 L324.4 1624.4 L324.9 1630.1 L325.4 1635.8 L325.9 1641.5 L326.4 1647.3 L326.9 1653.1 L327.4 1659.1 L327.9 1665.3 L328.4 1671.4 L328.9 1677.3 L329.4 1682.0 L329.9 1683.8 L330.4 1682.0 L330.9 1678.5 L331.4 1674.6 L331.9 1670.9 L332.4 1668.3 L332.9 1668.1 L333.4 1670.1 L333.9 1673.0 L334.4 1676.0 L334.9 1678.6 L335.4 1679.3 L335.9 1676.6 L336.4 1671.3 L336.9 1665.3 L337.4 1659.2 L337.9 1653.5 L338.4 1649.3 L338.9 1647.4 L339.4 1646.8 L339.9 1646.4 L340.4 1646.1 L340.9 1645.8 L341.4 1645.5 L341.9 1645.1 L342.4 1644.0 L342.9 1641.5 L343.4 1637.4 L343.9 1632.3 L344.4 1626.0 L344.9 1617.2 L345.4 1605.7 L345.9 1592.8 L346.4 1579.7 L346.9 1566.5 L347.4 1553.3 L347.9 1540.1 L348.4 1527.0 L348.9 1513.9 L349.4 1501.3 L349.9 1491.0 L350.4 1484.1 L350.9 1479.8 L351.4 1478.3 L351.9 1481.7 L352.4 1489.4 L352.9 1499.1 L353.4 1508.8 L353.9 1518.2 L354.4 1527.2 L354.9 1535.7 L355.4 1543.3 L355.9 1548.7 L356.4 1552.0 L356.9 1554.4 L357.4 1556.6 L357.9 1558.5 L358.4 1559.6 L358.9 1559.1 L359.4 1557.4 L359.9 1555.4 L360.4 1554.0 L360.9 1554.6 L361.4 1558.1 L361.9 1563.1 L362.4 1568.4 L362.9 1573.9 L363.4 1580.1 L363.9 1587.4 L364.4 1595.4 L364.9 1603.5 L365.4 1611.6 L365.9 1619.7 L366.4 1627.7 L366.9 1635.3 L367.4 1641.9 L367.9 1647.7 L368.4 1653.0 L368.9 1658.3 L369.4 1663.1 L369.9 1665.8 L370.4 1664.6 L370.9 1660.6 L371.4 1655.5 L371.9 1650.2 L372.4 1645.0 L372.9 1640.2 L373.4 1635.9 L373.9 1632.7 L374.4 1631.6 L374.9 1633.6 L375.4 1637.3 L375.9 1641.5 L376.4 1645.6 L376.9 1649.9 L377.4 1654.4 L377.9 1659.1 L378.4 1663.9 L378.9 1668.7 L379.4 1673.1 L379.9 1675.6 L380.4 1674.4 L380.9 1669.9 L381.4 1664.0 L381.9 1657.9 L382.4 1651.9 L382.9 1646.5 L383.4 1642.0 L383.9 1638.3 L384.4 1634.7 L384.9 1631.2 L385.4 1627.3 L385.9 1622.4 L386.4 1615.9 L386.9 1608.5 L387.4 1600.9 L387.9 1593.3 L388.4 1585.7 L388.9 1578.1 L389.4 1570.6 L389.9 1563.5 L390.4 1557.3 L390.9 1552.1 L391.4 1547.3 L391.9 1542.6 L392.4 1537.9 L392.9 1533.2 L393.4 1528.6 L393.9 1524.0 L394.4 1520.3 L394.9 1517.8 L395.4 1516.2 L395.9 1514.8 L396.4 1513.6 L396.9 1512.4 L397.4 1511.8 L397.9 1512.5 L398.4 1514.4 L398.9 1516.8 L399.4 1519.3 L399.9 1522.1 L400.4 1525.3 L400.9 1529.1 L401.4 1533.1 L401.9 1537.2 L402.4 1541.3 L402.9 1545.4 L403.4 1549.5 L403.9 1553.7 L404.4 1558.2 L404.9 1563.3 L405.4 1568.9 L405.9 1574.7 L406.4 1580.6 L406.9 1586.4 L407.4 1592.3 L407.9 1598.2 L408.4 1604.3 L408.9 1611.3 L409.4 1619.7 L409.9 1628.9 L410.4 1638.2 L410.9 1647.6 L411.4 1656.9 L411.9 1666.3 L412.4 1675.6 L412.9 1684.4 L413.4 1692.2 L413.9 1699.0 L414.4 1705.3 L414.9 1711.4 L415.4 1717.3 L415.9 1722.3 L416.4 1725.5 L416.9 1727.1 L417.4 1728.0 L417.9 1728.1 L418.4 1726.8 L418.9 1724.4 L419.4 1721.4 L419.9 1718.0 L420.4 1713.1 L420.9 1706.0 L421.4 1697.5 L421.9 1688.8 L422.4 1680.0 L422.9 1671.2 L423.4 1662.4 L423.9 1653.6 L424.4 1644.6 L424.9 1635.1 L425.4 1625.2 L425.9 1615.0 L426.4 1604.7 L426.9 1594.5 L427.4 1584.2 L427.9 1574.0 L428.4 1563.9 L428.9 1554.5 L429.4 1546.3 L429.9 1539.1 L430.4 1532.4 L430.9 1526.6 L431.4 1523.9 L431.9 1525.2 L432.4 1528.8 L432.9 1532.9 L433.4 1536.4 L433.9 1537.3 L434.4 1533.9 L434.9 1528.0 L435.4 1521.6 L435.9 1515.7 L436.4 1511.2 L436.9 1508.3 L437.4 1506.2 L437.9 1505.1 L438.4 1505.8 L438.9 1508.5 L439.4 1512.2 L439.9 1516.3 L440.4 1521.2 L440.9 1527.6 L441.4 1535.0 L441.9 1542.9 L442.4 1550.8 L442.9 1558.7 L443.4 1566.6 L443.9 1574.5 L444.4 1582.4 L444.9 1590.4 L445.4 1598.4 L445.9 1606.5 L446.4 1614.6 L446.9 1622.7 L447.4 1630.8 L447.9 1638.6 L448.4 1645.2 L448.9 1649.3 L449.4 1651.2 L449.9 1652.2 L450.4 1652.2 L450.9 1650.7 L451.4 1648.0 L451.9 1644.8 L452.4 1642.7 L452.9 1642.6 L453.4 1644.5 L453.9 1647.2 L454.4 1650.0 L454.9 1652.7 L455.4 1654.5 L455.9 1654.9 L456.4 1654.2 L456.9 1653.3 L457.4 1652.2 L457.9 1651.2 L458.4 1650.2 L458.9 1649.1 L459.4 1647.8 L459.9 1645.8 L460.4 1642.7 L460.9 1639.1 L461.4 1635.4 L461.9 1631.7 L462.4 1628.0 L462.9 1624.3 L463.5 1620.9 L464.0 1618.0 L464.5 1615.5 L465.0 1613.2 L465.5 1610.8 L466.0 1608.5 L466.5 1606.1 L467.0 1603.8 L467.5 1601.5 L468.0 1599.5 L468.5 1597.7 L469.0 1596.1 L469.5 1594.6 L470.0 1593.1 L470.5 1592.2 L471.0 1592.4 L471.5 1594.0 L472.0 1596.4 L472.5 1598.9 L473.0 1601.5 L473.5 1604.0 L474.0 1606.0 L474.5 1605.7 L475.0 1601.6 L475.5 1594.6 L476.0 1586.9 L476.5 1579.0 L477.0 1571.1 L477.5 1563.2 L478.0 1555.5 L478.5 1547.8 L479.0 1540.5 L479.5 1534.7 L480.0 1532.0 L480.5 1531.7 L481.0 1531.1 L481.5 1529.5 L482.0 1528.0 L482.5 1527.7 L483.0 1528.6 L483.5 1530.6 L484.0 1535.0 L484.5 1542.0 L485.0 1550.3 L485.5 1560.3 L486.0 1576.6 L486.5 1602.2 L487.0 1627.0 L487.5 1639.6 L488.0 1643.7 L488.5 1645.6 L489.0 1646.5 L489.5 1645.8 L490.0 1644.2 L490.5 1642.4 L491.0 1639.9 L491.5 1636.0 L492.0 1630.6 L492.5 1624.6 L493.0 1618.6 L493.5 1613.2 L494.0 1608.4 L494.5 1604.0 L495.0 1599.6 L495.5 1595.2 L496.0 1590.8 L496.5 1586.4 L497.0 1582.0 L497.5 1577.6 L498.0 1573.2 L498.5 1569.0 L499.0 1565.6 L499.5 1563.6 L500.0 1562.5 L500.5 1561.9 L501.0 1562.8 L501.5 1565.9 L502.0 1570.8 L502.5 1576.6 L503.0 1583.5 L503.5 1591.6 L504.0 1600.2 L504.5 1608.3 L505.0 1615.1 L505.5 1620.4 L506.0 1624.9 L506.5 1629.3 L507.0 1633.7 L507.5 1637.8 L508.0 1641.4 L508.5 1644.6 L509.0 1647.6 L509.5 1650.3 L510.0 1651.6 L510.5 1650.6 L511.0 1648.2 L511.5 1645.5 L512.0 1642.8 L512.5 1640.0 L513.0 1636.9 L513.5 1633.7 L514.0 1630.4 L514.5 1627.4 L515.0 1625.0 L515.5 1623.3 L516.0 1622.1 L516.5 1620.9 L517.0 1618.9 L517.5 1615.7 L518.0 1611.2 L518.5 1606.3 L519.0 1601.3 L519.5 1596.1 L520.0 1590.9 L520.5 1585.6 L521.0 1580.4 L521.5 1575.3 L522.0 1571.1 L522.5 1568.5 L523.0 1567.0 L523.5 1565.9 L524.0 1564.8 L524.5 1563.8 L525.0 1562.9 L525.5 1562.4 L526.0 1562.1 L526.5 1562.0 L527.0 1562.4 L527.5 1564.0 L528.0 1566.7 L528.5 1569.5 L529.0 1571.4 L529.5 1572.5 L530.0 1573.2 L530.5 1573.9 L531.0 1574.7 L531.5 1576.1 L532.0 1578.6 L532.5 1581.8 L533.0 1585.3 L533.5 1589.6 L534.0 1595.0 L534.5 1601.3 L535.0 1607.8 L535.5 1614.4 L536.0 1620.6 L536.5 1625.8 L537.0 1629.2 L537.5 1631.7 L538.0 1633.9 L538.5 1636.0 L539.0 1637.6 L539.5 1638.1 L540.0 1637.3 L540.5 1635.7 L541.0 1633.9 L541.5 1632.1 L542.0 1630.0 L542.5 1627.3 L543.0 1624.1 L543.5 1620.6 L544.0 1617.1 L544.5 1613.5 L545.0 1609.6 L545.5 1605.0 L546.0 1599.9 L546.5 1594.6 L547.0 1589.4 L547.5 1584.3 L548.0 1579.9 L548.5 1576.5 L549.0 1573.7 L549.5 1571.1 L550.0 1568.6 L550.5 1567.0 L551.0 1567.7 L551.5 1571.4 L552.0 1577.9 L552.5 1587.8 L553.0 1600.9 L553.5 1615.3 L554.0 1628.6 L554.5 1638.4 L555.0 1644.5 L555.5 1648.6 L556.0 1652.4 L556.5 1655.9 L557.0 1658.2 L557.5 1658.1 L558.0 1656.1 L558.5 1653.3 L559.0 1650.2 L559.5 1646.9 L560.0 1643.2 L560.5 1639.3 L561.0 1635.3 L561.5 1631.4 L562.0 1627.3 L562.5 1622.8 L563.0 1617.8 L563.5 1612.6 L564.0 1607.3 L564.5 1602.1 L565.0 1597.0 L565.5 1592.2 L566.0 1587.6 L566.5 1583.2 L567.0 1578.8 L567.5 1574.6 L568.0 1570.9 L568.5 1568.2 L569.0 1566.3 L569.5 1565.0 L570.0 1564.9 L570.5 1567.1 L571.0 1570.8 L571.5 1573.9 L572.0 1573.5 L572.5 1568.9 L573.0 1562.0 L573.5 1555.1 L574.0 1549.6 L574.5 1545.9 L575.0 1543.2 L575.5 1541.2 L576.0 1540.3 L576.5 1540.9 L577.0 1542.4 L577.5 1544.0 L578.0 1545.4 L578.5 1546.5 L579.0 1547.3 L579.5 1548.2 L580.0 1550.2 L580.5 1554.4 L581.0 1560.6 L581.5 1567.1 L582.0 1572.1 L582.5 1574.7 L583.0 1575.9 L583.5 1576.8 L584.0 1577.9 L584.5 1580.0 L585.0 1584.5 L585.5 1591.6 L586.0 1600.0 L586.5 1608.1 L587.0 1614.9 L587.5 1620.3 L588.0 1624.8 L588.5 1629.2 L589.0 1633.5 L589.5 1637.2 L590.0 1639.8 L590.5 1641.4 L591.0 1642.6 L591.5 1643.4 L592.0 1642.8 L592.5 1640.1 L593.0 1636.0 L593.5 1631.6 L594.0 1627.2 L594.5 1622.9 L595.0 1618.4 L595.5 1614.0 L596.0 1609.4 L596.5 1604.8 L597.0 1600.2 L597.5 1595.9 L598.0 1592.7 L598.5 1592.6 L599.0 1596.1 L599.5 1601.5 L600.0 1607.2 L600.5 1612.9 L601.0 1618.6 L601.5 1624.3 L602.0 1629.7 L602.5 1634.1 L603.0 1636.7 L603.5 1637.9 L604.0 1638.4 L604.5 1638.9 L605.0 1639.4 L605.5 1640.4 L606.0 1642.3 L606.5 1644.6 L607.0 1646.8 L607.5 1648.2 L608.0 1647.3 L608.5 1643.6 L609.0 1638.7 L609.5 1634.0 L610.0 1630.6 L610.5 1628.7 L611.0 1627.6 L611.5 1626.7 L612.0 1626.0 L612.5 1625.7 L613.0 1626.4 L613.5 1628.1 L614.0 1630.2 L614.5 1632.4 L615.0 1634.8 L615.5 1638.0 L616.0 1642.6 L616.5 1648.2 L617.0 1654.1 L617.6 1659.7 L618.1 1664.3 L618.6 1667.5 L619.1 1669.9 L619.6 1672.3 L620.1 1675.1 L620.6 1678.6 L621.1 1682.1 L621.6 1685.2 L622.1 1687.4 L622.6 1689.1 L623.1 1689.9 L623.6 1688.5 L624.1 1684.4 L624.6 1678.8 L625.1 1673.0 L625.6 1667.4 L626.1 1662.4 L626.6 1657.7 L627.1 1653.3 L627.6 1648.9 L628.1 1644.3 L628.6 1638.7 L629.1 1631.4 L629.6 1622.9 L630.1 1614.2 L630.6 1605.4 L631.1 1596.2 L631.6 1585.8 L632.1 1573.8 L632.6 1560.8 L633.1 1547.7 L633.6 1534.6 L634.1 1522.1 L634.6 1511.0 L635.1 1501.5 L635.6 1493.5 L636.1 1487.3 L636.6 1482.8 L637.1 1479.2 L637.6 1476.7 L638.1 1475.5 L638.6 1475.0 L639.1 1474.8 L639.6 1474.4 L640.1 1473.3 L640.6 1471.3 L641.1 1468.5 L641.6 1465.8 L642.1 1463.6 L642.6 1461.7 L643.1 1460.1 L643.6 1459.8 L644.1 1461.8 L644.6 1465.1 L645.1 1468.7 L645.6 1472.2 L646.1 1475.7 L646.6 1479.1 L647.1 1482.6 L647.6 1486.7 L648.1 1491.9 L648.6 1498.7 L649.1 1506.2 L649.6 1514.1 L650.1 1522.6 L650.6 1532.5 L651.1 1543.5 L651.6 1554.8 L652.1 1566.3 L652.6 1577.8 L653.1 1589.7 L653.6 1602.4 L654.1 1615.5 L654.6 1628.7 L655.1 1642.0 L655.6 1655.1 L656.1 1667.7 L656.6 1679.6 L657.1 1691.1 L657.6 1702.3 L658.1 1711.9 L658.6 1718.0 L659.1 1721.0 L659.6 1723.0 L660.1 1725.7 L660.6 1730.3 L661.1 1736.7 L661.6 1743.8 L662.1 1751.0 L662.6 1757.8 L663.1 1764.2 L663.6 1770.3 L664.1 1775.8 L664.6 1779.9 L665.1 1781.3 L665.6 1778.5 L666.1 1772.4 L666.6 1763.6 L667.1 1750.9 L667.6 1734.4 L668.1 1718.3 L668.6 1707.1 L669.1 1701.3 L669.6 1697.9 L670.1 1695.1 L670.6 1692.7 L671.1 1690.5 L671.6 1688.5 L672.1 1686.1 L672.6 1681.7 L673.1 1673.9 L673.6 1663.8 L674.1 1653.4 L674.6 1644.1 L675.1 1636.7 L675.6 1630.7 L676.1 1625.2 L676.6 1619.8 L677.1 1614.7 L677.6 1610.5 L678.1 1607.8 L678.6 1605.8 L679.1 1604.0 L679.6 1602.2 L680.1 1599.7 L680.6 1595.9 L681.1 1590.4 L681.6 1584.0 L682.1 1577.5 L682.6 1571.1 L683.1 1565.1 L683.6 1559.4 L684.1 1553.8 L684.6 1548.9 L685.1 1545.1 L685.6 1542.2 L686.1 1539.7 L686.6 1537.4 L687.1 1535.6 L687.6 1534.7 L688.1 1534.3 L688.6 1534.0 L689.1 1533.8 L689.6 1534.4 L690.1 1537.0 L690.6 1541.9 L691.1 1547.9 L691.6 1553.8 L692.1 1558.6 L692.6 1562.1 L693.1 1564.7 L693.6 1566.9 L694.1 1568.6 L694.6 1570.2 L695.1 1571.7 L695.6 1573.3 L696.1 1574.9 L696.6 1576.7 L697.1 1578.5 L697.6 1580.4 L698.1 1582.3 L698.6 1583.8 L699.1 1584.8 L699.6 1585.5 L700.1 1586.2 L700.6 1587.3 L701.1 1589.1 L701.6 1591.2 L702.1 1593.3 L702.6 1595.4 L703.1 1596.9 L703.6 1596.8 L704.1 1594.6 L704.6 1591.3 L705.1 1587.8 L705.6 1584.2 L706.1 1579.9 L706.6 1574.4 L707.1 1567.5 L707.6 1560.2 L708.1 1553.4 L708.6 1547.6 L709.1 1543.0 L709.6 1539.0 L710.1 1535.8 L710.6 1535.5 L711.1 1540.4 L711.6 1548.8 L712.1 1558.2 L712.6 1567.8 L713.1 1577.5 L713.6 1587.4 L714.1 1597.1 L714.6 1606.3 L715.1 1613.6 L715.6 1618.7 L716.1 1622.5 L716.6 1625.9 L717.1 1628.2 L717.6 1628.5 L718.1 1627.1 L718.6 1625.1 L719.1 1622.8 L719.6 1620.4 L720.1 1617.4 L720.6 1613.8 L721.1 1610.0 L721.6 1606.2 L722.1 1602.5 L722.6 1599.0 L723.1 1595.7 L723.6 1592.6 L724.1 1590.4 L724.6 1590.7 L725.1 1594.2 L725.6 1599.3 L726.1 1603.5 L726.6 1604.3 L727.1 1600.7 L727.6 1594.7 L728.1 1588.1 L728.6 1581.3 L729.1 1574.2 L729.6 1566.8 L730.1 1559.5 L730.6 1553.0 L731.1 1548.2 L731.6 1545.0 L732.1 1543.6 L732.6 1546.1 L733.1 1553.8 L733.6 1564.5 L734.1 1576.2 L734.6 1588.6 L735.1 1601.5 L735.6 1614.6 L736.1 1627.6 L736.6 1639.9 L737.1 1651.1 L737.6 1661.8 L738.1 1672.3 L738.6 1682.7 L739.1 1691.9 L739.6 1698.2 L740.1 1701.3 L740.6 1702.6 L741.1 1703.3 L741.6 1702.5 L742.1 1698.9 L742.6 1693.0 L743.1 1686.5 L743.6 1679.9 L744.1 1673.8 L744.6 1667.9 L745.1 1662.2 L745.6 1656.5 L746.1 1651.0 L746.6 1646.4 L747.1 1643.3 L747.6 1641.1 L748.1 1639.3 L748.6 1638.3 L749.1 1639.3 L749.6 1642.6 L750.1 1647.0 L750.6 1651.2 L751.1 1654.7 L751.6 1656.8 L752.1 1657.2 L752.6 1654.5 L753.1 1648.8 L753.6 1641.7 L754.1 1634.7 L754.6 1628.6 L755.1 1623.6 L755.6 1619.1 L756.1 1614.8 L756.6 1610.8 L757.1 1607.5 L757.6 1604.7 L758.1 1602.0 L758.6 1599.4 L759.1 1596.9 L759.6 1594.8 L760.1 1593.5 L760.6 1592.5 L761.1 1591.6 L761.6 1590.7 L762.1 1590.0 L762.6 1589.5 L763.1 1589.3 L763.6 1589.2 L764.1 1589.2 L764.6 1589.3 L765.1 1589.5 L765.6 1590.0 L766.1 1590.9 L766.6 1592.0 L767.1 1593.1 L767.6 1594.1 L768.1 1594.6 L768.6 1594.4 L769.1 1593.5 L769.6 1592.5 L770.1 1591.4 L770.6 1590.1 L771.2 1588.3 L771.7 1585.4 L772.2 1582.1 L772.7 1578.6 L773.2 1575.1 L773.7 1571.6 L774.2 1568.3 L774.7 1565.1 L775.2 1562.0 L775.7 1558.9 L776.2 1555.9 L776.7 1553.2 L777.2 1551.0 L777.7 1549.3 L778.2 1547.9 L778.7 1546.8 L779.2 1547.2 L779.7 1549.9 L780.2 1554.0 L780.7 1558.2 L781.2 1560.4 L781.7 1559.2 L782.2 1555.7 L782.7 1552.3 L783.2 1549.9 L783.7 1548.2 L784.2 1546.7 L784.7 1545.2 L785.2 1543.8 L785.7 1542.8 L786.2 1542.3 L786.7 1542.1 L787.2 1542.0 L787.7 1542.3 L788.2 1543.2 L788.7 1544.7 L789.2 1546.5 L789.7 1548.8 L790.2 1552.0 L790.7 1556.0 L791.2 1560.3 L791.7 1565.0 L792.2 1570.5 L792.7 1577.6 L793.2 1585.5 L793.7 1593.7 L794.2 1602.4 L794.7 1611.8 L795.2 1621.5 L795.7 1631.1 L796.2 1639.0 L796.7 1643.2 L797.2 1643.4 L797.7 1642.4 L798.2 1642.9 L798.7 1645.5 L799.2 1648.9 L799.7 1652.5 L800.2 1655.5 L800.7 1657.2 L801.2 1657.4 L801.7 1656.8 L802.2 1656.0 L802.7 1655.1 L803.2 1654.3 L803.7 1653.4 L804.2 1652.5 L804.7 1651.6 L805.2 1650.3 L805.7 1647.2 L806.2 1641.2 L806.7 1633.4 L807.2 1625.1 L807.7 1616.8 L808.2 1608.6 L808.7 1601.1 L809.2 1594.2 L809.7 1587.8 L810.2 1581.4 L810.7 1575.4 L811.2 1571.0 L811.7 1570.2 L812.2 1573.3 L812.7 1578.1 L813.2 1582.9 L813.7 1586.6 L814.2 1588.1 L814.7 1588.0 L815.2 1587.6 L815.7 1588.1 L816.2 1590.1 L816.7 1593.0 L817.2 1595.7 L817.7 1597.5 L818.2 1599.2 L818.7 1602.7 L819.2 1609.2 L819.7 1617.5 L820.2 1626.0 L820.7 1633.5 L821.2 1639.5 L821.7 1644.6 L822.2 1649.4 L822.7 1654.2 L823.2 1658.6 L823.7 1662.1 L824.2 1664.5 L824.7 1666.3 L825.2 1667.9 L825.7 1669.3 L826.2 1670.3 L826.7 1671.1 L827.2 1671.7 L827.7 1671.8 L828.2 1671.1 L828.7 1669.8 L829.2 1668.2 L829.7 1666.4 L830.2 1663.8 L830.7 1660.2 L831.2 1656.0 L831.7 1651.6 L832.2 1647.1 L832.7 1642.2 L833.2 1635.9 L833.7 1628.2 L834.2 1619.6 L834.7 1610.8 L835.2 1602.0 L835.7 1593.2 L836.2 1584.3 L836.7 1575.3 L837.2 1566.3 L837.7 1557.4 L838.2 1548.8 L838.7 1542.1 L839.2 1538.8 L839.7 1538.1 L840.2 1538.3 L840.7 1539.2 L841.2 1541.7 L841.7 1546.4 L842.2 1552.4 L842.7 1558.4 L843.2 1564.0 L843.7 1568.9 L844.2 1573.4 L844.7 1577.5 L845.2 1580.0 L845.7 1579.5 L846.2 1576.1 L846.7 1571.3 L847.2 1566.1 L847.7 1560.5 L848.2 1554.6 L848.7 1548.4 L849.2 1542.3 L849.7 1536.3 L850.2 1531.0 L850.7 1526.9 L851.2 1523.7 L851.7 1521.2 L852.2 1520.5 L852.7 1523.1 L853.2 1528.2 L853.7 1534.4 L854.2 1541.2 L854.7 1548.4 L855.2 1555.9 L855.7 1563.5 L856.2 1571.1 L856.7 1579.0 L857.2 1586.8 L857.7 1594.7 L858.2 1602.6 L858.7 1610.2 L859.2 1617.3 L859.7 1623.8 L860.2 1630.0 L860.7 1635.5 L861.2 1639.5 L861.7 1642.0 L862.2 1643.8 L862.7 1645.9 L863.2 1649.3 L863.7 1655.4 L864.2 1663.3 L864.7 1671.5 L865.2 1678.3 L865.7 1681.2 L866.2 1679.1 L866.7 1674.4 L867.2 1669.0 L867.7 1663.4 L868.2 1657.8 L868.7 1653.8 L869.2 1654.3 L869.7 1659.9 L870.2 1668.1 L870.7 1676.5 L871.2 1683.4 L871.7 1687.7 L872.2 1689.5 L872.7 1688.8 L873.2 1685.0 L873.7 1679.1 L874.2 1672.5 L874.7 1665.3 L875.2 1657.3 L875.7 1648.8 L876.2 1640.1 L876.7 1632.2 L877.2 1626.3 L877.7 1623.0 L878.2 1621.1 L878.7 1619.7 L879.2 1618.6 L879.7 1618.1 L880.2 1617.8 L880.7 1617.6 L881.2 1617.3 L881.7 1616.6 L882.2 1615.3 L882.7 1613.1 L883.2 1610.5 L883.7 1607.9 L884.2 1605.3 L884.7 1603.0 L885.2 1601.1 L885.7 1599.6 L886.2 1598.3 L886.7 1597.0 L887.2 1595.4 L887.7 1592.7 L888.2 1588.1 L888.7 1582.2 L889.2 1576.1 L889.7 1570.0 L890.2 1564.1 L890.7 1558.6 L891.2 1553.7 L891.7 1549.3 L892.2 1544.9 L892.7 1540.4 L893.2 1535.8 L893.7 1530.9 L894.2 1525.5 L894.7 1520.0 L895.2 1514.9 L895.7 1511.0 L896.2 1508.5 L896.7 1507.7 L897.2 1509.1 L897.7 1512.6 L898.2 1517.4 L898.7 1523.9 L899.2 1532.9 L899.7 1543.1 L900.2 1553.1 L900.7 1560.7 L901.2 1564.7 L901.7 1566.5 L902.2 1567.5 L902.7 1567.4 L903.2 1565.8 L903.7 1563.1 L904.2 1560.7 L904.7 1559.0 L905.2 1558.0 L905.7 1557.4 L906.2 1557.3 L906.7 1558.1 L907.2 1559.8 L907.7 1562.0 L908.2 1564.1 L908.7 1566.0 L909.2 1567.6 L909.7 1568.9 L910.2 1570.1 L910.7 1571.2 L911.2 1572.0 L911.7 1572.6 L912.2 1573.4 L912.7 1575.3 L913.2 1580.4 L913.7 1589.3 L914.2 1600.1 L914.7 1611.0 L915.2 1621.3 L915.7 1630.6 L916.2 1639.5 L916.7 1647.7 L917.2 1653.6 L917.7 1654.9 L918.2 1652.3 L918.7 1648.2 L919.2 1644.2 L919.7 1641.2 L920.2 1639.7 L920.7 1638.7 L921.2 1637.7 L921.7 1636.7 L922.2 1636.0 L922.7 1636.4 L923.2 1638.0 L923.7 1640.4 L924.2 1642.6 L924.7 1644.3 L925.3 1645.2 L925.8 1645.8 L926.3 1646.2 L926.8 1646.8 L927.3 1647.9 L927.8 1650.3 L928.3 1654.0 L928.8 1658.2 L929.3 1662.5 L929.8 1666.5 L930.3 1670.3 L930.8 1673.4 L931.3 1674.5 L931.8 1672.1 L932.3 1667.6 L932.8 1663.1 L933.3 1660.3 L933.8 1660.6 L934.3 1662.7 L934.8 1665.5 L935.3 1668.3 L935.8 1670.7 L936.3 1671.5 L936.8 1670.1 L937.3 1667.5 L937.8 1664.7 L938.3 1661.7 L938.8 1658.2 L939.3 1653.3 L939.8 1647.2 L940.3 1640.4 L940.8 1633.2 L941.3 1625.4 L941.8 1617.0 L942.3 1608.3 L942.8 1599.6 L943.3 1591.6 L943.8 1584.5 L944.3 1578.2 L944.8 1572.2 L945.3 1566.8 L945.8 1562.9 L946.3 1560.9 L946.8 1560.1 L947.3 1560.1 L947.8 1561.6 L948.3 1565.2 L948.8 1569.9 L949.3 1574.5 L949.8 1578.2 L950.3 1580.5 L950.8 1582.1 L951.3 1583.4 L951.8 1584.6 L952.3 1585.4 L952.8 1585.8 L953.3 1586.1 L953.8 1586.2 L954.3 1585.7 L954.8 1584.0 L955.3 1582.1 L955.8 1581.6 L956.3 1583.6 L956.8 1586.9 L957.3 1590.0 L957.8 1590.8 L958.3 1587.9 L958.8 1583.0 L959.3 1577.5 L959.8 1571.9 L960.3 1566.0 L960.8 1559.9 L961.3 1553.8 L961.8 1548.4 L962.3 1544.6 L962.8 1542.8 L963.3 1543.3 L963.8 1546.9 L964.3 1553.5 L964.8 1561.3 L965.3 1569.5 L965.8 1577.7 L966.3 1585.9 L966.8 1593.8 L967.3 1600.5 L967.8 1605.6 L968.3 1609.6 L968.8 1613.4 L969.3 1617.2 L969.8 1621.0 L970.3 1624.8 L970.8 1628.6 L971.3 1631.8 L971.8 1634.0 L972.3 1635.0 L972.8 1635.3 L973.3 1634.9 L973.8 1632.9 L974.3 1629.2 L974.8 1624.7 L975.3 1619.9 L975.8 1614.2 L976.3 1607.0 L976.8 1598.7 L977.3 1590.2 L977.8 1582.6 L978.3 1576.8 L978.8 1572.4 L979.3 1568.6 L979.8 1565.4 L980.3 1564.1 L980.8 1565.4 L981.3 1568.2 L981.8 1571.4 L982.3 1574.8 L982.8 1578.4 L983.3 1582.1 L983.8 1585.8 L984.3 1589.4 L984.8 1592.8 L985.3 1596.2 L985.8 1599.5 L986.3 1603.2 L986.8 1607.6 L987.3 1612.7 L987.8 1618.1 L988.3 1623.4 L988.8 1628.1 L989.3 1631.6 L989.8 1634.4 L990.3 1636.7 L990.8 1638.4 L991.3 1638.9 L991.8 1638.5 L992.3 1637.8 L992.8 1636.4 L993.3 1633.8 L993.8 1630.5 L994.3 1626.9 L994.8 1623.6 L995.3 1620.7 L995.8 1619.2 L996.3 1620.7 L996.8 1625.1 L997.3 1630.7 L997.8 1636.5 L998.3 1642.2 L998.8 1647.6 L999.3 1652.6 L999.8 1656.1 L1000.3 1656.1 L1000.8 1652.4 L1001.3 1647.0 L1001.8 1641.1 L1002.3 1634.2 L1002.8 1625.7 L1003.3 1616.1 L1003.8 1606.1 L1004.3 1596.3 L1004.8 1586.7 L1005.3 1577.3 L1005.8 1568.0 L1006.3 1559.1 L1006.8 1551.0 L1007.3 1544.2 L1007.8 1538.2 L1008.3 1532.8 L1008.8 1528.9 L1009.3 1527.2 L1009.8 1527.5 L1010.3 1530.0 L1010.8 1535.0 L1011.3 1541.5 L1011.8 1549.0 L1012.3 1557.8 L1012.8 1567.5 L1013.3 1577.2 L1013.8 1586.1 L1014.3 1593.2 L1014.8 1599.2 L1015.3 1604.8 L1015.8 1610.6 L1016.3 1617.1 L1016.8 1624.6 L1017.3 1632.6 L1017.8 1640.3 L1018.3 1647.0 L1018.8 1652.1 L1019.3 1655.9 L1019.8 1658.1 L1020.3 1658.8 L1020.8 1658.6 L1021.3 1658.3 L1021.8 1657.8 L1022.3 1656.9 L1022.8 1655.0 L1023.3 1652.2 L1023.8 1649.0 L1024.3 1645.7 L1024.8 1642.2 L1025.3 1638.6 L1025.8 1634.9 L1026.3 1631.3 L1026.8 1628.1 L1027.3 1625.8 L1027.8 1624.0 L1028.3 1622.3 L1028.8 1620.9 L1029.3 1619.8 L1029.8 1619.2 L1030.3 1618.8 L1030.8 1618.4 L1031.3 1618.0 L1031.8 1617.4 L1032.3 1616.8 L1032.8 1616.1 L1033.3 1615.4 L1033.8 1614.5 L1034.3 1613.3 L1034.8 1611.7 L1035.3 1610.0 L1035.8 1608.3 L1036.3 1606.6 L1036.8 1605.0 L1037.3 1603.8 L1037.8 1602.8 L1038.3 1601.9 L1038.8 1601.1 L1039.3 1600.2 L1039.8 1599.3 L1040.3 1598.4 L1040.8 1597.5 L1041.3 1596.7 L1041.8 1595.8 L1042.3 1594.8 L1042.8 1593.5 L1043.3 1592.0 L1043.8 1590.3 L1044.3 1588.5 L1044.8 1586.7 L1045.3 1584.8 L1045.8 1582.5 L1046.3 1580.0 L1046.8 1577.2 L1047.3 1574.6 L1047.8 1572.3 L1048.3 1570.8 L1048.8 1570.0 L1049.3 1570.9 L1049.8 1574.2 L1050.3 1579.0 L1050.8 1584.0 L1051.3 1588.7 L1051.8 1592.6 L1052.3 1595.7 L1052.8 1597.0 L1053.3 1596.1 L1053.8 1593.9 L1054.3 1591.0 L1054.8 1586.8 L1055.3 1580.9 L1055.8 1573.9 L1056.3 1567.4 L1056.8 1562.1 L1057.3 1557.9 L1057.8 1554.5 L1058.3 1553.7 L1058.8 1557.5 L1059.3 1565.5 L1059.8 1575.1 L1060.3 1585.0 L1060.8 1594.8 L1061.3 1604.3 L1061.8 1613.4 L1062.3 1621.1 L1062.8 1626.8 L1063.3 1631.4 L1063.8 1635.7 L1064.3 1639.7 L1064.8 1643.2 L1065.3 1646.5 L1065.8 1649.4 L1066.3 1651.4 L1066.8 1651.1 L1067.3 1648.7 L1067.8 1645.2 L1068.3 1641.1 L1068.8 1636.2 L1069.3 1630.4 L1069.8 1624.3 L1070.3 1618.6 L1070.8 1614.0 L1071.3 1610.6 L1071.8 1607.8 L1072.3 1604.9 L1072.8 1601.6 L1073.3 1597.4 L1073.8 1592.7 L1074.3 1587.8 L1074.8 1582.8 L1075.3 1577.9 L1075.8 1572.9 L1076.3 1567.9 L1076.8 1563.3 L1077.3 1559.8 L1077.8 1557.6 L1078.3 1556.2 L1078.8 1555.0 L1079.4 1554.3 L1079.9 1554.1 L1080.4 1554.3 L1080.9 1554.9 L1081.4 1556.4 L1081.9 1558.5 L1082.4 1561.0 L1082.9 1564.0 L1083.4 1568.2 L1083.9 1573.7 L1084.4 1582.1 L1084.9 1595.0 L1085.4 1610.5 L1085.9 1623.7 L1086.4 1631.2 L1086.9 1635.0 L1087.4 1637.7 L1087.9 1639.0 L1088.4 1638.3 L1088.9 1636.2 L1089.4 1633.8 L1089.9 1631.5 L1090.4 1629.7 L1090.9 1628.3 L1091.4 1627.1 L1091.9 1626.1 L1092.4 1625.3 L1092.9 1625.0 L1093.4 1625.2 L1093.9 1625.3 L1094.4 1624.9 L1094.9 1623.4 L1095.4 1621.0 L1095.9 1618.2 L1096.4 1614.8 L1096.9 1610.4 L1097.4 1605.3 L1097.9 1599.9 L1098.4 1594.3 L1098.9 1588.5 L1099.4 1582.2 L1099.9 1575.7 L1100.4 1569.2 L1100.9 1563.1 L1101.4 1557.9 L1101.9 1553.6 L1102.4 1549.8 L1102.9 1546.4 L1103.4 1543.9 L1103.9 1542.3 L1104.4 1541.3 L1104.9 1540.8 L1105.4 1541.4 L1105.9 1543.4 L1106.4 1546.4 L1106.9 1551.2 L1107.4 1558.8 L1107.9 1568.3 L1108.4 1578.0 L1108.9 1586.8 L1109.4 1593.8 L1109.9 1599.7 L1110.4 1605.3 L1110.9 1611.1 L1111.4 1617.9 L1111.9 1625.7 L1112.4 1633.7 L1112.9 1640.4 L1113.4 1642.9 L1113.9 1640.3 L1114.4 1635.0 L1114.9 1629.1 L1115.4 1623.3 L1115.9 1617.8 L1116.4 1614.0 L1116.9 1613.9 L1117.4 1618.1 L1117.9 1624.5 L1118.4 1631.3 L1118.9 1638.1 L1119.4 1644.8 L1119.9 1651.4 L1120.4 1658.0 L1120.9 1664.8 L1121.4 1672.2 L1121.9 1680.4 L1122.4 1689.0 L1122.9 1697.1 L1123.4 1703.2 L1123.9 1706.6 L1124.4 1708.3 L1124.9 1709.2 L1125.4 1708.6 L1125.9 1705.7 L1126.4 1701.5 L1126.9 1697.0 L1127.4 1692.3 L1127.9 1687.3 L1128.4 1682.0 L1128.9 1676.5 L1129.4 1671.0 L1129.9 1664.9 L1130.4 1658.1 L1130.9 1650.7 L1131.4 1643.0 L1131.9 1634.5 L1132.4 1624.5 L1132.9 1613.6 L1133.4 1602.8 L1133.9 1593.9 L1134.4 1588.4 L1134.9 1585.3 L1135.4 1583.0 L1135.9 1580.7 L1136.4 1578.4 L1136.9 1576.0 L1137.4 1573.5 L1137.9 1570.8 L1138.4 1567.5 L1138.9 1563.6 L1139.4 1559.5 L1139.9 1556.0 L1140.4 1553.9 L1140.9 1552.8 L1141.4 1552.0 L1141.9 1550.9 L1142.4 1549.0 L1142.9 1546.5 L1143.4 1543.8 L1143.9 1540.6 L1144.4 1535.9 L1144.9 1529.2 L1145.4 1521.4 L1145.9 1513.9 L1146.4 1508.4 L1146.9 1505.7 L1147.4 1504.9 L1147.9 1504.7 L1148.4 1505.7 L1148.9 1508.6 L1149.4 1512.6 L1149.9 1517.0 L1150.4 1521.7 L1150.9 1526.6 L1151.4 1531.4 L1151.9 1535.3 L1152.4 1537.4 L1152.9 1537.6 L1153.4 1536.4 L1153.9 1533.5 L1154.4 1529.3 L1154.9 1524.9 L1155.4 1521.2 L1155.9 1519.1 L1156.4 1518.7 L1156.9 1520.3 L1157.4 1524.9 L1157.9 1531.6 L1158.4 1539.5 L1158.9 1548.6 L1159.4 1559.1 L1159.9 1570.2 L1160.4 1581.5 L1160.9 1592.6 L1161.4 1603.7 L1161.9 1614.7 L1162.4 1625.6 L1162.9 1636.4 L1163.4 1646.8 L1163.9 1656.9 L1164.4 1666.8 L1164.9 1675.9 L1165.4 1683.6 L1165.9 1689.7 L1166.4 1693.6 L1166.9 1694.3 L1167.4 1692.6 L1167.9 1689.6 L1168.4 1685.7 L1168.9 1681.6 L1169.4 1679.3 L1169.9 1680.1 L1170.4 1682.7 L1170.9 1685.8 L1171.4 1688.9 L1171.9 1692.0 L1172.4 1694.4 L1172.9 1695.0 L1173.4 1692.9 L1173.9 1689.5 L1174.4 1686.7 L1174.9 1685.9 L1175.4 1686.8 L1175.9 1688.2 L1176.4 1690.0 L1176.9 1692.1 L1177.4 1694.5 L1177.9 1697.0 L1178.4 1699.9 L1178.9 1703.2 L1179.4 1707.0 L1179.9 1710.6 L1180.4 1713.3 L1180.9 1714.7 L1181.4 1715.2 L1181.9 1714.8 L1182.4 1711.9 L1182.9 1705.3 L1183.4 1696.5 L1183.9 1686.7 L1184.4 1676.2 L1184.9 1665.3 L1185.4 1654.4 L1185.9 1643.7 L1186.4 1633.4 L1186.9 1623.5 L1187.4 1613.7 L1187.9 1603.9 L1188.4 1594.4 L1188.9 1585.1 L1189.4 1576.1 L1189.9 1567.3 L1190.4 1558.6 L1190.9 1550.1 L1191.4 1542.1 L1191.9 1534.3 L1192.4 1526.6 L1192.9 1519.1 L1193.4 1512.0 L1193.9 1505.4 L1194.4 1499.1 L1194.9 1492.8 L1195.4 1486.6 L1195.9 1480.6 L1196.4 1475.2 L1196.9 1471.4 L1197.4 1469.5 L1197.9 1469.0 L1198.4 1470.9 L1198.9 1476.7 L1199.4 1485.1 L1199.9 1494.6 L1200.4 1504.5 L1200.9 1514.3 L1201.4 1523.5 L1201.9 1531.3 L1202.4 1537.7 L1202.9 1543.3 L1203.4 1547.8 L1203.9 1550.7 L1204.4 1552.8 L1204.9 1554.3 L1205.4 1554.6 L1205.9 1553.4 L1206.4 1552.1 L1206.9 1553.5 L1207.4 1558.6 L1207.9 1565.6 L1208.4 1572.6 L1208.9 1578.5 L1209.4 1582.9 L1209.9 1586.4 L1210.4 1589.6 L1210.9 1592.3 L1211.4 1594.2 L1211.9 1595.2 L1212.4 1595.8 L1212.9 1596.0 L1213.4 1595.4 L1213.9 1594.3 L1214.4 1594.5 L1214.9 1597.6 L1215.4 1603.1 L1215.9 1609.4 L1216.4 1615.6 L1216.9 1621.5 L1217.4 1627.1 L1217.9 1632.1 L1218.4 1635.5 L1218.9 1636.9 L1219.4 1637.2 L1219.9 1637.3 L1220.4 1637.4 L1220.9 1637.7 L1221.4 1638.3 L1221.9 1638.9 L1222.4 1639.7 L1222.9 1640.9 L1223.4 1642.4 L1223.9 1644.0 L1224.4 1645.7 L1224.9 1647.8 L1225.4 1650.5 L1225.9 1653.5 L1226.4 1656.6 L1226.9 1659.3 L1227.4 1661.5 L1227.9 1663.0 L1228.4 1663.1 L1228.9 1661.4 L1229.4 1658.5 L1229.9 1655.2 L1230.4 1651.1 L1230.9 1645.9 L1231.4 1640.0 L1231.9 1634.0 L1232.4 1627.9 L1232.9 1621.8 L1233.5 1615.6 L1234.0 1609.4 L1234.5 1603.9 L1235.0 1600.0 L1235.5 1597.9 L1236.0 1597.7 L1236.5 1599.9 L1237.0 1604.1 L1237.5 1609.0 L1238.0 1612.6 L1238.5 1614.2 L1239.0 1614.5 L1239.5 1615.2 L1240.0 1618.0 L1240.5 1624.2 L1241.0 1632.0 L1241.5 1638.8 L1242.0 1643.9 L1242.5 1647.8 L1243.0 1651.4 L1243.5 1654.0 L1244.0 1654.9 L1244.5 1654.0 L1245.0 1652.3 L1245.5 1650.1 L1246.0 1646.9 L1246.5 1643.0 L1247.0 1638.7 L1247.5 1634.0 L1248.0 1628.0 L1248.5 1619.8 L1249.0 1610.2 L1249.5 1600.3 L1250.0 1591.0 L1250.5 1582.6 L1251.0 1574.9 L1251.5 1567.5 L1252.0 1560.9 L1252.5 1555.6 L1253.0 1551.2 L1253.5 1547.1 L1254.0 1543.5 L1254.5 1540.9 L1255.0 1539.8 L1255.5 1539.3 L1256.0 1539.0 L1256.5 1538.5 L1257.0 1537.7 L1257.5 1536.6 L1258.0 1535.3 L1258.5 1533.8 L1259.0 1531.8 L1259.5 1529.5 L1260.0 1527.0 L1260.5 1524.5 L1261.0 1522.1 L1261.5 1519.7 L1262.0 1517.4 L1262.5 1515.7 L1263.0 1516.8 L1263.5 1522.4 L1264.0 1530.8 L1264.5 1540.0 L1265.0 1550.5 L1265.5 1563.2 L1266.0 1577.1 L1266.5 1591.2 L1267.0 1604.7 L1267.5 1616.4 L1268.0 1626.4 L1268.5 1635.4 L1269.0 1644.2 L1269.5 1652.9 L1270.0 1661.6 L1270.5 1670.1 L1271.0 1678.4 L1271.5 1686.6 L1272.0 1694.7 L1272.5 1702.5 L1273.0 1709.5 L1273.5 1716.2 L1274.0 1722.4 L1274.5 1727.1 L1275.0 1729.2 L1275.5 1729.7 L1276.0 1729.2 L1276.5 1727.5 L1277.0 1724.5 L1277.5 1720.7 L1278.0 1715.4 L1278.5 1707.3 L1279.0 1696.3 L1279.5 1684.3 L1280.0 1673.3 L1280.5 1664.8 L1281.0 1659.4 L1281.5 1656.6 L1282.0 1657.0 L1282.5 1659.9 L1283.0 1664.2 L1283.5 1669.1 L1284.0 1674.2 L1284.5 1679.1 L1285.0 1682.2 L1285.5 1681.7 L1286.0 1678.4 L1286.5 1673.8 L1287.0 1668.5 L1287.5 1661.2 L1288.0 1650.8 L1288.5 1638.7 L1289.0 1626.3 L1289.5 1614.3 L1290.0 1602.9 L1290.5 1591.8 L1291.0 1580.9 L1291.5 1570.2 L1292.0 1560.0 L1292.5 1550.3 L1293.0 1541.0 L1293.5 1532.9 L1294.0 1527.1 L1294.5 1523.8 L1295.0 1521.8 L1295.5 1520.1 L1296.0 1518.7 L1296.5 1517.7 L1297.0 1517.3 L1297.5 1518.1 L1298.0 1520.8 L1298.5 1524.8 L1299.0 1529.2 L1299.5 1534.0 L1300.0 1539.0 L1300.5 1543.7 L1301.0 1547.7 L1301.5 1550.4 L1302.0 1552.0 L1302.5 1552.6 L1303.0 1552.0 L1303.5 1550.8 L1304.0 1550.3 L1304.5 1551.2 L1305.0 1553.2 L1305.5 1555.7 L1306.0 1558.8 L1306.5 1562.7 L1307.0 1567.4 L1307.5 1572.3 L1308.0 1576.7 L1308.5 1580.1 L1309.0 1582.7 L1309.5 1584.7 L1310.0 1586.3 L1310.5 1587.4 L1311.0 1588.1 L1311.5 1588.6 L1312.0 1589.0 L1312.5 1589.1 L1313.0 1588.6 L1313.5 1587.1 L1314.0 1584.2 L1314.5 1580.6 L1315.0 1577.3 L1315.5 1574.8 L1316.0 1573.5 L1316.5 1572.8 L1317.0 1572.3 L1317.5 1572.1 L1318.0 1572.4 L1318.5 1573.0 L1319.0 1573.9 L1319.5 1574.8 L1320.0 1575.6 L1320.5 1576.5 L1321.0 1577.4 L1321.5 1578.6 L1322.0 1581.2 L1322.5 1585.8 L1323.0 1591.6 L1323.5 1597.8 L1324.0 1603.9 L1324.5 1610.1 L1325.0 1616.4 L1325.5 1622.9 L1326.0 1629.5 L1326.5 1636.1 L1327.0 1642.4 L1327.5 1647.7 L1328.0 1650.6 L1328.5 1651.3 L1329.0 1651.0 L1329.5 1650.3 L1330.0 1648.8 L1330.5 1646.1 L1331.0 1642.6 L1331.5 1638.6 L1332.0 1633.7 L1332.5 1627.3 L1333.0 1619.7 L1333.5 1611.9 L1334.0 1604.0 L1334.5 1596.4 L1335.0 1589.8 L1335.5 1584.4 L1336.0 1579.9 L1336.5 1575.5 L1337.0 1571.2 L1337.5 1567.4 L1338.0 1564.7 L1338.5 1563.4 L1339.0 1562.7 L1339.5 1562.0 L1340.0 1561.0 L1340.5 1559.2 L1341.0 1556.9 L1341.5 1554.4 L1342.0 1552.3 L1342.5 1552.1 L1343.0 1555.7 L1343.5 1562.9 L1344.0 1572.1 L1344.5 1583.2 L1345.0 1596.6 L1345.5 1611.2 L1346.0 1625.2 L1346.5 1636.0 L1347.0 1642.1 L1347.5 1646.3 L1348.0 1652.2 L1348.5 1660.9 L1349.0 1671.1 L1349.5 1681.1 L1350.0 1689.3 L1350.5 1695.1 L1351.0 1698.5 L1351.5 1699.1 L1352.0 1696.7 L1352.5 1692.9 L1353.0 1689.6 L1353.5 1687.9 L1354.0 1687.2 L1354.5 1686.7 L1355.0 1685.9 L1355.5 1684.2 L1356.0 1681.9 L1356.5 1679.5 L1357.0 1677.1 L1357.5 1675.0 L1358.0 1673.1 L1358.5 1671.5 L1359.0 1670.0 L1359.5 1669.2 L1360.0 1669.3 L1360.5 1669.2 L1361.0 1668.6 L1361.5 1667.9 L1362.0 1666.9 L1362.5 1665.0 L1363.0 1661.1 L1363.5 1655.9 L1364.0 1650.2 L1364.5 1644.0 L1365.0 1636.7 L1365.5 1627.7 L1366.0 1618.0 L1366.5 1608.3 L1367.0 1599.7 L1367.5 1592.5 L1368.0 1586.2 L1368.5 1580.0 L1369.0 1573.8 L1369.5 1567.5 L1370.0 1561.0 L1370.5 1554.1 L1371.0 1547.2 L1371.5 1540.1 L1372.0 1533.1 L1372.5 1526.3 L1373.0 1519.7 L1373.5 1513.3 L1374.0 1507.2 L1374.5 1502.1 L1375.0 1498.9 L1375.5 1497.6 L1376.0 1498.3 L1376.5 1501.6 L1377.0 1506.9 L1377.5 1513.4 L1378.0 1521.2 L1378.5 1529.7 L1379.0 1538.4 L1379.5 1546.9 L1380.0 1554.5 L1380.5 1561.2 L1381.0 1567.4 L1381.5 1573.4 L1382.0 1578.9 L1382.5 1583.7 L1383.0 1587.8 L1383.5 1591.5 L1384.0 1594.7 L1384.5 1597.1 L1385.0 1598.7 L1385.5 1599.9 L1386.0 1600.0 L1386.5 1598.3 L1387.1 1595.1 L1387.6 1591.7 L1388.1 1590.2 L1388.6 1591.8 L1389.1 1595.0 L1389.6 1598.4 L1390.1 1601.5 L1390.6 1603.8 L1391.1 1605.8 L1391.6 1607.6 L1392.1 1609.0 L1392.6 1609.9 L1393.1 1610.6 L1393.6 1611.2 L1394.1 1612.3 L1394.6 1614.5 L1395.1 1617.7 L1395.6 1621.5 L1396.1 1625.6 L1396.6 1630.7 L1397.1 1637.8 L1397.6 1646.1 L1398.1 1654.9 L1398.6 1664.2 L1399.1 1674.0 L1399.6 1683.4 L1400.1 1688.9 L1400.6 1687.7 L1401.1 1682.3 L1401.6 1675.7 L1402.1 1668.7 L1402.6 1660.5 L1403.1 1651.3 L1403.6 1641.5 L1404.1 1632.2 L1404.6 1624.6 L1405.1 1619.0 L1405.6 1614.5 L1406.1 1610.5 L1406.6 1607.6 L1407.1 1606.1 L1407.6 1605.9 L1408.1 1607.5 L1408.6 1610.8 L1409.1 1615.0 L1409.6 1619.2 L1410.1 1623.1 L1410.6 1626.9 L1411.1 1630.6 L1411.6 1633.9 L1412.1 1636.6 L1412.6 1639.0 L1413.1 1641.1 L1413.6 1643.2 L1414.1 1644.3 L1414.6 1642.6 L1415.1 1637.1 L1415.6 1629.5 L1416.1 1621.4 L1416.6 1613.4 L1417.1 1605.6 L1417.6 1597.9 L1418.1 1590.2 L1418.6 1582.7 L1419.1 1575.3 L1419.6 1568.2 L1420.1 1561.2 L1420.6 1554.2 L1421.1 1547.3 L1421.6 1541.3 L1422.1 1536.7 L1422.6 1533.2 L1423.1 1530.1 L1423.6 1527.0 L1424.1 1523.5 L1424.6 1518.9 L1425.1 1512.2 L1425.6 1504.3 L1426.1 1496.6 L1426.6 1490.6 L1427.1 1487.3 L1427.6 1485.9 L1428.1 1485.8 L1428.6 1487.8 L1429.1 1491.6 L1429.6 1496.2 L1430.1 1501.0 L1430.6 1505.6 L1431.1 1510.0 L1431.6 1514.5 L1432.1 1518.9 L1432.6 1523.6 L1433.1 1528.5 L1433.6 1533.4 L1434.1 1538.5 L1434.6 1544.2 L1435.1 1550.9 L1435.6 1558.4 L1436.1 1566.0 L1436.6 1573.2 L1437.1 1579.5 L1437.6 1584.6 L1438.1 1589.1 L1438.6 1592.6 L1439.1 1594.4 L1439.6 1593.9 L1440.1 1593.3 L1440.6 1594.8 L1441.1 1599.1 L1441.6 1604.8 L1442.1 1611.1 L1442.6 1618.0 L1443.1 1625.8 L1443.6 1633.9 L1444.1 1642.1 L1444.6 1649.8 L1445.1 1656.7 L1445.6 1663.0 L1446.1 1669.0 L1446.6 1674.9 L1447.1 1680.2 L1447.6 1684.8 L1448.1 1688.9 L1448.6 1692.5 L1449.1 1694.6 L1449.6 1694.5 L1450.1 1693.2 L1450.6 1691.2 L1451.1 1688.0 L1451.6 1682.8 L1452.1 1676.5 L1452.6 1670.0 L1453.1 1664.0 L1453.6 1659.2 L1454.1 1655.4 L1454.6 1652.4 L1455.1 1650.4 L1455.6 1650.7 L1456.1 1653.2 L1456.6 1656.8 L1457.1 1660.6 L1457.6 1664.1 L1458.1 1667.3 L1458.6 1670.1 L1459.1 1672.6 L1459.6 1673.9 L1460.1 1671.8 L1460.6 1665.3 L1461.1 1656.4 L1461.6 1646.9 L1462.1 1637.3 L1462.6 1627.4 L1463.1 1617.5 L1463.6 1608.0 L1464.1 1599.8 L1464.6 1593.5 L1465.1 1588.3 L1465.6 1584.2 L1466.1 1581.8 L1466.6 1580.6 L1467.1 1579.8 L1467.6 1578.4 L1468.1 1575.9 L1468.6 1572.6 L1469.1 1569.1 L1469.6 1566.2 L1470.1 1564.8 L1470.6 1564.5 L1471.1 1564.7 L1471.6 1564.8 L1472.1 1564.5 L1472.6 1563.4 L1473.1 1561.9 L1473.6 1560.5 L1474.1 1559.2 L1474.6 1558.4 L1475.1 1557.8 L1475.6 1557.5 L1476.1 1558.4 L1476.6 1561.9 L1477.1 1568.1 L1477.6 1575.7 L1478.1 1583.5 L1478.6 1591.2 L1479.1 1598.9 L1479.6 1606.2 L1480.1 1612.0 L1480.6 1615.2 L1481.1 1616.9 L1481.6 1617.7 L1482.1 1616.4 L1482.6 1611.7 L1483.1 1604.9 L1483.6 1597.7 L1484.1 1591.4 L1484.6 1586.9 L1485.1 1583.5 L1485.6 1580.5 L1486.1 1577.9 L1486.6 1576.3 L1487.1 1575.8 L1487.6 1576.0 L1488.1 1576.1 L1488.6 1575.9 L1489.1 1574.9 L1489.6 1573.2 L1490.1 1571.3 L1490.6 1569.6 L1491.1 1569.0 L1491.6 1570.6 L1492.1 1574.5 L1492.6 1579.3 L1493.1 1584.0 L1493.6 1588.1 L1494.1 1591.9 L1494.6 1595.5 L1495.1 1598.3 L1495.6 1600.0 L1496.1 1601.0 L1496.6 1601.8 L1497.1 1602.4 L1497.6 1602.7 L1498.1 1602.6 L1498.6 1602.4 L1499.1 1602.7 L1499.6 1604.0 L1500.1 1606.4 L1500.6 1609.4 L1501.1 1612.5 L1501.6 1615.6 L1502.1 1618.5 L1502.6 1620.9 L1503.1 1621.2 L1503.6 1618.0 L1504.1 1612.4 L1504.6 1606.5 L1505.1 1601.6 L1505.6 1598.7 L1506.1 1597.0 L1506.6 1596.1 L1507.1 1596.7 L1507.6 1600.1 L1508.1 1605.3 L1508.6 1611.3 L1509.1 1617.5 L1509.6 1624.1 L1510.1 1630.5 L1510.6 1635.2 L1511.1 1635.8 L1511.6 1631.8 L1512.1 1625.6 L1512.6 1619.2 L1513.1 1613.5 L1513.6 1608.9 L1514.1 1605.8 L1514.6 1605.5 L1515.1 1607.8 L1515.6 1611.4 L1516.1 1615.4 L1516.6 1620.3 L1517.1 1626.5 L1517.6 1633.7 L1518.1 1641.2 L1518.6 1648.8 L1519.1 1656.4 L1519.6 1664.1 L1520.1 1671.6 L1520.6 1678.5 L1521.1 1683.3 L1521.6 1685.7 L1522.1 1686.5 L1522.6 1686.6 L1523.1 1685.0 L1523.6 1681.5 L1524.1 1676.8 L1524.6 1672.0 L1525.1 1667.5 L1525.6 1663.7 L1526.1 1660.6 L1526.6 1657.8 L1527.1 1655.1 L1527.6 1652.2 L1528.1 1649.2 L1528.6 1646.1 L1529.1 1642.6 L1529.6 1637.6 L1530.1 1630.1 L1530.6 1621.1 L1531.1 1611.8 L1531.6 1602.7 L1532.1 1594.1 L1532.6 1585.8 L1533.1 1577.6 L1533.6 1569.9 L1534.1 1563.2 L1534.6 1557.9 L1535.1 1554.8 L1535.6 1554.9 L1536.1 1557.8 L1536.6 1560.4 L1537.1 1559.5 L1537.6 1555.2 L1538.1 1549.1 L1538.6 1542.6 L1539.1 1536.3 L1539.6 1530.1 L1540.1 1523.6 L1540.6 1516.8 L1541.2 1509.7" fill="none" stroke="#0072BD" stroke-width="3.9" stroke-linejoin="round" stroke-linecap="butt" clip-path="url(#cld)"/>
<path d="M111.7 1527.3 L112.2 1526.4 L112.7 1525.3 L113.2 1524.3 L113.7 1523.5 L114.2 1522.9 L114.7 1522.6 L115.2 1522.4 L115.7 1522.4 L116.2 1522.7 L116.7 1523.6 L117.2 1525.2 L117.7 1527.5 L118.2 1530.5 L118.7 1534.1 L119.2 1537.9 L119.7 1541.8 L120.2 1545.8 L120.7 1549.9 L121.2 1554.3 L121.7 1558.9 L122.2 1563.8 L122.7 1569.1 L123.2 1574.8 L123.7 1581.2 L124.2 1588.3 L124.7 1596.3 L125.2 1604.9 L125.7 1613.5 L126.2 1621.5 L126.7 1628.3 L127.2 1634.0 L127.7 1638.5 L128.2 1642.0 L128.7 1644.2 L129.2 1645.0 L129.7 1644.3 L130.2 1642.2 L130.7 1639.0 L131.2 1635.0 L131.7 1630.5 L132.2 1625.5 L132.7 1620.0 L133.2 1613.9 L133.7 1607.3 L134.2 1600.4 L134.7 1593.7 L135.2 1587.5 L135.7 1582.1 L136.2 1577.5 L136.7 1573.5 L137.2 1570.5 L137.7 1568.6 L138.2 1567.8 L138.7 1568.0 L139.2 1568.9 L139.7 1570.2 L140.2 1571.9 L140.7 1573.9 L141.2 1576.2 L141.7 1578.9 L142.2 1582.1 L142.7 1585.9 L143.2 1590.2 L143.7 1595.0 L144.2 1600.4 L144.7 1606.6 L145.2 1613.7 L145.7 1621.3 L146.2 1629.0 L146.7 1636.4 L147.2 1643.0 L147.7 1649.0 L148.2 1654.1 L148.7 1658.0 L149.2 1660.5 L149.7 1661.4 L150.2 1660.9 L150.7 1659.5 L151.2 1657.5 L151.7 1655.3 L152.2 1653.2 L152.7 1651.4 L153.2 1649.9 L153.7 1648.8 L154.2 1647.8 L154.7 1646.9 L155.2 1646.0 L155.8 1645.2 L156.3 1644.2 L156.8 1643.1 L157.3 1641.8 L157.8 1640.3 L158.3 1638.5 L158.8 1636.3 L159.3 1633.8 L159.8 1630.9 L160.3 1627.4 L160.8 1623.3 L161.3 1618.1 L161.8 1611.6 L162.3 1603.8 L162.8 1594.9 L163.3 1585.2 L163.8 1575.2 L164.3 1565.0 L164.8 1554.7 L165.3 1544.4 L165.8 1534.5 L166.3 1526.0 L166.8 1519.0 L167.3 1513.7 L167.8 1509.7 L168.3 1506.7 L168.8 1504.6 L169.3 1503.4 L169.8 1503.4 L170.3 1504.3 L170.8 1506.1 L171.3 1508.8 L171.8 1512.4 L172.3 1517.4 L172.8 1524.0 L173.3 1532.3 L173.8 1541.8 L174.3 1551.9 L174.8 1562.3 L175.3 1572.7 L175.8 1583.2 L176.3 1593.6 L176.8 1603.7 L177.3 1613.0 L177.8 1621.4 L178.3 1629.0 L178.8 1635.9 L179.3 1641.8 L179.8 1646.5 L180.3 1649.5 L180.8 1650.7 L181.3 1650.2 L181.8 1648.5 L182.3 1645.8 L182.8 1642.4 L183.3 1638.3 L183.8 1633.3 L184.3 1627.1 L184.8 1619.9 L185.3 1611.9 L185.8 1603.5 L186.3 1595.0 L186.8 1586.5 L187.3 1578.0 L187.8 1569.7 L188.3 1562.1 L188.8 1555.6 L189.3 1550.4 L189.8 1546.2 L190.3 1542.9 L190.8 1540.2 L191.3 1538.1 L191.8 1536.6 L192.3 1536.1 L192.8 1536.9 L193.3 1539.1 L193.8 1542.6 L194.3 1547.2 L194.8 1552.7 L195.3 1558.9 L195.8 1565.9 L196.3 1573.8 L196.8 1582.3 L197.3 1591.4 L197.8 1600.9 L198.3 1610.7 L198.8 1620.8 L199.3 1631.1 L199.8 1641.2 L200.3 1650.7 L200.8 1659.4 L201.3 1667.4 L201.8 1674.7 L202.3 1681.2 L202.8 1686.7 L203.3 1691.1 L203.8 1694.4 L204.3 1696.8 L204.8 1698.5 L205.3 1699.5 L205.8 1699.7 L206.3 1698.8 L206.8 1696.7 L207.3 1693.3 L207.8 1688.7 L208.3 1683.0 L208.8 1676.1 L209.3 1668.4 L209.8 1660.5 L210.3 1652.9 L210.8 1645.7 L211.3 1639.1 L211.8 1633.0 L212.3 1627.5 L212.8 1622.7 L213.3 1618.8 L213.8 1615.7 L214.3 1613.1 L214.8 1610.8 L215.3 1608.8 L215.8 1607.0 L216.3 1605.4 L216.8 1603.8 L217.3 1602.4 L217.8 1601.0 L218.3 1599.8 L218.8 1598.7 L219.3 1597.5 L219.8 1596.3 L220.3 1594.9 L220.8 1593.2 L221.3 1591.1 L221.8 1588.5 L222.3 1585.5 L222.8 1582.1 L223.3 1578.6 L223.8 1575.0 L224.3 1571.5 L224.8 1568.0 L225.3 1564.5 L225.8 1560.9 L226.3 1557.4 L226.8 1554.1 L227.3 1551.2 L227.8 1548.9 L228.3 1547.6 L228.8 1547.0 L229.3 1547.2 L229.8 1548.0 L230.3 1549.2 L230.8 1550.8 L231.3 1553.0 L231.8 1555.9 L232.3 1559.9 L232.8 1564.8 L233.3 1570.5 L233.8 1576.5 L234.3 1582.7 L234.8 1589.0 L235.3 1595.3 L235.8 1601.6 L236.3 1607.6 L236.8 1613.1 L237.3 1618.0 L237.8 1622.3 L238.3 1626.2 L238.8 1629.5 L239.3 1632.1 L239.8 1633.8 L240.3 1634.7 L240.8 1634.9 L241.3 1634.7 L241.8 1634.3 L242.3 1633.8 L242.8 1633.2 L243.3 1632.4 L243.8 1631.5 L244.3 1630.3 L244.8 1628.8 L245.3 1627.0 L245.8 1625.0 L246.3 1623.1 L246.8 1621.5 L247.3 1620.3 L247.8 1619.7 L248.3 1619.5 L248.8 1619.7 L249.3 1620.1 L249.8 1620.8 L250.3 1621.9 L250.8 1623.5 L251.3 1626.0 L251.8 1629.5 L252.3 1633.6 L252.8 1638.1 L253.3 1642.6 L253.8 1646.9 L254.3 1651.2 L254.8 1655.3 L255.3 1659.2 L255.8 1662.5 L256.3 1664.9 L256.8 1665.9 L257.3 1665.5 L257.8 1663.4 L258.3 1659.9 L258.8 1655.3 L259.3 1649.8 L259.8 1643.3 L260.3 1635.9 L260.8 1627.6 L261.3 1618.8 L261.8 1609.7 L262.3 1600.7 L262.8 1591.6 L263.3 1582.5 L263.8 1573.9 L264.3 1566.0 L264.8 1559.2 L265.3 1553.5 L265.8 1548.7 L266.3 1544.6 L266.8 1541.0 L267.3 1538.1 L267.8 1536.0 L268.3 1534.8 L268.8 1534.3 L269.3 1534.5 L269.8 1535.0 L270.3 1535.9 L270.8 1537.0 L271.3 1538.5 L271.8 1540.4 L272.3 1543.0 L272.8 1546.5 L273.3 1550.8 L273.8 1555.6 L274.3 1560.9 L274.8 1566.5 L275.3 1572.6 L275.8 1579.2 L276.3 1586.0 L276.8 1592.8 L277.3 1599.2 L277.8 1605.0 L278.3 1609.8 L278.8 1613.9 L279.3 1617.3 L279.8 1620.4 L280.3 1623.1 L280.8 1625.4 L281.3 1627.2 L281.8 1628.4 L282.3 1629.0 L282.8 1629.1 L283.3 1628.8 L283.8 1628.3 L284.3 1627.7 L284.8 1627.0 L285.3 1626.6 L285.8 1626.3 L286.3 1626.4 L286.8 1626.9 L287.3 1627.8 L287.8 1629.1 L288.3 1630.8 L288.8 1632.6 L289.3 1634.6 L289.8 1636.6 L290.3 1638.8 L290.8 1641.1 L291.3 1643.6 L291.8 1646.3 L292.3 1648.9 L292.8 1651.5 L293.3 1653.9 L293.8 1656.2 L294.3 1658.3 L294.8 1660.3 L295.3 1662.2 L295.8 1663.9 L296.3 1665.4 L296.8 1666.5 L297.3 1667.0 L297.8 1666.8 L298.3 1665.6 L298.8 1663.5 L299.3 1660.5 L299.8 1656.7 L300.3 1652.1 L300.8 1646.6 L301.3 1639.9 L301.8 1632.1 L302.3 1623.5 L302.8 1614.5 L303.3 1605.5 L303.8 1596.7 L304.3 1588.0 L304.8 1579.5 L305.3 1571.2 L305.8 1563.0 L306.3 1555.1 L306.8 1547.5 L307.3 1540.1 L307.8 1533.0 L308.3 1526.6 L308.8 1521.0 L309.4 1516.2 L309.9 1512.0 L310.4 1508.3 L310.9 1505.0 L311.4 1502.1 L311.9 1499.8 L312.4 1498.2 L312.9 1497.3 L313.4 1497.1 L313.9 1497.5 L314.4 1498.5 L314.9 1500.0 L315.4 1501.8 L315.9 1504.0 L316.4 1506.7 L316.9 1510.1 L317.4 1514.4 L317.9 1519.7 L318.4 1525.7 L318.9 1532.3 L319.4 1539.1 L319.9 1546.1 L320.4 1553.1 L320.9 1560.4 L321.4 1567.8 L321.9 1575.4 L322.4 1583.1 L322.9 1590.8 L323.4 1598.6 L323.9 1606.3 L324.4 1614.2 L324.9 1622.1 L325.4 1630.0 L325.9 1637.7 L326.4 1645.1 L326.9 1652.1 L327.4 1658.7 L327.9 1664.9 L328.4 1670.7 L328.9 1676.1 L329.4 1680.6 L329.9 1683.9 L330.4 1686.0 L330.9 1687.1 L331.4 1687.6 L331.9 1687.9 L332.4 1688.0 L332.9 1688.1 L333.4 1688.1 L333.9 1688.1 L334.4 1688.1 L334.9 1688.0 L335.4 1687.8 L335.9 1687.7 L336.4 1687.4 L336.9 1686.9 L337.4 1686.0 L337.9 1684.4 L338.4 1682.0 L338.9 1678.8 L339.4 1674.9 L339.9 1670.4 L340.4 1665.3 L340.9 1659.3 L341.4 1652.1 L341.9 1643.5 L342.4 1633.6 L342.9 1623.0 L343.4 1612.1 L343.9 1601.4 L344.4 1590.9 L344.9 1580.5 L345.4 1570.3 L345.9 1560.4 L346.4 1551.0 L346.9 1542.1 L347.4 1533.5 L347.9 1525.4 L348.4 1518.0 L348.9 1511.4 L349.4 1505.7 L349.9 1500.8 L350.4 1496.8 L350.9 1493.7 L351.4 1491.8 L351.9 1491.2 L352.4 1492.2 L352.9 1494.7 L353.4 1498.3 L353.9 1502.7 L354.4 1507.8 L354.9 1513.5 L355.4 1519.9 L355.9 1526.6 L356.4 1533.5 L356.9 1540.1 L357.4 1546.3 L357.9 1552.0 L358.4 1557.3 L358.9 1562.4 L359.4 1567.3 L359.9 1572.1 L360.4 1577.0 L360.9 1581.8 L361.4 1586.8 L361.9 1591.8 L362.4 1596.8 L362.9 1601.8 L363.4 1606.9 L363.9 1611.9 L364.4 1616.9 L364.9 1622.2 L365.4 1627.6 L365.9 1633.4 L366.4 1639.2 L366.9 1644.8 L367.4 1649.7 L367.9 1653.5 L368.4 1655.9 L368.9 1656.9 L369.4 1656.6 L369.9 1655.4 L370.4 1653.7 L370.9 1651.8 L371.4 1650.1 L371.9 1648.6 L372.4 1647.7 L372.9 1647.3 L373.4 1647.3 L373.9 1647.6 L374.4 1648.0 L374.9 1648.5 L375.4 1649.3 L375.9 1650.3 L376.4 1652.0 L376.9 1654.6 L377.4 1658.3 L377.9 1662.8 L378.4 1667.5 L378.9 1671.7 L379.4 1675.2 L379.9 1677.9 L380.4 1680.0 L380.9 1681.6 L381.4 1682.7 L381.9 1683.1 L382.4 1682.4 L382.9 1680.5 L383.4 1677.3 L383.9 1672.9 L384.4 1667.5 L384.9 1661.3 L385.4 1654.0 L385.9 1645.5 L386.4 1635.8 L386.9 1625.4 L387.4 1614.6 L387.9 1603.7 L388.4 1593.0 L388.9 1582.3 L389.4 1571.8 L389.9 1562.0 L390.4 1553.1 L390.9 1545.3 L391.4 1538.4 L391.9 1532.4 L392.4 1527.2 L392.9 1522.7 L393.4 1518.9 L393.9 1515.9 L394.4 1513.3 L394.9 1511.2 L395.4 1509.4 L395.9 1508.3 L396.4 1507.7 L396.9 1507.8 L397.4 1508.6 L397.9 1509.9 L398.4 1511.8 L398.9 1514.1 L399.4 1516.8 L399.9 1520.1 L400.4 1524.0 L400.9 1528.7 L401.4 1533.8 L401.9 1539.3 L402.4 1544.9 L402.9 1550.3 L403.4 1555.6 L403.9 1560.6 L404.4 1565.5 L404.9 1570.4 L405.4 1575.3 L405.9 1580.3 L406.4 1585.5 L406.9 1591.0 L407.4 1596.8 L407.9 1602.9 L408.4 1609.3 L408.9 1616.1 L409.4 1623.1 L409.9 1630.4 L410.4 1638.1 L410.9 1646.1 L411.4 1654.4 L411.9 1662.8 L412.4 1671.3 L412.9 1679.8 L413.4 1688.3 L413.9 1696.8 L414.4 1705.2 L414.9 1713.6 L415.4 1722.0 L415.9 1730.6 L416.4 1739.2 L416.9 1747.4 L417.4 1754.1 L417.9 1758.1 L418.4 1758.5 L418.9 1755.2 L419.4 1748.9 L419.9 1740.3 L420.4 1730.1 L420.9 1718.5 L421.4 1705.7 L421.9 1692.0 L422.4 1677.9 L422.9 1663.9 L423.4 1650.0 L423.9 1636.4 L424.4 1622.8 L424.9 1609.5 L425.4 1596.3 L425.9 1583.2 L426.4 1570.2 L426.9 1557.3 L427.4 1545.1 L427.9 1533.9 L428.4 1524.2 L428.9 1516.2 L429.4 1509.6 L429.9 1504.0 L430.4 1499.4 L430.9 1495.9 L431.4 1493.3 L431.9 1491.5 L432.4 1490.4 L432.9 1489.6 L433.4 1488.9 L433.9 1488.4 L434.4 1488.1 L434.9 1487.9 L435.4 1488.0 L435.9 1488.5 L436.4 1489.5 L436.9 1490.9 L437.4 1492.9 L437.9 1495.5 L438.4 1498.8 L438.9 1503.2 L439.4 1508.7 L439.9 1515.3 L440.4 1522.7 L440.9 1530.4 L441.4 1538.2 L441.9 1546.3 L442.4 1554.5 L442.9 1562.9 L443.4 1571.4 L443.9 1580.0 L444.4 1588.7 L444.9 1597.4 L445.4 1606.1 L445.9 1614.4 L446.4 1622.3 L446.9 1629.4 L447.4 1635.9 L447.9 1641.7 L448.4 1647.0 L448.9 1651.8 L449.4 1656.2 L449.9 1660.3 L450.4 1664.1 L450.9 1667.6 L451.4 1670.8 L451.9 1673.6 L452.4 1675.8 L452.9 1677.6 L453.4 1679.1 L453.9 1680.2 L454.4 1681.2 L454.9 1681.9 L455.4 1682.3 L455.9 1682.1 L456.4 1681.3 L456.9 1679.5 L457.4 1677.0 L457.9 1673.9 L458.4 1670.2 L458.9 1666.1 L459.4 1661.5 L459.9 1656.4 L460.4 1651.3 L460.9 1646.2 L461.4 1641.4 L461.9 1636.9 L462.4 1632.6 L462.9 1628.5 L463.5 1624.6 L464.0 1620.9 L464.5 1617.6 L465.0 1614.5 L465.5 1611.7 L466.0 1609.2 L466.5 1606.9 L467.0 1604.8 L467.5 1602.8 L468.0 1600.9 L468.5 1599.2 L469.0 1597.7 L469.5 1596.3 L470.0 1595.0 L470.5 1593.9 L471.0 1592.8 L471.5 1591.7 L472.0 1590.3 L472.5 1588.5 L473.0 1585.9 L473.5 1582.2 L474.0 1577.4 L474.5 1571.7 L475.0 1565.6 L475.5 1559.6 L476.0 1554.0 L476.5 1548.8 L477.0 1543.9 L477.5 1539.4 L478.0 1535.4 L478.5 1531.9 L479.0 1528.8 L479.5 1526.4 L480.0 1524.5 L480.5 1523.6 L481.0 1523.7 L481.5 1524.9 L482.0 1527.1 L482.5 1530.1 L483.0 1534.1 L483.5 1539.5 L484.0 1546.4 L484.5 1554.9 L485.0 1564.2 L485.5 1573.6 L486.0 1582.5 L486.5 1590.8 L487.0 1598.5 L487.5 1605.8 L488.0 1612.8 L488.5 1619.3 L489.0 1625.3 L489.5 1630.4 L490.0 1634.3 L490.5 1637.0 L491.0 1638.7 L491.5 1639.7 L492.0 1639.9 L492.5 1639.0 L493.0 1636.6 L493.5 1632.3 L494.0 1626.5 L494.5 1620.1 L495.0 1613.6 L495.5 1607.5 L496.0 1601.8 L496.5 1596.7 L497.0 1592.3 L497.5 1588.7 L498.0 1586.1 L498.5 1584.2 L499.0 1583.2 L499.5 1583.0 L500.0 1583.9 L500.5 1585.7 L501.0 1588.5 L501.5 1592.0 L502.0 1596.4 L502.5 1601.8 L503.0 1608.0 L503.5 1614.9 L504.0 1622.1 L504.5 1629.4 L505.0 1636.6 L505.5 1643.7 L506.0 1650.6 L506.5 1657.3 L507.0 1663.5 L507.5 1669.2 L508.0 1674.3 L508.5 1678.8 L509.0 1682.4 L509.5 1684.9 L510.0 1686.1 L510.5 1686.3 L511.0 1685.9 L511.5 1685.0 L512.0 1683.7 L512.5 1681.7 L513.0 1678.6 L513.5 1673.5 L514.0 1666.0 L514.5 1656.6 L515.0 1646.3 L515.5 1636.2 L516.0 1626.6 L516.5 1617.7 L517.0 1609.3 L517.5 1601.7 L518.0 1595.0 L518.5 1589.0 L519.0 1583.7 L519.5 1579.0 L520.0 1574.8 L520.5 1571.4 L521.0 1568.5 L521.5 1566.1 L522.0 1564.0 L522.5 1562.2 L523.0 1560.8 L523.5 1559.6 L524.0 1558.9 L524.5 1558.6 L525.0 1558.5 L525.5 1558.7 L526.0 1559.0 L526.5 1559.4 L527.0 1560.0 L527.5 1560.8 L528.0 1562.0 L528.5 1563.8 L529.0 1566.2 L529.5 1569.1 L530.0 1572.4 L530.5 1576.0 L531.0 1579.9 L531.5 1584.2 L532.0 1588.8 L532.5 1593.6 L533.0 1598.6 L533.5 1603.7 L534.0 1608.8 L534.5 1614.0 L535.0 1619.1 L535.5 1624.0 L536.0 1628.7 L536.5 1633.2 L537.0 1637.3 L537.5 1640.9 L538.0 1643.6 L538.5 1645.3 L539.0 1645.7 L539.5 1645.2 L540.0 1644.0 L540.5 1642.3 L541.0 1640.0 L541.5 1636.8 L542.0 1632.3 L542.5 1626.3 L543.0 1618.9 L543.5 1610.7 L544.0 1601.9 L544.5 1593.0 L545.0 1584.2 L545.5 1576.1 L546.0 1569.3 L546.5 1564.0 L547.0 1560.0 L547.5 1556.8 L548.0 1554.1 L548.5 1552.1 L549.0 1550.8 L549.5 1550.2 L550.0 1550.5 L550.5 1551.8 L551.0 1553.9 L551.5 1556.8 L552.0 1560.3 L552.5 1564.3 L553.0 1568.9 L553.5 1574.2 L554.0 1580.0 L554.5 1585.9 L555.0 1591.8 L555.5 1597.4 L556.0 1602.8 L556.5 1607.8 L557.0 1612.1 L557.5 1615.6 L558.0 1618.2 L558.5 1620.2 L559.0 1621.6 L559.5 1622.6 L560.0 1623.0 L560.5 1622.9 L561.0 1622.0 L561.5 1620.4 L562.0 1618.3 L562.5 1615.7 L563.0 1612.6 L563.5 1609.0 L564.0 1604.6 L564.5 1599.7 L565.0 1594.5 L565.5 1589.3 L566.0 1584.4 L566.5 1579.7 L567.0 1575.4 L567.5 1571.3 L568.0 1567.4 L568.5 1563.6 L569.0 1560.0 L569.5 1556.5 L570.0 1553.2 L570.5 1550.1 L571.0 1547.3 L571.5 1544.9 L572.0 1542.8 L572.5 1541.0 L573.0 1539.5 L573.5 1538.1 L574.0 1537.1 L574.5 1536.4 L575.0 1536.3 L575.5 1536.7 L576.0 1537.7 L576.5 1539.2 L577.0 1541.3 L577.5 1543.7 L578.0 1546.5 L578.5 1549.9 L579.0 1553.8 L579.5 1558.5 L580.0 1563.9 L580.5 1569.5 L581.0 1575.2 L581.5 1580.8 L582.0 1586.2 L582.5 1591.5 L583.0 1596.6 L583.5 1601.4 L584.0 1606.0 L584.5 1610.3 L585.0 1614.4 L585.5 1618.2 L586.0 1621.5 L586.5 1624.4 L587.0 1626.6 L587.5 1628.3 L588.0 1629.6 L588.5 1630.7 L589.0 1631.5 L589.5 1632.0 L590.0 1632.2 L590.5 1632.1 L591.0 1631.8 L591.5 1631.4 L592.0 1630.8 L592.5 1630.1 L593.0 1629.3 L593.5 1628.4 L594.0 1627.4 L594.5 1626.3 L595.0 1625.3 L595.5 1624.5 L596.0 1623.8 L596.5 1623.2 L597.0 1622.8 L597.5 1622.5 L598.0 1622.4 L598.5 1622.7 L599.0 1623.7 L599.5 1625.5 L600.0 1628.0 L600.5 1630.9 L601.0 1633.9 L601.5 1636.8 L602.0 1639.4 L602.5 1641.7 L603.0 1643.9 L603.5 1646.0 L604.0 1648.0 L604.5 1649.8 L605.0 1651.4 L605.5 1652.8 L606.0 1654.1 L606.5 1655.2 L607.0 1656.2 L607.5 1657.1 L608.0 1658.0 L608.5 1659.0 L609.0 1660.0 L609.5 1661.0 L610.0 1662.1 L610.5 1663.2 L611.0 1664.3 L611.5 1665.5 L612.0 1666.9 L612.5 1668.5 L613.0 1670.4 L613.5 1672.7 L614.0 1675.5 L614.5 1678.8 L615.0 1682.3 L615.5 1686.2 L616.0 1690.2 L616.5 1694.4 L617.0 1698.8 L617.6 1703.2 L618.1 1707.6 L618.6 1711.6 L619.1 1715.4 L619.6 1719.0 L620.1 1722.2 L620.6 1724.9 L621.1 1727.0 L621.6 1728.2 L622.1 1728.5 L622.6 1728.1 L623.1 1727.1 L623.6 1725.5 L624.1 1723.2 L624.6 1719.6 L625.1 1714.2 L625.6 1706.7 L626.1 1697.4 L626.6 1687.0 L627.1 1676.3 L627.6 1665.3 L628.1 1654.0 L628.6 1642.1 L629.1 1629.5 L629.6 1616.1 L630.1 1601.8 L630.6 1587.1 L631.1 1572.6 L631.6 1558.8 L632.1 1545.7 L632.6 1533.6 L633.1 1522.5 L633.6 1512.6 L634.1 1503.8 L634.6 1496.1 L635.1 1489.3 L635.6 1483.5 L636.1 1478.6 L636.6 1474.6 L637.1 1471.4 L637.6 1468.7 L638.1 1466.4 L638.6 1464.5 L639.1 1463.0 L639.6 1461.7 L640.1 1460.8 L640.6 1460.1 L641.1 1459.6 L641.6 1459.3 L642.1 1459.4 L642.6 1459.9 L643.1 1461.0 L643.6 1462.8 L644.1 1465.1 L644.6 1467.9 L645.1 1471.3 L645.6 1475.3 L646.1 1480.0 L646.6 1485.2 L647.1 1490.8 L647.6 1496.7 L648.1 1502.9 L648.6 1509.3 L649.1 1515.9 L649.6 1522.7 L650.1 1529.6 L650.6 1536.4 L651.1 1543.3 L651.6 1550.1 L652.1 1556.9 L652.6 1563.5 L653.1 1569.7 L653.6 1575.6 L654.1 1581.2 L654.6 1586.4 L655.1 1591.5 L655.6 1596.4 L656.1 1601.2 L656.6 1606.1 L657.1 1611.0 L657.6 1615.9 L658.1 1621.0 L658.6 1626.0 L659.1 1631.1 L659.6 1636.1 L660.1 1641.1 L660.6 1646.0 L661.1 1650.9 L661.6 1655.7 L662.1 1660.6 L662.6 1665.4 L663.1 1670.1 L663.6 1674.6 L664.1 1678.8 L664.6 1682.6 L665.1 1686.1 L665.6 1689.3 L666.1 1692.2 L666.6 1694.9 L667.1 1697.4 L667.6 1699.5 L668.1 1701.4 L668.6 1703.0 L669.1 1704.4 L669.6 1705.5 L670.1 1706.1 L670.6 1705.9 L671.1 1704.6 L671.6 1702.2 L672.1 1698.6 L672.6 1694.4 L673.1 1689.4 L673.6 1684.0 L674.1 1678.0 L674.6 1671.7 L675.1 1665.3 L675.6 1658.8 L676.1 1652.2 L676.6 1645.6 L677.1 1638.9 L677.6 1632.1 L678.1 1625.4 L678.6 1618.5 L679.1 1611.7 L679.6 1604.9 L680.1 1598.2 L680.6 1591.7 L681.1 1585.5 L681.6 1579.6 L682.1 1574.0 L682.6 1568.7 L683.1 1563.7 L683.6 1559.3 L684.1 1555.3 L684.6 1551.8 L685.1 1548.6 L685.6 1545.8 L686.1 1543.5 L686.6 1541.9 L687.1 1540.8 L687.6 1540.2 L688.1 1539.9 L688.6 1540.0 L689.1 1540.6 L689.6 1541.9 L690.1 1544.1 L690.6 1546.9 L691.1 1550.1 L691.6 1553.7 L692.1 1557.5 L692.6 1561.7 L693.1 1566.0 L693.6 1570.5 L694.1 1574.8 L694.6 1578.9 L695.1 1582.7 L695.6 1586.3 L696.1 1589.7 L696.6 1592.9 L697.1 1595.9 L697.6 1598.5 L698.1 1600.9 L698.6 1602.9 L699.1 1604.6 L699.6 1606.1 L700.1 1607.3 L700.6 1608.2 L701.1 1608.5 L701.6 1608.1 L702.1 1606.7 L702.6 1604.4 L703.1 1601.4 L703.6 1597.9 L704.1 1593.9 L704.6 1589.5 L705.1 1584.7 L705.6 1579.6 L706.1 1574.4 L706.6 1569.6 L707.1 1565.3 L707.6 1561.6 L708.1 1558.3 L708.6 1555.5 L709.1 1553.2 L709.6 1551.5 L710.1 1550.4 L710.6 1549.8 L711.1 1549.5 L711.6 1549.5 L712.1 1550.1 L712.6 1551.4 L713.1 1553.5 L713.6 1556.3 L714.1 1559.5 L714.6 1563.1 L715.1 1567.1 L715.6 1571.4 L716.1 1576.1 L716.6 1581.3 L717.1 1587.0 L717.6 1593.4 L718.1 1600.3 L718.6 1607.3 L719.1 1613.5 L719.6 1617.9 L720.1 1620.3 L720.6 1621.0 L721.1 1621.0 L721.6 1620.5 L722.1 1619.9 L722.6 1619.2 L723.1 1618.4 L723.6 1617.4 L724.1 1616.3 L724.6 1614.8 L725.1 1612.9 L725.6 1610.4 L726.1 1607.3 L726.6 1603.8 L727.1 1600.3 L727.6 1596.8 L728.1 1593.4 L728.6 1590.2 L729.1 1587.2 L729.6 1584.5 L730.1 1582.3 L730.6 1580.5 L731.1 1579.3 L731.6 1578.3 L732.1 1577.7 L732.6 1577.5 L733.1 1577.8 L733.6 1578.8 L734.1 1580.4 L734.6 1582.7 L735.1 1585.5 L735.6 1588.6 L736.1 1592.1 L736.6 1596.1 L737.1 1600.5 L737.6 1605.1 L738.1 1609.9 L738.6 1614.7 L739.1 1619.6 L739.6 1624.5 L740.1 1629.6 L740.6 1634.7 L741.1 1639.8 L741.6 1645.0 L742.1 1650.3 L742.6 1655.5 L743.1 1660.5 L743.6 1665.2 L744.1 1669.4 L744.6 1673.2 L745.1 1676.7 L745.6 1679.7 L746.1 1682.1 L746.6 1683.7 L747.1 1684.6 L747.6 1684.9 L748.1 1684.8 L748.6 1684.5 L749.1 1684.1 L749.6 1683.4 L750.1 1682.4 L750.6 1681.0 L751.1 1679.0 L751.6 1676.6 L752.1 1673.7 L752.6 1670.3 L753.1 1666.5 L753.6 1662.0 L754.1 1657.0 L754.6 1651.8 L755.1 1646.7 L755.6 1641.9 L756.1 1637.3 L756.6 1633.1 L757.1 1629.2 L757.6 1625.7 L758.1 1622.7 L758.6 1620.2 L759.1 1618.3 L759.6 1616.7 L760.1 1615.3 L760.6 1614.0 L761.1 1612.9 L761.6 1611.9 L762.1 1611.0 L762.6 1610.0 L763.1 1609.2 L763.6 1608.4 L764.1 1607.7 L764.6 1606.9 L765.1 1606.2 L765.6 1605.5 L766.1 1604.8 L766.6 1604.1 L767.1 1603.4 L767.6 1602.7 L768.1 1602.0 L768.6 1601.3 L769.1 1600.6 L769.6 1599.7 L770.1 1598.8 L770.6 1597.6 L771.2 1596.1 L771.7 1594.2 L772.2 1591.8 L772.7 1589.0 L773.2 1586.1 L773.7 1583.0 L774.2 1580.0 L774.7 1577.3 L775.2 1574.8 L775.7 1572.4 L776.2 1570.2 L776.7 1568.1 L777.2 1566.1 L777.7 1564.2 L778.2 1562.5 L778.7 1560.8 L779.2 1559.2 L779.7 1557.6 L780.2 1556.2 L780.7 1554.8 L781.2 1553.6 L781.7 1552.5 L782.2 1551.7 L782.7 1551.0 L783.2 1550.4 L783.7 1550.0 L784.2 1549.6 L784.7 1549.4 L785.2 1549.3 L785.7 1549.5 L786.2 1550.0 L786.7 1550.8 L787.2 1551.9 L787.7 1553.4 L788.2 1555.1 L788.7 1557.3 L789.2 1560.1 L789.7 1563.5 L790.2 1567.7 L790.7 1572.4 L791.2 1577.5 L791.7 1583.0 L792.2 1588.8 L792.7 1594.9 L793.2 1601.1 L793.7 1607.2 L794.2 1612.9 L794.7 1618.2 L795.2 1623.1 L795.7 1627.5 L796.2 1631.5 L796.7 1635.1 L797.2 1638.1 L797.7 1640.8 L798.2 1643.1 L798.7 1645.1 L799.2 1646.8 L799.7 1648.2 L800.2 1649.4 L800.7 1650.3 L801.2 1651.1 L801.7 1651.7 L802.2 1652.0 L802.7 1651.9 L803.2 1651.0 L803.7 1649.4 L804.2 1647.1 L804.7 1644.0 L805.2 1640.1 L805.7 1635.2 L806.2 1629.5 L806.7 1623.2 L807.2 1617.0 L807.7 1611.1 L808.2 1605.6 L808.7 1600.6 L809.2 1596.1 L809.7 1592.3 L810.2 1589.2 L810.7 1586.8 L811.2 1584.9 L811.7 1583.5 L812.2 1582.3 L812.7 1581.7 L813.2 1581.5 L813.7 1582.1 L814.2 1583.3 L814.7 1585.3 L815.2 1587.8 L815.7 1590.7 L816.2 1594.0 L816.7 1597.9 L817.2 1602.3 L817.7 1607.2 L818.2 1612.6 L818.7 1618.3 L819.2 1624.4 L819.7 1630.8 L820.2 1637.5 L820.7 1644.2 L821.2 1650.9 L821.7 1657.4 L822.2 1663.6 L822.7 1669.4 L823.2 1674.7 L823.7 1679.3 L824.2 1683.0 L824.7 1685.7 L825.2 1687.7 L825.7 1689.1 L826.2 1690.0 L826.7 1690.2 L827.2 1689.7 L827.7 1688.6 L828.2 1686.7 L828.7 1684.3 L829.2 1681.1 L829.7 1676.9 L830.2 1671.5 L830.7 1664.6 L831.2 1656.6 L831.7 1647.6 L832.2 1638.1 L832.7 1627.9 L833.2 1617.5 L833.7 1607.3 L834.2 1597.8 L834.7 1589.3 L835.2 1581.9 L835.7 1575.4 L836.2 1569.8 L836.7 1565.1 L837.2 1561.0 L837.7 1557.6 L838.2 1554.9 L838.7 1552.9 L839.2 1551.6 L839.7 1550.9 L840.2 1550.5 L840.7 1550.3 L841.2 1550.2 L841.7 1550.1 L842.2 1550.2 L842.7 1550.5 L843.2 1551.0 L843.7 1551.5 L844.2 1552.2 L844.7 1552.8 L845.2 1553.2 L845.7 1553.5 L846.2 1553.6 L846.7 1553.5 L847.2 1553.2 L847.7 1552.9 L848.2 1552.4 L848.7 1552.0 L849.2 1551.4 L849.7 1550.8 L850.2 1550.1 L850.7 1549.3 L851.2 1548.5 L851.7 1547.6 L852.2 1546.7 L852.7 1546.1 L853.2 1545.7 L853.7 1545.6 L854.2 1545.7 L854.7 1546.2 L855.2 1546.8 L855.7 1547.7 L856.2 1548.8 L856.7 1550.3 L857.2 1552.1 L857.7 1554.5 L858.2 1557.3 L858.7 1560.4 L859.2 1564.0 L859.7 1568.0 L860.2 1572.5 L860.7 1577.4 L861.2 1582.5 L861.7 1587.8 L862.2 1593.0 L862.7 1598.1 L863.2 1603.2 L863.7 1608.2 L864.2 1613.2 L864.7 1618.3 L865.2 1623.3 L865.7 1628.5 L866.2 1633.7 L866.7 1638.7 L867.2 1643.6 L867.7 1648.2 L868.2 1652.5 L868.7 1656.5 L869.2 1660.2 L869.7 1663.6 L870.2 1666.5 L870.7 1668.9 L871.2 1670.9 L871.7 1672.6 L872.2 1674.0 L872.7 1675.1 L873.2 1675.8 L873.7 1676.1 L874.2 1675.8 L874.7 1675.1 L875.2 1674.1 L875.7 1672.7 L876.2 1671.0 L876.7 1668.9 L877.2 1666.4 L877.7 1663.4 L878.2 1660.0 L878.7 1656.4 L879.2 1652.9 L879.7 1649.4 L880.2 1646.1 L880.7 1642.8 L881.2 1639.5 L881.7 1636.0 L882.2 1632.2 L882.7 1628.0 L883.2 1623.4 L883.7 1618.5 L884.2 1613.4 L884.7 1608.2 L885.2 1603.1 L885.7 1598.0 L886.2 1593.0 L886.7 1587.9 L887.2 1582.9 L887.7 1577.9 L888.2 1572.9 L888.7 1567.8 L889.2 1562.7 L889.7 1557.6 L890.2 1552.7 L890.7 1547.8 L891.2 1543.1 L891.7 1538.4 L892.2 1534.0 L892.7 1529.9 L893.2 1526.4 L893.7 1523.6 L894.2 1521.5 L894.7 1519.9 L895.2 1518.6 L895.7 1517.7 L896.2 1517.1 L896.7 1516.9 L897.2 1517.0 L897.7 1517.6 L898.2 1518.5 L898.7 1519.7 L899.2 1521.3 L899.7 1523.5 L900.2 1526.3 L900.7 1529.8 L901.2 1533.9 L901.7 1538.2 L902.2 1542.4 L902.7 1546.3 L903.2 1550.0 L903.7 1553.4 L904.2 1556.8 L904.7 1560.1 L905.2 1563.3 L905.7 1566.6 L906.2 1570.0 L906.7 1573.3 L907.2 1576.6 L907.7 1580.0 L908.2 1583.4 L908.7 1586.8 L909.2 1590.2 L909.7 1593.6 L910.2 1596.9 L910.7 1600.0 L911.2 1603.0 L911.7 1605.8 L912.2 1608.5 L912.7 1611.0 L913.2 1613.5 L913.7 1615.9 L914.2 1618.3 L914.7 1620.8 L915.2 1623.3 L915.7 1625.8 L916.2 1628.4 L916.7 1630.9 L917.2 1633.4 L917.7 1635.9 L918.2 1638.3 L918.7 1640.6 L919.2 1642.8 L919.7 1644.9 L920.2 1646.9 L920.7 1648.8 L921.2 1650.8 L921.7 1652.7 L922.2 1654.8 L922.7 1657.0 L923.2 1659.3 L923.7 1661.7 L924.2 1664.2 L924.7 1666.8 L925.3 1669.3 L925.8 1671.9 L926.3 1674.4 L926.8 1676.9 L927.3 1679.4 L927.8 1681.9 L928.3 1684.3 L928.8 1686.6 L929.3 1688.8 L929.8 1690.7 L930.3 1692.5 L930.8 1694.0 L931.3 1695.3 L931.8 1696.5 L932.3 1697.4 L932.8 1697.9 L933.3 1697.9 L933.8 1697.3 L934.3 1695.9 L934.8 1693.9 L935.3 1691.2 L935.8 1687.6 L936.3 1683.0 L936.8 1677.4 L937.3 1671.0 L937.8 1664.3 L938.3 1657.4 L938.8 1650.5 L939.3 1643.7 L939.8 1636.9 L940.3 1630.4 L940.8 1624.2 L941.3 1618.3 L941.8 1612.7 L942.3 1607.5 L942.8 1602.5 L943.3 1597.9 L943.8 1593.7 L944.3 1589.7 L944.8 1585.9 L945.3 1582.6 L945.8 1579.8 L946.3 1577.8 L946.8 1576.5 L947.3 1575.7 L947.8 1575.4 L948.3 1575.4 L948.8 1575.7 L949.3 1576.6 L949.8 1577.9 L950.3 1579.5 L950.8 1581.2 L951.3 1582.7 L951.8 1583.9 L952.3 1584.9 L952.8 1585.8 L953.3 1586.4 L953.8 1586.8 L954.3 1586.9 L954.8 1586.7 L955.3 1586.1 L955.8 1585.2 L956.3 1584.1 L956.8 1582.8 L957.3 1581.5 L957.8 1580.1 L958.3 1578.6 L958.8 1577.0 L959.3 1575.4 L959.8 1573.8 L960.3 1572.3 L960.8 1571.0 L961.3 1569.7 L961.8 1568.6 L962.3 1567.5 L962.8 1566.5 L963.3 1565.7 L963.8 1565.2 L964.3 1565.0 L964.8 1565.2 L965.3 1566.1 L965.8 1567.4 L966.3 1569.2 L966.8 1571.3 L967.3 1573.6 L967.8 1576.0 L968.3 1578.6 L968.8 1581.3 L969.3 1584.1 L969.8 1586.8 L970.3 1589.2 L970.8 1591.3 L971.3 1593.1 L971.8 1594.6 L972.3 1595.8 L972.8 1596.7 L973.3 1597.2 L973.8 1597.1 L974.3 1596.4 L974.8 1595.1 L975.3 1593.5 L975.8 1591.7 L976.3 1589.8 L976.8 1587.7 L977.3 1585.6 L977.8 1583.4 L978.3 1581.4 L978.8 1579.7 L979.3 1578.3 L979.8 1577.3 L980.3 1576.5 L980.8 1575.9 L981.3 1575.5 L981.8 1575.4 L982.3 1575.5 L982.8 1576.1 L983.3 1577.2 L983.8 1578.7 L984.3 1580.6 L984.8 1582.7 L985.3 1585.1 L985.8 1587.9 L986.3 1591.1 L986.8 1594.5 L987.3 1598.0 L987.8 1601.6 L988.3 1605.1 L988.8 1608.5 L989.3 1611.9 L989.8 1615.3 L990.3 1618.5 L990.8 1621.7 L991.3 1624.8 L991.8 1627.8 L992.3 1630.6 L992.8 1633.2 L993.3 1635.4 L993.8 1637.3 L994.3 1638.8 L994.8 1640.2 L995.3 1641.3 L995.8 1642.0 L996.3 1642.4 L996.8 1642.2 L997.3 1641.5 L997.8 1640.2 L998.3 1638.4 L998.8 1636.3 L999.3 1633.9 L999.8 1631.2 L1000.3 1628.1 L1000.8 1624.5 L1001.3 1620.7 L1001.8 1616.7 L1002.3 1612.6 L1002.8 1608.3 L1003.3 1603.9 L1003.8 1599.5 L1004.3 1595.1 L1004.8 1591.0 L1005.3 1587.1 L1005.8 1583.5 L1006.3 1580.1 L1006.8 1577.0 L1007.3 1574.2 L1007.8 1571.8 L1008.3 1569.7 L1008.8 1567.9 L1009.3 1566.4 L1009.8 1565.0 L1010.3 1563.9 L1010.8 1562.9 L1011.3 1562.1 L1011.8 1561.5 L1012.3 1561.1 L1012.8 1561.0 L1013.3 1561.4 L1013.8 1562.1 L1014.3 1563.3 L1014.8 1564.8 L1015.3 1566.6 L1015.8 1568.7 L1016.3 1571.1 L1016.8 1573.9 L1017.3 1577.2 L1017.8 1580.9 L1018.3 1585.2 L1018.8 1590.2 L1019.3 1595.9 L1019.8 1602.2 L1020.3 1608.4 L1020.8 1613.9 L1021.3 1618.4 L1021.8 1622.0 L1022.3 1625.0 L1022.8 1627.4 L1023.3 1629.3 L1023.8 1630.7 L1024.3 1631.8 L1024.8 1632.5 L1025.3 1632.9 L1025.8 1633.1 L1026.3 1633.0 L1026.8 1632.6 L1027.3 1632.0 L1027.8 1631.2 L1028.3 1630.4 L1028.8 1629.4 L1029.3 1628.5 L1029.8 1627.7 L1030.3 1626.9 L1030.8 1626.1 L1031.3 1625.4 L1031.8 1624.6 L1032.3 1623.9 L1032.8 1623.1 L1033.3 1622.4 L1033.8 1621.6 L1034.3 1620.8 L1034.8 1620.0 L1035.3 1619.2 L1035.8 1618.4 L1036.3 1617.6 L1036.8 1616.8 L1037.3 1616.0 L1037.8 1615.2 L1038.3 1614.4 L1038.8 1613.6 L1039.3 1612.8 L1039.8 1612.0 L1040.3 1611.2 L1040.8 1610.4 L1041.3 1609.6 L1041.8 1608.8 L1042.3 1608.0 L1042.8 1607.2 L1043.3 1606.4 L1043.8 1605.6 L1044.3 1604.9 L1044.8 1604.1 L1045.3 1603.3 L1045.8 1602.6 L1046.3 1601.8 L1046.8 1600.9 L1047.3 1600.1 L1047.8 1599.2 L1048.3 1598.2 L1048.8 1597.2 L1049.3 1596.1 L1049.8 1594.9 L1050.3 1593.7 L1050.8 1592.5 L1051.3 1591.2 L1051.8 1589.9 L1052.3 1588.5 L1052.8 1587.0 L1053.3 1585.4 L1053.8 1583.7 L1054.3 1582.1 L1054.8 1580.7 L1055.3 1579.8 L1055.8 1579.4 L1056.3 1579.6 L1056.8 1580.1 L1057.3 1580.9 L1057.8 1582.0 L1058.3 1583.4 L1058.8 1585.1 L1059.3 1587.2 L1059.8 1589.7 L1060.3 1592.5 L1060.8 1595.4 L1061.3 1598.3 L1061.8 1601.3 L1062.3 1604.2 L1062.8 1607.1 L1063.3 1610.0 L1063.8 1612.8 L1064.3 1615.4 L1064.8 1617.9 L1065.3 1620.3 L1065.8 1622.5 L1066.3 1624.6 L1066.8 1626.6 L1067.3 1628.5 L1067.8 1630.0 L1068.3 1631.1 L1068.8 1631.6 L1069.3 1631.5 L1069.8 1630.7 L1070.3 1629.3 L1070.8 1627.3 L1071.3 1625.0 L1071.8 1622.3 L1072.3 1619.2 L1072.8 1615.8 L1073.3 1611.9 L1073.8 1607.7 L1074.3 1603.4 L1074.8 1599.1 L1075.3 1594.9 L1075.8 1590.6 L1076.3 1586.5 L1076.8 1582.6 L1077.3 1578.9 L1077.8 1575.5 L1078.3 1572.4 L1078.8 1569.6 L1079.4 1567.1 L1079.9 1565.1 L1080.4 1563.6 L1080.9 1562.7 L1081.4 1562.1 L1081.9 1561.9 L1082.4 1562.1 L1082.9 1562.8 L1083.4 1564.2 L1083.9 1566.3 L1084.4 1569.1 L1084.9 1572.3 L1085.4 1575.8 L1085.9 1579.7 L1086.4 1584.0 L1086.9 1588.7 L1087.4 1593.5 L1087.9 1598.4 L1088.4 1603.1 L1088.9 1607.7 L1089.4 1612.2 L1089.9 1616.4 L1090.4 1620.2 L1090.9 1623.4 L1091.4 1626.0 L1091.9 1628.1 L1092.4 1629.9 L1092.9 1631.3 L1093.4 1632.2 L1093.9 1632.6 L1094.4 1632.3 L1094.9 1631.3 L1095.4 1629.6 L1095.9 1627.4 L1096.4 1624.9 L1096.9 1622.2 L1097.4 1619.2 L1097.9 1616.1 L1098.4 1612.7 L1098.9 1609.3 L1099.4 1605.9 L1099.9 1602.7 L1100.4 1599.7 L1100.9 1596.8 L1101.4 1594.1 L1101.9 1591.5 L1102.4 1589.1 L1102.9 1586.8 L1103.4 1584.7 L1103.9 1582.7 L1104.4 1581.0 L1104.9 1579.6 L1105.4 1578.5 L1105.9 1577.8 L1106.4 1577.4 L1106.9 1577.3 L1107.4 1577.4 L1107.9 1578.1 L1108.4 1579.4 L1108.9 1581.3 L1109.4 1583.7 L1109.9 1586.5 L1110.4 1589.6 L1110.9 1592.9 L1111.4 1596.6 L1111.9 1600.6 L1112.4 1604.8 L1112.9 1609.0 L1113.4 1613.3 L1113.9 1617.7 L1114.4 1622.0 L1114.9 1626.4 L1115.4 1630.7 L1115.9 1635.0 L1116.4 1639.2 L1116.9 1643.4 L1117.4 1647.5 L1117.9 1651.5 L1118.4 1655.4 L1118.9 1659.2 L1119.4 1662.9 L1119.9 1666.4 L1120.4 1669.9 L1120.9 1673.2 L1121.4 1676.3 L1121.9 1679.3 L1122.4 1682.2 L1122.9 1684.9 L1123.4 1687.4 L1123.9 1689.6 L1124.4 1691.4 L1124.9 1692.8 L1125.4 1693.9 L1125.9 1694.6 L1126.4 1695.1 L1126.9 1695.1 L1127.4 1694.4 L1127.9 1692.9 L1128.4 1690.6 L1128.9 1687.7 L1129.4 1684.4 L1129.9 1680.7 L1130.4 1676.7 L1130.9 1672.2 L1131.4 1667.4 L1131.9 1662.3 L1132.4 1657.0 L1132.9 1651.5 L1133.4 1645.7 L1133.9 1639.7 L1134.4 1633.6 L1134.9 1627.5 L1135.4 1621.4 L1135.9 1615.3 L1136.4 1609.2 L1136.9 1603.2 L1137.4 1597.2 L1137.9 1591.2 L1138.4 1585.3 L1138.9 1579.3 L1139.4 1573.4 L1139.9 1567.7 L1140.4 1562.2 L1140.9 1557.2 L1141.4 1552.5 L1141.9 1548.2 L1142.4 1544.3 L1142.9 1540.7 L1143.4 1537.4 L1143.9 1534.4 L1144.4 1531.7 L1144.9 1529.2 L1145.4 1527.0 L1145.9 1525.1 L1146.4 1523.6 L1146.9 1522.5 L1147.4 1521.7 L1147.9 1521.2 L1148.4 1521.0 L1148.9 1521.2 L1149.4 1521.7 L1149.9 1522.6 L1150.4 1523.9 L1150.9 1525.4 L1151.4 1527.1 L1151.9 1529.0 L1152.4 1531.0 L1152.9 1533.2 L1153.4 1535.6 L1153.9 1538.1 L1154.4 1540.8 L1154.9 1543.5 L1155.4 1546.4 L1155.9 1549.4 L1156.4 1552.5 L1156.9 1555.5 L1157.4 1558.5 L1157.9 1561.4 L1158.4 1564.2 L1158.9 1567.0 L1159.4 1569.8 L1159.9 1572.5 L1160.4 1575.2 L1160.9 1577.9 L1161.4 1580.5 L1161.9 1583.1 L1162.4 1585.6 L1162.9 1588.1 L1163.4 1590.6 L1163.9 1593.1 L1164.4 1595.5 L1164.9 1598.0 L1165.4 1600.5 L1165.9 1602.9 L1166.4 1605.4 L1166.9 1607.8 L1167.4 1610.3 L1167.9 1612.9 L1168.4 1615.5 L1168.9 1618.1 L1169.4 1620.9 L1169.9 1623.8 L1170.4 1626.7 L1170.9 1629.7 L1171.4 1632.8 L1171.9 1635.8 L1172.4 1639.0 L1172.9 1642.1 L1173.4 1645.3 L1173.9 1648.6 L1174.4 1651.8 L1174.9 1655.1 L1175.4 1658.4 L1175.9 1661.7 L1176.4 1664.9 L1176.9 1668.1 L1177.4 1671.2 L1177.9 1674.4 L1178.4 1677.5 L1178.9 1680.6 L1179.4 1683.5 L1179.9 1686.3 L1180.4 1689.0 L1180.9 1691.6 L1181.4 1694.0 L1181.9 1695.8 L1182.4 1696.9 L1182.9 1696.7 L1183.4 1695.0 L1183.9 1691.9 L1184.4 1687.5 L1184.9 1681.9 L1185.4 1675.0 L1185.9 1666.6 L1186.4 1657.0 L1186.9 1646.7 L1187.4 1636.3 L1187.9 1626.1 L1188.4 1616.0 L1188.9 1605.9 L1189.4 1595.9 L1189.9 1585.8 L1190.4 1575.9 L1190.9 1566.0 L1191.4 1556.4 L1191.9 1547.2 L1192.4 1538.7 L1192.9 1531.3 L1193.4 1524.9 L1193.9 1519.5 L1194.4 1514.8 L1194.9 1510.7 L1195.4 1507.0 L1195.9 1503.6 L1196.4 1500.7 L1196.9 1498.4 L1197.4 1497.0 L1197.9 1496.7 L1198.4 1497.3 L1198.9 1498.8 L1199.4 1500.9 L1199.9 1503.4 L1200.4 1506.0 L1200.9 1508.9 L1201.4 1511.9 L1201.9 1515.2 L1202.4 1518.6 L1202.9 1522.1 L1203.4 1525.6 L1203.9 1529.0 L1204.4 1532.3 L1204.9 1535.7 L1205.4 1539.0 L1205.9 1542.3 L1206.4 1545.7 L1206.9 1549.1 L1207.4 1552.4 L1207.9 1555.8 L1208.4 1559.1 L1208.9 1562.3 L1209.4 1565.5 L1209.9 1568.6 L1210.4 1571.6 L1210.9 1574.6 L1211.4 1577.6 L1211.9 1580.6 L1212.4 1583.6 L1212.9 1586.6 L1213.4 1589.8 L1213.9 1593.0 L1214.4 1596.3 L1214.9 1599.6 L1215.4 1602.9 L1215.9 1606.2 L1216.4 1609.3 L1216.9 1612.4 L1217.4 1615.4 L1217.9 1618.3 L1218.4 1621.1 L1218.9 1623.9 L1219.4 1626.6 L1219.9 1629.3 L1220.4 1631.8 L1220.9 1634.4 L1221.4 1636.9 L1221.9 1639.3 L1222.4 1641.7 L1222.9 1644.0 L1223.4 1646.2 L1223.9 1648.2 L1224.4 1650.1 L1224.9 1651.7 L1225.4 1653.3 L1225.9 1654.7 L1226.4 1656.1 L1226.9 1657.3 L1227.4 1658.4 L1227.9 1659.4 L1228.4 1660.2 L1228.9 1660.9 L1229.4 1661.5 L1229.9 1662.0 L1230.4 1662.5 L1230.9 1662.9 L1231.4 1663.3 L1231.9 1663.8 L1232.4 1664.3 L1232.9 1664.9 L1233.5 1665.6 L1234.0 1666.4 L1234.5 1667.4 L1235.0 1668.4 L1235.5 1669.5 L1236.0 1670.7 L1236.5 1671.9 L1237.0 1673.1 L1237.5 1674.3 L1238.0 1675.6 L1238.5 1676.9 L1239.0 1678.4 L1239.5 1679.8 L1240.0 1681.2 L1240.5 1682.4 L1241.0 1683.3 L1241.5 1684.0 L1242.0 1684.5 L1242.5 1684.8 L1243.0 1685.0 L1243.5 1685.0 L1244.0 1684.6 L1244.5 1683.7 L1245.0 1681.8 L1245.5 1679.1 L1246.0 1675.5 L1246.5 1671.2 L1247.0 1666.2 L1247.5 1660.5 L1248.0 1654.1 L1248.5 1647.2 L1249.0 1640.1 L1249.5 1633.0 L1250.0 1626.1 L1250.5 1619.2 L1251.0 1612.5 L1251.5 1605.8 L1252.0 1599.3 L1252.5 1592.9 L1253.0 1586.6 L1253.5 1580.5 L1254.0 1574.6 L1254.5 1569.2 L1255.0 1564.2 L1255.5 1559.8 L1256.0 1555.9 L1256.5 1552.3 L1257.0 1549.2 L1257.5 1546.6 L1258.0 1544.5 L1258.5 1542.9 L1259.0 1541.6 L1259.5 1540.6 L1260.0 1539.8 L1260.5 1539.2 L1261.0 1538.7 L1261.5 1538.3 L1262.0 1538.0 L1262.5 1537.8 L1263.0 1537.8 L1263.5 1538.0 L1264.0 1538.7 L1264.5 1539.8 L1265.0 1541.3 L1265.5 1543.1 L1266.0 1545.3 L1266.5 1547.5 L1267.0 1550.0 L1267.5 1552.7 L1268.0 1555.6 L1268.5 1558.8 L1269.0 1562.2 L1269.5 1565.7 L1270.0 1569.2 L1270.5 1572.6 L1271.0 1575.9 L1271.5 1579.3 L1272.0 1582.6 L1272.5 1585.8 L1273.0 1589.1 L1273.5 1592.3 L1274.0 1595.5 L1274.5 1598.7 L1275.0 1601.9 L1275.5 1605.0 L1276.0 1608.0 L1276.5 1611.1 L1277.0 1614.1 L1277.5 1617.0 L1278.0 1619.9 L1278.5 1622.7 L1279.0 1625.6 L1279.5 1628.4 L1280.0 1631.1 L1280.5 1633.8 L1281.0 1636.2 L1281.5 1638.3 L1282.0 1640.2 L1282.5 1641.8 L1283.0 1643.2 L1283.5 1644.5 L1284.0 1645.4 L1284.5 1645.9 L1285.0 1645.8 L1285.5 1644.8 L1286.0 1642.9 L1286.5 1640.1 L1287.0 1636.4 L1287.5 1631.9 L1288.0 1626.6 L1288.5 1620.6 L1289.0 1614.2 L1289.5 1607.8 L1290.0 1601.4 L1290.5 1595.1 L1291.0 1588.9 L1291.5 1582.9 L1292.0 1576.9 L1292.5 1571.2 L1293.0 1565.6 L1293.5 1560.2 L1294.0 1555.0 L1294.5 1550.3 L1295.0 1546.2 L1295.5 1542.9 L1296.0 1540.3 L1296.5 1538.2 L1297.0 1536.7 L1297.5 1535.8 L1298.0 1535.6 L1298.5 1536.2 L1299.0 1537.5 L1299.5 1539.3 L1300.0 1541.4 L1300.5 1543.8 L1301.0 1546.4 L1301.5 1549.2 L1302.0 1552.2 L1302.5 1555.4 L1303.0 1558.6 L1303.5 1561.9 L1304.0 1565.3 L1304.5 1568.7 L1305.0 1572.1 L1305.5 1575.4 L1306.0 1578.5 L1306.5 1581.4 L1307.0 1584.1 L1307.5 1586.7 L1308.0 1589.0 L1308.5 1591.0 L1309.0 1592.6 L1309.5 1593.8 L1310.0 1594.9 L1310.5 1595.7 L1311.0 1596.4 L1311.5 1597.1 L1312.0 1597.7 L1312.5 1598.4 L1313.0 1599.1 L1313.5 1599.8 L1314.0 1600.5 L1314.5 1601.1 L1315.0 1601.8 L1315.5 1602.6 L1316.0 1603.4 L1316.5 1604.4 L1317.0 1605.4 L1317.5 1606.6 L1318.0 1608.0 L1318.5 1609.5 L1319.0 1611.4 L1319.5 1613.6 L1320.0 1616.3 L1320.5 1619.6 L1321.0 1623.3 L1321.5 1627.0 L1322.0 1630.4 L1322.5 1633.3 L1323.0 1635.9 L1323.5 1638.1 L1324.0 1640.1 L1324.5 1642.0 L1325.0 1643.8 L1325.5 1645.6 L1326.0 1647.4 L1326.5 1649.2 L1327.0 1651.0 L1327.5 1652.6 L1328.0 1653.8 L1328.5 1654.4 L1329.0 1654.2 L1329.5 1653.0 L1330.0 1651.1 L1330.5 1648.4 L1331.0 1645.4 L1331.5 1642.0 L1332.0 1638.5 L1332.5 1634.7 L1333.0 1630.7 L1333.5 1626.6 L1334.0 1622.6 L1334.5 1618.7 L1335.0 1614.9 L1335.5 1611.3 L1336.0 1607.9 L1336.5 1604.6 L1337.0 1601.5 L1337.5 1598.5 L1338.0 1595.6 L1338.5 1592.9 L1339.0 1590.4 L1339.5 1588.3 L1340.0 1586.7 L1340.5 1585.6 L1341.0 1584.9 L1341.5 1584.4 L1342.0 1584.1 L1342.5 1583.9 L1343.0 1583.9 L1343.5 1584.1 L1344.0 1584.6 L1344.5 1585.5 L1345.0 1586.6 L1345.5 1588.0 L1346.0 1589.7 L1346.5 1591.5 L1347.0 1593.6 L1347.5 1596.0 L1348.0 1598.9 L1348.5 1602.1 L1349.0 1605.7 L1349.5 1609.5 L1350.0 1613.5 L1350.5 1617.6 L1351.0 1621.8 L1351.5 1626.2 L1352.0 1630.6 L1352.5 1635.0 L1353.0 1639.3 L1353.5 1643.5 L1354.0 1647.7 L1354.5 1651.7 L1355.0 1655.6 L1355.5 1659.2 L1356.0 1662.5 L1356.5 1665.7 L1357.0 1668.6 L1357.5 1671.2 L1358.0 1673.4 L1358.5 1675.2 L1359.0 1676.7 L1359.5 1677.9 L1360.0 1678.8 L1360.5 1679.5 L1361.0 1679.9 L1361.5 1679.8 L1362.0 1679.2 L1362.5 1678.0 L1363.0 1676.1 L1363.5 1673.6 L1364.0 1670.3 L1364.5 1665.7 L1365.0 1659.7 L1365.5 1652.5 L1366.0 1644.7 L1366.5 1636.8 L1367.0 1629.1 L1367.5 1621.5 L1368.0 1614.0 L1368.5 1606.5 L1369.0 1599.0 L1369.5 1591.4 L1370.0 1583.8 L1370.5 1576.2 L1371.0 1568.7 L1371.5 1561.5 L1372.0 1554.7 L1372.5 1548.5 L1373.0 1542.8 L1373.5 1537.8 L1374.0 1533.7 L1374.5 1530.4 L1375.0 1527.9 L1375.5 1526.0 L1376.0 1524.7 L1376.5 1524.0 L1377.0 1523.9 L1377.5 1524.3 L1378.0 1525.2 L1378.5 1526.4 L1379.0 1528.0 L1379.5 1529.9 L1380.0 1532.2 L1380.5 1535.0 L1381.0 1538.2 L1381.5 1541.7 L1382.0 1545.3 L1382.5 1548.9 L1383.0 1552.4 L1383.5 1555.9 L1384.0 1559.2 L1384.5 1562.6 L1385.0 1565.8 L1385.5 1568.8 L1386.0 1571.8 L1386.5 1574.6 L1387.1 1577.3 L1387.6 1579.9 L1388.1 1582.2 L1388.6 1584.4 L1389.1 1586.4 L1389.6 1588.3 L1390.1 1590.1 L1390.6 1591.8 L1391.1 1593.5 L1391.6 1595.1 L1392.1 1596.7 L1392.6 1598.2 L1393.1 1599.7 L1393.6 1601.2 L1394.1 1602.6 L1394.6 1604.1 L1395.1 1605.6 L1395.6 1607.2 L1396.1 1609.0 L1396.6 1610.8 L1397.1 1612.8 L1397.6 1614.9 L1398.1 1617.2 L1398.6 1619.5 L1399.1 1622.0 L1399.6 1624.6 L1400.1 1627.3 L1400.6 1630.2 L1401.1 1633.3 L1401.6 1636.6 L1402.1 1639.9 L1402.6 1643.3 L1403.1 1646.7 L1403.6 1650.1 L1404.1 1653.4 L1404.6 1656.8 L1405.1 1660.2 L1405.6 1663.5 L1406.1 1666.9 L1406.6 1670.2 L1407.1 1673.6 L1407.6 1677.0 L1408.1 1680.2 L1408.6 1683.0 L1409.1 1685.3 L1409.6 1687.0 L1410.1 1688.3 L1410.6 1689.3 L1411.1 1690.0 L1411.6 1690.4 L1412.1 1690.4 L1412.6 1689.9 L1413.1 1688.6 L1413.6 1686.6 L1414.1 1683.7 L1414.6 1679.9 L1415.1 1674.7 L1415.6 1668.1 L1416.1 1660.1 L1416.6 1651.0 L1417.1 1641.4 L1417.6 1631.6 L1418.1 1621.6 L1418.6 1612.0 L1419.1 1602.9 L1419.6 1594.5 L1420.1 1586.7 L1420.6 1579.3 L1421.1 1572.2 L1421.6 1565.4 L1422.1 1558.9 L1422.6 1552.8 L1423.1 1547.2 L1423.6 1542.2 L1424.1 1537.7 L1424.6 1533.8 L1425.1 1530.5 L1425.6 1527.7 L1426.1 1525.4 L1426.6 1523.8 L1427.1 1522.8 L1427.6 1522.2 L1428.1 1522.0 L1428.6 1521.9 L1429.1 1521.9 L1429.6 1522.2 L1430.1 1522.7 L1430.6 1523.7 L1431.1 1525.0 L1431.6 1526.7 L1432.1 1528.5 L1432.6 1530.6 L1433.1 1532.8 L1433.6 1535.3 L1434.1 1538.0 L1434.6 1540.8 L1435.1 1543.7 L1435.6 1546.7 L1436.1 1549.7 L1436.6 1552.8 L1437.1 1555.8 L1437.6 1558.7 L1438.1 1561.6 L1438.6 1564.2 L1439.1 1566.7 L1439.6 1569.1 L1440.1 1571.4 L1440.6 1573.6 L1441.1 1575.7 L1441.6 1577.8 L1442.1 1579.7 L1442.6 1581.6 L1443.1 1583.4 L1443.6 1585.1 L1444.1 1586.8 L1444.6 1588.5 L1445.1 1590.3 L1445.6 1592.2 L1446.1 1594.2 L1446.6 1596.4 L1447.1 1598.8 L1447.6 1601.3 L1448.1 1603.8 L1448.6 1606.4 L1449.1 1609.1 L1449.6 1611.6 L1450.1 1614.2 L1450.6 1616.9 L1451.1 1619.5 L1451.6 1622.1 L1452.1 1624.6 L1452.6 1627.1 L1453.1 1629.4 L1453.6 1631.6 L1454.1 1633.8 L1454.6 1635.8 L1455.1 1637.7 L1455.6 1639.2 L1456.1 1640.2 L1456.6 1640.7 L1457.1 1640.7 L1457.6 1640.5 L1458.1 1640.0 L1458.6 1639.1 L1459.1 1637.5 L1459.6 1634.9 L1460.1 1631.5 L1460.6 1627.6 L1461.1 1623.6 L1461.6 1619.7 L1462.1 1616.0 L1462.6 1612.6 L1463.1 1609.2 L1463.6 1606.1 L1464.1 1603.1 L1464.6 1600.2 L1465.1 1597.6 L1465.6 1595.1 L1466.1 1592.8 L1466.6 1591.0 L1467.1 1589.4 L1467.6 1588.2 L1468.1 1587.1 L1468.6 1586.2 L1469.1 1585.5 L1469.6 1584.8 L1470.1 1584.3 L1470.6 1583.8 L1471.1 1583.5 L1471.6 1583.2 L1472.1 1583.0 L1472.6 1582.9 L1473.1 1582.8 L1473.6 1582.9 L1474.1 1583.3 L1474.6 1584.1 L1475.1 1585.1 L1475.6 1586.4 L1476.1 1587.9 L1476.6 1589.4 L1477.1 1591.1 L1477.6 1592.8 L1478.1 1594.5 L1478.6 1596.2 L1479.1 1597.7 L1479.6 1599.1 L1480.1 1600.3 L1480.6 1601.3 L1481.1 1602.2 L1481.6 1602.9 L1482.1 1603.3 L1482.6 1603.3 L1483.1 1603.1 L1483.6 1602.6 L1484.1 1602.0 L1484.6 1601.3 L1485.1 1600.5 L1485.6 1599.8 L1486.1 1599.1 L1486.6 1598.5 L1487.1 1597.9 L1487.6 1597.3 L1488.1 1596.8 L1488.6 1596.3 L1489.1 1595.8 L1489.6 1595.4 L1490.1 1595.1 L1490.6 1594.8 L1491.1 1594.6 L1491.6 1594.4 L1492.1 1594.3 L1492.6 1594.3 L1493.1 1594.5 L1493.6 1594.8 L1494.1 1595.4 L1494.6 1596.2 L1495.1 1597.2 L1495.6 1598.3 L1496.1 1599.4 L1496.6 1600.5 L1497.1 1601.7 L1497.6 1602.8 L1498.1 1604.1 L1498.6 1605.3 L1499.1 1606.6 L1499.6 1607.9 L1500.1 1609.2 L1500.6 1610.5 L1501.1 1611.8 L1501.6 1613.1 L1502.1 1614.5 L1502.6 1615.8 L1503.1 1617.0 L1503.6 1618.2 L1504.1 1619.3 L1504.6 1620.3 L1505.1 1621.2 L1505.6 1622.0 L1506.1 1622.7 L1506.6 1623.5 L1507.1 1624.2 L1507.6 1624.9 L1508.1 1625.6 L1508.6 1626.3 L1509.1 1627.0 L1509.6 1627.6 L1510.1 1628.3 L1510.6 1629.1 L1511.1 1629.9 L1511.6 1630.8 L1512.1 1631.8 L1512.6 1633.0 L1513.1 1634.5 L1513.6 1636.1 L1514.1 1637.9 L1514.6 1639.9 L1515.1 1642.0 L1515.6 1644.4 L1516.1 1646.9 L1516.6 1649.6 L1517.1 1652.4 L1517.6 1655.2 L1518.1 1658.0 L1518.6 1660.8 L1519.1 1663.6 L1519.6 1666.3 L1520.1 1668.8 L1520.6 1671.1 L1521.1 1673.1 L1521.6 1674.9 L1522.1 1676.3 L1522.6 1677.5 L1523.1 1678.3 L1523.6 1678.8 L1524.1 1679.1 L1524.6 1679.1 L1525.1 1678.7 L1525.6 1677.7 L1526.1 1676.2 L1526.6 1674.0 L1527.1 1671.3 L1527.6 1668.1 L1528.1 1664.3 L1528.6 1659.8 L1529.1 1654.7 L1529.6 1649.2 L1530.1 1643.3 L1530.6 1637.2 L1531.1 1630.7 L1531.6 1624.0 L1532.1 1617.2 L1532.6 1610.6 L1533.1 1604.4 L1533.6 1598.6 L1534.1 1593.2 L1534.6 1588.1 L1535.1 1583.2 L1535.6 1578.4 L1536.1 1573.6 L1536.6 1568.9 L1537.1 1564.3 L1537.6 1559.8 L1538.1 1555.6 L1538.6 1551.9 L1539.1 1548.5 L1539.6 1545.6 L1540.1 1543.1 L1540.6 1541.1 L1541.2 1539.8" fill="none" stroke="#F01010" stroke-width="3.8" stroke-linejoin="round" stroke-linecap="butt" stroke-dasharray="3.7 3.55" clip-path="url(#cld)"/>
<path d="M111.7 1610.2 L112.2 1612.3 L112.7 1615.1 L113.2 1618.0 L113.7 1620.7 L114.2 1623.4 L114.7 1626.0 L115.2 1628.5 L115.7 1630.8 L116.2 1633.0 L116.7 1635.1 L117.2 1637.0 L117.7 1638.9 L118.2 1640.8 L118.7 1642.7 L119.2 1644.6 L119.7 1646.4 L120.2 1648.2 L120.7 1649.9 L121.2 1651.5 L121.7 1653.0 L122.2 1654.3 L122.7 1655.4 L123.2 1656.3 L123.7 1656.9 L124.2 1657.1 L124.7 1656.3 L125.2 1653.6 L125.7 1648.8 L126.2 1642.1 L126.7 1634.2 L127.2 1625.7 L127.7 1617.4 L128.2 1609.6 L128.7 1602.3 L129.2 1594.7 L129.7 1586.9 L130.2 1579.1 L130.7 1572.1 L131.2 1566.4 L131.7 1562.4 L132.2 1560.6 L132.7 1560.7 L133.2 1562.3 L133.7 1564.8 L134.2 1568.2 L134.7 1572.3 L135.2 1576.8 L135.7 1581.7 L136.2 1586.7 L136.7 1591.8 L137.2 1596.9 L137.7 1602.4 L138.2 1608.8 L138.7 1616.0 L139.2 1623.9 L139.7 1632.0 L140.2 1640.0 L140.7 1647.3 L141.2 1653.6 L141.7 1658.4 L142.2 1661.2 L142.7 1661.5 L143.2 1658.8 L143.7 1653.3 L144.2 1645.8 L144.7 1637.0 L145.2 1628.1 L145.7 1619.8 L146.2 1612.4 L146.7 1605.2 L147.2 1598.0 L147.7 1591.2 L148.2 1585.3 L148.7 1581.1 L149.2 1578.9 L149.7 1578.5 L150.2 1579.1 L150.7 1580.1 L151.2 1581.2 L151.7 1582.0 L152.2 1582.2 L152.7 1581.8 L153.2 1580.7 L153.7 1578.9 L154.2 1576.6 L154.7 1573.9 L155.2 1570.8 L155.7 1567.0 L156.2 1561.8 L156.7 1555.1 L157.2 1547.5 L157.7 1540.1 L158.2 1533.8 L158.7 1528.8 L159.2 1524.9 L159.7 1521.3 L160.2 1518.0 L160.7 1515.0 L161.2 1512.4 L161.7 1510.4 L162.2 1509.0 L162.7 1508.6 L163.2 1509.8 L163.7 1513.6 L164.2 1520.2 L164.7 1529.0 L165.2 1539.6 L165.7 1551.3 L166.2 1563.3 L166.7 1575.0 L167.2 1586.1 L167.7 1596.6 L168.2 1607.3 L168.7 1618.7 L169.2 1630.5 L169.7 1642.3 L170.2 1653.6 L170.7 1663.7 L171.2 1672.2 L171.7 1678.5 L172.2 1682.1 L172.7 1683.1 L173.2 1681.8 L173.7 1678.7 L174.2 1674.2 L174.7 1668.6 L175.2 1662.2 L175.7 1655.1 L176.2 1647.7 L176.7 1640.2 L177.2 1632.9 L177.7 1626.0 L178.2 1619.7 L178.7 1614.0 L179.2 1608.6 L179.7 1603.0 L180.2 1597.3 L180.7 1591.6 L181.2 1586.1 L181.7 1580.8 L182.2 1576.0 L182.7 1571.9 L183.2 1568.6 L183.7 1566.3 L184.2 1565.2 L184.7 1565.5 L185.2 1567.2 L185.7 1570.3 L186.2 1574.6 L186.7 1579.8 L187.2 1585.6 L187.7 1591.8 L188.2 1598.1 L188.8 1604.4 L189.3 1610.5 L189.8 1617.2 L190.3 1624.6 L190.8 1632.7 L191.3 1641.0 L191.8 1648.9 L192.3 1655.9 L192.8 1661.3 L193.3 1664.8 L193.8 1666.2 L194.3 1666.0 L194.8 1664.7 L195.3 1662.6 L195.8 1659.9 L196.3 1656.5 L196.8 1652.7 L197.3 1648.4 L197.8 1643.7 L198.3 1638.8 L198.8 1633.7 L199.3 1628.4 L199.8 1623.1 L200.3 1617.8 L200.8 1612.6 L201.3 1607.4 L201.8 1601.9 L202.3 1595.6 L202.8 1588.5 L203.3 1580.8 L203.8 1572.7 L204.3 1564.4 L204.8 1556.2 L205.3 1548.2 L205.8 1540.8 L206.3 1534.1 L206.8 1528.3 L207.3 1523.7 L207.8 1520.6 L208.3 1519.2 L208.8 1519.9 L209.3 1523.1 L209.8 1528.3 L210.3 1534.7 L210.8 1541.5 L211.3 1547.8 L211.8 1552.7 L212.3 1555.8 L212.8 1557.5 L213.3 1558.5 L213.8 1559.2 L214.3 1559.8 L214.8 1560.3 L215.3 1560.8 L215.8 1561.1 L216.3 1561.5 L216.8 1561.9 L217.3 1562.3 L217.8 1562.8 L218.3 1563.5 L218.8 1564.2 L219.3 1565.2 L219.8 1566.6 L220.3 1568.5 L220.8 1570.9 L221.3 1573.8 L221.8 1577.1 L222.3 1580.8 L222.8 1584.6 L223.3 1588.7 L223.8 1593.2 L224.3 1598.5 L224.8 1605.0 L225.3 1612.6 L225.8 1620.8 L226.3 1629.3 L226.8 1637.5 L227.3 1644.9 L227.8 1651.1 L228.3 1655.6 L228.8 1658.1 L229.3 1658.9 L229.8 1658.6 L230.3 1657.8 L230.8 1656.6 L231.3 1655.1 L231.8 1653.3 L232.3 1651.3 L232.8 1649.2 L233.3 1646.9 L233.8 1644.6 L234.3 1642.2 L234.8 1639.9 L235.3 1637.5 L235.8 1635.2 L236.3 1632.7 L236.8 1630.0 L237.3 1627.2 L237.8 1624.2 L238.3 1621.1 L238.8 1617.9 L239.3 1614.7 L239.8 1611.4 L240.3 1608.1 L240.8 1604.7 L241.3 1601.1 L241.8 1597.0 L242.3 1592.5 L242.8 1588.1 L243.3 1584.3 L243.8 1581.5 L244.3 1580.2 L244.8 1580.4 L245.3 1581.8 L245.8 1584.0 L246.3 1586.6 L246.8 1589.5 L247.3 1592.1 L247.8 1594.4 L248.3 1595.9 L248.8 1596.5 L249.3 1596.2 L249.8 1595.0 L250.3 1593.2 L250.8 1590.9 L251.3 1588.1 L251.8 1585.0 L252.3 1581.7 L252.8 1577.7 L253.3 1572.7 L253.8 1566.5 L254.3 1559.4 L254.8 1551.9 L255.3 1544.5 L255.8 1537.7 L256.3 1531.8 L256.8 1526.6 L257.3 1521.8 L257.8 1517.1 L258.3 1512.7 L258.8 1508.9 L259.3 1505.9 L259.8 1504.0 L260.3 1503.6 L260.8 1505.2 L261.3 1509.1 L261.8 1515.1 L262.3 1522.8 L262.8 1531.8 L263.3 1541.7 L263.8 1552.2 L264.3 1562.8 L264.8 1573.1 L265.3 1582.7 L265.8 1591.2 L266.3 1598.4 L266.8 1604.3 L267.3 1609.6 L267.8 1614.6 L268.3 1619.6 L268.8 1624.5 L269.3 1629.2 L269.8 1633.7 L270.3 1637.9 L270.8 1641.7 L271.3 1645.1 L271.8 1648.0 L272.3 1650.3 L272.8 1652.0 L273.3 1653.0 L273.8 1653.3 L274.3 1652.9 L274.8 1651.9 L275.3 1650.4 L275.8 1648.4 L276.3 1645.9 L276.8 1643.1 L277.3 1640.0 L277.8 1636.6 L278.3 1633.0 L278.8 1629.2 L279.3 1625.4 L279.8 1621.5 L280.3 1617.6 L280.8 1613.8 L281.3 1610.1 L281.8 1606.5 L282.3 1603.2 L282.8 1599.9 L283.3 1596.6 L283.8 1593.2 L284.3 1589.8 L284.8 1586.3 L285.3 1582.8 L285.8 1579.3 L286.3 1575.7 L286.8 1572.1 L287.3 1568.6 L287.8 1565.0 L288.3 1561.5 L288.8 1558.0 L289.3 1554.5 L289.8 1551.1 L290.3 1547.8 L290.8 1544.6 L291.3 1541.4 L291.8 1538.4 L292.3 1535.3 L292.8 1532.0 L293.3 1528.7 L293.8 1525.3 L294.3 1521.8 L294.8 1518.3 L295.3 1514.9 L295.8 1511.7 L296.3 1508.6 L296.8 1505.8 L297.3 1503.3 L297.8 1501.2 L298.3 1499.5 L298.8 1498.3 L299.3 1497.7 L299.8 1497.9 L300.3 1499.2 L300.8 1501.8 L301.3 1505.6 L301.8 1510.5 L302.3 1516.3 L302.8 1523.0 L303.3 1530.4 L303.8 1538.3 L304.3 1546.6 L304.8 1555.2 L305.3 1564.0 L305.8 1572.9 L306.3 1581.6 L306.8 1590.0 L307.3 1598.1 L307.8 1605.8 L308.3 1613.1 L308.8 1620.5 L309.3 1628.2 L309.8 1636.5 L310.3 1645.1 L310.8 1653.9 L311.3 1662.9 L311.8 1671.8 L312.3 1680.5 L312.8 1688.9 L313.3 1696.8 L313.8 1704.2 L314.3 1710.8 L314.8 1716.6 L315.3 1721.4 L315.8 1725.0 L316.3 1727.3 L316.8 1728.3 L317.3 1727.7 L317.8 1725.6 L318.3 1722.1 L318.8 1717.3 L319.3 1711.4 L319.8 1704.5 L320.3 1696.8 L320.8 1688.4 L321.3 1679.6 L321.8 1670.4 L322.3 1661.0 L322.8 1651.6 L323.3 1642.3 L323.8 1633.3 L324.3 1624.7 L324.8 1616.5 L325.3 1608.3 L325.8 1599.6 L326.3 1590.3 L326.8 1580.5 L327.3 1570.3 L327.8 1560.0 L328.3 1549.7 L328.8 1539.8 L329.3 1530.3 L329.8 1521.6 L330.3 1513.7 L330.8 1507.0 L331.3 1501.6 L331.8 1497.8 L332.3 1495.5 L332.8 1494.7 L333.3 1494.7 L333.8 1495.2 L334.3 1495.9 L334.8 1496.8 L335.3 1498.0 L335.8 1499.4 L336.3 1501.0 L336.8 1502.8 L337.3 1504.8 L337.8 1507.0 L338.3 1509.3 L338.8 1511.8 L339.3 1514.5 L339.8 1517.3 L340.3 1520.2 L340.8 1523.3 L341.3 1526.5 L341.8 1530.1 L342.3 1534.4 L342.9 1540.0 L343.4 1546.8 L343.9 1554.7 L344.4 1563.6 L344.9 1573.2 L345.4 1583.4 L345.9 1593.9 L346.4 1604.6 L346.9 1615.3 L347.4 1626.0 L347.9 1637.4 L348.4 1650.3 L348.9 1664.6 L349.4 1679.3 L349.9 1693.3 L350.4 1705.1 L350.9 1713.6 L351.4 1718.2 L351.9 1719.6 L352.4 1719.3 L352.9 1718.3 L353.4 1716.8 L353.9 1715.1 L354.4 1713.0 L354.9 1710.6 L355.4 1707.9 L355.9 1705.0 L356.4 1702.0 L356.9 1698.8 L357.4 1695.5 L357.9 1692.2 L358.4 1688.7 L358.9 1685.3 L359.4 1681.8 L359.9 1678.1 L360.4 1674.1 L360.9 1669.8 L361.4 1665.2 L361.9 1660.2 L362.4 1654.9 L362.9 1649.2 L363.4 1643.1 L363.9 1636.6 L364.4 1629.6 L364.9 1621.5 L365.4 1611.5 L365.9 1598.9 L366.4 1584.4 L366.9 1569.3 L367.4 1555.2 L367.9 1543.6 L368.4 1535.8 L368.9 1531.7 L369.4 1530.0 L369.9 1529.2 L370.4 1528.8 L370.9 1528.4 L371.4 1528.1 L371.9 1527.7 L372.4 1527.3 L372.9 1526.8 L373.4 1526.0 L373.9 1524.7 L374.4 1522.6 L374.9 1519.6 L375.4 1516.0 L375.9 1512.0 L376.4 1507.8 L376.9 1503.6 L377.4 1499.7 L377.9 1496.4 L378.4 1493.8 L378.9 1492.1 L379.4 1491.6 L379.9 1492.0 L380.4 1493.3 L380.9 1495.3 L381.4 1498.0 L381.9 1501.3 L382.4 1505.1 L382.9 1509.5 L383.4 1514.3 L383.9 1519.5 L384.4 1524.9 L384.9 1530.7 L385.4 1536.6 L385.9 1542.7 L386.4 1548.9 L386.9 1555.1 L387.4 1561.3 L387.9 1567.7 L388.4 1574.6 L388.9 1582.5 L389.4 1591.4 L389.9 1601.1 L390.4 1611.4 L390.9 1622.0 L391.4 1632.7 L391.9 1643.2 L392.4 1653.3 L392.9 1662.6 L393.4 1671.0 L393.9 1678.2 L394.4 1684.0 L394.9 1688.8 L395.4 1692.9 L395.9 1696.7 L396.4 1700.1 L396.9 1703.1 L397.4 1705.5 L397.9 1707.1 L398.4 1707.8 L398.9 1707.7 L399.4 1706.8 L399.9 1705.1 L400.4 1702.8 L400.9 1699.9 L401.4 1696.5 L401.9 1692.7 L402.4 1688.4 L402.9 1683.9 L403.4 1679.1 L403.9 1674.1 L404.4 1668.9 L404.9 1663.7 L405.4 1658.0 L405.9 1651.7 L406.4 1644.3 L406.9 1636.1 L407.4 1627.0 L407.9 1617.4 L408.4 1607.3 L408.9 1597.0 L409.4 1586.6 L409.9 1576.3 L410.4 1566.2 L410.9 1556.2 L411.4 1545.9 L411.9 1534.7 L412.4 1522.8 L412.9 1510.4 L413.4 1498.2 L413.9 1486.6 L414.4 1476.0 L414.9 1467.1 L415.4 1460.2 L415.9 1455.9 L416.4 1454.0 L416.9 1453.9 L417.4 1454.9 L417.9 1456.7 L418.4 1459.0 L418.9 1461.7 L419.4 1464.9 L419.9 1468.5 L420.4 1472.3 L420.9 1476.5 L421.4 1481.6 L421.9 1487.9 L422.4 1495.7 L422.9 1504.6 L423.4 1514.3 L423.9 1524.4 L424.4 1535.3 L424.9 1547.2 L425.4 1559.9 L425.9 1572.8 L426.4 1585.4 L426.9 1597.5 L427.4 1609.1 L427.9 1620.5 L428.4 1631.8 L428.9 1642.6 L429.4 1652.9 L429.9 1662.3 L430.4 1670.7 L430.9 1678.3 L431.4 1685.5 L431.9 1692.5 L432.4 1699.3 L432.9 1705.7 L433.4 1711.4 L433.9 1716.3 L434.4 1720.1 L434.9 1722.7 L435.4 1724.0 L435.9 1724.0 L436.4 1723.0 L436.9 1721.4 L437.4 1719.1 L437.9 1716.3 L438.4 1713.1 L438.9 1709.6 L439.4 1705.8 L439.9 1701.8 L440.4 1697.3 L440.9 1691.8 L441.4 1685.1 L441.9 1677.2 L442.4 1668.5 L442.9 1659.4 L443.4 1650.1 L443.9 1641.1 L444.4 1632.7 L444.9 1625.0 L445.4 1618.2 L445.9 1611.7 L446.4 1605.6 L446.9 1599.7 L447.4 1594.1 L447.9 1589.0 L448.4 1584.3 L448.9 1580.1 L449.4 1576.1 L449.9 1572.3 L450.4 1568.5 L450.9 1564.9 L451.4 1561.5 L451.9 1558.6 L452.4 1556.2 L452.9 1554.5 L453.4 1553.4 L453.9 1553.1 L454.4 1553.2 L454.9 1553.5 L455.4 1554.1 L455.9 1554.8 L456.4 1555.8 L456.9 1556.8 L457.4 1558.0 L457.9 1559.4 L458.4 1560.9 L458.9 1562.5 L459.4 1564.5 L459.9 1567.3 L460.4 1571.3 L460.9 1576.4 L461.4 1582.2 L461.9 1588.2 L462.4 1593.9 L462.9 1598.9 L463.4 1602.9 L463.9 1606.1 L464.4 1608.9 L464.9 1611.4 L465.4 1613.8 L465.9 1615.9 L466.4 1617.9 L466.9 1619.9 L467.4 1621.9 L467.9 1623.8 L468.4 1625.9 L468.9 1628.0 L469.4 1630.4 L469.9 1632.8 L470.4 1635.4 L470.9 1638.0 L471.4 1640.6 L471.9 1643.3 L472.4 1646.2 L472.9 1649.3 L473.4 1652.6 L473.9 1656.4 L474.4 1660.7 L474.9 1666.3 L475.4 1674.1 L475.9 1683.9 L476.4 1694.5 L476.9 1703.6 L477.4 1709.6 L477.9 1712.1 L478.4 1712.4 L478.9 1711.7 L479.4 1710.5 L479.9 1708.9 L480.4 1706.9 L480.9 1704.5 L481.4 1701.8 L481.9 1698.6 L482.4 1694.1 L482.9 1686.5 L483.4 1674.6 L483.9 1659.4 L484.4 1643.5 L484.9 1629.7 L485.4 1619.6 L485.9 1612.5 L486.4 1606.8 L486.9 1601.7 L487.4 1597.1 L487.9 1593.1 L488.4 1589.7 L488.9 1587.0 L489.4 1585.2 L489.9 1584.4 L490.4 1585.2 L490.9 1588.2 L491.4 1593.5 L491.9 1600.3 L492.4 1608.0 L492.9 1615.6 L493.4 1622.4 L493.9 1628.0 L494.4 1632.5 L494.9 1636.4 L495.4 1640.0 L495.9 1643.4 L496.4 1646.2 L497.0 1648.4 L497.5 1649.8 L498.0 1649.9 L498.5 1648.6 L499.0 1645.7 L499.5 1641.4 L500.0 1636.0 L500.5 1629.9 L501.0 1623.4 L501.5 1617.0 L502.0 1610.9 L502.5 1605.4 L503.0 1600.4 L503.5 1595.5 L504.0 1590.5 L504.5 1585.3 L505.0 1580.3 L505.5 1575.6 L506.0 1571.4 L506.5 1567.9 L507.0 1565.2 L507.5 1563.6 L508.0 1563.3 L508.5 1564.4 L509.0 1567.1 L509.5 1570.9 L510.0 1575.8 L510.5 1581.3 L511.0 1587.2 L511.5 1593.2 L512.0 1598.9 L512.5 1604.6 L513.0 1610.3 L513.5 1616.3 L514.0 1622.6 L514.5 1629.0 L515.0 1635.4 L515.5 1641.8 L516.0 1647.9 L516.5 1653.6 L517.0 1658.9 L517.5 1664.1 L518.0 1669.3 L518.5 1674.5 L519.0 1679.5 L519.5 1683.9 L520.0 1687.3 L520.5 1689.6 L521.0 1690.6 L521.5 1690.7 L522.0 1690.3 L522.5 1689.7 L523.0 1688.8 L523.5 1687.7 L524.0 1686.4 L524.5 1685.0 L525.0 1683.4 L525.5 1681.8 L526.0 1680.1 L526.5 1678.4 L527.0 1676.4 L527.5 1674.1 L528.0 1671.5 L528.5 1668.4 L529.0 1665.1 L529.5 1661.5 L530.0 1657.6 L530.5 1653.7 L531.0 1649.6 L531.5 1645.4 L532.0 1641.2 L532.5 1636.9 L533.0 1632.2 L533.5 1626.8 L534.0 1620.9 L534.5 1614.6 L535.0 1608.3 L535.5 1602.1 L536.0 1596.3 L536.5 1591.3 L537.0 1587.1 L537.5 1584.2 L538.0 1582.5 L538.5 1582.0 L539.0 1582.2 L539.5 1582.9 L540.0 1583.8 L540.5 1585.0 L541.0 1586.3 L541.5 1587.9 L542.0 1589.5 L542.5 1591.3 L543.0 1593.4 L543.5 1596.1 L544.0 1599.7 L544.5 1604.3 L545.0 1609.5 L545.5 1615.1 L546.0 1620.7 L546.5 1626.2 L547.0 1631.2 L547.5 1635.3 L548.0 1638.4 L548.5 1640.0 L549.0 1639.8 L549.5 1637.5 L550.0 1633.4 L550.5 1628.0 L551.0 1621.8 L551.5 1615.3 L552.0 1608.9 L552.5 1602.1 L553.0 1594.7 L553.5 1586.8 L554.0 1579.2 L554.5 1572.9 L555.0 1568.5 L555.5 1566.5 L556.0 1566.6 L556.5 1568.2 L557.0 1570.8 L557.5 1574.2 L558.0 1578.3 L558.5 1582.8 L559.0 1587.7 L559.5 1592.8 L560.0 1598.0 L560.5 1603.6 L561.0 1610.2 L561.5 1617.9 L562.0 1626.5 L562.5 1635.6 L563.0 1644.9 L563.5 1653.8 L564.0 1662.1 L564.5 1669.2 L565.0 1674.9 L565.5 1679.2 L566.0 1682.4 L566.5 1685.2 L567.0 1687.9 L567.5 1690.4 L568.0 1692.8 L568.5 1695.0 L569.0 1697.1 L569.5 1699.0 L570.0 1700.7 L570.5 1702.3 L571.0 1703.7 L571.5 1704.8 L572.0 1705.8 L572.5 1706.5 L573.0 1707.0 L573.5 1707.1 L574.0 1706.7 L574.5 1705.4 L575.0 1703.1 L575.5 1699.9 L576.0 1695.9 L576.5 1691.3 L577.0 1686.2 L577.5 1680.7 L578.0 1675.1 L578.5 1669.4 L579.0 1663.7 L579.5 1658.1 L580.0 1652.3 L580.5 1646.0 L581.0 1639.2 L581.5 1632.1 L582.0 1624.8 L582.5 1617.5 L583.0 1610.3 L583.5 1603.3 L584.0 1596.7 L584.5 1590.3 L585.0 1583.6 L585.5 1576.8 L586.0 1569.8 L586.5 1563.1 L587.0 1556.9 L587.5 1551.5 L588.0 1547.3 L588.5 1544.4 L589.0 1543.3 L589.5 1544.1 L590.0 1546.7 L590.5 1550.8 L591.0 1555.8 L591.5 1561.3 L592.0 1566.8 L592.5 1571.8 L593.0 1575.7 L593.5 1578.1 L594.0 1578.7 L594.5 1577.4 L595.0 1574.6 L595.5 1570.6 L596.0 1565.7 L596.5 1560.2 L597.0 1554.6 L597.5 1549.2 L598.0 1544.3 L598.5 1540.2 L599.0 1537.4 L599.5 1535.9 L600.0 1535.6 L600.5 1536.1 L601.0 1537.0 L601.5 1538.3 L602.0 1539.8 L602.5 1541.5 L603.0 1543.4 L603.5 1545.4 L604.0 1547.5 L604.5 1549.5 L605.0 1551.4 L605.5 1553.4 L606.0 1555.6 L606.5 1558.1 L607.0 1560.8 L607.5 1563.5 L608.0 1566.1 L608.5 1568.5 L609.0 1570.5 L609.5 1571.9 L610.0 1572.6 L610.5 1572.5 L611.0 1571.8 L611.5 1570.5 L612.0 1568.8 L612.5 1566.8 L613.0 1564.5 L613.5 1562.1 L614.0 1559.7 L614.5 1557.4 L615.0 1555.4 L615.5 1553.6 L616.0 1552.3 L616.5 1551.5 L617.0 1551.2 L617.5 1551.6 L618.0 1552.5 L618.5 1553.9 L619.0 1555.7 L619.5 1557.9 L620.0 1560.4 L620.5 1563.3 L621.0 1566.4 L621.5 1569.7 L622.0 1573.2 L622.5 1577.0 L623.0 1581.6 L623.5 1587.2 L624.0 1594.1 L624.5 1602.0 L625.0 1610.8 L625.5 1620.1 L626.0 1629.6 L626.5 1639.2 L627.0 1648.5 L627.5 1657.6 L628.0 1666.9 L628.5 1676.4 L629.0 1686.0 L629.5 1695.7 L630.0 1704.9 L630.5 1713.6 L631.0 1721.4 L631.5 1728.6 L632.0 1735.5 L632.5 1742.0 L633.0 1747.7 L633.5 1751.9 L634.0 1754.2 L634.5 1754.9 L635.0 1754.6 L635.5 1753.7 L636.0 1752.6 L636.5 1751.1 L637.0 1749.4 L637.5 1747.4 L638.0 1745.3 L638.5 1743.0 L639.0 1740.4 L639.5 1737.2 L640.0 1733.1 L640.5 1728.1 L641.0 1722.3 L641.5 1715.9 L642.0 1708.8 L642.5 1701.4 L643.0 1693.6 L643.5 1685.6 L644.0 1677.5 L644.5 1669.3 L645.0 1660.9 L645.5 1651.9 L646.0 1642.3 L646.5 1632.1 L647.0 1621.5 L647.5 1610.6 L648.0 1599.5 L648.5 1588.5 L649.0 1577.6 L649.5 1567.1 L650.0 1557.1 L650.6 1547.4 L651.1 1537.9 L651.6 1528.3 L652.1 1518.8 L652.6 1509.3 L653.1 1500.3 L653.6 1491.8 L654.1 1484.0 L654.6 1477.2 L655.1 1471.4 L655.6 1466.4 L656.1 1461.9 L656.6 1457.6 L657.1 1453.5 L657.6 1449.6 L658.1 1446.0 L658.6 1442.8 L659.1 1440.0 L659.6 1437.7 L660.1 1436.0 L660.6 1435.0 L661.1 1434.7 L661.6 1435.5 L662.1 1437.4 L662.6 1440.4 L663.1 1444.3 L663.6 1449.0 L664.1 1454.4 L664.6 1460.1 L665.1 1466.2 L665.6 1472.4 L666.1 1478.5 L666.6 1484.5 L667.1 1490.4 L667.6 1496.6 L668.1 1503.1 L668.6 1510.0 L669.1 1517.2 L669.6 1524.5 L670.1 1532.0 L670.6 1539.5 L671.1 1546.9 L671.6 1554.1 L672.1 1561.1 L672.6 1567.9 L673.1 1574.5 L673.6 1581.1 L674.1 1587.7 L674.6 1594.2 L675.1 1600.7 L675.6 1607.1 L676.1 1613.2 L676.6 1619.1 L677.1 1624.7 L677.6 1629.9 L678.1 1634.7 L678.6 1639.3 L679.1 1643.8 L679.6 1648.3 L680.1 1652.8 L680.6 1657.2 L681.1 1661.3 L681.6 1665.1 L682.1 1668.4 L682.6 1671.2 L683.1 1673.4 L683.6 1674.7 L684.1 1675.2 L684.6 1674.6 L685.1 1673.0 L685.6 1670.4 L686.1 1667.1 L686.6 1663.1 L687.1 1658.7 L687.6 1654.0 L688.1 1649.2 L688.6 1644.5 L689.1 1640.0 L689.6 1635.8 L690.1 1631.8 L690.6 1627.8 L691.1 1623.6 L691.6 1619.2 L692.1 1614.7 L692.6 1610.2 L693.1 1605.8 L693.6 1601.7 L694.1 1597.9 L694.6 1594.6 L695.1 1591.8 L695.6 1589.7 L696.1 1588.3 L696.6 1587.8 L697.1 1587.9 L697.6 1588.4 L698.1 1589.4 L698.6 1590.6 L699.1 1592.0 L699.6 1593.5 L700.1 1595.1 L700.6 1596.6 L701.1 1598.1 L701.6 1599.6 L702.1 1601.1 L702.6 1602.8 L703.1 1604.6 L703.6 1606.4 L704.1 1608.2 L704.6 1609.7 L705.1 1610.9 L705.6 1611.7 L706.1 1611.8 L706.6 1610.9 L707.1 1608.6 L707.6 1605.0 L708.1 1600.3 L708.6 1594.8 L709.1 1588.9 L709.6 1582.8 L710.1 1576.3 L710.6 1568.6 L711.1 1559.7 L711.6 1550.3 L712.1 1541.5 L712.6 1534.8 L713.1 1530.9 L713.6 1529.6 L714.1 1530.1 L714.6 1531.3 L715.1 1533.1 L715.6 1535.3 L716.1 1537.8 L716.6 1540.5 L717.1 1543.3 L717.6 1546.2 L718.1 1549.0 L718.6 1551.7 L719.1 1554.2 L719.6 1556.7 L720.1 1559.2 L720.6 1561.7 L721.1 1564.3 L721.6 1566.9 L722.1 1569.4 L722.6 1571.8 L723.1 1574.1 L723.6 1576.2 L724.1 1578.2 L724.6 1580.1 L725.1 1581.9 L725.6 1583.8 L726.1 1585.6 L726.6 1587.1 L727.1 1588.4 L727.6 1589.4 L728.1 1589.8 L728.6 1589.1 L729.1 1586.8 L729.6 1582.6 L730.1 1577.0 L730.6 1570.5 L731.1 1563.6 L731.6 1557.0 L732.1 1550.9 L732.6 1545.1 L733.1 1539.4 L733.6 1533.4 L734.1 1527.3 L734.6 1521.3 L735.1 1515.7 L735.6 1510.7 L736.1 1506.5 L736.6 1503.5 L737.1 1501.8 L737.6 1501.6 L738.1 1502.9 L738.6 1505.6 L739.1 1509.6 L739.6 1514.5 L740.1 1520.0 L740.6 1525.9 L741.1 1532.0 L741.6 1538.0 L742.1 1543.6 L742.6 1548.8 L743.1 1553.6 L743.6 1558.2 L744.1 1562.8 L744.6 1567.4 L745.1 1572.0 L745.6 1576.6 L746.1 1581.2 L746.6 1585.9 L747.1 1590.6 L747.6 1595.4 L748.1 1600.3 L748.6 1605.4 L749.1 1610.7 L749.6 1616.3 L750.1 1621.9 L750.6 1627.6 L751.1 1633.1 L751.6 1638.4 L752.1 1643.4 L752.6 1647.9 L753.1 1652.0 L753.6 1655.5 L754.1 1658.6 L754.6 1661.6 L755.1 1664.4 L755.6 1667.0 L756.1 1669.3 L756.6 1671.0 L757.1 1672.1 L757.6 1672.3 L758.1 1671.5 L758.6 1669.8 L759.1 1667.1 L759.6 1663.9 L760.1 1660.4 L760.6 1656.8 L761.1 1653.4 L761.6 1650.4 L762.1 1648.1 L762.6 1646.4 L763.1 1645.1 L763.6 1643.9 L764.1 1642.7 L764.6 1641.7 L765.1 1640.7 L765.6 1639.9 L766.1 1639.3 L766.6 1638.8 L767.1 1638.5 L767.6 1638.4 L768.1 1638.5 L768.6 1638.7 L769.1 1639.1 L769.6 1639.5 L770.1 1640.0 L770.6 1640.6 L771.1 1641.1 L771.6 1641.6 L772.1 1642.1 L772.6 1642.5 L773.1 1642.8 L773.6 1642.9 L774.1 1642.7 L774.6 1641.9 L775.1 1640.6 L775.6 1638.7 L776.1 1636.4 L776.6 1633.7 L777.1 1630.9 L777.6 1628.0 L778.1 1625.1 L778.6 1622.4 L779.1 1619.7 L779.6 1616.9 L780.1 1614.1 L780.6 1611.1 L781.1 1608.1 L781.6 1604.9 L782.1 1601.7 L782.6 1598.3 L783.1 1594.9 L783.6 1591.4 L784.1 1587.8 L784.6 1584.1 L785.1 1580.3 L785.6 1576.2 L786.1 1572.1 L786.6 1567.8 L787.1 1563.4 L787.6 1558.8 L788.1 1554.2 L788.6 1549.1 L789.1 1543.4 L789.6 1537.2 L790.1 1530.8 L790.6 1524.6 L791.1 1519.1 L791.6 1514.5 L792.1 1511.4 L792.6 1510.0 L793.1 1510.2 L793.6 1511.7 L794.1 1514.3 L794.6 1517.8 L795.1 1521.9 L795.6 1526.5 L796.1 1531.4 L796.6 1536.5 L797.1 1541.6 L797.6 1546.6 L798.1 1551.5 L798.6 1556.8 L799.1 1562.4 L799.6 1568.3 L800.1 1574.4 L800.6 1580.5 L801.1 1586.5 L801.6 1592.2 L802.1 1597.4 L802.6 1602.2 L803.1 1606.8 L803.6 1611.3 L804.1 1615.8 L804.7 1620.2 L805.2 1624.3 L805.7 1628.0 L806.2 1631.0 L806.7 1633.3 L807.2 1634.5 L807.7 1634.7 L808.2 1633.8 L808.7 1631.7 L809.2 1628.8 L809.7 1625.2 L810.2 1621.1 L810.7 1616.8 L811.2 1612.3 L811.7 1608.0 L812.2 1603.9 L812.7 1599.8 L813.2 1595.4 L813.7 1590.6 L814.2 1585.6 L814.7 1580.4 L815.2 1575.3 L815.7 1570.3 L816.2 1565.7 L816.7 1561.6 L817.2 1558.2 L817.7 1555.6 L818.2 1554.0 L818.7 1553.4 L819.2 1553.9 L819.7 1555.3 L820.2 1557.6 L820.7 1560.6 L821.2 1564.2 L821.7 1568.4 L822.2 1572.9 L822.7 1577.7 L823.2 1582.7 L823.7 1587.8 L824.2 1592.9 L824.7 1597.9 L825.2 1603.2 L825.7 1608.8 L826.2 1615.0 L826.7 1621.6 L827.2 1628.4 L827.7 1635.3 L828.2 1642.2 L828.7 1648.9 L829.2 1655.3 L829.7 1661.6 L830.2 1667.9 L830.7 1674.6 L831.2 1681.4 L831.7 1688.0 L832.2 1694.0 L832.7 1699.1 L833.2 1702.8 L833.7 1705.1 L834.2 1705.6 L834.7 1704.8 L835.2 1702.8 L835.7 1700.0 L836.2 1696.6 L836.7 1692.6 L837.2 1688.4 L837.7 1684.0 L838.2 1679.8 L838.7 1675.7 L839.2 1672.0 L839.7 1668.5 L840.2 1665.2 L840.7 1661.8 L841.2 1658.5 L841.7 1655.1 L842.2 1651.8 L842.7 1648.4 L843.2 1645.0 L843.7 1641.6 L844.2 1638.1 L844.7 1634.6 L845.2 1631.0 L845.7 1627.3 L846.2 1623.7 L846.7 1619.9 L847.2 1616.2 L847.7 1612.3 L848.2 1608.5 L848.7 1604.6 L849.2 1600.6 L849.7 1596.5 L850.2 1592.4 L850.7 1588.1 L851.2 1583.8 L851.7 1579.1 L852.2 1573.9 L852.7 1568.1 L853.2 1561.8 L853.7 1555.3 L854.2 1549.0 L854.7 1543.3 L855.2 1538.4 L855.7 1534.9 L856.2 1532.8 L856.7 1532.1 L857.2 1532.2 L857.7 1532.6 L858.2 1533.3 L858.7 1534.3 L859.2 1535.4 L859.7 1536.7 L860.2 1538.1 L860.7 1539.7 L861.2 1541.4 L861.7 1543.2 L862.2 1545.1 L862.7 1547.1 L863.2 1549.3 L863.7 1551.9 L864.2 1555.1 L864.7 1558.9 L865.2 1563.2 L865.7 1567.9 L866.2 1573.0 L866.7 1578.3 L867.2 1583.8 L867.7 1589.3 L868.2 1594.8 L868.7 1600.3 L869.2 1605.9 L869.7 1611.7 L870.2 1618.0 L870.7 1624.7 L871.2 1631.5 L871.7 1638.2 L872.2 1644.9 L872.7 1651.1 L873.2 1656.9 L873.7 1662.0 L874.2 1666.2 L874.7 1669.7 L875.2 1672.7 L875.7 1675.4 L876.2 1678.0 L876.7 1680.5 L877.2 1683.0 L877.7 1685.4 L878.2 1687.6 L878.7 1689.7 L879.2 1691.7 L879.7 1693.6 L880.2 1695.3 L880.7 1696.9 L881.2 1698.3 L881.7 1699.5 L882.2 1700.5 L882.7 1701.3 L883.2 1701.9 L883.7 1702.3 L884.2 1702.4 L884.7 1702.3 L885.2 1701.9 L885.7 1701.2 L886.2 1700.2 L886.7 1698.9 L887.2 1697.4 L887.7 1695.7 L888.2 1693.7 L888.7 1691.6 L889.2 1689.2 L889.7 1686.7 L890.2 1684.0 L890.7 1681.0 L891.2 1677.2 L891.7 1672.0 L892.2 1665.3 L892.7 1657.2 L893.2 1648.5 L893.7 1639.8 L894.2 1631.5 L894.7 1624.2 L895.2 1617.6 L895.7 1611.6 L896.2 1605.7 L896.7 1600.0 L897.2 1594.5 L897.7 1589.2 L898.2 1584.2 L898.7 1579.4 L899.2 1575.0 L899.7 1570.9 L900.2 1567.2 L900.7 1563.8 L901.2 1560.8 L901.7 1558.1 L902.2 1555.5 L902.7 1553.1 L903.2 1550.9 L903.7 1548.8 L904.2 1546.7 L904.7 1544.7 L905.2 1542.7 L905.7 1540.6 L906.2 1538.5 L906.7 1536.4 L907.2 1534.0 L907.7 1531.4 L908.2 1528.6 L908.7 1525.5 L909.2 1522.2 L909.7 1519.0 L910.2 1515.8 L910.7 1512.8 L911.2 1510.2 L911.7 1508.0 L912.2 1506.4 L912.7 1505.5 L913.2 1505.6 L913.7 1507.0 L914.2 1509.6 L914.7 1513.4 L915.2 1518.0 L915.7 1523.2 L916.2 1528.6 L916.7 1534.0 L917.2 1539.1 L917.7 1543.6 L918.2 1547.7 L918.7 1551.5 L919.2 1555.1 L919.7 1558.7 L920.2 1562.2 L920.7 1565.6 L921.2 1569.0 L921.7 1572.5 L922.2 1575.9 L922.7 1579.4 L923.2 1583.0 L923.7 1586.6 L924.2 1590.4 L924.7 1594.3 L925.2 1598.4 L925.7 1602.6 L926.2 1606.9 L926.7 1611.4 L927.2 1615.9 L927.7 1620.5 L928.2 1625.1 L928.7 1629.7 L929.2 1634.3 L929.7 1638.8 L930.2 1643.3 L930.7 1647.7 L931.2 1651.9 L931.7 1656.0 L932.2 1660.1 L932.7 1664.1 L933.2 1668.3 L933.7 1672.6 L934.2 1677.1 L934.7 1681.6 L935.2 1686.0 L935.7 1690.3 L936.2 1694.5 L936.7 1698.3 L937.2 1701.8 L937.7 1704.9 L938.2 1707.6 L938.7 1709.6 L939.2 1711.0 L939.7 1711.7 L940.2 1711.5 L940.7 1710.4 L941.2 1708.3 L941.7 1705.5 L942.2 1702.0 L942.7 1698.0 L943.2 1693.7 L943.7 1689.1 L944.2 1684.3 L944.7 1679.2 L945.2 1673.3 L945.7 1666.3 L946.2 1658.4 L946.7 1650.1 L947.2 1642.2 L947.7 1635.1 L948.2 1629.5 L948.7 1625.3 L949.2 1622.0 L949.7 1619.2 L950.2 1616.6 L950.7 1614.2 L951.2 1611.9 L951.7 1609.9 L952.2 1608.0 L952.7 1606.3 L953.2 1604.9 L953.7 1603.6 L954.2 1602.5 L954.7 1601.7 L955.2 1601.0 L955.7 1600.5 L956.2 1600.2 L956.7 1599.9 L957.2 1599.6 L957.7 1599.2 L958.2 1598.3 L958.8 1596.6 L959.3 1593.6 L959.8 1589.6 L960.3 1584.8 L960.8 1579.5 L961.3 1574.1 L961.8 1568.8 L962.3 1564.0 L962.8 1560.0 L963.3 1557.2 L963.8 1555.6 L964.3 1555.4 L964.8 1556.1 L965.3 1557.6 L965.8 1559.6 L966.3 1562.1 L966.8 1564.9 L967.3 1568.0 L967.8 1571.3 L968.3 1574.5 L968.8 1577.8 L969.3 1580.9 L969.8 1584.0 L970.3 1587.2 L970.8 1590.8 L971.3 1594.6 L971.8 1598.5 L972.3 1602.2 L972.8 1605.6 L973.3 1608.5 L973.8 1610.5 L974.3 1611.7 L974.8 1611.9 L975.3 1611.3 L975.8 1610.1 L976.3 1608.4 L976.8 1606.3 L977.3 1603.9 L977.8 1601.2 L978.3 1598.4 L978.8 1595.6 L979.3 1592.7 L979.8 1590.0 L980.3 1587.3 L980.8 1584.6 L981.3 1581.5 L981.8 1578.1 L982.3 1574.6 L982.8 1571.1 L983.3 1567.7 L983.8 1564.5 L984.3 1561.7 L984.8 1559.4 L985.3 1557.8 L985.8 1556.9 L986.3 1557.0 L986.8 1558.0 L987.3 1559.9 L987.8 1562.7 L988.3 1566.0 L988.8 1569.9 L989.3 1574.1 L989.8 1578.5 L990.3 1582.9 L990.8 1587.2 L991.3 1591.2 L991.8 1595.0 L992.3 1598.7 L992.8 1602.7 L993.3 1606.8 L993.8 1611.1 L994.3 1615.6 L994.8 1620.0 L995.3 1624.4 L995.8 1628.6 L996.3 1632.6 L996.8 1636.2 L997.3 1639.5 L997.8 1642.2 L998.3 1644.3 L998.8 1645.8 L999.3 1646.5 L999.8 1646.4 L1000.3 1645.7 L1000.8 1644.4 L1001.3 1642.6 L1001.8 1640.4 L1002.3 1637.7 L1002.8 1634.8 L1003.3 1631.6 L1003.8 1628.3 L1004.3 1624.9 L1004.8 1621.5 L1005.3 1618.1 L1005.8 1614.9 L1006.3 1611.6 L1006.8 1608.0 L1007.3 1604.1 L1007.8 1599.8 L1008.3 1595.2 L1008.8 1590.5 L1009.3 1585.8 L1009.8 1581.3 L1010.3 1577.0 L1010.8 1573.2 L1011.3 1569.9 L1011.8 1567.4 L1012.3 1565.7 L1012.8 1564.8 L1013.3 1564.8 L1013.8 1565.4 L1014.3 1566.4 L1014.8 1567.8 L1015.3 1569.4 L1015.8 1571.3 L1016.3 1573.4 L1016.8 1575.7 L1017.3 1578.6 L1017.8 1582.4 L1018.3 1587.0 L1018.8 1592.2 L1019.3 1597.5 L1019.8 1602.8 L1020.3 1607.6 L1020.8 1611.7 L1021.3 1615.0 L1021.8 1617.9 L1022.3 1620.5 L1022.8 1622.9 L1023.3 1625.1 L1023.8 1627.1 L1024.3 1629.0 L1024.8 1630.6 L1025.3 1632.0 L1025.8 1633.2 L1026.3 1634.1 L1026.8 1635.0 L1027.3 1635.9 L1027.8 1636.7 L1028.3 1637.4 L1028.8 1638.0 L1029.3 1638.5 L1029.8 1638.9 L1030.3 1639.1 L1030.8 1639.1 L1031.3 1638.8 L1031.8 1638.2 L1032.3 1637.4 L1032.8 1636.3 L1033.3 1635.1 L1033.8 1633.8 L1034.3 1632.5 L1034.8 1631.3 L1035.3 1630.1 L1035.8 1629.1 L1036.3 1628.2 L1036.8 1627.4 L1037.3 1626.6 L1037.8 1625.8 L1038.3 1625.1 L1038.8 1624.3 L1039.3 1623.6 L1039.8 1622.8 L1040.3 1622.1 L1040.8 1621.3 L1041.3 1620.5 L1041.8 1619.6 L1042.3 1618.7 L1042.8 1617.8 L1043.3 1616.7 L1043.8 1615.6 L1044.3 1614.4 L1044.8 1613.1 L1045.3 1611.4 L1045.8 1609.3 L1046.3 1606.5 L1046.8 1603.3 L1047.3 1599.9 L1047.8 1596.5 L1048.3 1593.2 L1048.8 1590.3 L1049.3 1588.0 L1049.8 1586.6 L1050.3 1586.3 L1050.8 1587.5 L1051.3 1589.9 L1051.8 1592.8 L1052.3 1595.1 L1052.8 1596.1 L1053.3 1595.4 L1053.8 1593.3 L1054.3 1590.4 L1054.8 1587.2 L1055.3 1583.9 L1055.8 1580.8 L1056.3 1577.7 L1056.8 1574.6 L1057.3 1571.7 L1057.8 1569.4 L1058.3 1568.2 L1058.8 1568.3 L1059.3 1569.9 L1059.8 1572.9 L1060.3 1577.0 L1060.8 1582.0 L1061.3 1587.5 L1061.8 1593.3 L1062.3 1599.2 L1062.8 1604.8 L1063.3 1609.9 L1063.8 1614.3 L1064.3 1617.9 L1064.8 1621.0 L1065.3 1623.9 L1065.8 1626.7 L1066.3 1629.5 L1066.8 1632.2 L1067.3 1634.8 L1067.8 1637.2 L1068.3 1639.6 L1068.8 1641.7 L1069.3 1643.6 L1069.8 1645.2 L1070.3 1646.6 L1070.8 1647.6 L1071.3 1648.3 L1071.8 1648.5 L1072.3 1648.1 L1072.8 1646.8 L1073.3 1644.6 L1073.8 1641.5 L1074.3 1637.9 L1074.8 1633.6 L1075.3 1629.1 L1075.8 1624.2 L1076.3 1619.3 L1076.8 1614.5 L1077.3 1609.8 L1077.8 1605.5 L1078.3 1601.7 L1078.8 1598.1 L1079.3 1594.7 L1079.8 1591.3 L1080.3 1588.2 L1080.8 1585.8 L1081.3 1584.4 L1081.8 1584.1 L1082.3 1584.7 L1082.8 1586.0 L1083.3 1587.7 L1083.8 1589.8 L1084.3 1592.0 L1084.8 1594.3 L1085.3 1596.7 L1085.8 1599.1 L1086.3 1601.9 L1086.8 1605.1 L1087.3 1608.5 L1087.8 1612.1 L1088.3 1615.7 L1088.8 1619.2 L1089.3 1622.5 L1089.8 1625.4 L1090.3 1627.9 L1090.8 1629.7 L1091.3 1630.8 L1091.8 1631.2 L1092.3 1630.9 L1092.8 1630.1 L1093.3 1628.9 L1093.8 1627.2 L1094.3 1625.2 L1094.8 1622.8 L1095.3 1620.2 L1095.8 1617.3 L1096.3 1614.2 L1096.8 1611.0 L1097.3 1607.7 L1097.8 1604.4 L1098.3 1601.0 L1098.8 1597.6 L1099.3 1594.3 L1099.8 1590.9 L1100.3 1587.1 L1100.8 1582.8 L1101.3 1578.0 L1101.8 1572.8 L1102.3 1567.6 L1102.8 1562.4 L1103.3 1557.6 L1103.8 1553.3 L1104.3 1549.8 L1104.8 1547.3 L1105.3 1546.0 L1105.8 1545.9 L1106.3 1546.9 L1106.8 1548.9 L1107.3 1551.6 L1107.8 1555.0 L1108.3 1558.8 L1108.8 1562.9 L1109.3 1567.1 L1109.8 1571.2 L1110.3 1575.2 L1110.8 1578.9 L1111.3 1582.3 L1111.8 1585.5 L1112.3 1588.7 L1112.9 1591.8 L1113.4 1594.9 L1113.9 1598.1 L1114.4 1601.4 L1114.9 1604.8 L1115.4 1608.3 L1115.9 1612.0 L1116.4 1615.9 L1116.9 1620.0 L1117.4 1624.6 L1117.9 1629.6 L1118.4 1635.1 L1118.9 1640.9 L1119.4 1647.0 L1119.9 1653.1 L1120.4 1659.2 L1120.9 1665.4 L1121.4 1671.8 L1121.9 1678.8 L1122.4 1686.0 L1122.9 1692.9 L1123.4 1698.6 L1123.9 1702.6 L1124.4 1704.6 L1124.9 1705.2 L1125.4 1705.0 L1125.9 1704.5 L1126.4 1703.8 L1126.9 1703.0 L1127.4 1702.0 L1127.9 1700.8 L1128.4 1699.5 L1128.9 1698.1 L1129.4 1696.6 L1129.9 1695.0 L1130.4 1693.2 L1130.9 1691.4 L1131.4 1689.5 L1131.9 1687.1 L1132.4 1684.0 L1132.9 1680.2 L1133.4 1675.8 L1133.9 1671.0 L1134.4 1665.9 L1134.9 1660.7 L1135.4 1655.7 L1135.9 1650.9 L1136.4 1646.4 L1136.9 1642.2 L1137.4 1638.1 L1137.9 1634.1 L1138.4 1630.2 L1138.9 1626.2 L1139.4 1622.3 L1139.9 1618.3 L1140.4 1614.4 L1140.9 1610.3 L1141.4 1606.2 L1141.9 1601.9 L1142.4 1597.6 L1142.9 1593.3 L1143.4 1588.9 L1143.9 1584.6 L1144.4 1580.3 L1144.9 1576.2 L1145.4 1572.2 L1145.9 1568.3 L1146.4 1564.5 L1146.9 1560.5 L1147.4 1556.3 L1147.9 1552.1 L1148.4 1547.9 L1148.9 1543.9 L1149.4 1540.0 L1149.9 1536.4 L1150.4 1533.2 L1150.9 1530.5 L1151.4 1528.4 L1151.9 1526.9 L1152.4 1526.0 L1152.9 1525.8 L1153.4 1525.9 L1153.9 1526.2 L1154.4 1526.7 L1154.9 1527.3 L1155.4 1528.1 L1155.9 1529.0 L1156.4 1530.1 L1156.9 1531.3 L1157.4 1532.7 L1157.9 1534.2 L1158.4 1535.8 L1158.9 1537.6 L1159.4 1539.5 L1159.9 1541.7 L1160.4 1544.7 L1160.9 1549.2 L1161.4 1555.7 L1161.9 1563.4 L1162.4 1571.5 L1162.9 1579.1 L1163.4 1586.0 L1163.9 1592.3 L1164.4 1598.3 L1164.9 1604.1 L1165.4 1609.6 L1165.9 1614.9 L1166.4 1619.9 L1166.9 1624.6 L1167.4 1628.9 L1167.9 1633.1 L1168.4 1637.0 L1168.9 1640.8 L1169.4 1644.5 L1169.9 1648.0 L1170.4 1651.3 L1170.9 1654.6 L1171.4 1657.8 L1171.9 1660.9 L1172.4 1663.9 L1172.9 1666.9 L1173.4 1669.9 L1173.9 1673.1 L1174.4 1676.3 L1174.9 1679.6 L1175.4 1682.8 L1175.9 1686.1 L1176.4 1689.2 L1176.9 1692.3 L1177.4 1695.2 L1177.9 1697.9 L1178.4 1700.4 L1178.9 1702.6 L1179.4 1704.5 L1179.9 1706.0 L1180.4 1707.1 L1180.9 1707.8 L1181.4 1707.7 L1181.9 1706.5 L1182.4 1703.7 L1182.9 1699.6 L1183.4 1694.5 L1183.9 1688.9 L1184.4 1683.1 L1184.9 1677.6 L1185.4 1672.5 L1185.9 1667.7 L1186.4 1662.9 L1186.9 1658.2 L1187.4 1653.3 L1187.9 1648.2 L1188.4 1642.9 L1188.9 1637.3 L1189.4 1631.1 L1189.9 1624.3 L1190.4 1617.1 L1190.9 1609.8 L1191.4 1602.7 L1191.9 1596.0 L1192.4 1589.6 L1192.9 1583.3 L1193.4 1577.1 L1193.9 1571.2 L1194.4 1565.8 L1194.9 1561.2 L1195.4 1557.5 L1195.9 1554.6 L1196.4 1552.3 L1196.9 1550.2 L1197.4 1548.2 L1197.9 1546.4 L1198.4 1544.6 L1198.9 1542.9 L1199.4 1541.4 L1199.9 1539.9 L1200.4 1538.6 L1200.9 1537.5 L1201.4 1536.4 L1201.9 1535.5 L1202.4 1534.8 L1202.9 1534.2 L1203.4 1533.7 L1203.9 1533.5 L1204.4 1533.4 L1204.9 1533.5 L1205.4 1533.9 L1205.9 1534.5 L1206.4 1535.3 L1206.9 1536.3 L1207.4 1537.4 L1207.9 1538.7 L1208.4 1540.0 L1208.9 1541.4 L1209.4 1542.9 L1209.9 1544.4 L1210.4 1546.0 L1210.9 1547.8 L1211.4 1549.8 L1211.9 1552.1 L1212.4 1554.6 L1212.9 1557.2 L1213.4 1560.0 L1213.9 1562.8 L1214.4 1565.6 L1214.9 1568.4 L1215.4 1571.1 L1215.9 1573.7 L1216.4 1576.3 L1216.9 1578.8 L1217.4 1581.4 L1217.9 1583.9 L1218.4 1586.5 L1218.9 1589.0 L1219.4 1591.6 L1219.9 1594.1 L1220.4 1596.7 L1220.9 1599.2 L1221.4 1601.7 L1221.9 1604.1 L1222.4 1606.6 L1222.9 1609.0 L1223.4 1611.4 L1223.9 1613.9 L1224.4 1616.5 L1224.9 1619.3 L1225.4 1622.2 L1225.9 1625.0 L1226.4 1627.6 L1226.9 1629.8 L1227.4 1631.5 L1227.9 1632.7 L1228.4 1633.0 L1228.9 1632.3 L1229.4 1630.6 L1229.9 1628.2 L1230.4 1625.2 L1230.9 1622.0 L1231.4 1618.9 L1231.9 1616.1 L1232.4 1613.7 L1232.9 1611.5 L1233.4 1609.4 L1233.9 1607.5 L1234.4 1606.0 L1234.9 1605.1 L1235.4 1604.9 L1235.9 1605.0 L1236.4 1605.3 L1236.9 1605.8 L1237.4 1606.3 L1237.9 1607.0 L1238.4 1607.7 L1238.9 1608.6 L1239.4 1609.7 L1239.9 1611.3 L1240.4 1613.2 L1240.9 1615.4 L1241.4 1617.5 L1241.9 1619.5 L1242.4 1621.1 L1242.9 1622.1 L1243.4 1622.4 L1243.9 1621.7 L1244.4 1619.9 L1244.9 1617.2 L1245.4 1613.8 L1245.9 1609.8 L1246.4 1605.6 L1246.9 1601.1 L1247.4 1596.7 L1247.9 1592.0 L1248.4 1586.8 L1248.9 1581.0 L1249.4 1575.0 L1249.9 1569.0 L1250.4 1563.4 L1250.9 1558.3 L1251.4 1553.6 L1251.9 1549.1 L1252.4 1544.5 L1252.9 1540.0 L1253.4 1535.5 L1253.9 1531.1 L1254.4 1526.9 L1254.9 1523.1 L1255.4 1519.5 L1255.9 1516.4 L1256.4 1513.8 L1256.9 1511.7 L1257.4 1510.3 L1257.9 1509.5 L1258.4 1509.3 L1258.9 1509.6 L1259.4 1510.2 L1259.9 1511.1 L1260.4 1512.3 L1260.9 1513.7 L1261.4 1515.3 L1261.9 1517.1 L1262.4 1519.1 L1262.9 1521.3 L1263.4 1523.7 L1263.9 1526.5 L1264.4 1530.1 L1264.9 1535.0 L1265.4 1540.9 L1265.9 1547.5 L1266.5 1554.3 L1267.0 1560.9 L1267.5 1567.2 L1268.0 1573.4 L1268.5 1579.6 L1269.0 1585.8 L1269.5 1592.0 L1270.0 1598.1 L1270.5 1604.1 L1271.0 1610.2 L1271.5 1616.5 L1272.0 1622.8 L1272.5 1629.0 L1273.0 1634.7 L1273.5 1639.6 L1274.0 1643.5 L1274.5 1646.6 L1275.0 1649.2 L1275.5 1651.3 L1276.0 1652.7 L1276.5 1653.3 L1277.0 1653.1 L1277.5 1652.5 L1278.0 1651.5 L1278.5 1650.1 L1279.0 1648.5 L1279.5 1646.7 L1280.0 1644.7 L1280.5 1642.7 L1281.0 1640.5 L1281.5 1638.4 L1282.0 1636.3 L1282.5 1634.2 L1283.0 1632.1 L1283.5 1629.8 L1284.0 1627.4 L1284.5 1624.9 L1285.0 1622.2 L1285.5 1619.5 L1286.0 1616.7 L1286.5 1613.8 L1287.0 1610.9 L1287.5 1607.8 L1288.0 1604.8 L1288.5 1601.6 L1289.0 1598.4 L1289.5 1595.0 L1290.0 1591.2 L1290.5 1587.3 L1291.0 1583.2 L1291.5 1579.1 L1292.0 1575.0 L1292.5 1571.1 L1293.0 1567.5 L1293.5 1564.2 L1294.0 1561.3 L1294.5 1558.7 L1295.0 1556.2 L1295.5 1553.8 L1296.0 1551.3 L1296.5 1548.9 L1297.0 1546.6 L1297.5 1544.3 L1298.0 1542.1 L1298.5 1540.0 L1299.0 1538.1 L1299.5 1536.3 L1300.0 1534.6 L1300.5 1533.2 L1301.0 1531.9 L1301.5 1530.8 L1302.0 1530.0 L1302.5 1529.4 L1303.0 1529.1 L1303.5 1529.1 L1304.0 1529.5 L1304.5 1530.3 L1305.0 1531.4 L1305.5 1532.8 L1306.0 1534.3 L1306.5 1536.0 L1307.0 1537.7 L1307.5 1539.3 L1308.0 1540.9 L1308.5 1542.4 L1309.0 1543.9 L1309.5 1545.3 L1310.0 1546.8 L1310.5 1548.2 L1311.0 1549.7 L1311.5 1551.2 L1312.0 1552.7 L1312.5 1554.2 L1313.0 1555.8 L1313.5 1557.4 L1314.0 1559.0 L1314.5 1560.7 L1315.0 1562.5 L1315.5 1564.3 L1316.0 1566.2 L1316.5 1568.2 L1317.0 1570.3 L1317.5 1572.4 L1318.0 1574.7 L1318.5 1577.1 L1319.0 1579.7 L1319.5 1582.7 L1320.0 1585.9 L1320.5 1589.5 L1321.0 1593.2 L1321.5 1597.1 L1322.0 1600.9 L1322.5 1604.6 L1323.0 1608.2 L1323.5 1611.9 L1324.0 1615.9 L1324.5 1620.1 L1325.0 1624.3 L1325.5 1628.5 L1326.0 1632.4 L1326.5 1636.0 L1327.0 1638.9 L1327.5 1641.2 L1328.0 1642.5 L1328.5 1642.8 L1329.0 1641.8 L1329.5 1639.7 L1330.0 1636.6 L1330.5 1632.6 L1331.0 1628.2 L1331.5 1623.6 L1332.0 1618.9 L1332.5 1614.5 L1333.0 1610.7 L1333.5 1607.4 L1334.0 1604.7 L1334.5 1602.2 L1335.0 1600.0 L1335.5 1598.0 L1336.0 1596.4 L1336.5 1595.2 L1337.0 1594.2 L1337.5 1593.3 L1338.0 1592.5 L1338.5 1591.8 L1339.0 1591.2 L1339.5 1590.7 L1340.0 1590.3 L1340.5 1590.0 L1341.0 1590.0 L1341.5 1590.7 L1342.0 1592.5 L1342.5 1595.8 L1343.0 1600.1 L1343.5 1605.2 L1344.0 1610.6 L1344.5 1615.9 L1345.0 1620.8 L1345.5 1625.6 L1346.0 1630.5 L1346.5 1635.5 L1347.0 1640.6 L1347.5 1645.5 L1348.0 1650.1 L1348.5 1654.1 L1349.0 1657.4 L1349.5 1660.0 L1350.0 1662.0 L1350.5 1663.8 L1351.0 1665.4 L1351.5 1667.0 L1352.0 1668.3 L1352.5 1669.5 L1353.0 1670.5 L1353.5 1671.3 L1354.0 1671.8 L1354.5 1672.0 L1355.0 1671.7 L1355.5 1670.8 L1356.0 1669.2 L1356.5 1667.0 L1357.0 1664.2 L1357.5 1661.2 L1358.0 1657.8 L1358.5 1654.4 L1359.0 1650.9 L1359.5 1647.5 L1360.0 1644.2 L1360.5 1640.9 L1361.0 1637.5 L1361.5 1633.8 L1362.0 1630.1 L1362.5 1626.3 L1363.0 1622.3 L1363.5 1618.4 L1364.0 1614.4 L1364.5 1610.5 L1365.0 1606.6 L1365.5 1602.7 L1366.0 1598.6 L1366.5 1594.4 L1367.0 1590.1 L1367.5 1585.8 L1368.0 1581.7 L1368.5 1577.8 L1369.0 1574.3 L1369.5 1571.2 L1370.0 1568.6 L1370.5 1566.3 L1371.0 1564.2 L1371.5 1562.2 L1372.0 1560.4 L1372.5 1558.9 L1373.0 1557.8 L1373.5 1557.2 L1374.0 1557.1 L1374.5 1557.8 L1375.0 1559.3 L1375.5 1561.5 L1376.0 1564.2 L1376.5 1567.3 L1377.0 1570.7 L1377.5 1574.2 L1378.0 1577.7 L1378.5 1581.0 L1379.0 1584.0 L1379.5 1586.6 L1380.0 1588.8 L1380.5 1590.8 L1381.0 1592.7 L1381.5 1594.5 L1382.0 1596.2 L1382.5 1597.8 L1383.0 1599.4 L1383.5 1600.9 L1384.0 1602.4 L1384.5 1603.9 L1385.0 1605.4 L1385.5 1606.8 L1386.0 1608.4 L1386.5 1609.9 L1387.0 1611.5 L1387.5 1613.2 L1388.0 1614.9 L1388.5 1616.8 L1389.0 1618.8 L1389.5 1620.8 L1390.0 1623.1 L1390.5 1625.6 L1391.0 1628.5 L1391.5 1631.7 L1392.0 1635.2 L1392.5 1639.0 L1393.0 1642.8 L1393.5 1646.6 L1394.0 1650.3 L1394.5 1653.8 L1395.0 1657.0 L1395.5 1659.9 L1396.0 1662.4 L1396.5 1664.8 L1397.0 1667.1 L1397.5 1669.1 L1398.0 1670.7 L1398.5 1671.6 L1399.0 1671.8 L1399.5 1671.3 L1400.0 1670.2 L1400.5 1668.7 L1401.0 1666.7 L1401.5 1664.5 L1402.0 1662.2 L1402.5 1659.8 L1403.0 1657.4 L1403.5 1655.2 L1404.0 1653.0 L1404.5 1651.0 L1405.0 1648.9 L1405.5 1646.8 L1406.0 1644.7 L1406.5 1642.5 L1407.0 1640.3 L1407.5 1638.0 L1408.0 1635.7 L1408.5 1633.3 L1409.0 1630.8 L1409.5 1628.2 L1410.0 1625.5 L1410.5 1622.7 L1411.0 1619.8 L1411.5 1616.7 L1412.0 1613.4 L1412.5 1609.9 L1413.0 1606.2 L1413.5 1602.2 L1414.0 1598.1 L1414.5 1593.9 L1415.0 1589.5 L1415.5 1585.0 L1416.0 1580.4 L1416.5 1575.3 L1417.0 1569.8 L1417.5 1563.8 L1418.0 1557.8 L1418.5 1552.0 L1419.0 1546.9 L1419.5 1542.7 L1420.0 1539.4 L1420.6 1536.7 L1421.1 1534.5 L1421.6 1532.6 L1422.1 1531.2 L1422.6 1530.3 L1423.1 1530.1 L1423.6 1530.4 L1424.1 1531.1 L1424.6 1532.1 L1425.1 1533.4 L1425.6 1535.0 L1426.1 1536.9 L1426.6 1538.9 L1427.1 1541.2 L1427.6 1543.7 L1428.1 1546.5 L1428.6 1550.0 L1429.1 1554.6 L1429.6 1560.5 L1430.1 1567.2 L1430.6 1574.2 L1431.1 1581.3 L1431.6 1588.2 L1432.1 1595.1 L1432.6 1602.1 L1433.1 1609.1 L1433.6 1615.8 L1434.1 1621.9 L1434.6 1627.5 L1435.1 1632.5 L1435.6 1637.1 L1436.1 1641.4 L1436.6 1645.6 L1437.1 1649.6 L1437.6 1653.5 L1438.1 1657.4 L1438.6 1661.3 L1439.1 1665.3 L1439.6 1669.5 L1440.1 1673.9 L1440.6 1678.4 L1441.1 1682.9 L1441.6 1687.3 L1442.1 1691.6 L1442.6 1695.5 L1443.1 1699.1 L1443.6 1702.2 L1444.1 1704.8 L1444.6 1707.2 L1445.1 1709.4 L1445.6 1711.3 L1446.1 1712.7 L1446.6 1713.6 L1447.1 1713.7 L1447.6 1713.0 L1448.1 1711.8 L1448.6 1710.0 L1449.1 1707.7 L1449.6 1705.1 L1450.1 1702.3 L1450.6 1699.3 L1451.1 1696.2 L1451.6 1693.2 L1452.1 1690.3 L1452.6 1687.5 L1453.1 1684.9 L1453.6 1682.3 L1454.1 1679.8 L1454.6 1677.2 L1455.1 1674.6 L1455.6 1672.0 L1456.1 1669.2 L1456.6 1666.4 L1457.1 1663.5 L1457.6 1660.5 L1458.1 1657.3 L1458.6 1654.0 L1459.1 1650.5 L1459.6 1646.6 L1460.1 1642.3 L1460.6 1637.4 L1461.1 1632.3 L1461.6 1627.0 L1462.1 1621.8 L1462.6 1616.9 L1463.1 1612.4 L1463.6 1608.5 L1464.1 1604.9 L1464.6 1601.4 L1465.1 1597.9 L1465.6 1594.4 L1466.1 1591.0 L1466.6 1587.8 L1467.1 1584.7 L1467.6 1581.9 L1468.1 1579.3 L1468.6 1577.0 L1469.1 1575.1 L1469.6 1573.6 L1470.1 1572.6 L1470.6 1572.1 L1471.1 1572.2 L1471.6 1573.0 L1472.1 1574.6 L1472.6 1576.8 L1473.1 1579.6 L1473.6 1582.9 L1474.1 1586.4 L1474.6 1590.1 L1475.1 1593.9 L1475.6 1597.7 L1476.1 1601.4 L1476.6 1604.7 L1477.1 1607.8 L1477.6 1610.5 L1478.1 1613.1 L1478.6 1615.7 L1479.1 1618.0 L1479.6 1620.0 L1480.1 1621.2 L1480.6 1621.6 L1481.1 1621.3 L1481.6 1620.6 L1482.1 1619.5 L1482.6 1618.2 L1483.1 1616.6 L1483.6 1615.0 L1484.1 1613.3 L1484.6 1611.7 L1485.1 1610.2 L1485.6 1608.9 L1486.1 1607.8 L1486.6 1607.1 L1487.1 1606.8 L1487.6 1606.9 L1488.1 1607.4 L1488.6 1608.3 L1489.1 1609.4 L1489.6 1610.7 L1490.1 1612.1 L1490.6 1613.7 L1491.1 1615.3 L1491.6 1617.0 L1492.1 1618.7 L1492.6 1620.7 L1493.1 1623.0 L1493.6 1625.7 L1494.1 1628.6 L1494.6 1631.7 L1495.1 1634.8 L1495.6 1638.0 L1496.1 1641.1 L1496.6 1644.1 L1497.1 1646.9 L1497.6 1649.3 L1498.1 1651.3 L1498.6 1652.9 L1499.1 1653.9 L1499.6 1654.3 L1500.1 1654.1 L1500.6 1653.5 L1501.1 1652.5 L1501.6 1651.1 L1502.1 1649.6 L1502.6 1647.8 L1503.1 1646.1 L1503.6 1644.3 L1504.1 1642.6 L1504.6 1641.2 L1505.1 1639.9 L1505.6 1639.1 L1506.1 1638.6 L1506.6 1638.6 L1507.1 1639.2 L1507.6 1640.2 L1508.1 1641.6 L1508.6 1643.1 L1509.1 1644.7 L1509.6 1646.1 L1510.1 1647.3 L1510.6 1648.2 L1511.1 1648.6 L1511.6 1648.6 L1512.1 1648.3 L1512.6 1647.8 L1513.1 1647.1 L1513.6 1646.2 L1514.1 1645.1 L1514.6 1643.8 L1515.1 1642.4 L1515.6 1640.9 L1516.1 1639.2 L1516.6 1637.4 L1517.1 1635.5 L1517.6 1633.5 L1518.1 1631.4 L1518.6 1629.2 L1519.1 1627.0 L1519.6 1624.6 L1520.1 1621.8 L1520.6 1618.5 L1521.1 1614.5 L1521.6 1609.9 L1522.1 1604.9 L1522.6 1599.7 L1523.1 1594.5 L1523.6 1589.4 L1524.1 1584.5 L1524.6 1579.6 L1525.1 1574.6 L1525.6 1569.4 L1526.1 1564.3 L1526.6 1559.3 L1527.1 1554.7 L1527.6 1550.6 L1528.1 1547.2 L1528.6 1544.4 L1529.1 1542.0 L1529.6 1539.8 L1530.1 1538.0 L1530.6 1536.7 L1531.1 1536.0 L1531.6 1536.0 L1532.1 1536.7 L1532.6 1537.9 L1533.1 1539.5 L1533.6 1541.6 L1534.1 1543.9 L1534.6 1546.6 L1535.1 1549.3 L1535.6 1552.2 L1536.1 1555.1 L1536.6 1558.0 L1537.1 1560.9 L1537.6 1563.7 L1538.1 1566.8 L1538.6 1570.0 L1539.1 1573.4 L1539.6 1577.0 L1540.1 1580.6 L1540.6 1584.2 L1541.1 1586.9" fill="none" stroke="#058205" stroke-width="5.4" stroke-linejoin="round" stroke-linecap="butt" stroke-dasharray="19 20.5" clip-path="url(#cld)"/>
<line x1="111.7" y1="1436.7" x2="1541.2" y2="1436.7" stroke="#6e6e6e" stroke-width="1"/>
<line x1="111.7" y1="1769.3" x2="1541.2" y2="1769.3" stroke="#6e6e6e" stroke-width="1"/>
<line x1="111.7" y1="1436.7" x2="111.7" y2="1769.3" stroke="#6e6e6e" stroke-width="1"/>
<line x1="1541.2" y1="1436.7" x2="1541.2" y2="1769.3" stroke="#6e6e6e" stroke-width="1"/>
<line x1="254.7" y1="1769.3" x2="254.7" y2="1755.1" stroke="#6e6e6e" stroke-width="1"/>
<line x1="254.7" y1="1436.7" x2="254.7" y2="1450.9" stroke="#6e6e6e" stroke-width="1"/>
<line x1="397.6" y1="1769.3" x2="397.6" y2="1755.1" stroke="#6e6e6e" stroke-width="1"/>
<line x1="397.6" y1="1436.7" x2="397.6" y2="1450.9" stroke="#6e6e6e" stroke-width="1"/>
<line x1="540.5" y1="1769.3" x2="540.5" y2="1755.1" stroke="#6e6e6e" stroke-width="1"/>
<line x1="540.5" y1="1436.7" x2="540.5" y2="1450.9" stroke="#6e6e6e" stroke-width="1"/>
<line x1="683.5" y1="1769.3" x2="683.5" y2="1755.1" stroke="#6e6e6e" stroke-width="1"/>
<line x1="683.5" y1="1436.7" x2="683.5" y2="1450.9" stroke="#6e6e6e" stroke-width="1"/>
<line x1="826.5" y1="1769.3" x2="826.5" y2="1755.1" stroke="#6e6e6e" stroke-width="1"/>
<line x1="826.5" y1="1436.7" x2="826.5" y2="1450.9" stroke="#6e6e6e" stroke-width="1"/>
<line x1="969.4" y1="1769.3" x2="969.4" y2="1755.1" stroke="#6e6e6e" stroke-width="1"/>
<line x1="969.4" y1="1436.7" x2="969.4" y2="1450.9" stroke="#6e6e6e" stroke-width="1"/>
<line x1="1112.3" y1="1769.3" x2="1112.3" y2="1755.1" stroke="#6e6e6e" stroke-width="1"/>
<line x1="1112.3" y1="1436.7" x2="1112.3" y2="1450.9" stroke="#6e6e6e" stroke-width="1"/>
<line x1="1255.3" y1="1769.3" x2="1255.3" y2="1755.1" stroke="#6e6e6e" stroke-width="1"/>
<line x1="1255.3" y1="1436.7" x2="1255.3" y2="1450.9" stroke="#6e6e6e" stroke-width="1"/>
<line x1="1398.2" y1="1769.3" x2="1398.2" y2="1755.1" stroke="#6e6e6e" stroke-width="1"/>
<line x1="1398.2" y1="1436.7" x2="1398.2" y2="1450.9" stroke="#6e6e6e" stroke-width="1"/>
<line x1="111.7" y1="1723.6" x2="125.9" y2="1723.6" stroke="#6e6e6e" stroke-width="1"/>
<line x1="111.7" y1="1664.2" x2="125.9" y2="1664.2" stroke="#6e6e6e" stroke-width="1"/>
<line x1="111.7" y1="1604.8" x2="125.9" y2="1604.8" stroke="#6e6e6e" stroke-width="1"/>
<line x1="111.7" y1="1545.4" x2="125.9" y2="1545.4" stroke="#6e6e6e" stroke-width="1"/>
<line x1="111.7" y1="1486.0" x2="125.9" y2="1486.0" stroke="#6e6e6e" stroke-width="1"/>
<line x1="1541.2" y1="1723.6" x2="1527.0" y2="1723.6" stroke="#6e6e6e" stroke-width="1"/>
<line x1="1541.2" y1="1664.2" x2="1527.0" y2="1664.2" stroke="#6e6e6e" stroke-width="1"/>
<line x1="1541.2" y1="1604.8" x2="1527.0" y2="1604.8" stroke="#6e6e6e" stroke-width="1"/>
<line x1="1541.2" y1="1545.4" x2="1527.0" y2="1545.4" stroke="#6e6e6e" stroke-width="1"/>
<line x1="1541.2" y1="1486.0" x2="1527.0" y2="1486.0" stroke="#6e6e6e" stroke-width="1"/>
<text x="111.7" y="1806.4" text-anchor="middle" font-size="30.7" fill="#262626" font-family="Liberation Sans, Arial, sans-serif" font-weight="bold">200</text>
<text x="254.7" y="1806.4" text-anchor="middle" font-size="30.7" fill="#262626" font-family="Liberation Sans, Arial, sans-serif" font-weight="bold">400</text>
<text x="397.6" y="1806.4" text-anchor="middle" font-size="30.7" fill="#262626" font-family="Liberation Sans, Arial, sans-serif" font-weight="bold">600</text>
<text x="540.5" y="1806.4" text-anchor="middle" font-size="30.7" fill="#262626" font-family="Liberation Sans, Arial, sans-serif" font-weight="bold">800</text>
<text x="683.5" y="1806.4" text-anchor="middle" font-size="30.7" fill="#262626" font-family="Liberation Sans, Arial, sans-serif" font-weight="bold">1000</text>
<text x="826.5" y="1806.4" text-anchor="middle" font-size="30.7" fill="#262626" font-family="Liberation Sans, Arial, sans-serif" font-weight="bold">1200</text>
<text x="969.4" y="1806.4" text-anchor="middle" font-size="30.7" fill="#262626" font-family="Liberation Sans, Arial, sans-serif" font-weight="bold">1400</text>
<text x="1112.3" y="1806.4" text-anchor="middle" font-size="30.7" fill="#262626" font-family="Liberation Sans, Arial, sans-serif" font-weight="bold">1600</text>
<text x="1255.3" y="1806.4" text-anchor="middle" font-size="30.7" fill="#262626" font-family="Liberation Sans, Arial, sans-serif" font-weight="bold">1800</text>
<text x="1398.2" y="1806.4" text-anchor="middle" font-size="30.7" fill="#262626" font-family="Liberation Sans, Arial, sans-serif" font-weight="bold">2000</text>
<text x="1541.2" y="1806.4" text-anchor="middle" font-size="30.7" fill="#262626" font-family="Liberation Sans, Arial, sans-serif" font-weight="bold">2200</text>
<text x="98.8" y="1734.5" text-anchor="end" font-size="30.7" fill="#262626" font-family="Liberation Sans, Arial, sans-serif" font-weight="bold">-1</text>
<text x="98.8" y="1675.1" text-anchor="end" font-size="30.7" fill="#262626" font-family="Liberation Sans, Arial, sans-serif" font-weight="bold">-0.5</text>
<text x="98.8" y="1615.7" text-anchor="end" font-size="30.7" fill="#262626" font-family="Liberation Sans, Arial, sans-serif" font-weight="bold">0</text>
<text x="98.8" y="1556.3" text-anchor="end" font-size="30.7" fill="#262626" font-family="Liberation Sans, Arial, sans-serif" font-weight="bold">0.5</text>
<text x="98.8" y="1496.9" text-anchor="end" font-size="30.7" fill="#262626" font-family="Liberation Sans, Arial, sans-serif" font-weight="bold">1</text>
<text transform="translate(38.8,1604) rotate(-90)" text-anchor="middle" font-size="33" fill="#262626" font-family="Liberation Sans, Arial, sans-serif" font-weight="bold">elevation (m)</text>
<text x="827" y="1844" text-anchor="middle" font-size="33" fill="#262626" font-family="Liberation Sans, Arial, sans-serif" font-weight="bold">range (m)</text>
<text x="93" y="1862.7" font-size="47" fill="#262626" font-family="Liberation Sans, Arial, sans-serif" font-weight="bold">d)</text>
<rect x="1256.7" y="1355.4" width="338.9" height="100.1" fill="#fff" stroke="#8c8c8c" stroke-width="1"/>
<line x1="1260.9" y1="1373.4" x2="1299.2" y2="1373.4" stroke="#0072BD" stroke-width="3.9"/>
<text x="1302.7" y="1383.0" font-size="27.5" fill="#000" font-family="Liberation Sans, Arial, sans-serif" font-weight="bold">original</text>
<line x1="1260.9" y1="1405.8" x2="1299.2" y2="1405.8" stroke="#F01010" stroke-width="4.0" stroke-dasharray="3.9 3.35"/>
<text x="1302.7" y="1415.4" font-size="27.5" fill="#000" font-family="Liberation Sans, Arial, sans-serif" font-weight="bold">reconstructed CWTFT</text>
<line x1="1260.9" y1="1438.2" x2="1299.2" y2="1438.2" stroke="#058205" stroke-width="6" stroke-dasharray="19.6 30"/>
<text x="1302.7" y="1447.8" font-size="27.5" fill="#000" font-family="Liberation Sans, Arial, sans-serif" font-weight="bold">reconstructed FFT</text>
</svg>
</body></html>
